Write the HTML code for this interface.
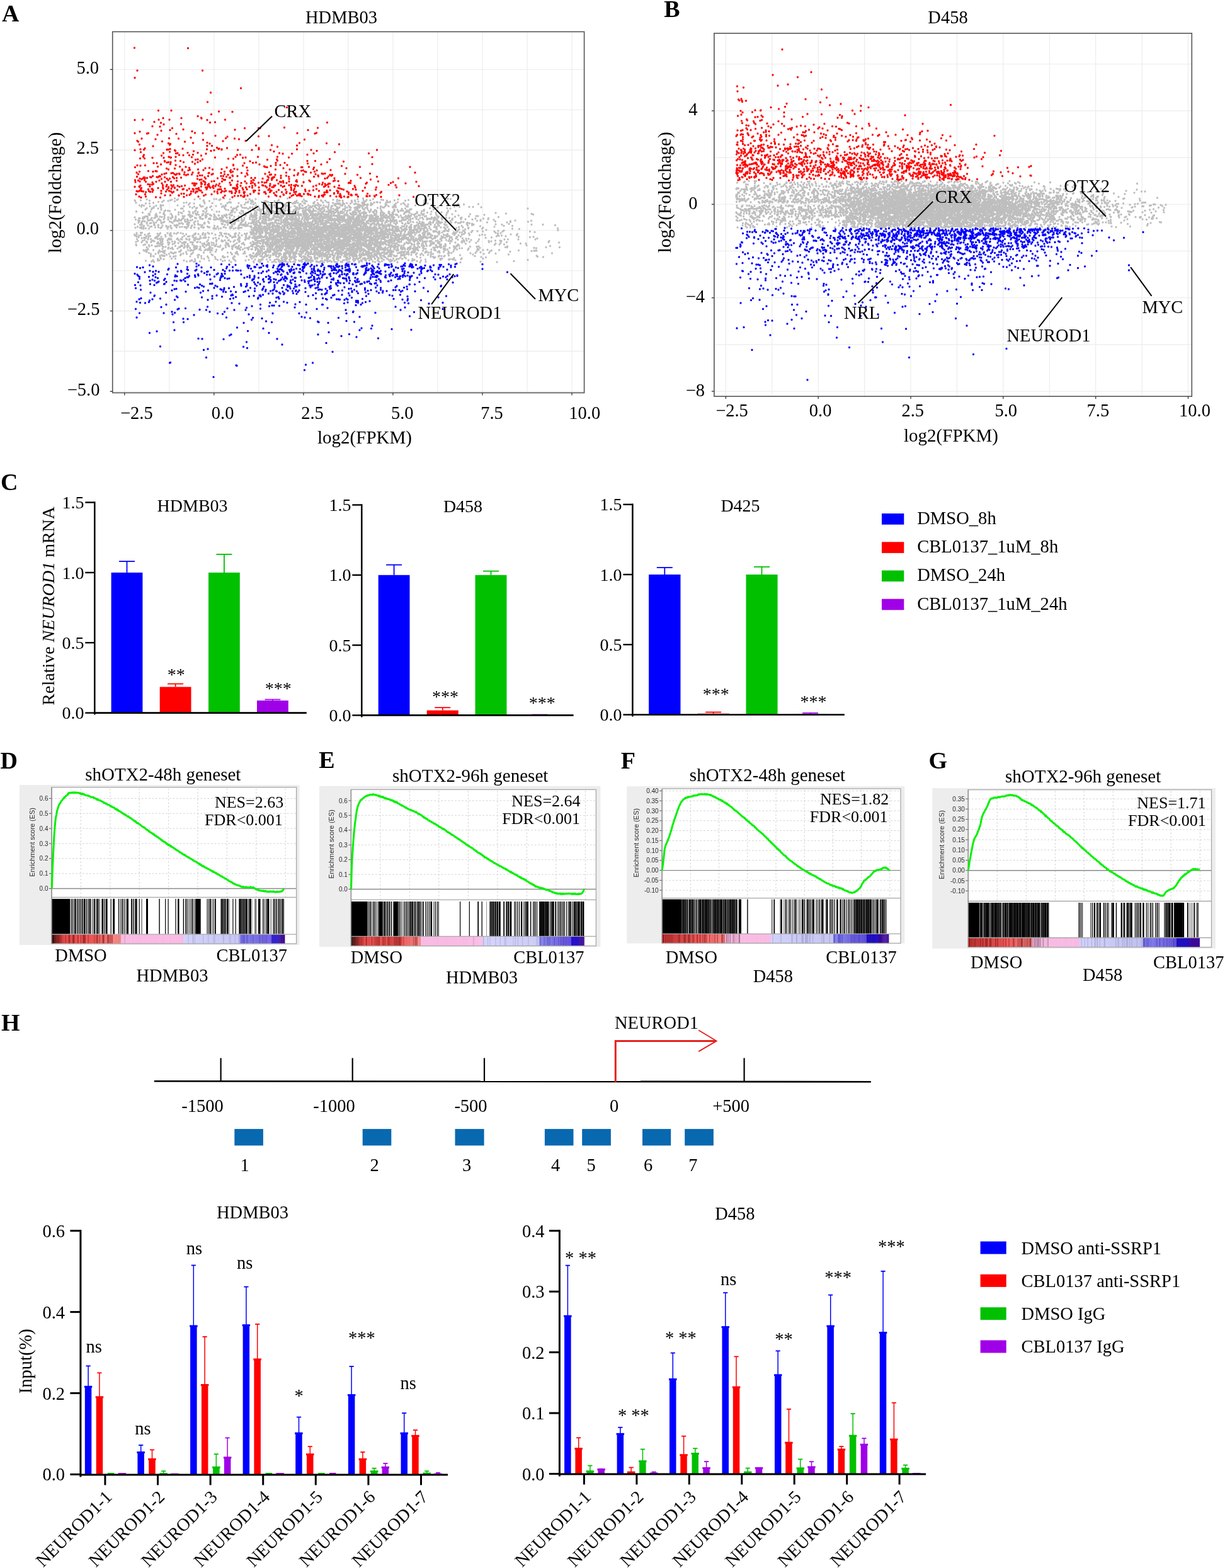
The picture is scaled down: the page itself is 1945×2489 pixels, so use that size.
<!DOCTYPE html>
<html><head><meta charset="utf-8"><title>Figure</title>
<style>
html,body{margin:0;padding:0;background:#fff;}
svg{display:block;}
</style></head>
<body>
<svg width="1945" height="2489" viewBox="0 0 1945 2489" font-family="'Liberation Serif', 'Times New Roman', serif">
<line x1="197.8" y1="50.4" x2="197.8" y2="623.5" stroke="#ebebeb" stroke-width="1.1"/>
<line x1="268.8" y1="50.4" x2="268.8" y2="623.5" stroke="#ebebeb" stroke-width="1.1"/>
<line x1="339.8" y1="50.4" x2="339.8" y2="623.5" stroke="#ebebeb" stroke-width="1.1"/>
<line x1="410.8" y1="50.4" x2="410.8" y2="623.5" stroke="#ebebeb" stroke-width="1.1"/>
<line x1="481.9" y1="50.4" x2="481.9" y2="623.5" stroke="#ebebeb" stroke-width="1.1"/>
<line x1="552.9" y1="50.4" x2="552.9" y2="623.5" stroke="#ebebeb" stroke-width="1.1"/>
<line x1="623.9" y1="50.4" x2="623.9" y2="623.5" stroke="#ebebeb" stroke-width="1.1"/>
<line x1="694.9" y1="50.4" x2="694.9" y2="623.5" stroke="#ebebeb" stroke-width="1.1"/>
<line x1="766" y1="50.4" x2="766" y2="623.5" stroke="#ebebeb" stroke-width="1.1"/>
<line x1="837" y1="50.4" x2="837" y2="623.5" stroke="#ebebeb" stroke-width="1.1"/>
<line x1="908" y1="50.4" x2="908" y2="623.5" stroke="#ebebeb" stroke-width="1.1"/>
<line x1="178.7" y1="621.3" x2="927.6" y2="621.3" stroke="#ebebeb" stroke-width="1.1"/>
<line x1="178.7" y1="557.4" x2="927.6" y2="557.4" stroke="#ebebeb" stroke-width="1.1"/>
<line x1="178.7" y1="493.6" x2="927.6" y2="493.6" stroke="#ebebeb" stroke-width="1.1"/>
<line x1="178.7" y1="429.7" x2="927.6" y2="429.7" stroke="#ebebeb" stroke-width="1.1"/>
<line x1="178.7" y1="365.8" x2="927.6" y2="365.8" stroke="#ebebeb" stroke-width="1.1"/>
<line x1="178.7" y1="301.9" x2="927.6" y2="301.9" stroke="#ebebeb" stroke-width="1.1"/>
<line x1="178.7" y1="238.1" x2="927.6" y2="238.1" stroke="#ebebeb" stroke-width="1.1"/>
<line x1="178.7" y1="174.2" x2="927.6" y2="174.2" stroke="#ebebeb" stroke-width="1.1"/>
<line x1="178.7" y1="110.3" x2="927.6" y2="110.3" stroke="#ebebeb" stroke-width="1.1"/>
<path d="M372.5 354.5h0m145 34h0m28-31.5h0m-295.5 19h0m145.5 1h0m287.5-25h0m-381 55h0m72 7h0m329-37.5h0m-152 34.5h0m-71-63.5h0m41 47h0m42-41.5h0m-114 32h0m-65-28h0m221-23.5h0m-39.5 40.5h0m-44-21h0m95 5h0m-85 9h0m235.5 30h0m-344.5-48h0m110 33.5h0m-19 13h0m-38.5-48.5h0m68-11.5h0m-108.5 44.5h0m176 5h0m30-5h0m-267.5-43h0m135.5 39.5h0m-58.5-33.5h0m-132.5-17.5h0m340.5 70.5h0m-160-39.5h0m-103 56h0m171.5-39.5h0m-145 1h0m240.5-21h0m-234.5-13h0m-172 70.5h0m165-35h0m52-8.5h0m36.5 12h0m156.5 7.5h0m-92-28h0m-103 29.5h0m-235.5-16h0m167.5-41h0m446.5 37.5h0m-342.5 19.5h0m65-35h0m-289 16.5h0m-25.5-25h0m372.5 53h0m-87.5-2h0m-81.5 19.5h0m3-75h0m-138.5-17h0m83.5 10h0m-163.5 21.5h0m381.5 13h0m-118 12.5h0m-137.5-32h0m216.5 30.5h0m-169 23h0m-127-66.5h0m253 12.5h0m113.5 11.5h0m-410-6h0m363.5 31h0m-195.5-16h0m-86.5-8.5h0m-93 42h0m219-15h0m128 17h0m-67.5-62.5h0m117 70h0m-205.5-2h0m35.5-9.5h0m-20-30.5h0m315.5 25.5h0m-63.5-65h0m-224 22.5h0m28.5 29.5h0m-37-14.5h0m127.5-3.5h0m-325.5 41h0m34-29h0m192-4.5h0m-52.5 21.5h0m191-16h0m-41-12.5h0m-57.5 24.5h0m32-13h0m9.5 32.5h0m30-52h0m80.5 34h0m-285.5-60h0m155.5 56.5h0m-162-70h0m111.5 71h0m102-26h0m53.5 19.5h0m-63.5-20h0m-335.5 30.5h0m218.5 12h0m-73-33.5h0m469.5 20.5h0m-482.5-60.5h0m47 22.5h0m38.5 11.5h0m-186 7h0m352 7.5h0m-87-32.5h0m-153 19.5h0m115 8h0m-205 17.5h0m235.5-21h0m-115 11.5h0m-170.5-8.5h0m94-45h0m176.5 60h0m22.5-0.5h0m-89.5-45.5h0m91.5-1.5h0m-83-8h0m-99.5 59h0m88-30.5h0m24.5 29h0m182.5-27h0m-313 50.5h0m-35.5-41.5h0m213-29.5h0m189.5 26.5h0m-58 23.5h0m-91.5-47.5h0m-277 10h0m314.5 26.5h0m-42.5-8h0m-178.5 2h0m117-35.5h0m-232 67h0m334-49.5h0m-29.5 40.5h0m31-70.5h0m-17 14h0m-148 8.5h0m159 46h0m-165.5-38.5h0m-56.5-22.5h0m103 35.5h0m31-18.5h0m-64.5-12h0m93.5 3.5h0m-0.5 16.5h0m-110-0.5h0m115.5 49h0m-75-27h0m109.5-32h0m-131.5-26.5h0m154.5 45h0m-115.5-26.5h0m39 31h0m34 28h0m-43.5-40h0m-80-1h0m319 34h0m-428.5-2h0m132.5-20h0m65.5 16h0m-281.5-37.5h0m150 56.5h0m209-56.5h0m-6 40.5h0m-47.5-27.5h0m106.5 51.5h0m-69-68h0m-135.5 20.5h0m100.5-2.5h0m-87 5.5h0m120 16h0m-106.5-34h0m-85.5-12.5h0m247 33h0m-74.5-15h0m17.5-11h0m-55-14h0m69 36.5h0m-100 34h0m33-41.5h0m-243.5 22.5h0m240.5-23h0m82.5-16h0m-39 37h0m34-2.5h0m-93.5-0.5h0m131.5 19.5h0m-300-24.5h0m297 29.5h0m-165-18.5h0m-153-53.5h0m223 40.5h0m-45.5 20.5h0m-7.5-70h0m135 14h0m-249-2h0m166.5 66.5h0m-57-66h0m32.5 0h0m-8 55h0m-138.5-67.5h0m142 74.5h0m117-17h0m-230 2h0m-180-22.5h0m70.5 0.5h0m208-29h0m241.5 50h0m-478.5-29.5h0m541.5 20.5h0m-283-6.5h0m-165.5 24.5h0m132-16h0m-71-42.5h0m155.5 17.5h0m-49.5 57.5h0m-76-22h0m-11.5 18h0m198.5-10h0m-44-1.5h0m-97 17.5h0m-8.5-49h0m95.5-12.5h0m152 22.5h0m-425 10h0m89-17.5h0m75.5 33h0m42-52.5h0m-216.5 19h0m-22.5 18h0m147.5-18h0m56.5 10h0m102.5-4.5h0m-39.5 14h0m-297.5 30h0m20-93h0m234 66.5h0m140.5-7.5h0m27-3h0m-193.5 13.5h0m174-18.5h0m31.5 36h0m-193-21h0m98.5 25h0m-111-31.5h0m-79-57.5h0m139 54h0m-216.5 16.5h0m241.5 20.5h0m49.5-53.5h0m59.5 34h0m-169.5-36.5h0m-144 31h0m303.5 1h0m-20-12.5h0m89.5 37h0m-188.5-73h0m23 67h0m-85.5-37h0m-68-12h0m42 15.5h0m126-12.5h0m-115-11h0m106 39h0m-53.5-10.5h0m-15-3.5h0m228.5-25.5h0m-326.5 49h0m109-35.5h0m-112 4h0m289 32h0m-177-31.5h0m-46 22h0m-62-16h0m137-47h0m-54.5 34h0m-118-28h0m-116.5 56h0m232-13h0m54-9.5h0m-17.5 32.5h0m138-31.5h0m8.5 14.5h0m21-13h0m-81 45.5h0m-98-17.5h0m13-61.5h0m-36 38h0m0.5 4h0m-222.5 9.5h0m342.5-41.5h0m-170.5 15.5h0m-187.5 25.5h0m257.5-23h0m71.5 4h0m-80.5 14h0m-21-49h0m83.5 20h0m-158-1h0m-176 39.5h0m315 2.5h0m-16.5-52h0m113.5 26h0m-146 22h0m110-25h0m-367.5 0.5h0m12 14h0m296-0.5h0m-113.5-27.5h0m-132.5 4.5h0m73 35.5h0m110 3.5h0m-11.5-29.5h0m65.5 38.5h0m117-33.5h0m-173.5 7h0m-65.5 31.5h0m125.5-51h0m-322.5 34h0m268-17.5h0m-21 0h0m22-36.5h0m-207.5 13h0m254.5 25.5h0m19.5-12.5h0m39 23h0m124-53.5h0m-239.5 58h0m85.5 7.5h0m-59.5-9.5h0m-75-50h0m227.5 50.5h0m-64.5 6.5h0m107.5-36h0m-78.5-18.5h0m55.5 44h0m-302-39.5h0m-138.5 41h0m186.5-55h0m72.5 73.5h0m78-23h0m-70 4.5h0m21 14.5h0m73.5-24.5h0m-292.5-30h0m265.5 51.5h0m-292.5 6h0m164-37h0m142-2h0m-12.5 31.5h0m-78.5-20h0m-34.5-28h0m165.5 54h0m-172.5-7.5h0m-195.5-3h0m185.5 21h0m-198.5-65h0m373.5 49.5h0m-249-79.5h0m382 85.5h0m-321.5-18.5h0m34.5-11.5h0m81 29.5h0m-80.5-64h0m22.5 54.5h0m-139.5-8.5h0m142.5 17.5h0m-240.5-43.5h0m184.5-31.5h0m238 39.5h0m-217-13h0m-3.5-7.5h0m120.5 0h0m81.5 38h0m-193 3h0m25.5-45.5h0m97 42.5h0m27.5-28h0m-57.5 46.5h0m-137.5-43h0m0.5 6h0m182-29h0m-17.5 41h0m82-18h0m-57-0.5h0m-106 4.5h0m-117.5-35h0m276.5 47.5h0m-81.5 20h0m-34.5-47.5h0m30.5 35h0m-84.5 1h0m-12.5-54h0m66.5 49h0m-25.5 37.5h0m64.5-17h0m112.5-4h0m-60-54h0m-144.5 29.5h0m-4.5 19h0m200.5-19.5h0m-194-37.5h0m122 43h0m-280 12h0m174.5-24.5h0m18.5 34.5h0m90.5-38.5h0m33.5-12.5h0m-247.5 14.5h0m151 25h0m3.5-16h0m-155.5 38h0m225.5-79h0m-91 66.5h0m189-22.5h0m-307 9.5h0m110.5 10.5h0m-59.5 22.5h0m91.5-52h0m-9.5 14h0m-26 0.5h0m-55.5 14h0m53-50.5h0m-38 31h0m173.5 27h0m-147.5-38h0m4 48.5h0m-68-26h0m-1.5 14h0m268.5-31.5h0m-247.5 15h0m178.5 8h0m-97.5-23.5h0m222-3h0m-361-2.5h0m291-15h0m-96.5 57.5h0m-62.5-41h0m41-36h0m4 47h0m-78 42.5h0m51.5-70h0m-123 34h0m-191-33.5h0m326 19.5h0m-56.5-10h0m154.5-14h0m-220 28h0m172-18.5h0m170 51.5h0m-127.5-5.5h0m66.5-20.5h0m-324-56h0m3 72h0m27-9h0m45.5-29.5h0m-120.5 27.5h0m40.5 23h0m-160.5-13.5h0m450.5-37.5h0m-210 53h0m75-43h0m-47.5-5h0m83.5 43.5h0m23.5-41h0m-128-21.5h0m43.5 37.5h0m-192.5 20h0m118-30h0m-23.5 0.5h0m31 1h0m5.5-13h0m72.5 36.5h0m-70 24h0m-2-6h0m156-64.5h0m-393.5 52.5h0m-9-21.5h0m65.5-21.5h0m354 23h0m-85 24h0m29-70.5h0m131.5 19.5h0m-287.5 39.5h0m248.5 25h0m-238.5-23h0m85.5-20h0m45.5 8.5h0m40-11h0m-169 3.5h0m72-13h0m-240-21h0m182 63.5h0m313.5 7.5h0m-102.5-31.5h0m-124.5 10h0m64-58.5h0m58.5 51h0m-194-19.5h0m297 10.5h0m-262-3h0m-101.5-24h0m124 41.5h0m17.5 28.5h0m29-53.5h0m-7-23.5h0m-299.5 31.5h0m290 12h0m121.5 8.5h0m-112-4h0m184.5-38h0m-229 23h0m92.5-9.5h0m-227-12.5h0m271.5 11.5h0m-158 8.5h0m146-11h0m-181.5 9h0m87.5 49h0m78-20.5h0m-52-41h0m-27.5 7.5h0m188 1.5h0m-415 37h0m17-42.5h0m191.5-25.5h0m179 40h0m-140.5-37h0m-109.5 13h0m-113.5-7h0m155.5 51.5h0m9.5-0.5h0m-3.5 0.5h0m41.5-52h0m-102-3.5h0m199.5 64h0m-194 9.5h0m-107-48.5h0m126.5-26.5h0m216.5 31h0m-287.5-18h0m47.5 10.5h0m231.5-0.5h0m-208 18.5h0m154.5-17h0m-357-15h0m382 31h0m-217.5-52h0m-23.5 77h0m176.5-17h0m214 7.5h0m-85-44h0m-125.5-5h0m79.5 50h0m119-21h0m-258 14.5h0m-141 20h0m239.5-10.5h0m-143-32h0m-26-6.5h0m56 37h0m-260 11h0m-20.5-64.5h0m208-7.5h0m98.5 30.5h0m47 32.5h0m123.5 14.5h0m-97.5-39h0m78 9.5h0m-139.5 8.5h0m30 3h0m-44-3.5h0m-226-28h0m-24-15.5h0m303 50.5h0m-173-78h0m184 15.5h0m-98 46.5h0m-285-24h0m312-26h0m-33 69h0m-195-15h0m137.5 6.5h0m16 11.5h0m12.5-49.5h0m104 26.5h0m-170.5-14h0m96 5.5h0m45 8h0m154-42.5h0m-344.5 34h0m-43.5 20.5h0m104 20.5h0m12-18.5h0m-25-31h0m-95-1.5h0m115.5 4.5h0m5.5 20.5h0m82-24.5h0m46.5-0.5h0m-80 47.5h0m-72-51.5h0m-74.5-3h0m113 27.5h0m-37.5-44.5h0m105 35h0m130 22h0m-62.5-47h0m-158.5-25.5h0m-162.5 79h0m39.5-43h0m201-9h0m-21.5 7.5h0m91-11h0m-250.5-18h0m123.5 39.5h0m128-12.5h0m-33.5 8h0m-14 38.5h0m139.5 1.5h0m-307.5-50h0m64 8.5h0m117.5 10.5h0m-0.5 45.5h0m228.5-87.5h0m-8 56.5h0m-214.5-11.5h0m52.5 33h0m-20.5-17h0m-195.5-62.5h0m167.5 39.5h0m-86 40.5h0m17.5-19.5h0m-76-16h0m-177-10h0m409.5 15h0m-53.5-15.5h0m12-17.5h0m-138.5 13.5h0m41-2.5h0m-84.5 46h0m135.5 1h0m81-75.5h0m-25 36h0m86.5 30.5h0m-244-4.5h0m131-2h0m-204.5-10.5h0m157.5-20.5h0m-177.5-9.5h0m178.5-10.5h0m0.5 28h0m-56.5 1.5h0m1 14.5h0m104 24.5h0m-65.5-54.5h0m-21 62.5h0m-138-4.5h0m98-81h0m178.5 36h0m112-7.5h0m-261-19.5h0m161.5 73h0m1.5-72h0m-216 34h0m20.5-12.5h0m125-7.5h0m-113.5 4.5h0m252 27.5h0m-233.5-8.5h0m106-5h0m-7.5-25.5h0m-151 56.5h0m214-65.5h0m-172.5 66h0m-117-38h0m-73.5-11.5h0m227.5-28.5h0m50 57.5h0m-106.5-57.5h0m179.5 39h0m-181-0.5h0m184-0.5h0m-375 19h0m189 37h0m-42-1.5h0m100.5-44h0m-28.5 9h0m13-30.5h0m145 14h0m-93-26h0m7 56h0m-60.5-30.5h0m126.5 24.5h0m-94 19.5h0m71-13.5h0m82-17.5h0m-123 24h0m-49-11h0m-54.5 13h0m224.5 0.5h0m-73.5-12.5h0m13.5-17.5h0m-180.5 40h0m71-33h0m150-6h0m-211.5 16.5h0m176.5-46h0m-86.5 56.5h0m-100.5-42h0m54 29h0m-172.5 3.5h0m256.5-40.5h0m17 41.5h0m-332.5 21.5h0m208-23.5h0m139 13h0m-177-61.5h0m107.5 20.5h0m84 46.5h0m-75-84.5h0m-172 50h0m302.5 35h0m-77.5-65.5h0m-54.5 12.5h0m-67 48.5h0m72 3h0m-54-28h0m-125.5 8h0m4-36.5h0m-94 7.5h0m136.5 47h0m31 1.5h0m116.5-25h0m-15.5-44.5h0m3 56h0m76-35.5h0m-286 29h0m153.5-25h0m-173 22.5h0m181.5-22h0m-182 32h0m-15.5-4h0m46.5-3h0m142.5-39.5h0m109.5 63h0m-144-70.5h0m136.5 39.5h0m-154.5-45h0m20 80h0m56.5-37h0m-202 3h0m195.5 15h0m37 13h0m79-89h0m-335 34.5h0m325 30h0m-72.5-26.5h0m2-15.5h0m-261-9.5h0m370 46.5h0m-198 36.5h0m80.5-57.5h0m-2 16.5h0m140 38.5h0m-123-46h0m268-9h0m-380 46h0m129.5-6h0m-24-46.5h0m-17.5-12h0m31.5 17.5h0m-21 2h0m-62 26h0m87-40h0m-239 29.5h0m194-7.5h0m-7.5-5h0m-78.5 19.5h0m110.5-31h0m28.5-22h0m-196.5 64.5h0m88.5-13.5h0m-165-52.5h0m252.5 5h0m-228.5 47.5h0m116-26.5h0m71 14.5h0m1 1h0m-248.5 16h0m446.5-36.5h0m-269.5-11h0m115.5-10.5h0m-118.5 38.5h0m114.5 3.5h0m-69-29h0m-11 68h0m46.5-28.5h0m31-4h0m3-54h0m26.5 84h0m-124-34.5h0m-119-36h0m113.5-4h0m25 2.5h0m80.5 10h0m-53.5-3h0m-32 52.5h0m-125-60h0m207.5 68.5h0m-193.5 10.5h0m172-33h0m48.5 30.5h0m-19.5-5h0m-149-18.5h0m73.5-1h0m219-16h0m-368 27h0m241-6h0m-68-12.5h0m49-9h0m-61.5-9.5h0m-120.5-17h0m168 24.5h0m-313.5-15.5h0m417.5 3.5h0m-30 19h0m-127.5-6h0m46.5 32h0m-2.5-33.5h0m237.5-15.5h0m-494 35h0m188-51.5h0m34 54h0m113.5-46h0m-20.5-17h0m-88 41.5h0m-267.5 11h0m330-17.5h0m-67.5 24.5h0m-132.5 8h0m195.5-49.5h0m-51.5 16h0m-42.5-12.5h0m-13 49.5h0m76.5-50h0m-84.5 42h0m48-68.5h0m209 66h0m-184.5 6.5h0m-70-47h0m82.5 27h0m150 4.5h0m-34-3h0m-72.5 9h0m93-17.5h0m-67 30h0m-25-4.5h0m-71 3h0m-101-47.5h0m188.5-11.5h0m-30.5 45h0m178-27h0m-268 36.5h0m181.5 11.5h0m-218-3.5h0m273-51h0m142.5 4.5h0m-570 43h0m192.5-50.5h0m401 49.5h0m-133.5-23.5h0m-168-16h0m-186 37h0m-157.5-43.5h0m218 36h0m259 28h0m-87.5-56.5h0m-114 11h0m97.5-1.5h0m67.5 17.5h0m-205 12.5h0m187 16.5h0m-197.5-29.5h0m20.5 24.5h0m-197.5-25h0m133-24h0m129-5.5h0m-288 2.5h0m286.5 12.5h0m-123 12h0m183-30.5h0m-218.5-16h0m51.5 57h0m23.5-1h0m93.5 15.5h0m72.5-20h0m-21 4h0m-4-68.5h0m-19 17h0m-39 78.5h0m-58.5-62.5h0m-60 26.5h0m227 16h0m-146.5-27h0m67.5 27h0m-260-36.5h0m178 1.5h0m-138.5 27.5h0m136.5-56h0m110 40h0m-114.5 27h0m98-41.5h0m-203-17.5h0m118.5 59.5h0m7.5-25.5h0m28.5-6h0m-88.5-18.5h0m142 65.5h0m75.5-42.5h0m-35 0.5h0m-361.5 42h0m261.5-30.5h0m-42.5-52h0m66 61h0m-220-45h0m266 60h0m-90-47.5h0m204 25h0m-460-29.5h0m256.5 24h0m19.5 14h0m108.5-48.5h0m-29.5 37h0m-180.5 18h0m48-8.5h0m125.5-7h0m-91-11.5h0m-50-1h0m240 25h0m-57-6.5h0m-152.5-12h0m56 5.5h0m152.5-43h0m-257 49h0m240.5-23h0m-17 27h0m-67.5-63.5h0m-13 62.5h0m0-41h0m-40-11.5h0m10.5 5.5h0m-121 46.5h0m115.5-5.5h0m31 23.5h0m-52-41h0m54-15.5h0m-62 17h0m105 28h0m-30-33h0m-256-10h0m273 8h0m-145.5 19h0m-137-19h0m48.5 28h0m101.5 10.5h0m59-5.5h0m-57-25.5h0m-45.5 0.5h0m176 33h0m-116.5-73h0m163 11.5h0m-206.5-17.5h0m133.5 54.5h0m-95 4h0m155-17h0m-73.5-17.5h0m10-17h0m-238.5 65h0m262-16.5h0m-116-17h0m112 19.5h0m41.5-33.5h0m-264-2.5h0m-132 51h0m361-42.5h0m139.5 29.5h0m-72.5 10.5h0m-161.5-28h0m124.5-39.5h0m-380.5 78.5h0m44-9.5h0m252.5-24.5h0m-14.5 12.5h0m94.5-35.5h0m-186 39.5h0m73.5-15.5h0m295.5 1.5h0m-344.5-6.5h0m32-34h0m56.5 78.5h0m291-0.5h0m-425 4h0m158.5-33h0m-78-12h0m-4-12h0m-47 6.5h0m65.5 5.5h0m30.5-30.5h0m-51.5 53.5h0m32.5-32h0m35.5 48.5h0m77.5-22h0m-98-1h0m-50.5-27.5h0m237 35.5h0m-312.5-20.5h0m-137.5 3.5h0m396 3.5h0m-221-32h0m-48 35.5h0m87-4h0m-13 8.5h0m3.5-1h0m156.5-73h0m-177.5 24.5h0m-77 9h0m49.5 49h0m278-26h0m-207.5-37.5h0m-20 34h0m123.5 29h0m88.5-38h0m-169-25h0m95 75.5h0m-170-50h0m28.5-19.5h0m64.5-23h0m-103.5 56.5h0m14 12.5h0m-34-22.5h0m29.5-18h0m182-22h0m-19 54h0m-252.5 29.5h0m118.5-67.5h0m108 73.5h0m55-20h0m-102-1h0m48.5 0h0m-147.5-34.5h0m167 44h0m15.5-32h0m-127-28h0m-56.5-0.5h0m-179-16.5h0m298 60h0m0.5-33h0m-339 8.5h0m308.5 7h0m169-1h0m-442 12h0m132.5-26h0m-96.5 45.5h0m213.5-48h0m-15.5-28h0m157.5 48h0m-345-19h0m123.5 2.5h0m271.5 6h0m-454-11h0m205.5 19.5h0m44 14h0m-273.5-65h0m239.5 92.5h0m92.5-68.5h0m3.5 57.5h0m-2-38.5h0m12 41.5h0m-10.5-36.5h0m-291.5 33h0m303 4h0m-20-67h0m-113 57h0m67.5 2.5h0m-59.5 8.5h0m205.5-28h0m-190.5 0h0m-46.5-23.5h0m204 42.5h0m-13 15h0m37.5-33h0m-65-27h0m-73.5 3.5h0m17 50.5h0m22-14h0m11-24.5h0m155.5 24h0m-254-48.5h0m152 28.5h0m-362.5 9.5h0m181.5-15h0m282-10.5h0m-258 36.5h0m80.5 18.5h0m152-13.5h0m-112.5-42h0m-46 19.5h0m60.5-19.5h0m184 30h0m-63.5-26.5h0m-283 29.5h0m-26.5 0.5h0m67.5-11h0m-61.5-4.5h0m204 11h0m28-8.5h0m-237-34.5h0m-81.5 49h0m160-3.5h0m105-21.5h0m27.5-42h0m-91 23.5h0m49 65h0m118-46.5h0m-26-18.5h0m-288.5-4h0m219-18h0m22 28h0m65.5 22.5h0m-171.5-15h0m-93.5 33.5h0m109.5 10.5h0m-30.5-82h0m7.5 92.5h0m123-27h0m-50.5-42h0m8.5-1.5h0m-8.5 13.5h0m-172-25.5h0m-101 49.5h0m200.5 20h0m144-78.5h0m-72.5 40.5h0m47 23.5h0m-54.5-32h0m52 43h0m243-55.5h0m-267.5 72h0m58.5-22.5h0m106.5-11h0m-156 1.5h0m26.5 30h0m-302.5-69.5h0m-52 7h0m419 25h0m-243.5-15.5h0m24 31h0m-79-50.5h0m174.5 53h0m-303.5 9h0m357.5-20.5h0m-152 1h0m132-16h0m79.5-8h0m-97-31h0m-75 88h0m55.5-32.5h0m82-14.5h0m-56-30h0m-137 7h0m-217.5 26h0m424.5 11h0m-96.5 2h0m-258 3h0m238.5-6h0m10-15.5h0m-86.5 45.5h0m196-61h0m-215.5 29h0m-45.5-4h0m70.5 8.5h0m9.5-5h0m180-7h0m-89-14.5h0m-197-10h0m123 50h0m-146 12.5h0m235-63.5h0m57.5 45h0m-303.5-29h0m187.5 6h0m-80 49.5h0m14.5-62h0m137.5 35h0m165-42h0m-304.5 33.5h0m79-9h0m-68.5 23h0m-169-8.5h0m254-14h0m-145.5-23h0m170 3h0m19.5 41h0m-201 9h0m155-41.5h0m-120-26h0m171.5 52.5h0m-142.5-1.5h0m118 0h0m-12.5-22.5h0m-20-18h0m-111 55.5h0m196.5-40h0m-148.5-30h0m123 25h0m-87.5 39.5h0m-8 19.5h0m75.5-43h0m-107.5-38.5h0m124.5 16.5h0m-93-19h0m85.5 52h0m-14.5-12h0m126 22h0m-208-36.5h0m-18 22h0m362.5 11.5h0m-313.5-6.5h0m-28-27.5h0m80-8.5h0m-134.5 2h0m275.5-33h0m-123 34.5h0m-33.5 47.5h0m-104-58h0m158 55.5h0m62.5 4.5h0m-69.5-49h0m64 36h0m-341 1.5h0m259-3h0m52-9h0m-129 2.5h0m-197-42.5h0m215.5-0.5h0m-92 42h0m-182.5-52.5h0m435 24h0m-67-12h0m-68-9h0m35.5 77h0m-25-58h0m-58 27.5h0m-143.5-34.5h0m90 38h0m65.5 11.5h0m20.5-67h0m-81.5 48h0m-87.5-21.5h0m100.5 14.5h0m-57-4h0m270.5-12.5h0m-256 51.5h0m58.5 12.5h0m42-73h0m-88.5 22h0m75.5 23h0m16 6.5h0m-257 17.5h0m426.5-29.5h0m-173.5-56h0m-135 36.5h0m378.5 6.5h0m-365.5 20.5h0m177-43.5h0m-70.5 7h0m-70 16h0m40 28h0m29.5-3h0m-32 8.5h0m-41.5-62.5h0m55 35.5h0m5.5-21h0m71 64.5h0m-151-55h0m-148.5 12h0m353-3h0m-323-26h0m253 3h0m-22.5 46h0m218-36.5h0m-333.5 27h0m236.5-19h0m-278-33h0m33.5 36.5h0m152.5 15h0m-155-54h0m136 32h0m25.5 29h0m-198-30h0m236.5 4.5h0m-109.5 15.5h0m234.5 26h0m-502.5-44.5h0m84 33.5h0m238.5 9h0m-108-31h0m47.5 22.5h0m177.5 10h0m-195.5-40.5h0m-193.5 46.5h0m111.5 3h0m143-29.5h0m67-37h0m-6.5 18.5h0m-83.5-0.5h0m-74-27.5h0m-63.5 13.5h0m57.5 39.5h0m-9.5 10h0m246-19h0m-175-18.5h0m-133 12.5h0m197.5 4.5h0m-50 9.5h0m-255.5 1h0m512.5 10h0m-62-7.5h0m-256.5-72h0m179 22h0m-118.5-10h0m61.5 37h0m-6 7h0m24.5-27h0m-84 34h0m-107-52.5h0m217 38h0m-110-19.5h0m0.5 46h0m92.5-74.5h0m-24 46h0m230-9h0m-314.5 36.5h0m69.5-2h0m-236.5-48.5h0m35 70h0m88.5-78h0m9 54h0m51.5-45.5h0m-70.5 47.5h0m258.5-18h0m-193-4h0m-13.5-24h0m178.5 49.5h0m-54.5-38.5h0m-10 7.5h0m73.5-12h0m-85 44h0m-127-24h0m261 18h0m-472.5-14h0m411-32.5h0m-164-6h0m-25 62h0m40.5-22.5h0m-21.5-2.5h0m148 24h0m-25-15h0m-22 19h0m-156.5-46.5h0m67.5 44h0m-193-78h0m280.5 41.5h0m-321.5-16h0m221 7h0m-90 30h0m234.5-50h0m42.5 33.5h0m-221 40.5h0m189.5-65.5h0m-232.5 22.5h0m167 7.5h0m-137.5-3.5h0m62-18.5h0m45.5 22.5h0m-73.5-17h0m-55 4h0m122.5 27h0m65-46h0m237-3h0m-379 2h0m-22 28.5h0m-133.5-24.5h0m113 59h0m-176-13.5h0m193.5 8.5h0m143-9h0m-227-49h0m202 56h0m-102-5h0m-24 23.5h0m81.5-22h0m-13.5-31h0m3-14.5h0m-143.5 22.5h0m176-23.5h0m127-9.5h0m-437 14h0m89.5 4.5h0m226.5 14h0m-77.5 16h0m-23-5.5h0m354-11h0m-334.5 24.5h0m216 5h0m-126.5-9h0m-298-16.5h0m194-20h0m-137.5 42h0m220 14h0m138.5-64h0m-387 4h0m-31-7.5h0m2 32h0m197.5 40h0m-43-84.5h0m327.5 15.5h0m-133 45.5h0m93.5-27.5h0m-154-20.5h0m78.5 26.5h0m-40.5-29.5h0m-122.5 18h0m105 22h0m-106 7h0m54-11.5h0m111 16.5h0m-190-37h0m-19.5 10h0m223 15h0m-125 22.5h0m-98.5-37h0m54.5 17.5h0m-12.5-21h0m207.5 36h0m-148.5-44h0m166 22h0m-166.5-58h0m184 74h0m-20.5-69.5h0m-136.5 81.5h0m67.5-30.5h0m-150.5-43h0m-96.5 0.5h0m189.5 75.5h0m-263-25.5h0m225-38.5h0m42 20.5h0m46.5-16h0m61.5 13h0m-236.5-32h0m217.5 50h0m-122.5 23.5h0m34.5-11.5h0m-44.5-18h0m123.5 24.5h0m-172.5-24.5h0m-234-2h0m398 10h0m-59.5-7.5h0m17.5 10h0m-212.5-48h0m55.5 33.5h0m129-18.5h0m38 62.5h0m-27.5-41.5h0m-18.5 14.5h0m16.5 4h0m-165.5-34.5h0m109 54.5h0m-36.5-61.5h0m119 3h0m-64-12h0m58.5 45.5h0m-8 20.5h0m91.5-49.5h0m-30 19.5h0m-355.5-31h0m285.5 32.5h0m-83.5-42h0m-141.5 14h0m172.5 33h0m116 11.5h0m-20-4.5h0m-262.5 24.5h0m76-46h0m151.5-9h0m160 1h0m-422.5 21h0m14-58.5h0m248.5 73.5h0m-23.5-11.5h0m64.5-30.5h0m-194.5 32h0m97-34h0m93.5 27.5h0m-126-9.5h0m5 11.5h0m-233.5-51.5h0m353 39.5h0m-105.5 25.5h0m-20.5-26h0m78.5-30h0m72 26.5h0m7 36h0m-168.5-7h0m76 7.5h0m-62-68.5h0m140.5 34.5h0m-19-19.5h0m-44 1h0m56 32.5h0m-98.5-40.5h0m17 35h0m-133.5-18.5h0m173-39h0m-123.5 57.5h0m81.5 9h0m-319 4h0m272.5-21.5h0m61 42h0m4-28h0m-18-10h0m-94.5 9h0m119.5 13.5h0m2-69h0m-20 44h0m-60-12h0m-84-1.5h0m135 31.5h0m-254.5 15h0m394-61.5h0m-198 6h0m-23 24.5h0m52-1h0m-161-6h0m307.5 12h0m112-16h0m-143.5-2h0m-81 21h0m157 14h0m-227-65h0m40 59h0m-100 4.5h0m88.5-44h0m186 24.5h0m-119 6.5h0m-33 34.5h0m-2.5-9h0m27-69h0m-7 48h0m-43.5-42h0m16.5 63.5h0m-181-63h0m162 27.5h0m64.5 16h0m-136.5 7.5h0m20-59h0m161.5 35.5h0m-230-11.5h0m37-13h0m198.5 56h0m-253.5-78.5h0m94.5 26.5h0m210.5 9h0m-175.5-3.5h0m123.5 36h0m-20.5-14h0m-357-26h0m189.5 36h0m241-49.5h0m-204.5 11h0m25.5-16.5h0m198.5 78.5h0m-339-92h0m391 65.5h0m-182.5 10h0m-5.5-13.5h0m-338.5-59.5h0m339 38h0m65 2h0m-131-18.5h0m-182-10.5h0m71-1.5h0m-65.5 5.5h0m182.5 27.5h0m123-5.5h0m-329 47.5h0m203.5-29h0m-1.5 18h0m-1-19.5h0m37-5.5h0m2 25h0m-105.5-7.5h0m185.5-44h0m-85 40h0m-48-10.5h0m251-43.5h0m-149 35h0m-172.5-23.5h0m331 22.5h0m-196-6h0m-68-16.5h0m-35.5 39h0m-136.5-36.5h0m139 44.5h0m16-2h0m18-30h0m323 32h0m-252-37.5h0m-126 28.5h0m63.5-41.5h0m18 66h0m-180.5-54h0m191 36h0m11 32.5h0m148-34.5h0m-169-21.5h0m72-20.5h0m-3 45h0m-158.5-26h0m126.5 15.5h0m-32.5 42h0m-99.5-36.5h0m-160-49h0m600 26.5h0m-517 20.5h0m325 16h0m-173-17h0m-163 28.5h0m410-37h0m-163.5-26.5h0m-72 54h0m135.5-44.5h0m-49 23.5h0m-83.5 18.5h0m86.5-23h0m7 12h0m-178.5-19.5h0m171.5-18.5h0m93 33h0m-102.5-34h0m38.5 19.5h0m196.5 29h0m-197.5-49h0m-98.5 4h0m25.5 28h0m62-13h0m-43 54h0m-251-18.5h0m-13.5-20h0m159-12.5h0m168.5-28h0m-188 57h0m35 7h0m155-2.5h0m-246-9.5h0m78-19.5h0m-8.5 46.5h0m-169-71.5h0m315 67h0m-124-20.5h0m27-12.5h0m-23-6.5h0m-172 44h0m332.5-49.5h0m-249.5-7.5h0m73.5-8.5h0m128 42h0m-107.5-25h0m46.5-7.5h0m-52.5-12h0m67-11.5h0m-71 6h0m42 11h0m-280.5 32h0m8 15.5h0m287-47.5h0m96.5 12h0m254.5 20h0m-260.5-9.5h0m-86-28h0m33 1h0m8 42.5h0m18.5 20h0m232 4h0m-344-27.5h0m30.5-4.5h0m99 28h0m-174.5-67.5h0m-93.5 3.5h0m326.5 47h0m-426-50h0m423 33h0m15-17.5h0m-266.5 4h0m187.5 12.5h0m-139-29h0m-6.5 6.5h0m328.5 29.5h0m-123.5-22h0m-56.5 29.5h0m-96.5-15.5h0m285.5-14.5h0m-248 0h0m227 48h0m-182.5-51h0m-308.5 44.5h0m335.5-34.5h0m17.5-13h0m22.5 59h0m-97-9.5h0m-290-62.5h0m379 24h0m-145 10h0m-76.5-31h0m5 46.5h0m-3 15.5h0m195-40h0m-311 18.5h0m369.5-12.5h0m-439.5-14h0m347-4h0m-149.5-7.5h0m89.5 19.5h0m-111.5 0.5h0m250.5-2.5h0m-260.5-11.5h0m108 38.5h0m39-32h0m-43 34h0m-77.5-3.5h0m27.5-13.5h0m234-28h0m-320-6.5h0m-132.5-2h0m431 2.5h0m-15 29.5h0m-82-0.5h0m-60-39h0m197.5 58.5h0m-214.5 12.5h0m-263-26h0m269.5 30h0m26.5-57h0m5 46.5h0m122 4.5h0m-354-46.5h0m334.5 46.5h0m-109.5-6h0m61 1h0m-92-33.5h0m-36.5 31h0m13-5h0m-20.5-9h0m56-8.5h0m39.5 10h0m78 3h0m-213 20.5h0m94.5-16.5h0m22.5-17h0m90.5 10.5h0m-39-36.5h0m-26.5 26h0m15-12.5h0m-63.5 29.5h0m109 4.5h0m13.5-64h0m-89.5 77h0m-177-72.5h0m138 63h0m-51.5-40.5h0m-28.5 54.5h0m39.5-49.5h0m161 5.5h0m-144-24.5h0m24.5 51.5h0m-14-36.5h0m-70-14h0m123.5 24h0m-43.5 24.5h0m196.5-15h0m-140.5 35h0m208-14.5h0m-122-28h0m-120.5 6.5h0m-281-29h0m191 23.5h0m-64-19.5h0m225.5 27.5h0m-203.5-28.5h0m174.5-30h0m-92.5 83.5h0m47-32h0m81 16.5h0m-136.5-27h0m-49-3.5h0m45.5 41h0m244.5-27.5h0m-165.5-2h0m-79 9h0m-60.5-20h0m-93.5-32h0m169.5 31.5h0m80 24.5h0m-43.5-14h0m109-48.5h0m220.5 68h0m-298-44.5h0m-64.5 50.5h0m135-16h0m-283 9.5h0m270-22h0m54.5 16h0m-48.5 13h0m-264-4h0m203.5 11.5h0m70.5 2.5h0m-118-12h0m136-68h0m-223 33h0m120.5 9.5h0m8 5.5h0m71-22.5h0m-112.5 42h0m-49.5-16.5h0m135.5-48.5h0m-223 35h0m124 24.5h0m29.5-28.5h0m95.5-6h0m-108 28.5h0m38.5 30.5h0m33-45h0m-1-14h0m157 2h0m-216.5 36.5h0m30 11h0m-299-25.5h0m178.5 27.5h0m22.5-13.5h0m-14.5-25h0m98-1.5h0m-103-8h0m117 44.5h0m83.5-23h0m-315.5 27h0m132.5-21.5h0m79.5-20h0m-245 19h0m118-3h0m148.5-33.5h0m-49.5-3.5h0m174.5 17h0m-126.5 0.5h0m56.5 22.5h0m-121 11.5h0m10-74.5h0m151 62.5h0m-84 11.5h0m122-34h0m-230.5 19h0m-85-47.5h0m211.5 63.5h0m-199-1.5h0m-59.5-12h0m177.5-50h0m84 19.5h0m-93.5 18.5h0m115 5h0m-87-7.5h0m-52.5 37.5h0m75-42h0m19 28h0m-149.5-28h0m146 13.5h0m-136.5-13h0m326.5 24h0m-206.5-37.5h0m-104 16h0m-155 26h0m159-28h0m37.5 22.5h0m74-20.5h0m25.5-13h0m14.5 37.5h0m-77-13h0m52.5-2.5h0m-21 0.5h0m-76-57h0m-28.5 48h0m61 42.5h0m82.5-35.5h0m-192 11.5h0m175.5-48.5h0m-315 51.5h0m173.5 17.5h0m151.5-49.5h0m47.5 35h0m-15.5-4h0m-27.5-4h0m-128 13h0m352.5-10.5h0m-248.5 3.5h0m123-10h0m22-18.5h0m-254.5-37.5h0m300.5 52h0m-421-30.5h0m240 52h0m-113-62h0m-111.5 78.5h0m206-46h0m-111.5 19h0m178.5-11.5h0m-97-42.5h0m-59.5 79.5h0m-219-81.5h0m343.5 73.5h0m-16.5-4.5h0m56-30.5h0m-127.5-11h0m188-6h0m-428.5-26h0m431.5 79h0m-79-30.5h0m-255-28.5h0m450 24.5h0m-465-35h0m265.5 39.5h0m-153.5 9.5h0m133.5-11h0m54-34h0m-265.5 6h0m106 63.5h0m191.5-40.5h0m-146-10.5h0m-112.5 14.5h0m-76.5-33.5h0m43.5 48.5h0m-20.5-36h0m130.5 28.5h0m124.5 37.5h0m-96-53.5h0m-168 10.5h0m138.5-44.5h0m38.5 13.5h0m-10.5 19.5h0m53.5-9h0m12-3h0m22 32.5h0m-62.5-44h0m-276.5 21.5h0m346.5 29.5h0m5-15.5h0m-19-17h0m-84 22h0m152-24h0m-318 48.5h0m253.5 6h0m-43.5-88h0m30.5 36.5h0m-276 42h0m434.5 13h0m-481 3.5h0m158.5-14.5h0m112-63.5h0m15.5 18h0m-127-20h0m42.5 69h0m218.5 2.5h0m-207-33h0m37.5 37.5h0m-150.5-26.5h0m184.5 6h0m38.5-8.5h0m13 26.5h0m-154.5-43.5h0m46.5 6.5h0m80.5 42h0m183.5-17.5h0m-146-46.5h0m-170-1h0m-132-25.5h0m171 80h0m59-51h0m-78 16.5h0m157.5 43h0m-163-51.5h0m-75.5 1.5h0m179 32.5h0m48.5 12h0m-172-20.5h0m46.5-24.5h0m-25.5 1.5h0m-193.5 14h0m319 10h0m-291-0.5h0m270.5-32h0m4 16h0m-26.5 30h0m-258.5-38.5h0m-6.5-8h0m261 39h0m-7-3.5h0m-281.5-3h0m-6-37.5h0m372 38.5h0m-133.5-10.5h0m114-3.5h0m-160-44.5h0m26 28h0m213.5-29h0m-240 82h0m72-28h0m26 17h0m61-27h0m-114-12h0m94.5 21.5h0m-129.5-40.5h0m139 54h0m-328-33.5h0m174.5 8h0m-124.5 18.5h0m50-37.5h0m250 17.5h0m-83 20.5h0m95.5 6.5h0m146.5-35.5h0m-335 16.5h0m183-34h0m144 14h0m-280.5 55h0m-150.5-14h0m196.5-22.5h0m22.5 20.5h0m41.5 10h0m-34-8.5h0m-78.5-63h0m-54.5 43h0m67-56h0m38 32.5h0m-95 63h0m43.5-53.5h0m193-27h0m-154.5 7h0m-127.5 63h0m195.5-27h0m-88.5 13h0m46.5-64.5h0m-35 73.5h0m-131-83.5h0m230.5 98.5h0m-50-15.5h0m263.5-32h0m-580.5-16h0m319.5 19h0m-42.5-42h0m3-6.5h0m82.5-3h0m-145 58.5h0m52-28h0m-110.5 25.5h0m157.5-41.5h0m-36 61h0m-232.5-8h0m165-5.5h0m55.5 8h0m38.5-60.5h0m-197 80h0m221-10.5h0m66 10.5h0m-148-32.5h0m-171 18.5h0m96.5-55.5h0m201.5 10h0m-68.5 31h0m-145.5-17h0m25-17.5h0m217 18h0m-55.5-32h0m5 44h0m-186.5 28.5h0m421.5-47h0m-366.5 56.5h0m34-21h0m-41.5-32h0m263 13h0m-143-29h0m-21.5 18h0m-39 55.5h0m86.5-50h0m-71 39.5h0m-2-74.5h0m-108.5-12.5h0m221 22h0m-322.5 39h0m369.5-28h0m6.5-17h0m-148.5 11h0m-120-4.5h0m23 6h0m-41.5 9h0m189-35h0m-97 83.5h0m293.5 3.5h0m-300-13h0m-4-68.5h0m100 54h0m79.5 14.5h0m-122 2h0m-160-46h0m42.5 18.5h0m172-31h0m17 43.5h0m208.5-29.5h0m-267 45h0m64.5-40h0m-36-28h0m-35 49h0m81.5-2.5h0m-191-33h0m-23 52h0m62-9h0m23.5 2.5h0m220-22h0m-84.5 45h0m-31-79.5h0m66 37h0m-171-2h0m296.5 9.5h0m-114-3h0m-252.5-13h0m68.5-25h0m-22 63h0m-43-52.5h0m274 30.5h0m-205 2h0m155-19.5h0m-97.5-35h0m-255 61h0m210 4h0m103-30h0m-138 5.5h0m-8.5 33h0m-125-3h0m180-11.5h0m186 23.5h0m-459-67.5h0m414.5 42h0m-107-12.5h0m-94 3.5h0m209 9h0m22.5 8.5h0m62-46.5h0m-237 5.5h0m-14-19.5h0m70 48h0m90-12h0m-179.5-3h0m-5.5 20h0m23-8.5h0m-251 41h0m386-8.5h0m-120.5-7h0m2.5 6.5h0m46-45.5h0m58.5 2.5h0m-37-1.5h0m-107 19h0m-13-37h0m12.5 3h0m58.5 10h0m87 26h0m-390.5-64.5h0m323 89h0m82-50.5h0m-94 54h0m-51-72.5h0m27 32.5h0m11.5 19.5h0m30.5-0.5h0m-244.5-17h0m298.5 28.5h0m-74.5-47h0m-82-13h0m222.5 31.5h0m-184-39.5h0m111.5 40.5h0m-143-17h0m74 36.5h0m-115-40.5h0m32.5 32.5h0m19-29.5h0m-77 3.5h0m204 45h0m-90.5-31.5h0m-31-4.5h0m68 25h0m-108.5-16.5h0m67.5-30.5h0m36.5-8.5h0m13 33.5h0m-53.5 24h0m92.5-43.5h0m52-29h0m83.5 56h0m-189.5 19h0m192.5-31.5h0m-34.5 1.5h0m-131.5-20h0m-181.5 36.5h0m177-61h0m-30 23.5h0m49 55h0m-128-59h0m376 33.5h0m-350.5-23.5h0m413 13h0m-436.5 5.5h0m62-7.5h0m57 21.5h0m-125 9.5h0m47.5-15h0m72 1.5h0m29-19.5h0m81.5 6.5h0m-141.5 13h0m191-28h0m-271.5 21h0m96-25.5h0m46 5h0m-275.5 3.5h0m286.5 0h0m13 56h0m-82.5-84.5h0m144-5.5h0m-104.5 31.5h0m-95.5 33h0m133-34.5h0m-89 29.5h0m46.5-56h0m226.5 56h0m-222.5 23h0m27.5-9.5h0m15-2.5h0m-195.5-43.5h0m-159 52h0m47.5-45.5h0m199 26h0m220-40.5h0m-225.5 30h0m176.5-5h0m-223.5-40.5h0m-67 29.5h0m102.5 31.5h0m137.5-8.5h0m103-33h0m-203 15.5h0m-45.5 33h0m121.5-55h0m-108 75h0m-38-43.5h0m134.5 29h0m-275.5 15h0m283-37h0m110-6.5h0m-368.5 1h0m260.5 16h0m-359 8.5h0m125-60h0m87 45h0m426-24.5h0m-601-0.5h0m225 17.5h0m-4-15h0m-91 55h0m347-64h0m-322.5 7h0m227-14h0m-132.5 6h0m49 16h0m10.5 11h0m-22.5 10.5h0m46.5-5h0m35.5-10.5h0m-260.5 17h0m-63-35h0m180 3h0m-157.5 22h0m195 4h0m153.5-29h0m-174 47.5h0m-115.5-48h0m-48-27.5h0m168 48h0m62-11.5h0m23.5 10h0m-19-22.5h0m-85 66.5h0m137-69h0m-116 50.5h0m40-7h0m-352.5-55h0m298.5-2h0m-193 14h0m103.5-11.5h0m32.5 48.5h0m80 3.5h0m-228.5 23.5h0m269-71.5h0m-91 17.5h0m-60 16.5h0m285 31.5h0m-150-3.5h0m-93-43h0m-103.5-7.5h0m149-10h0m83.5 26.5h0m-77.5 25h0m-60 14.5h0m-107-63h0m76-19.5h0m175.5-8h0m-203 71.5h0m364.5-27h0m-183 32h0m-94-28h0m-74.5 25h0m92.5 1h0m200-18h0m-347-51h0m76.5 62h0m-127.5-33h0m272 21h0m124 33.5h0m-172.5-50.5h0m-76.5-14h0m267.5 26.5h0m-183-10.5h0m177-10.5h0m-237.5 9.5h0m-88 37.5h0m-91.5 20.5h0m145-16.5h0m52.5-3h0m96.5-43.5h0m-86.5-17h0m-62 38h0m214.5-25.5h0m-122.5 45.5h0m7-27.5h0m72 41h0m-52.5-60h0m-128.5-10h0m271.5 9.5h0m-305-2.5h0m-0.5-10h0m156-12h0m-18.5 66h0m-108.5-61h0m143.5 55h0m-238 24h0m173.5-50.5h0m190.5-1.5h0m-43.5 10h0m-112 27h0m61-36h0m-44 24h0m-129.5 8h0m202.5-24.5h0m-88-2h0m-4 26.5h0m165-29h0m-175-33.5h0m-67.5 68.5h0m29-10.5h0m37.5-25.5h0m110 17.5h0m-15-47h0m-139.5 79.5h0m26-23h0m-237.5 3.5h0m279-7h0m54.5 14.5h0m-191-13h0m135.5 23h0m-168.5-46h0m239.5-13h0m-41.5 5.5h0m104-18h0m-236 1.5h0m-45 12.5h0m129.5-7h0m-250 51.5h0m331-2h0m-196-37.5h0m-44 52.5h0m17.5-11.5h0m180-28h0m-299.5-13.5h0m219.5 31.5h0m-83-24h0m189.5 28h0m-320-60.5h0m137-0.5h0m179.5 38h0m-76 23.5h0m-166-58.5h0m449 64h0m-325-15h0m14.5-49h0m93 23h0m-72.5 8.5h0m106.5 13h0m-94.5-10h0m-89 18h0m89-12.5h0m98.5-35.5h0m-175 57h0m104 6.5h0m-15.5-78h0m33 67h0m-95.5-20.5h0m-46 11.5h0m132.5-21.5h0m67-1h0m-120.5 14h0m-127.5 24.5h0m228.5 5.5h0m-85.5-28.5h0m43.5-49.5h0m-229-4h0m263.5 58.5h0m-122.5-16h0m173 28.5h0m-215-22h0m-217.5-39h0m242.5 23h0m118-24h0m-1 56h0m49.5-17.5h0m-206-5h0m119 9h0m-238.5-9.5h0m125.5 7h0m-159-3.5h0m281.5 41h0m105-18.5h0m-112.5-24h0m0.5-4h0m117.5 28h0m-196 2h0m66-5.5h0m80 21.5h0m-195.5-76.5h0m157.5-2h0m-265 47h0m169.5-44h0m-66 20.5h0m84.5 56.5h0m-76.5-58.5h0m-131 0h0m211 23.5h0m-15.5 46h0m99-25h0m-354-27h0m323.5 11h0m-285 0.5h0m244 31h0m-274.5-2h0m429.5-64.5h0m-154.5 78h0m-3-64.5h0m-208.5 10h0m301.5-23.5h0m-158.5-0.5h0m63.5 32h0m72-32h0m24.5 39.5h0m-121 36h0m-195-70.5h0m495.5 45.5h0m-343.5-45h0m-175-24.5h0m283.5 52.5h0m93.5-22.5h0m-320.5-13.5h0m-52 11.5h0m296 49.5h0m-30-44.5h0m-94 50h0m2-32.5h0m151.5-19h0m-356.5-18h0m196 43.5h0m41.5-36h0m121.5-10h0m-137 14.5h0m-180.5 34h0m306.5-15h0m-17.5 8h0m-200-8.5h0m212.5-11h0m-32-11h0m-72 31h0m59.5-21h0m-20.5 14h0m88.5 2.5h0m100 28.5h0m-236-35h0m-144.5-15.5h0m152 18h0m66.5-20h0m-102.5 6.5h0m-42.5-5.5h0m25.5 42.5h0m205.5 29.5h0m-52-33.5h0m-210-34h0m88.5 17.5h0m-10-33.5h0m-94 22.5h0m272.5-23h0m-172 51.5h0m81.5 19h0m-51.5-55.5h0m-182 50.5h0m-42 13.5h0m313-23.5h0m-20-25h0m-37.5-22h0m-105 27h0m60.5-21.5h0m49 26.5h0m-93-23h0m111.5 53.5h0m88-69.5h0m-215.5 40.5h0m274.5-29.5h0m-165.5 68h0m237-21.5h0m-25-39h0m-438-3.5h0m275 34.5h0m-131.5-16.5h0m113.5 13h0m103-1.5h0m-148-27h0m54 21h0m4.5-5.5h0m-149.5 45h0m81.5-28.5h0m-42-37h0m58.5 34h0m82.5 0.5h0m-203.5-10.5h0m140.5-2h0m-13.5 31.5h0m-34.5-44h0m143 19.5h0m-153.5-8h0m135.5-8.5h0m-307-9h0m198 2h0m-151.5 40h0m281-30.5h0m-66.5-43.5h0m-138 62.5h0m55.5 5h0m-110-30.5h0m280 7h0m5 3.5h0m0-13h0m-109.5 23.5h0m-101 14.5h0m60-9h0m58 16h0m-67-32h0m-210-15.5h0m238.5 16h0m-202 11.5h0m111.5 7.5h0m182-12h0m-67.5 1h0m59.5-33h0m-40.5-17h0m-6.5 76h0m-122.5 3h0m138-66h0m-207-2.5h0m-133 7h0m233.5 40h0m-69.5-32.5h0m172 64.5h0m-120-6.5h0m-195.5-86.5h0m342.5 88.5h0m89-31h0m-111-21h0m134 10h0m-109 37.5h0m81-15.5h0m-118-30.5h0m37.5 28h0m4-57.5h0m-249 42h0m106-48h0m85.5 52h0m-85-35.5h0m178.5 23.5h0m-361.5 31.5h0m90 12h0m95-48h0m5 14h0m151.5-7.5h0m-391 18.5h0m388.5 17h0m122-4h0m-466.5-26h0m431-17.5h0m-145 32h0m-186 15h0m246-1.5h0m-261 2.5h0m123-71.5h0m-48.5 57h0m48.5 8h0m-91.5-16h0m90-56h0m53.5 27h0m-28.5-14.5h0m16 40h0m132.5-6.5h0m-24 28.5h0m-278.5-46h0m232 42.5h0m22-8h0m59.5-22.5h0m-180.5 13.5h0m191.5 0.5h0m-145-34.5h0m-24.5 43.5h0m11-25h0m-27 47h0m78.5-19.5h0m-45-27.5h0m120.5 11h0m-138-9h0m-229-5h0m121 11h0m92-32.5h0m17 13h0m105 18h0m-72.5-7.5h0m-135.5 11.5h0m51.5 4.5h0m69.5-13h0m79 5.5h0m-29.5-45.5h0m-21 44h0m-114.5-5h0m95 38.5h0m-98.5-0.5h0m-142.5-37.5h0m298-24h0m-34.5 29h0m237 6.5h0m-206.5 22.5h0m-149-24h0m-191.5 14h0m248.5-43h0m-27 13.5h0m51 24h0m-40.5-40.5h0m-207 55h0m25-5h0m177-38.5h0m65.5 13.5h0m-132 36.5h0m1.5-11h0m21.5-11h0m155 11h0m8-23.5h0m-81.5 9h0m-232-25.5h0m412 24h0m-53-11h0m-183 21.5h0m-234-31.5h0m291 9.5h0m-109-15.5h0m76.5 15.5h0m6 21h0m-27.5-9.5h0m209-34.5h0m-184.5 40h0m-133-24.5h0m185.5-26.5h0m114.5 27h0m-220-2.5h0m87 44h0m-37.5 0.5h0m84.5-33h0m-105 2.5h0m-20 29.5h0m278 14.5h0m-101-54h0m-43.5 8.5h0m-14.5 34h0m127-49h0m-402.5 9h0m215.5 26.5h0m50.5-11h0m-178.5 5.5h0m468.5-14h0m-271.5 25.5h0m24 11.5h0m135-14.5h0m-190-26.5h0m131.5-18h0m-189.5 46h0m196.5 7.5h0m-157.5-33.5h0m80-22h0m-152 41h0m63-52.5h0m22.5 63.5h0m-11.5-61.5h0m157 22.5h0m-173.5 5h0m140-1.5h0m-294 12.5h0m73 6h0m-14.5 12h0m3-20.5h0m128 22h0m-200.5-30h0m226-17.5h0m76.5-7h0m35 9h0m-394.5-6h0m155 21h0m62.5 18h0m-269 19.5h0m334.5-53h0m-61.5 40h0m-8-17.5h0m-96.5 37.5h0m-100-52.5h0m350-15.5h0m-106 38h0m-71.5-27.5h0m175 29h0m-289.5-16h0m130 25.5h0m-183-44h0m301.5 21h0m42.5-3h0m-197-3.5h0m164.5-30h0m90 24.5h0m-274.5 8.5h0m295.5 28h0m-258.5-51.5h0m107.5 73.5h0m-49-26.5h0m-54 3.5h0m71.5-43.5h0m-331.5 12h0m304.5 2.5h0m-1 10.5h0m37 19h0m42-43h0m51.5 41.5h0m-38 21h0m33-39.5h0m-161 22h0m-136.5-30.5h0m214 4h0m-288.5 31h0m440-20h0m-198-39h0m-70.5 45h0m-189.5-8.5h0m375 16.5h0m-4-24.5h0m-245-13.5h0m220 46.5h0m-276-35.5h0m250-34.5h0m-46 27h0m29.5-8.5h0m-173.5-6h0m223.5 75h0m-2-77h0m23 51h0m-137.5-54h0m-46.5 57h0m88-19h0m42.5-2.5h0m20.5 5.5h0m-91-58h0m44 48h0m10.5 40h0m-15-40.5h0m37-9.5h0m-119 48h0m-26.5-35.5h0m19.5 22.5h0m152 19h0m127.5-15.5h0m-270-43.5h0m97 27.5h0m-20.5-17.5h0m108-6h0m-415.5 20.5h0m318.5-5h0m91 32.5h0m85-14.5h0m-233 3h0m18.5-61.5h0m114-11.5h0m62.5 49h0m-254 31h0m218 6.5h0m-290.5-17h0m-84-29h0m-23.5-30h0m53 61.5h0m25.5-61h0m101 48h0m19-50h0m282 39h0m-125-21h0m-268 3.5h0m75-9h0m155 59.5h0m-27.5-18.5h0m-42.5-8h0m-6-9.5h0m93-6h0m-74-11.5h0m65.5 39h0m-353 12.5h0m110.5-18.5h0m76-2.5h0m128.5 9.5h0m-3 13.5h0m101.5-49.5h0m10.5-2h0m-39.5-1.5h0m-144.5 5h0m-180-1.5h0m363 35.5h0m34-2h0m-440.5-26h0m-26 3h0m192.5 2h0m66.5 0.5h0m99-40.5h0m-71 33.5h0m57 35h0m52.5-16.5h0m-205 10h0m51-55h0m278 19h0m-210 22.5h0m-13 16.5h0m16-31h0m-1 9.5h0m51.5 8.5h0m60 12.5h0m-90.5 29.5h0m2-5h0m-15-18h0m-103 2h0m160 4h0m-176.5-79h0m23.5 52h0m27.5-19h0m54 36.5h0m92.5-53.5h0m-141 33h0m70-18.5h0m-46.5-9h0m3 18.5h0m227-31.5h0m-171 70h0m-322.5-23.5h0m403-15.5h0m-121 16h0m206.5-13.5h0m-356.5 41.5h0m350-23.5h0m-157-15h0m-10 22h0m-34 8.5h0m214 21h0m-106-57h0m-100.5-26h0m-43 38h0m4-33h0m26 71.5h0m-100-35.5h0m22.5 2.5h0m128.5-25h0m36 19.5h0m67-12.5h0m-263.5-35h0m59 80.5h0m-47-31.5h0m138.5-11h0m-94 30h0m6-29.5h0m-166-7.5h0m300.5 46h0m87.5-21.5h0m-304.5-25h0m133-21.5h0m88.5-11.5h0m38 18h0m-167 10h0m-185.5-11h0m307.5 42h0m-19-1h0m-89.5 32h0m285.5-58.5h0m-193.5 25.5h0m-43 31h0m5.5-13h0m-228.5-45.5h0m404 60.5h0m86.5-27h0m-399.5-49.5h0m192.5 52h0m-58-11h0m-52 22h0m55-2.5h0m-179-42h0m110.5 31h0m-5-52.5h0m99.5 17.5h0m-43-8h0m-278.5 61.5h0m207-2h0m30.5-36.5h0m-6.5-5.5h0m126.5 29.5h0m17-8.5h0m85.5 17h0m-12-11.5h0m-180.5-22.5h0m19.5-29.5h0m12 24.5h0m-26-9h0m-258 49h0m89-47h0m257-4.5h0m-16 52.5h0m-130.5-53h0m-42 9h0m117-10h0m94 16.5h0m-347.5 24.5h0m277 0h0m-129.5-13.5h0m12 13.5h0m58.5 11h0m-96.5-11h0m185 3h0m-256 6.5h0m183 9h0m48-22.5h0m57.5 9.5h0m-89.5-54h0m-158.5 55h0m239-16h0m80-22.5h0m-441-6.5h0m420 27.5h0m-121-33.5h0m-6.5 6h0m-59 32.5h0m-81.5 26.5h0m141-15.5h0m106-31.5h0m-406.5 56h0m288.5-32.5h0m22.5-7.5h0m120 36.5h0m-442.5-81.5h0m247 50.5h0m-109.5 30h0m91-8.5h0m204.5-39.5h0m-254-32h0m65 34.5h0m141.5 3.5h0m-27.5 10h0m82.5-46h0m-306.5-4h0m-63 84h0m125.5-40h0m87-15.5h0m51.5 21.5h0m-208.5-26h0m193.5 2.5h0m-123.5 44h0m293-55.5h0m-189.5 25.5h0m-147-34.5h0m237.5 31h0m-107.5 10h0m82-39.5h0m-68.5 26.5h0m121.5-30.5h0m-199.5 24h0m285-32h0m-500 64.5h0m246-18h0m-81 18h0m391 8h0m-554-37h0m215.5 55.5h0m31.5-39h0m-177-48.5h0m366 32h0m-76 28h0m-70-7.5h0m-37.5-27h0m-73-26.5h0m-13 48.5h0m86-5.5h0m58-10h0m84.5 18.5h0m-196-15h0m200.5 3h0m-75.5-29.5h0m-160 47.5h0m-148.5-47h0m-9 18.5h0m480 34h0m-286.5-7h0m-142 20h0m265.5 11h0m-112.5-26.5h0m248.5 13.5h0m-134.5-13.5h0m88.5 4h0m-92.5-4h0m25.5-33h0m-78-15h0m-10.5 11h0m106 45h0m-189.5-34h0m-116.5 41.5h0m372.5-43.5h0m-185-6h0m50 30h0m-46.5-10.5h0m101.5-21.5h0m11.5 2.5h0m-187 32.5h0m185.5 7.5h0m-135.5-30.5h0m73.5 20h0m-24 7h0m116.5-16h0m-135-16h0m125.5 53.5h0m75-19.5h0m-156.5-9h0m77.5 17h0m36.5-21h0m-220.5 9h0m72-24h0m158-7h0m-67-2h0m35 25.5h0m-84.5-13.5h0m-62.5 1h0m121.5-22.5h0m-132 48.5h0m67.5-13h0m-115 14.5h0m64.5-24.5h0m14-26h0m-148.5 15h0m-14.5 2.5h0m311 29.5h0m133.5-25h0m-381.5-5.5h0m75.5 40.5h0m87.5-45.5h0m-176.5 23h0m-92.5-32h0m368 31h0m-214-18.5h0m261 3.5h0m-189 7h0m18 5h0m-12.5-19.5h0m-9 2.5h0m-73 20h0m105.5 15.5h0m-51.5-22.5h0m130 4.5h0m-177-25h0m-36.5-7h0m219.5 26h0m-109 14.5h0m-96-58.5h0m169 71h0m-148-20h0m127.5-58h0m-19.5 37.5h0m-106 0.5h0m102 17h0m-42-33.5h0m-264 17h0m507 9h0m-314 13.5h0m40.5-39h0m163.5-17h0m-76.5 39.5h0m-164 28.5h0m149.5-28h0m-316 25h0m349.5-41.5h0m-44 31.5h0m16.5-20h0m-26.5 12.5h0m-61-21h0m85.5 5.5h0m-54.5 8h0m84 4h0m-332.5-10.5h0m187.5 56.5h0m-44.5-85.5h0m120 63h0m30-31h0m-122.5 27.5h0m272-10h0m-220 8h0m-249 27.5h0m351.5-22.5h0m-230.5-63h0m-120.5 71h0m222-29h0m55-14h0m-72.5-13.5h0m31.5 69.5h0m-92-13h0m100-21.5h0m132-19h0m-146.5 51.5h0m78.5-34h0m-115.5-18h0m-56.5-2h0m96 39h0m-208-42.5h0m254.5-10.5h0m65.5 7h0m-80.5-12h0m-64.5 51.5h0m35-52h0m151.5 8.5h0m-180.5 19.5h0m31-11h0m102.5-11.5h0m-130.5 38h0m244.5 23h0m-276-27h0m-163.5-30.5h0m252 43h0m32 2.5h0m8 17h0m-71.5-50.5h0m136.5 44.5h0m27-23.5h0m-114.5 14.5h0m103-56h0m-6 8h0m-200.5 51.5h0m-24.5-11.5h0m-10 8h0m-55-36h0m279 53.5h0m-117-24h0m-95.5-41h0m143.5 25.5h0m-75-22.5h0m-182.5 38.5h0m219.5-1.5h0m127-9h0m-44.5-27h0m208-1h0m-273.5-10h0m213 31.5h0m-239.5 23h0m31-9h0m74.5-11.5h0m-83.5 43h0m-100-21.5h0m172 3.5h0m95-32h0m-197 1h0m18 32h0m-33-53h0m110 24.5h0m-55.5 6h0m-83-22.5h0m227.5 10.5h0m-428 32h0m392.5-5h0m14.5 19.5h0m-307.5-63.5h0m-96.5 32.5h0m323.5-32h0m-18 44.5h0m-132 10h0m90.5-60.5h0m-165.5-0.5h0m159.5 72.5h0m32-70.5h0m132.5 48h0m-176-61h0m-79.5 22h0m305 35h0m-151.5-8h0m-175.5-9.5h0m-90.5 20.5h0m194-36.5h0m-46.5 28h0m42-30h0m-31 16h0m222-13h0m-55.5 17.5h0m-49 31.5h0m-239.5-33h0m280-20.5h0m-117.5 49h0m153-5h0m-363-46h0m115-27h0m-19 29h0m241.5 34.5h0m94-54.5h0m-120.5 59h0m-129-54h0m-181.5 10h0m446 30.5h0m-317.5 9.5h0m206 3h0m-103.5-15h0m-39.5-39.5h0m21.5 40.5h0m-181.5 16.5h0m48-64.5h0m282 19h0m-136 25h0m61.5-32h0m-97.5 29h0m44.5-46h0m94.5 54h0m-49.5 17.5h0m-69-8h0m18-15.5h0m280 0h0m-532.5 12.5h0m235 5.5h0m-115 15h0m-30.5-21.5h0m-63-63.5h0m315.5 60.5h0m-90.5 22.5h0m25.5-9h0m-73 3.5h0m29-18.5h0m17 20.5h0m117-55.5h0m-294 48.5h0m84-13h0m-4.5-50.5h0m101 47.5h0m3.5-36h0m57 40.5h0m228.5-22h0m-123.5-37.5h0m-237 80.5h0m55-41h0m35 45.5h0m79.5-29.5h0m-85 17.5h0m-118.5-28h0m-125.5 37h0m194 1h0m76-44.5h0m-135 9.5h0m93-30h0m-20.5 31h0m234.5 3h0m-144.5 26.5h0m176.5 6.5h0m-228-34.5h0m-7.5 37h0m240.5-63.5h0m-264.5-10h0m41 25.5h0m-288.5-29h0m163 41.5h0m46.5 18h0m-15.5-50.5h0m61 42h0m154.5-40.5h0m-229 56.5h0m-150.5-42.5h0m261-4.5h0m-57 3.5h0m-205.5 57.5h0m322-17.5h0m97.5-10.5h0m-102.5-10.5h0m20 22.5h0m-15.5-0.5h0m166 2.5h0m-374.5-0.5h0m260.5-32h0m-71 24h0m129.5 12h0m-74.5 6h0m-98-9.5h0m29.5-29h0m-123 0.5h0m30.5-5.5h0m-72.5 42.5h0m93.5-15.5h0m130.5-5.5h0m-149-33h0m177.5 42.5h0m-230.5-11.5h0m140 21h0m-124.5-1h0m121.5-9.5h0m48.5-1.5h0m43-47h0m-51.5 20h0m-207-6h0m181.5 58.5h0m-114-14.5h0m63.5-49.5h0m-132-3.5h0m114-6.5h0m60.5 31h0m-206.5-23.5h0m186.5 20.5h0m109-11h0m-125.5 3.5h0m-59-21h0m-43.5 46h0m84.5-8h0m-20 13h0m85-19h0m15.5-13.5h0m-14 11h0m20 17.5h0m11.5 4h0m-23-4.5h0m-142.5-5.5h0m99 8.5h0m-52.5-7.5h0m-176-45h0m243 18h0m-165-32.5h0m181.5 59.5h0m-42 19h0m-224.5 0.5h0m192-58.5h0m35 8.5h0m-90.5 37h0m245.5-3.5h0m20.5-20h0m-363-40h0m237 3h0m-82.5 62h0m126-43.5h0m67.5 29.5h0m-173-50h0m36.5 36.5h0m-75-7h0m84.5-1.5h0m246.5-3.5h0m-342 4.5h0m-217-36.5h0m488 66.5h0m-491.5-47.5h0m322.5 43.5h0m-31 10h0m-49-4h0m193.5-35.5h0m-321.5 28h0m73.5-28h0m185.5 36h0m-399-28h0m222-21.5h0m-37.5 0.5h0m88.5 13h0m91 29.5h0m122-2h0m-270.5 24h0m-207.5-17h0m358-21h0m79.5-1.5h0m-436-22h0m317-3h0m-5.5 4.5h0m-10.5 17h0m19.5 1.5h0m-102 15.5h0m206.5-38.5h0m-228 54h0m270.5-1.5h0m7.5-28h0m-84.5 48.5h0m-137.5-31h0m217 28h0m-275.5-12h0m89-43.5h0m3.5-2h0m-133-16.5h0m401 50h0m-375 17h0m100 12.5h0m-191-68.5h0m130 37h0m171-11.5h0m-54-46h0m-89.5 86h0m80.5-67.5h0m-151.5 19.5h0m155-30h0m91.5 34h0m-422.5-46h0m226 17.5h0m-15 22.5h0m-118.5 25h0m348-18.5h0m-101-28.5h0m-21.5 18h0m-1 14.5h0m17.5-11.5h0m-113.5 11h0m-31.5-25.5h0m-111 24.5h0m90.5-54h0m19.5 41.5h0m188.5 8h0m-143.5 3.5h0m20-16.5h0m102.5 23h0m146 5.5h0m-391 28h0m199-17h0m-47 6.5h0m-82-54.5h0m58.5 9.5h0m132 15h0m-156 40h0m87.5-20.5h0m-29-7.5h0m-268.5-12h0m399.5 3.5h0m1 7h0m-13 18.5h0m-125-27h0m-2-6.5h0m68.5 6.5h0m221-34.5h0m-269.5 8.5h0m-60.5 54.5h0m54-8h0m26.5 8h0m16-30.5h0m140.5-21.5h0m-155-19.5h0m79.5 40h0m-108.5 22.5h0m-5.5 13h0m161-27h0m-213-53.5h0m6 60h0m72.5 4.5h0m-179-34h0m53 32.5h0m117.5-10.5h0m34-15h0m206.5 53.5h0m-409-9h0m-87-61.5h0m304 18.5h0m87 49h0m-329.5-29h0m128.5-7h0m111.5-20h0m-12 20h0m85.5 29h0m-79-32h0m139.5-27h0m-247 44.5h0m134 15h0m-47-1.5h0m-55.5-11h0m94-55h0m48.5 26h0m-90 11.5h0m40-7.5h0m-87-31h0m144.5 46.5h0m-152.5 27.5h0m67-69h0m-7.5 41h0m-22.5 0h0m153-40h0m-99-13.5h0m-33.5 45.5h0m37 0.5h0m-1.5 1h0m-109.5 4h0m-5-4.5h0m85-42.5h0m-162.5 17.5h0m228.5-26h0m-16.5 32h0m-41 26h0m-88-2.5h0m291-57h0m-171 66.5h0m49-45.5h0m-56.5 55.5h0m-47-43h0m-82 26h0m-40-1h0m204.5 15h0m-65.5-3h0m-116-25.5h0m-11-36.5h0m90 29.5h0m41 36.5h0m40-37.5h0m-82.5 40.5h0m-72.5-25.5h0m127.5-10h0m-193.5 35.5h0m34-23h0m72.5-33.5h0m54.5-25.5h0m-297 8h0m142.5 51h0m196.5-52h0m-84.5 1h0m10.5 55.5h0m7-12.5h0m-100.5 25h0m317.5-15h0m-48.5-43h0m-123.5 69h0m-226.5-77h0m242 33.5h0m42.5-0.5h0m-143.5 28h0m-72-47.5h0m185.5 34h0m-28 1.5h0m-68-36h0m-31 29.5h0m227.5 11h0m-361-43.5h0m138.5 30h0m51 6h0m30 13h0m-100 2.5h0m101.5 3h0m-190-49h0m173 70.5h0m-206.5-5.5h0m166-44h0m92.5-33h0m-158 29.5h0m-22 9.5h0m329-48h0m-230 40.5h0m-211.5 19h0m210.5-14.5h0m-48.5-24.5h0m168.5 40h0m31-32.5h0m-52.5 32h0m-28.5-14h0m-29-5h0m-251 40h0m273-66h0m-74 18.5h0m-34 4h0m84 8h0m-98.5 12.5h0m354.5-37.5h0m-247 30.5h0m46-24.5h0m-242-33h0m-88.5 81h0m148.5-34h0m5-0.5h0m118 41h0m29.5-4h0m97-36.5h0m-325.5-3.5h0m184.5-21h0m45 57.5h0m-68 2h0m-189.5-56.5h0m29.5 50h0m-109-30.5h0m240-17.5h0m-62 63h0m301.5-17h0m-151-39.5h0m-217.5 52.5h0m228 2.5h0m-45-9.5h0m103.5-9.5h0m-207-6.5h0m57.5-24.5h0m41.5 2h0m6.5 31h0m-131-36.5h0m232.5 27.5h0m-221-13h0m106 37h0m29-46.5h0m-36 28.5h0m-29.5-45.5h0m110.5 3h0m-57 0h0m45 66h0m26-46h0m84 40.5h0m-163.5-1.5h0m-21.5-47h0m181 1h0m52-3h0m-84-35.5h0m-221.5 36h0m245 62h0m-108.5-58.5h0m-34.5 21h0m-148 7h0m28-15h0m236-24.5h0m-186-20.5h0m56.5 40h0m-13-32h0m-12.5 55.5h0m11.5-7h0m-45.5 20.5h0m209.5 1h0m-138.5-18.5h0m-66.5-34.5h0m-30-5.5h0m184.5 53.5h0m-5-31h0m13.5-5h0m-74.5-38h0m-76 58h0m-42.5 32.5h0m55.5-56h0m-155 13h0m123.5-13h0m23.5 8h0m-116 41h0m41.5-18h0m-36.5-1.5h0m124-16h0m195.5 4h0m35.5-0.5h0m-374.5 23h0m201.5-12h0m-323.5-13.5h0m343.5 26h0m-11.5-24.5h0m-31-6h0m-71.5 1h0m58 33.5h0m-245-28.5h0m298-8.5h0m40-16h0m-280 7h0m555.5 44h0m-466-51.5h0m262-16.5h0m88 46h0m-264.5-38h0m131 8.5h0m-92-6.5h0m-86.5 29h0m122 12.5h0m-93.5-45.5h0m-78 2h0m199.5 31.5h0m-182 2h0m272-7.5h0m-268.5-27h0m45.5 28h0m144.5 37.5h0m15-16h0m-135.5-22h0m58-6.5h0m150.5 25.5h0m-243.5-36.5h0m-8 40.5h0m-102.5-55.5h0m227-11h0m0.5 24.5h0m-206 13h0m215.5-5.5h0m-127.5 8.5h0m67.5-34h0m14 67.5h0m5.5 4h0m-8.5-16h0m-43 17h0m85.5-27h0m-150 8.5h0m217.5-7h0m-156.5-35h0m113.5 22h0m-51.5 29h0m-43.5-11.5h0m7 19h0m14-53.5h0m-30.5 61.5h0m40-20h0m-23-59.5h0m117 56h0m-184-13h0m147.5-10h0m-99.5 16.5h0m140-8h0m-11.5-22h0m-313 65.5h0m374-53.5h0m-67.5 41h0m-53.5-26.5h0m-144 8h0m206-7h0m-80 38.5h0m-110-20h0m123.5-32h0m-194 25h0m212-26.5h0m-157-31.5h0m42 39h0m-216.5 44h0m238-54.5h0m66 43.5h0m14-11.5h0m-67 17h0m-43-6.5h0m-118.5-83h0m143.5 80.5h0m126.5-22.5h0m85 8h0m-11 2.5h0m-357.5-9.5h0m52.5-2h0m108-9h0m54.5 18.5h0m-257-28h0m48.5 16.5h0m294.5 11h0m230-5h0m-349.5-51.5h0m106 81.5h0m-31-29h0m22-23.5h0m-102 3.5h0m188.5 40h0m-317.5 0h0m79.5-22.5h0m109-34.5h0m-115 11.5h0m186 23h0m-7.5 7.5h0m-13.5-3.5h0m42-2h0m-92 35h0m-142-2.5h0m54.5-34.5h0m-248.5 4h0m269-12.5h0m67-15.5h0m18.5 52.5h0m5.5-28.5h0m-135.5 26.5h0m235.5-34.5h0m-149 26.5h0m-106.5 2h0m267.5 9.5h0m-125-44h0m3 3h0m-22-2h0m-331.5-17h0m316.5 31.5h0m49.5-37h0m-17.5 61.5h0m-137.5-49.5h0m84.5 32.5h0m71 2h0m80.5 3.5h0m-230-33h0m105 10h0m-237.5-34h0m110 61.5h0m73-28h0m-248 26.5h0m240.5-35.5h0m167-23h0m-184 64.5h0m-61-66h0m-54 60.5h0m188.5-63h0m-42 36.5h0m62.5-11h0m-63 46h0m36-75.5h0m-35 47.5h0m-36.5 10.5h0m-227.5-50h0m225.5 58.5h0m136.5-14.5h0m-116 3h0m126.5 11h0m-332.5-61h0m309-7h0m44.5 72.5h0m-182.5-70.5h0m45.5 13.5h0m-38 41h0m54.5-28h0m176-32.5h0m-102 67.5h0m-230-9h0m508 12h0m-283.5-78h0m47 29.5h0m11.5 49.5h0m49-18h0m-75-22h0m-153.5 25.5h0m143-39h0m-25 30h0m-71-33.5h0m148 26h0m-413.5-5.5h0m290.5 31h0m131.5-25.5h0m-124-14.5h0m-42.5 67h0m-136-68.5h0m68-15h0m29.5 13h0m379 17.5h0m-293.5 13.5h0m-71 25h0m192-7h0m-104-13.5h0m-92 19.5h0m104.5-32.5h0m-314.5 9.5h0m278 1.5h0m1-42.5h0m-225.5 20.5h0m263-5.5h0m-319.5 61h0m175-60.5h0m170 40.5h0m-98.5-67h0m91.5 85.5h0m-52.5-19.5h0m-21-44h0m35.5 1.5h0m-303.5 56h0m-22-26h0m474.5 9.5h0m-120.5-62h0m-158 12.5h0m159 22.5h0m108.5-14.5h0m-55.5 38.5h0m-68.5 14.5h0m-32-45.5h0m26.5 26.5h0m-138.5-37h0m89.5 32.5h0m143-41.5h0m-167.5 38h0m-31.5-4h0m77-26.5h0m91 21.5h0m34.5-30h0m223 48h0m-146.5 8.5h0m-377.5-55h0m157.5 20h0m26.5 30h0m35.5 14.5h0m-215.5-19h0m126.5-10h0m3.5 6h0m65 23h0m-67-5.5h0m-17-39h0m-48.5-19h0m148.5-7h0m-102 63h0m-38.5 8h0m246.5-43.5h0m-184.5 23h0m-31.5-29.5h0m-126.5-13h0m197 44.5h0m-52-6.5h0m69.5 39.5h0m-79.5 0h0m47.5-62h0m-137 2.5h0m-80 57.5h0m395.5-6h0m-102-21h0m-90.5-33h0m-75 0.5h0m143.5 19h0m-17.5-36h0m5 24h0m206 38h0m-282-44h0m208-8h0m-184 49.5h0m250.5-41.5h0m-7-1.5h0m-249 58.5h0m24-35h0m140 11.5h0m-1.5-6.5h0m-323.5-21.5h0m186.5 44h0m-183-19.5h0m294 26h0m-182.5 0h0m20-31h0m-3-31h0m116 39.5h0m-115 6h0m35.5-6h0m143-33.5h0m-143 23h0m173-4.5h0m-0.5 17.5h0m-168.5-15h0m-72 9.5h0m259.5-38.5h0m-159 26h0m-58-32h0m-187 13h0m219 13.5h0m-250 16h0m295-3h0m-65 20h0m-32.5-53.5h0m-26.5 18h0m165-1h0m67 14.5h0m-436-50.5h0m301.5 55.5h0m-214.5-37h0m-53 32.5h0m515.5 17.5h0m-312-1.5h0m65-18.5h0m136-9h0m-106-22.5h0m-83 49h0m101 1.5h0m28-48h0m-45-3h0m-73 59h0m108-9h0m-112-28h0m-3 17h0m-26.5-27h0m295 35h0m-384.5-5h0m-81.5-25.5h0m174.5-17h0m-88.5-22.5h0m112.5 42h0m213.5 26.5h0m10-43.5h0m-271-15.5h0m25 48.5h0m33.5 2.5h0m215-21h0m-259.5 16h0m150 39h0m-39.5-60.5h0m91.5-2h0m-197.5-4h0m232.5-19h0m167 67.5h0m-361.5 12h0m201.5-13h0m-104.5-21h0m-154 2h0m70.5 1h0m-61-6.5h0m222.5-8h0m-230.5 31.5h0m214-60h0m-196.5 72.5h0m205.5-14h0m-49-38.5h0m-21.5 33.5h0m-138-26h0m133 21.5h0m-27.5-9h0m-79 6h0m313.5-26h0m-73.5-10h0m-153.5-7.5h0m106.5 36h0m-197.5 37.5h0m-61.5-10h0m61.5-1h0m67.5-15h0m125.5 21.5h0m-36-14h0m-189.5-7h0m180.5 3h0m34 2.5h0m-110.5-66h0m-24 24.5h0m-7 63.5h0m-90-65h0m23.5 32.5h0m76.5 18.5h0m2-6h0m5-3h0m-23.5-10h0m128.5 21h0m-225.5-24.5h0m5-25h0m275.5 21.5h0m-145.5 9.5h0m9 21h0m-40-7.5h0m-12.5-65.5h0m-23.5 46h0m53-14h0m93.5 1.5h0m-351 7h0m427-28h0m-280.5 19h0m99-2.5h0m106 46.5h0m-243.5-26.5h0m182 9h0m-13-43h0m-14 34h0m89.5 0.5h0m-248-5h0m54.5-44h0m241 58h0m35 4.5h0m-337-33h0m198 16.5h0m-230-50.5h0m353 19h0m9 21h0m-126 12h0m-59.5-5h0m48-38h0m-25.5 26.5h0m85.5-6h0m3.5-8h0m13.5 57h0m-11-26.5h0m-197-23h0m-6-1h0m150.5 16.5h0m-41.5-11h0m201.5 11.5h0m-449 19.5h0m206-17h0m150 25.5h0m-137-12.5h0m-124.5-25h0m87.5-9h0m255.5 17.5h0m-123.5 4.5h0m28 14h0m-182.5-13.5h0m166.5 31h0m-390-61h0m208 29h0m124-29.5h0m9.5 13.5h0m-56.5 27h0m211.5-9h0m-237-1h0m-32-2.5h0m-26-10.5h0m168 38h0m26-80.5h0m3.5 51h0m-68-37.5h0m-293.5 49h0m235.5 24.5h0m-87.5-29.5h0m46 6.5h0m-203.5 6h0m324-50h0m-132.5-8h0m95 61h0m186.5-66h0m-287 19.5h0m18.5 61h0m-10.5-64.5h0m-145.5 11.5h0m239.5 18h0m-4.5 1.5h0m13-13.5h0m178 30.5h0m-184-69h0m9 81h0m106.5 10h0m-10-52h0m-120 45.5h0m22-75.5h0m-67 68.5h0m38-47h0m-4.5 49h0m13.5-13.5h0m-92-19h0m111 24h0m-93.5-40h0m9.5 40.5h0m-1.5-61.5h0m143.5 16h0m-301.5 65.5h0m536-83.5h0m-433 28h0m145.5 38.5h0m-117-32h0m136 5h0m65.5-19.5h0m-136-2h0m10-9.5h0m267.5 62h0m-234.5-35.5h0m-63 25.5h0m-46.5-36h0m198.5 40h0m-56.5 8h0m-113-41h0m58 20h0m-136.5-27h0m217.5 20.5h0m60.5-6h0m-77.5-10h0m-5 36.5h0m-204-26h0m294.5 7.5h0m-125 10.5h0m114.5 12h0m-69-34.5h0m63.5-9h0m-40-35.5h0m-28.5 46.5h0m-39.5-1.5h0m-94.5 39h0m-10-30h0m231.5-34.5h0m-63.5-23.5h0m-167.5 41.5h0m-97.5-43h0m302 11.5h0m-414.5 5h0m321 18.5h0m25 38.5h0m-80.5-22h0m174.5-26.5h0m-113 47.5h0m262.5-15h0m-249 22.5h0m-38-7.5h0m-219 19.5h0m334-66.5h0m-289.5 43.5h0m90.5-15h0m109.5-11.5h0m10.5 23h0m111 19.5h0m20-13h0m-23.5 12.5h0m-71.5-30.5h0m-121.5 21.5h0m98-49.5h0m-181.5 35.5h0m65.5-19h0m382 35h0m-292-55h0m127.5 44h0m-278-42h0m139.5 5.5h0m-131.5-10.5h0m163 50h0m105.5-2.5h0m-182-12.5h0m-264 6h0m232.5-18h0m-146.5-17h0m184 5.5h0m104 49.5h0m159-55.5h0m-319 32.5h0m-53.5 3h0m-123 7h0m187-7.5h0m-17.5 7h0m-19.5-41.5h0m227 54h0m-197.5-42h0m-51 48.5h0m-4.5-33.5h0m185-4h0m-84.5-17.5h0m-12.5 61.5h0m90.5-32.5h0m-22-49.5h0m-47 75h0m43.5-18.5h0m-90-3h0m38-45.5h0m68.5 19.5h0m-325.5-23.5h0m250 6h0m-7.5 23.5h0m-18.5 21h0m52.5-45h0m53 10h0m16 19.5h0m11.5 33.5h0m-48-8h0m-317-38h0m205.5 35h0m125.5-40.5h0m-205.5 4.5h0m180.5 19h0m-306.5-16h0m393-5.5h0m-220-33.5h0m93.5 61.5h0m-136 3.5h0m47-53h0m99 47h0m14.5-8h0m114.5-8h0m-215 53h0m225.5-63h0m-214-4h0m52.5 39.5h0m229.5 17h0m-195-42.5h0m-80 25h0m62.5-2h0m114.5 8.5h0m23.5-3.5h0m-289 8h0m168.5-45.5h0m-40-9h0m-164 51h0m182.5 19.5h0m-44.5-59.5h0m131-14.5h0m-352.5 12h0m270-8.5h0m-32 10h0m23 21h0m3.5 9.5h0m261 10h0m-190-15h0m-85.5-10.5h0m-14.5-34.5h0m30 75h0m188-39h0m-144-4h0m166 12.5h0m-287.5-1.5h0m101 22.5h0m58-11h0m38.5-33h0m-277-7.5h0m148 67.5h0m152.5-37h0m-94.5 31.5h0m-160.5-36h0m106.5 1h0m23.5 41h0m-302.5-91h0m279.5 91.5h0m15-74.5h0m212.5 74h0m-200-59.5h0m2.5 7.5h0m-216 21h0m-48.5 24.5h0m245.5-41h0m47 32.5h0m-125.5-17h0m110-13h0m-205.5 29h0m116.5-4.5h0m75-24.5h0m-64 35h0m42-39.5h0m76.5-39.5h0m-167.5 88.5h0m150-69h0m160 66h0m-101-12h0m-138.5-12h0m74.5-26.5h0m-202-13.5h0m227.5-0.5h0m9-3h0m-161.5 66h0m54-37.5h0m63.5 9.5h0m15-22h0m-10.5 21.5h0m39.5-12h0m41.5 21h0m-122.5-26h0m-276.5-46h0m379 25h0m-262.5 28h0m176.5 14h0m53-9h0m33.5 7h0m-86-31h0m28 37.5h0m171.5-62.5h0m-128 25h0m-145.5 9h0m236.5 26h0m-121.5-6h0m-109-26.5h0m-9 11h0m52 39.5h0m19-67.5h0m108.5 36h0m-123.5 2.5h0m72.5 29h0m-108.5-59.5h0m39.5-9h0m-43 66h0m21-13h0m87.5 25.5h0m-141.5-24h0m82 17.5h0m73.5-18.5h0m-362-6.5h0m265.5-20.5h0m107 5.5h0m-38-30h0m54.5 21.5h0m-173 25.5h0m106.5 6.5h0m-88.5 9.5h0m-141-39.5h0m284.5 47h0m-146.5-53h0m127.5 33.5h0m13.5 19.5h0m13.5-41h0m-157.5 9.5h0m155.5-37.5h0m-172 35.5h0m125.5 15.5h0m-339-34h0m379.5 17h0m-311-12h0m287.5-23h0m-26.5 57h0m-261.5-20h0m248 26.5h0m36-77.5h0m36 79.5h0m155.5 0h0m-332 9.5h0m60.5-85.5h0m-17.5 21h0m84 51h0m-147-0.5h0m118-14h0m-98.5 13h0m-12-20h0m169 21.5h0m-61.5-74.5h0m70 74.5h0m-38-44h0m69 18.5h0m-121-3h0m-281.5 10.5h0m659 11.5h0m-456-27.5h0m187 39h0m-199.5-82h0m101 26.5h0m-67-7.5h0m107.5 36h0m-248.5-47h0m-9 29h0m203-19h0m124 1.5h0m-122.5 74h0m-148.5-63.5h0m463.5 45.5h0m-478.5-37.5h0m116-12.5h0m75 52h0m-89-31h0m127.5 44.5h0m-79.5-66.5h0m112.5 12.5h0m-290.5 19.5h0m302 24h0m44-7h0m-221.5-23.5h0m-6 24h0m213.5 8h0m-156-44h0m-4.5 6.5h0m52.5-19h0m-9.5 4h0m83 59h0m-49.5-37h0m11.5 28.5h0m-78.5-39.5h0m23.5 10.5h0m112.5 11.5h0m6-19.5h0m-91.5 24h0m-6-31.5h0m-83.5 24h0m53.5-12h0m-93.5-25.5h0m95-18h0m-225 54h0m154-47.5h0m9.5 14.5h0m58-6.5h0m58.5-14.5h0m-233.5 16.5h0m221-9.5h0m43.5 52.5h0m-194.5 1h0m-20.5-57h0m-45 15h0m214 15h0m-66-2.5h0m-225.5-23h0m95.5 9h0m120-1h0m-198.5 17.5h0m327 36h0m-189-8.5h0m196-36.5h0m-355 36.5h0m211.5 20.5h0m214-43h0m-286-22.5h0m-138-3.5h0m365.5 12.5h0m-17.5 15h0m-91 13.5h0m-147.5-47.5h0m86 46.5h0m46.5 13.5h0m221.5-57h0m-297.5 54h0m136.5-24h0m14-13.5h0m66 53.5h0m-76 2.5h0m-85-70h0m20 2h0m9.5 67h0m31-34.5h0m-15.5-36.5h0m-185 55h0m257.5-17.5h0m-120.5-1.5h0m73.5 13h0m-90.5 5h0m41.5-23h0m341 32h0m-612.5-20.5h0m324.5-8.5h0m-140.5-49h0m295.5-5h0m-93 20.5h0m5 33.5h0m2.5 36h0m-153.5-25h0m47.5-36.5h0m158.5 34.5h0m-168-11h0m184-24.5h0m-79 57.5h0m-100.5-5.5h0m11-63h0m-2 26.5h0m-76.5-12h0m27 20h0m23 37h0m30-67.5h0m118.5 48.5h0m-132-25h0m20.5-2.5h0m42.5 3.5h0m32.5 45.5h0m134.5-43.5h0m-156.5 47.5h0m-42-45.5h0m35 20.5h0m-215-64h0m222.5 69.5h0m-159.5-12.5h0m220 0.5h0m-4.5-1h0m-90.5 3.5h0m139-5.5h0m-413.5 15h0m30.5-19h0m207.5-5h0m-97-4.5h0m-177.5-12h0m476-1h0m-223.5-7.5h0m132 41h0m-173.5-17.5h0m101 10.5h0m-253.5 5.5h0m250 8h0m26 16h0m-26.5-35.5h0m-37.5-22h0m74.5 39h0m-156.5 2.5h0m136 11.5h0m-113 12.5h0m-158-13h0m186-30.5h0m110.5 10h0m-186.5-57h0m194.5 30h0m-123.5 21h0m39 19h0m-214.5-52h0m105 39h0m158-59.5h0m107.5 58.5h0m-225-17h0m124.5 37h0m77-53h0m-18.5 15.5h0m77.5 1.5h0m-359-45h0m217 81.5h0m-110 9h0m-187.5-15h0m250 1.5h0m197.5-12h0m-242.5 3h0m-28-25h0m366-9.5h0m-245 44h0m-164-63h0m-161.5 51.5h0m76.5 12.5h0m0.5-51.5h0m335 7h0m-76.5 3.5h0m-163 45h0m86.5-65.5h0m4.5 28h0m135 32.5h0m107-22h0m-521-12.5h0m23.5-34h0m300.5 64h0m-266-74h0m211 71.5h0m62-24.5h0m-33 12h0m-108-12h0m39 41h0m75.5-87.5h0m-130.5 6h0m285.5 52h0m-242.5-34h0m187.5 30.5h0m-210.5-23h0m99 28h0m100 6.5h0m-54 7.5h0m-183-7.5h0m62.5 11h0m41 13h0m35.5-26.5h0m209-20h0m-255 2.5h0m4 34h0m50.5-70h0m-96.5 53h0m191-16h0m-409 8.5h0m378 24h0m79.5-26h0m-203 30.5h0m128 4h0m-13-45h0m18 9.5h0m-37-12.5h0m-33.5 18.5h0m-78.5 10h0m44.5-5h0m-139.5-38h0m198 46h0m-33-12.5h0m-225-20h0m54.5 14h0m115.5-5h0m-48-11.5h0m0 27h0m180.5-59.5h0m-132.5 72.5h0m-172-9h0m381-17h0m33.5 7.5h0m-89 30h0m-116-32h0m221 23h0m-59-18h0m-108-18.5h0m15-6.5h0m8 22h0m-50.5 12.5h0m117.5-70h0m-10 59.5h0m-47-53h0m-14.5 71.5h0m-69-28h0m-38-38.5h0m259.5 65h0m-190 13.5h0m154.5-57h0m-264.5-22h0m-24 16.5h0m181 16.5h0m-22 27h0m-70.5-24.5h0m29-14.5h0m161 34h0m-115.5-22h0m-37-19h0m-80.5 64.5h0m-44 0.5h0m76-20h0m-23.5-44.5h0m117 67h0m244-37h0m-183.5-49h0m-185.5 38.5h0m6.5 17.5h0m86.5 16.5h0m86.5 19.5h0m-171.5-81h0m-8.5 77h0m61-41.5h0m86.5-23h0m-93.5 43h0m-275-18h0m340.5-26.5h0m82.5 25h0m-81-30.5h0m-316-7.5h0m192-1.5h0m76.5 82.5h0m-7.5-48.5h0m-204-26h0m139.5 40h0m38 34h0m28.5-35h0m256.5-32h0m-195.5 1h0m-54.5 46.5h0m-300-24.5h0m29 0.5h0m345-18h0m-63.5 41.5h0m31-1.5h0m-194.5 15.5h0m379.5-51h0m-230-35h0m16 41.5h0m31-5.5h0m-14.5-5.5h0m50 53h0m-180-48.5h0m-132.5-34.5h0m204 23h0m105.5 34h0m-9 16h0m-106.5-2h0m104-51.5h0m10 49h0m7.5-20h0m113-2h0m-213.5 13.5h0m77.5 17h0m88-36h0m-218 32h0m325.5-12h0m-310-41.5h0m94 12.5h0m-180 33h0m32.5 16.5h0m-88.5-59.5h0m228 55h0m-309-56.5h0m266 2h0m76 0.5h0m-141-21h0m-30.5 84.5h0m305.5-14.5h0m-301.5-7h0m119.5-0.5h0m-33.5-39.5h0m158 14.5h0m-111.5 34.5h0m-41-10h0m-71.5 22h0m184-25h0m-163 28h0m151.5-89.5h0m-40 29h0m-41.5 32h0m314.5-6.5h0m-289-25h0m-13.5 22h0m32-35h0m-170.5 24.5h0m94.5-8h0m-286.5-9.5h0m167.5 51.5h0m-123.5-1.5h0m280-7.5h0m-71.5-65h0m-58 55h0m80.5-31h0m216 60.5h0m-420.5-57.5h0m68 47h0m293.5-11h0m-218.5-12.5h0m136.5 38.5h0m-240.5-50.5h0m-62.5 37.5h0m289-12h0m38.5-61h0m-167.5 19.5h0m86.5 35.5h0m-105-26h0m219-11h0m-241.5 51h0m155-22h0m165 18h0m-275 3.5h0m159-69.5h0m-68 20.5h0m121 50h0m2 10.5h0m-121.5-54.5h0m-8 14.5h0m88.5 15.5h0m-19.5-15.5h0m-111 44h0m231-19h0m-179.5 2.5h0m-80-56.5h0m49 36h0m1.5 28h0m28-7.5h0m-45-52h0m33.5 21h0m239.5 22h0m77.5-4h0m-380.5-29.5h0m18 30h0m22-1.5h0m-49.5 12.5h0m-3.5 6h0m84-42.5h0m-19.5 21.5h0m-183-36.5h0m212.5 66.5h0m-13-25h0m197-23.5h0m-75 24h0m-75.5 10.5h0m-32.5 2h0m-171-19.5h0m204-4h0m130-42h0m41.5 35h0m-45 22.5h0m-97-42h0m-114.5 53.5h0m-60-50h0m17 17.5h0m58 22h0m-129.5-36.5h0m101.5-11h0m283 18h0m-153 5h0m-14 39.5h0m-173.5-33h0m117.5 11.5h0m-4 32h0m165.5-59h0m-116 5h0m-106.5-21h0m-15 26.5h0m-96.5-22.5h0m170.5 49h0m35.5-7.5h0m-64-29.5h0m204 9.5h0m-101 51.5h0m-60.5-20h0m-43.5-39h0m73.5 13h0m10 24h0m14.5-12h0m-123.5-4h0m27.5 2h0m-55.5-19.5h0m-51-13.5h0m77.5 49h0m-17.5-24h0m8.5-7h0m60 12.5h0m-27.5-57.5h0m100.5 53.5h0m-142 34h0m136.5 3h0m74.5-21h0m-136 2h0m94 11.5h0m-301-25h0m133.5 20.5h0m-122.5-70h0m194 33h0m-33 36.5h0m30-53h0m-80 34.5h0m-175 3h0m336.5-8h0m97.5-36h0m-275.5 31h0m170.5 21.5h0m-112.5-19h0m113.5 18h0m-42.5-32.5h0m47.5 8.5h0m213.5 15h0m-355-30.5h0m196-21.5h0m-225 34.5h0m185-25.5h0m-206 5h0m19 34.5h0m77.5-5.5h0m-74.5-42h0m189 32.5h0m-351.5-26h0m212-13.5h0m64.5 28.5h0m72 36h0m141.5-58h0m-223 34.5h0m-111-19h0m15 47h0m116-17.5h0m-153.5 22.5h0m235.5 2h0m-2-32h0m-45.5 15.5h0m157.5-2.5h0m-236-2h0m214-37h0m-297.5 1.5h0m22-24h0m84 61h0m126.5 8.5h0m-427.5-30h0m409-6h0m-153.5 60.5h0m157.5-57.5h0m-3.5 25.5h0m17.5-20.5h0m-117 3.5h0m-172.5 9h0m95.5 22.5h0m17-15h0m84-38.5h0m-89 62h0m45-36h0m-38 9.5h0m73.5 1h0m-152-18h0m87 0.5h0m161 12.5h0m-194-38h0m61 46h0m87 4.5h0m-28.5-25.5h0m-64-33h0m-202 48.5h0m334 30h0m35.5-9.5h0m-70-9h0m-9.5-18.5h0m54.5 7h0m-7-37.5h0m-133 39.5h0m-24 4h0m18.5 1.5h0m-127-33.5h0m38.5 20h0m154-39h0m16 58.5h0m-15-5.5h0m-32.5 3h0m-139.5 3h0m82.5-4h0m224 10h0m2-53h0m-252.5 20.5h0m25.5 45h0m-67.5-29.5h0m63 22h0m26-41h0m-51.5 9.5h0m214.5 0h0m-356 46.5h0m190.5-21.5h0m-199 0.5h0m175.5-32.5h0m118.5 13h0m-256.5-11.5h0m200.5 22.5h0m-2-34h0m-1 20.5h0m-18 38h0m32-55h0m-105 16h0m0 11h0m155 9.5h0m-191 9h0m210-30.5h0m40-9h0m-122.5-30h0m-86 34.5h0m49-17.5h0m21 17h0m52.5 15h0m120-19.5h0m-196.5-3.5h0m-74.5 23h0m38.5 1h0m243-4h0m-278.5 1.5h0m15.5-13.5h0m-186.5 44h0m294-57h0m-38.5 26h0m109.5-12.5h0m-62.5-2.5h0m3 3h0m9.5-36.5h0m-63.5 61h0m-49.5-50h0m-219-17h0m250.5 22h0m-258.5 0.5h0m196.5 59.5h0m56-20.5h0m42 23.5h0m-40.5-34.5h0m-57-48h0m165.5 11h0m-128.5 47.5h0m11.5 20h0m-45-55h0m-127.5-7.5h0m290.5 38h0m-88 17.5h0m27.5-70.5h0m110.5-1.5h0m6.5 12h0m-110 11h0m161.5 34h0m-171.5-18.5h0m119 38h0m-139-75.5h0m-63.5 78h0m71.5-9.5h0m-114.5-20h0m80.5 2.5h0m-51-48.5h0m72 19.5h0m-175.5 40h0m170.5-25.5h0m37.5 1h0m266.5-24.5h0m50 68.5h0m-291.5-19.5h0m-57 14h0m86-35.5h0m87-18h0m-106.5 29h0m-154.5 7.5h0m130.5 14.5h0m-30-32h0m155 22h0m-108.5 23h0m173-30h0m-464.5-20h0m301.5 29.5h0m-146.5 0h0m81.5-18h0m119.5 17.5h0m210-39.5h0m-409 2h0m207.5 16.5h0m-261-37h0m83.5 23h0m-32 44h0m331.5-57.5h0m-413 48.5h0m264-47h0m-85.5 14.5h0m57 9.5h0m-259 1.5h0m184.5 36.5h0m26 9.5h0m-78-38h0m104.5-18.5h0m-241.5 34.5h0m-3.5-39h0m245.5 50h0m-115-34h0m191-29h0m-100 52.5h0m112.5-8.5h0m-17-3h0m-55-34.5h0m191-1.5h0m-328.5-21.5h0m96 74.5h0m-162-28h0m205-8.5h0m40 24.5h0m40-18.5h0m-132 18h0m155-16h0m-197.5-2h0m-8 0h0m110-6h0m90 21.5h0m-361.5 20h0m206.5-13.5h0m-18-41h0m-247 36.5h0m95.5-63h0m267 35.5h0m83 15.5h0m-164 28h0m-100.5-2h0m326.5-52h0m-267 27h0m-118-15h0m226.5 7h0m-30-17h0m-3 3h0m-87 32.5h0m-33-20h0m-19.5 14.5h0m114-21h0m-83.5 37.5h0m120.5-15.5h0m88.5-41h0m-42 71h0m-372.5-22.5h0m301.5-19.5h0m-279.5 36.5h0m178-32h0m0-7h0m76-13.5h0m-264.5 49h0m164-35.5h0m256 19.5h0m-437-26h0m220.5 7.5h0m43-6h0m-166-16.5h0m106 8h0m97 2h0m-84 12h0m66 5.5h0m164.5 14.5h0m-364.5-40h0m231.5-8h0m-320.5 43h0m241-26h0m94.5 22h0m133 0.5h0m-206 26h0m46-22h0m-39-26h0m-154-4.5h0m-34.5-10.5h0m207 53h0m111.5-31h0m-202-10h0m147.5 22.5h0m-37-21h0m-83-35h0m91.5 23.5h0m-267.5 7.5h0m148 38.5h0m41.5-4.5h0m73.5-56.5h0m-297.5 62.5h0m8-13h0m414.5-31.5h0m-156 11.5h0m132.5 32.5h0m193.5 14.5h0m-446-2h0m76.5-41h0m306 12h0m-565-1.5h0m547.5 4h0m116.5 7.5h0m-295-6.5h0m-106.5-17h0m81.5 38h0m-327.5-45.5h0m234.5 36h0m-215-50.5h0m238 0h0m72 17h0m-330.5-20.5h0m419 52h0m-333-10.5h0m110-8.5h0m51 14.5h0m-133.5-34.5h0m238 30.5h0m-22.5 32h0m-25.5-7.5h0m-44.5-37h0m46 24h0m-62-20h0m82-10h0m93.5 7h0m-58.5 26.5h0m-120 19.5h0m172.5-53.5h0m-189.5-14.5h0m106 30h0m19.5-0.5h0m-95 7.5h0m144.5-32h0m108.5 3.5h0m-383-21h0m-91 67h0m184-18h0m-208.5-41h0m543.5 29h0m-343.5 10.5h0m-46-13.5h0m140-23h0m171 54.5h0m-68.5-68h0m1.5 47.5h0m-225.5-50.5h0m27 17h0m-122.5 9.5h0m250 22h0m-98 2.5h0m87 15h0m-307.5-32.5h0m333 2.5h0m-216 48.5h0m420.5-24.5h0m-346-45h0m67.5 3h0m104 51.5h0m-64.5-37h0m-239 11h0m365.5 0.5h0m-94.5 16.5h0m6.5 19h0m-71.5-57h0m-116.5-2h0m156.5 60.5h0m-99.5-24.5h0m162-20h0m-156.5 43h0m98.5-8.5h0m-36-36.5h0m-130 2h0m169.5-17.5h0m167 34.5h0m-447-34h0m253 11.5h0m16.5-40.5h0m67.5 77.5h0m-162-20.5h0m158 27h0m-34-46.5h0m-171.5-6h0m173-24.5h0m-86 53.5h0m-81.5-32h0m15.5 19h0m31.5-43.5h0m118.5 48.5h0m-188.5 0h0m158-23.5h0m59 27h0m-93 18h0m144-38h0m-86.5 4h0m-58.5-23h0m208 33.5h0m-198-26.5h0m-136 33h0m30.5-26h0m193-2.5h0m14.5 36h0m-146.5 30h0m-10.5-33.5h0m-54-9h0m207-19h0m159 64.5h0m-95-81h0m-192.5 19.5h0m154.5 25h0m-234.5 23.5h0m-119-18.5h0m232-24h0m-62-0.5h0m40 2h0m-207.5 51.5h0m104-31h0m105.5-8.5h0m5 5.5h0m60 11.5h0m7.5-22.5h0m-102.5-31.5h0m19.5 73.5h0m-52.5-74h0m-51 59h0m89 5.5h0m50.5 1.5h0m322-46h0m-274.5 3h0m26.5-17.5h0m6 53.5h0m67.5 7.5h0m-13-85.5h0m-264 35h0m53.5 46.5h0m-18 5h0m164.5-33h0m-96.5-41h0m185.5-4.5h0m-161.5 78.5h0m-288.5-60h0m187.5 34.5h0m53 3h0m-111-4h0m155.5 31h0m-261-15.5h0m164-9.5h0m-209-32.5h0m133 56.5h0m215-76h0m-57.5 52.5h0m197.5-30.5h0m-340 41h0m39.5 12h0m-126-75.5h0m130 23.5h0m36-10h0m42 14h0m-58.5 36h0m-32-39.5h0m75.5-5h0m-205.5 33.5h0m342-1h0m-82.5-4h0m-16.5-3.5h0m-12 23h0m24.5-37h0m293.5 25.5h0m-342.5-43.5h0m52.5 21.5h0m-112.5-44.5h0m63.5 22h0m-155.5 29h0m307.5 23h0m-71-5.5h0m29-54h0m-2.5 17h0m-216.5 40h0m176.5-25h0m-161-46.5h0m156 50.5h0m-171-9h0m22.5 22h0m-34.5 32.5h0m161-69h0m-168-1.5h0m118.5 5.5h0m18-15.5h0m295.5 39h0m-190 10h0m-61-24.5h0m44 48h0m-357-45h0m251.5 20.5h0m-26 8h0m109 7h0m-188.5-36.5h0m325-7.5h0m-233.5 37h0m178.5-18h0m-12.5 20.5h0m-123 5.5h0m-291.5-27.5h0m144.5-15h0m123.5 1.5h0m102 10.5h0m-75.5 33h0m179.5-55.5h0m-25.5 31h0m-199.5-10h0m335 12.5h0m-275.5-39h0m-219-2.5h0m-46.5-20h0m219.5 36.5h0m14 56h0m-81.5-40h0m249-23.5h0m-200-6.5h0m138 14h0m-171.5 36.5h0m71.5-51h0m-15 56.5h0m113-54h0m-118 39.5h0m-49.5-4h0m196-33.5h0m-66 49.5h0m-152-52.5h0m28 25.5h0m-98.5 26.5h0m286.5-21.5h0m-128.5-9h0m127.5-12h0m-82-13h0m66.5 72h0m-14-17h0m-84.5-0.5h0m-66 20h0m44-74.5h0m40 46.5h0m326.5-6.5h0m-400 5h0m133 13.5h0m-143.5-52.5h0m111.5 23h0m32 23.5h0m-371.5-17h0m369-14h0m58 3.5h0m23-14.5h0m-20-12h0m-161 49.5h0m-89 7h0m77-7.5h0m177-17.5h0m-81.5 21h0m-47.5-26.5h0m-298 39h0m82.5-4.5h0m229-35h0m110 33h0m-95-45h0m-70.5-26.5h0m-256.5 26h0m204 46h0m124.5-18h0m-94.5-28h0m73 52h0m-263.5-42h0m264.5-28.5h0m-22.5 32.5h0m-265 18h0m376.5 7h0m-13.5-23h0m-248-14.5h0m196 10.5h0m83.5 10.5h0m-114.5 11.5h0m70.5 12.5h0m-226-22h0m-77-14.5h0m145.5-3h0m162.5 34h0m-143-38.5h0m174.5-23.5h0m-330.5 21h0m215 0.5h0m-13 35h0m114 16h0m-48.5-42h0m23 3h0m-41.5-19.5h0m-145 34h0m193 25.5h0m-14 0h0m3.5-35.5h0m-78-28.5h0m-10.5-2.5h0m-101 43h0m220.5-4.5h0m-116 8h0m211.5-46h0m-263 77h0m65.5-59.5h0m-39 8.5h0m72.5-22h0m183.5 13.5h0m-301 51.5h0m55-69h0m-28.5 57.5h0m-124.5-17h0m-72-24h0m562 18.5h0m-353.5 16h0m108.5-26.5h0m26.5 55h0m-46.5-77h0m-111-7h0m120 8.5h0m111 16h0m-170.5-32h0m149.5 89h0m-18-9h0m-39-30h0m-25 0.5h0m143.5 8h0m-199-22.5h0m157.5 23h0m-352-65.5h0m254 55.5h0m-216.5 4h0m119 10.5h0m61 8h0m31-28.5h0m-3-20h0m-157.5 54h0m-87-9h0m64.5-12h0m161.5-58h0m-139 48h0m261.5-45.5h0m-105 31h0m-109.5-35.5h0m95 34.5h0m-248-6h0m241 28h0m-146.5 33.5h0m154 5.5h0m-103.5-31h0m82-37h0m42.5 6.5h0m-146.5 3.5h0m-141.5-20.5h0m101.5 62h0m237-17.5h0m81.5-18.5h0m-168.5 8.5h0m-219.5 25h0m225.5 0.5h0m-74-49.5h0m-62 54.5h0m181-21h0m50-5h0m-112.5-13.5h0m11 36h0m163 7.5h0m-484-31h0m418 26h0m49-29h0m-53-39.5h0m-99 55.5h0m123 22.5h0m-138-56h0m-37.5 60.5h0m38-23.5h0m-249-12.5h0m-16.5 7.5h0m271 27.5h0m19.5-10h0m-241.5-29.5h0m294.5-41.5h0m-198.5-4.5h0m29-8h0m85 69h0m88.5-21h0m-85-34h0m146.5 23h0m-67.5 8h0m-58.5 3.5h0m106.5-21h0m-168.5 40h0m66.5-25.5h0m18 33h0m-230-54.5h0m117.5 14h0m325 17.5h0m-310.5 39.5h0m208-36.5h0m-390-61h0m162.5 74.5h0m-7-26h0m-217 20.5h0m366.5 20.5h0m-148.5-29.5h0m107-27.5h0m-207.5-6.5h0m204.5 50.5h0m-21.5-73h0m-6.5 36h0m95 48h0m-130.5-60h0m105-5.5h0m32.5-13h0m-174.5 76.5h0m19.5 16h0m91.5-53.5h0m-135.5 37.5h0m-193-47h0m327.5 33h0m28 0h0m-229-38.5h0m190.5 33h0m-26.5-11.5h0m10.5-38.5h0m169.5 62h0m-422-14h0m145.5 16h0m-97-50.5h0m233.5 65h0m87-8h0m-109.5-46h0m-274-11.5h0m265-23h0m-168.5 27h0m-28.5 24.5h0m137 13h0m173-25.5h0m-59 3h0m207.5 34.5h0m-267.5-27h0m-98.5 27.5h0m63.5-8h0m-158.5 16.5h0m169.5-34h0m57 11h0m15-6h0m176 6.5h0m-254.5 0h0m-159.5-65h0m315.5 15h0m-229 63.5h0m56.5-21h0m-76-34.5h0m188-22h0m71.5 60.5h0m-224.5-18h0m114.5 10.5h0m-295-17.5h0m325.5 33h0m-178 5h0m70-13h0m70.5 1.5h0m-25.5-13.5h0m92.5 45h0m-343.5-82h0m168.5 39h0m-4.5-4.5h0m65.5 28.5h0m146-3h0m93.5-15.5h0m-2 9h0m-308.5 21.5h0m8-68.5h0m31-9.5h0m89 54h0m82-22.5h0m-104-30h0m-259.5 16.5h0m308-10.5h0m-18.5 1.5h0m-68 23.5h0m45.5 27h0m-91.5-61h0m21 71.5h0m84-27.5h0m-61 7h0m-9 5.5h0m-81-62h0m255.5 12.5h0m-123.5 42h0m116.5 3.5h0m-96-6h0m-236.5 27.5h0m-47.5-75h0m151 51.5h0m70 16.5h0m-72-37h0m66 10h0m199.5-9.5h0m-438.5 37.5h0m73-41.5h0m270.5 5h0m6.5 46.5h0m-142.5-45.5h0m-134.5 33h0m162.5-59.5h0m102.5-6.5h0m-123.5 39h0m70.5 43h0m-20-32h0m156.5 22.5h0m-107 0h0m-77-61h0m15 21h0m-119 18h0m239 29h0m-191-39h0m-62-40h0m111.5 31h0m97.5 11h0m-38-1h0m-300-42.5h0m314.5 24.5h0m48 20h0m-3-5h0m-162.5-12h0m-114 8h0m172.5 14.5h0m-56-35h0m289 53h0m-145-28h0m-109 5h0m159.5 45h0m-74.5-35h0m-279-17.5h0m161.5-21h0m15.5 16.5h0m229.5 16h0m-116-22h0m-141 41.5h0m214.5-8h0m-144.5 11h0m328-34h0m-281-39.5h0m-303 20.5h0m260.5 1.5h0m75.5 5h0m-66.5-23.5h0m63.5 79.5h0m-232-54.5h0m-97.5 40.5h0m97.5-11.5h0m225.5-27.5h0m-126.5-4.5h0m187 28h0m-10.5-34.5h0m-233 32h0m-86-4.5h0m277.5 3h0m10-1.5h0m78-29h0m-178.5 0h0m-226.5 35.5h0m345.5 1h0m-48.5 8.5h0m166-27h0m-251.5 3h0m-233-12.5h0m58.5 48.5h0m366.5-33.5h0m-176 25.5h0m-168 6h0m-57-26.5h0m306 12h0m-79-23.5h0m111.5 1h0m-41 14h0m-114.5-16.5h0m114.5 7h0m-60 10.5h0m78 21h0m-127-51.5h0m20.5 2h0m-52-9h0m-28 57h0m111 7h0m59-34.5h0m-7.5-18.5h0m-125 21h0m69-28.5h0m14.5 61h0m-72.5-45.5h0m123.5 24h0m-80 15.5h0m-134.5 1h0m233-41.5h0m-161 30.5h0m66.5-13.5h0m123.5-24h0m-227.5 34.5h0m160.5-36.5h0m11 53.5h0m-95-65h0m-93 59h0m136 13h0m-57-46h0m51-28h0m-98 24h0m102.5-12.5h0m187.5-2h0m-451.5 12h0m312.5 58h0m-43.5-10h0m135.5-43h0m-32 44.5h0m-93-62.5h0m-62.5-20h0m255.5 84h0m-79.5 0h0m31.5-51.5h0m-328.5 32.5h0m166-33h0m22 32.5h0m-53 2h0m-26.5-11h0m36.5-23.5h0m-58.5-3h0m306 24h0m-51.5-38.5h0m-111-7h0m-13.5 21h0m270 53.5h0m-290-11.5h0m77.5-13h0m-340-29.5h0m241.5-15h0m-79.5 54h0m-97.5-61h0m308.5 79h0m-43.5-42.5h0m-109 21.5h0m-111-12.5h0m244-35h0m-134 46h0m128-14h0m-56-47h0m35 42.5h0m-37 47h0m175.5-14h0m-283.5-11.5h0m207-20.5h0m-91.5-1.5h0m21-22.5h0m205 56h0m-521 6h0m189.5-31h0m136-11.5h0m22.5 17h0m-165-20.5h0m70 20h0m126-8h0m110.5-31h0m-5.5 15.5h0m-317 33.5h0m59-6h0m15-42.5h0m15.5 34h0m123 18h0m-123-32h0m-58 49.5h0m98.5-43h0m51 20.5h0m-58-24h0m135.5-47h0m84 51h0m-176.5 35.5h0m63-30.5h0m-330.5-11h0m217.5 19.5h0m-296 26h0m203.5-17.5h0m109.5-16h0m13.5 32h0m51-27.5h0m4.5-18h0m-178 34.5h0m53.5-59.5h0m97 63.5h0m-174.5 8h0m224-62.5h0m-394.5 35h0m229 15.5h0m-215.5 0h0m184.5-33.5h0m176 31h0m149-7.5h0m-279.5 9.5h0m-62 21h0m30.5-29.5h0m161 28.5h0m-209-27.5h0m180-43h0m-136.5 27.5h0m-21-28.5h0m218.5 57.5h0m-230-43.5h0m267 28.5h0m-193.5-33h0m346 46h0m-263.5-27h0m40-24h0m-94.5 21.5h0m207.5-1h0m-158 15h0m-79.5 6h0m-214.5 4h0m131 1.5h0m223.5-45.5h0m56.5 22.5h0m-443.5 26.5h0m239.5-50.5h0m10.5 15h0m-100 54.5h0m-147-90.5h0m381.5 37h0m-15 2.5h0m28.5-20.5h0m-194 31.5h0m195.5-34h0m96 26h0m-140.5 16.5h0m-135-20.5h0m8.5-9.5h0m36.5 29h0m153.5 14h0m-153.5-42h0m-21 7h0m-206 39.5h0m175-67h0m-41 46.5h0m85.5-63h0m0.5 12h0m-93 45.5h0m-97-35h0m233.5 62h0m-117.5-35h0m126.5-10h0m-27 48h0m105.5-30.5h0m-197-20.5h0m296.5-1.5h0m-112-12.5h0m-113 2.5h0m-43 44h0m-49-11.5h0m112 16h0m-123-22.5h0m62-39h0m-182 60.5h0m271-58.5h0m-19 36h0m22.5 25h0m60.5-39h0m-97 11h0m-51 9.5h0m-40 10h0m83.5 18.5h0m-24-29h0m0.5-4h0m-54 2.5h0m-27.5-45.5h0m188.5 45.5h0m142.5-7h0m-185-29.5h0m-19 12.5h0m-138.5 19h0m95 7.5h0m192.5 24h0m26-7.5h0m-414.5-55.5h0m321-8.5h0m-200.5 32.5h0m272.5 51.5h0m-268.5-24h0m168-5.5h0m115.5 3h0m-441.5-69h0m-43 34.5h0m297 2.5h0m-28.5 18h0m197-21h0m-240 28h0m-216 28h0m402.5-32.5h0m-96.5 20h0m-23.5-30.5h0m31.5 5h0m110.5 21h0m-219.5-7.5h0m-4-62.5h0m360 68h0m-277.5 7.5h0m-266.5-34.5h0m338.5-10h0m-59.5 60.5h0m-263-36.5h0m209-38h0m62-10.5h0m95.5 69.5h0m-76.5-18h0m-7 1h0m34 2h0m-94-38h0m119 6h0m-32 24h0m-250 20h0m250-28h0m74 33h0m41 0.5h0m-196-22.5h0m-137.5 37.5h0m172.5-91h0m-199.5 0h0m201 58.5h0m52-24.5h0m-46.5 40.5h0m29-36.5h0m18-11.5h0m-78.5 5h0m-69 40h0m161.5 9.5h0m-84-50h0m53.5-15.5h0m-88.5 58.5h0m178.5 1h0m-176.5-19.5h0m57.5 12.5h0m9.5-44.5h0m-28.5-2.5h0m81.5 7h0m-160.5 42h0m-155 1h0m108.5-16h0m96.5-7h0m78-21h0m-175.5 4.5h0m95.5 30h0m58.5-27h0m-130.5-7.5h0m134.5 27.5h0m2 25h0m-127-42.5h0m223-12.5h0m50 9h0m-21 44h0m-253-39.5h0m34.5 9.5h0m64 10h0m85.5-2.5h0m-372.5 4.5h0m198 11h0m119-29h0m-129 9h0m-2.5-3.5h0m423.5 28.5h0m-304.5-31.5h0m24-39h0m-246.5 70h0m132-27.5h0m-92-9.5h0m74.5 4h0m-60.5-21h0m-25 39.5h0m243.5-35.5h0m-148 5.5h0m208 27.5h0m-430.5-35.5h0m237.5-8.5h0m-6-6.5h0m31.5 48h0m49.5-30.5h0m-20.5 24.5h0m-46 22.5h0m-2-16.5h0m106.5-37h0m-114.5 6.5h0m110 31h0m-54.5-14.5h0m-82.5 19.5h0m156.5-67.5h0m-64 70h0m27-17.5h0m-246-33h0m197 38.5h0m15-30.5h0m-29 19h0m-11.5 10h0m-103-10h0m139-34.5h0m83.5 16h0m-60 9.5h0m-79.5 6h0m-43.5 4h0m63.5 37.5h0m-18.5-32h0m-46.5 27h0m76-8h0m-16 18.5h0m51-24h0m95.5-39.5h0m-146 16h0m90 39.5h0m-159-5h0m28-53h0m201.5 38.5h0m-47.5-31h0m-10.5-23h0m39 18.5h0m38 57.5h0m35.5-70.5h0m-108.5-3.5h0m101 80.5h0m-237 7h0m64.5-26h0m-95.5-8h0m-71-33.5h0m143 45.5h0m-17.5 6h0m83.5-50h0m-63 52.5h0m-90.5-11.5h0m116 23.5h0m-49-42.5h0m129.5-31h0m-26 32.5h0m141.5 40h0m15.5-38.5h0m-189.5-32h0m-94.5 52.5h0m91.5-77h0m-78.5 57h0m66.5 33h0m71-48h0m-12.5-7.5h0m-76 16.5h0m-46.5 38h0m-208.5-75h0m385 3.5h0m-13 4.5h0m-76.5 45h0m66.5-26.5h0m-195 33.5h0m144-54h0m-107 48h0m163.5 21.5h0m-129-28h0m23-22.5h0m-34 19h0m18.5 2h0m146 22h0m101.5-28.5h0m-298 4.5h0m164-4.5h0m104 6h0m-191.5-1.5h0m22 21.5h0m74-75.5h0m-56 65h0m-35-20h0m130-24.5h0m-123.5 33.5h0m70-47.5h0m68.5 26.5h0m-209.5-8.5h0m160-3h0m-208 39.5h0m114 7h0m31.5 1h0m74.5 19h0m-172.5-17h0m273-39.5h0m-144.5 30h0m87-18.5h0m-236.5-14.5h0m89 43h0m-26.5-8h0m216-15.5h0m-106 27.5h0m-209.5-31.5h0m264-8.5h0m-191.5 16h0m33 30.5h0m-228-45.5h0m238.5 21.5h0m144-5h0m-157.5 33.5h0m-252.5-45.5h0m373.5 14.5h0m-119 13.5h0m-169.5-1h0m233.5-10.5h0m-159.5-24h0m134 12h0m-53 22h0m-55.5-45h0m59.5 56h0m-41.5-11.5h0m52-22.5h0m31.5 1h0m-22 20h0m-235.5-49.5h0m253.5 50.5h0m163-26.5h0m-67 14.5h0m-137 6h0m103 14.5h0m-191.5-6.5h0m170 0h0m-167-29h0m-96.5 23.5h0m249 19.5h0m-87-46.5h0m46.5 13h0m-245.5-20h0m154.5 21.5h0m-122.5-55h0m373.5 39h0m-325.5 1.5h0m319.5 4.5h0m-375.5-24.5h0m120.5 31.5h0m156.5-15h0m-24 26h0m-276.5-60h0m191 59h0m-95.5-25h0m97 1.5h0m6.5 28.5h0m52-5h0m62.5-24h0m-337 51.5h0m313.5-73h0m117 44.5h0m-215 35h0m93.5-56h0m-60 2.5h0m-47 27.5h0m70.5-36.5h0m-239-19h0m280.5 45.5h0m-39.5-28h0m-83-14.5h0m-192 15h0m431.5-13h0m-124.5 26h0m-289.5 8h0m334-5.5h0m-255 25.5h0m156-57.5h0m-143.5 21.5h0m313.5 6.5h0m-119.5-2h0m13.5 56h0m-97.5-26.5h0m-6-19.5h0m-173.5 20h0m355-9.5h0m-271.5 22.5h0m171.5-25h0m-124.5-32h0m-93.5-5h0m-57 2h0m194 37h0m-109 11h0m269-19h0m-79-40h0m-135 62h0m-165.5-16h0m262 13.5h0m118.5-26h0m-189 32.5h0m100.5-48.5h0m-102.5 2.5h0m299.5 21h0m-297 22h0m-16 13.5h0m125.5-50.5h0m-95.5 25.5h0m185 29h0m-42.5-61h0m-24-15.5h0m138.5 61.5h0m-212.5-20h0m-232 5.5h0m197 9.5h0m-22.5-23.5h0m-30 15.5h0m78.5 0h0m-198.5-27.5h0m-74-19.5h0m308.5 22h0m-128.5-41.5h0m223.5 76.5h0m-267.5-50.5h0m-21 46.5h0m210-7.5h0m70-38h0m-9.5 16.5h0m35.5 7.5h0m-130 0h0m-68-13h0m-195-26.5h0m452.5 30.5h0m-155 27.5h0m154-32.5h0m-69.5 21h0m-64-8.5h0m34 3.5h0m-189-28h0m254.5 26h0m-28.5 16.5h0m-122 30h0m-11.5-3h0m16-47.5h0m21 28.5h0m-131.5-49h0m299 29.5h0m-230-7h0m-214 40h0m284-55h0m-154-12.5h0m495 24.5h0m-201.5-6h0m-91.5 13.5h0m-295 22h0m331-51.5h0m-215.5-7.5h0m141 62.5h0m-145.5-29h0m171.5 44h0m-3.5-51h0m-103.5 20h0m-37-37h0m192 38h0m69.5-13h0m-290.5-13.5h0m434.5 22.5h0m-305 10.5h0m-70.5 5h0m48-12h0m-218.5-8h0m225.5-25.5h0m24.5 26h0m-23 17.5h0m-268 9.5h0m333.5-3.5h0m-72.5-33h0m-108.5 3.5h0m217-29.5h0m-73 41h0m-311.5 1.5h0m259.5-45h0m96.5 12h0m-36.5-6h0m-75.5 69h0m125-33.5h0m-98.5-8.5h0m-107-5.5h0m-19.5-0.5h0m275.5 11.5h0m-215 2h0m98-32h0m-103 37.5h0m25.5-8h0m1.5 6.5h0m-234 20.5h0m-5.5-52.5h0m97.5 64h0m259-10h0m-133.5-71h0m52-4.5h0m49 87.5h0m-29.5-2h0m136-16h0m-55 6h0m46-7.5h0m-189 10.5h0m327.5-22h0m-79-18.5h0m-145.5-12h0m48.5 28.5h0m-197.5 20h0m331-38.5h0m-326.5-7.5h0m190 42.5h0m-351-42h0m341 51h0m-60-11h0m-47.5-23h0m-43 10h0m63.5-38.5h0m-56 36.5h0m23-12h0m340.5-17.5h0m-338.5 6h0m163 1h0m-139.5-15.5h0m136.5 38.5h0m-62-36.5h0m59 61.5h0m-54.5-5.5h0m-31.5 13.5h0m102.5-81h0m-89 67h0m59-39h0m-56.5-26.5h0m-60 14.5h0m-54 66.5h0m13-18h0m159 14h0m-181 2.5h0m11-65.5h0m299.5 59h0m-187-76.5h0m-97.5 77.5h0m103-27h0m-70.5 34.5h0m-206.5-36h0m369-10.5h0m-384.5 2.5h0m418 20.5h0m-204.5-21h0m36.5-8h0m-15.5 44.5h0m-7.5-30.5h0m121.5-4.5h0m-159-30h0m328.5 25.5h0m-258.5-23.5h0m83 14.5h0m-216 36.5h0m9 1.5h0m46-42h0m181.5 13h0m-151.5 18h0m118-56h0m-41 42.5h0m-156.5-18.5h0m105 14.5h0m-144 3h0m146.5 13.5h0m-114 2h0m159.5-63h0m-59 43.5h0m37 27.5h0m-39.5 6.5h0m33.5-2h0m-42-12h0m-37.5-7.5h0m252-41h0m-183.5 25.5h0m-130-48h0m78.5 97.5h0m125-33.5h0m-69-17h0m-18-17h0m25.5 22.5h0m44 35h0m179.5-30h0m-373 20.5h0m302-49h0m-183-5.5h0m43 9.5h0m-54 3.5h0m10 23h0m-19-16h0m109 30.5h0m-83-51h0m85 7.5h0m-256 44h0m-96-45h0m190 42.5h0m-3-42.5h0m8.5 24h0m59.5 23.5h0m62.5 10h0m99.5-42h0m146.5 38.5h0m-252-34.5h0m102-25.5h0m-137.5 39h0m67-13h0m63.5-4.5h0m-81 48.5h0m-81-48.5h0m125 15h0m-17.5 30.5h0m156.5-5h0m-138-63h0m-76.5 5h0m-108 51.5h0m-207.5-17h0m208 25h0m143.5-88h0m-179.5 33h0m179.5-23.5h0m-131.5 71h0m-39.5-14h0m232.5-50h0m-267.5 59.5h0m262-15h0m-85.5-1.5h0m-100.5-27.5h0m-11.5-4.5h0m107 54.5h0m-98.5-51.5h0m102 35h0m4-3.5h0m-303-16h0m198.5-16h0m140 31.5h0m-201-25.5h0m207 44.5h0m10 19.5h0m16.5-9.5h0m33-39.5h0m-172.5 4.5h0m224-1.5h0m-431.5 38h0m17.5-17.5h0m255-17.5h0m-250-29h0m231 15h0m-63 24.5h0m109 11h0m-71.5-70.5h0m-31 66h0m94.5-50h0m172.5 39.5h0m-300.5 11.5h0m-134.5-33h0m103 45h0m269-16h0m-87 16h0m-367.5-32h0m208 16h0m172.5-24h0m-207.5-6h0m124.5 36h0m-99-33h0m36.5-3h0m51 40.5h0m10-31h0m125-16h0m-125 49h0m194-21h0m-184-6h0m-15-11.5h0m-53.5-9h0m31-9.5h0m259.5-13h0m-216 14h0m-115.5 29.5h0m-38-42h0m180.5 58h0m-25.5 20h0m-11-2h0m30-31.5h0m-242.5 2.5h0m-13.5-27.5h0m157.5 31h0m0-7h0m128 31.5h0m63-18h0m-104.5-42h0m67.5 3.5h0m2.5 11.5h0m-119-8h0m48-17h0m74.5 43h0m95 13h0m-93.5-21h0m-118.5-1.5h0m-162.5 17h0m107.5-19.5h0m87-2h0m-102-23.5h0m162.5 60h0m-141-65h0m54 43h0m-10 36.5h0m285.5-67h0m-280.5 9.5h0m72 12h0m147 32h0m-125-53.5h0m-8.5 55.5h0m42 0.5h0m-132-28.5h0m-54.5-31h0m-4 27.5h0m-91.5-10h0m-31 32h0m330.5-47h0m38.5 36h0m-58-27.5h0m-190-18.5h0m-166 21.5h0m322.5 45h0m-55.5 12h0m10-13.5h0m-52 1.5h0m55.5-38h0m44-31h0m-75 38.5h0m-14.5 9.5h0m1.5-28h0m-237.5 37.5h0m217-11.5h0m5-34.5h0m-44-9h0m132 47h0m37.5 0h0m-123 4h0m98.5-23h0m-64.5-37h0m-61.5 43.5h0m-208.5 30.5h0m209.5-61h0m189.5 2h0m-25.5-3h0m73 12h0m-93.5 32h0m-48.5 19.5h0m-272-55.5h0m21.5 26.5h0m321-4.5h0m-243.5-44.5h0m-13 83.5h0m301-26h0m-177.5 14.5h0m-168.5-10h0m106-10.5h0m4.5-13h0m80.5 33.5h0m-204.5-67h0m210 52h0m-57.5-31h0m-146.5-36h0m183.5 24.5h0m41 42.5h0m-82-7h0m8-17h0m1.5-10h0m242 54h0m-71.5 2h0m-174-13.5h0m121-49h0m43 25.5h0m-63.5 9h0m8 38.5h0m-260-6.5h0m298-45.5h0m-327 36.5h0m501-48h0m-364.5 47.5h0m8-30.5h0m78.5-16.5h0m-23.5 5h0m-120.5-12h0m40.5 67h0m326.5-36.5h0m-309-15.5h0m-166.5 16h0m207.5-33.5h0m47.5-5.5h0m-209.5-8.5h0m267.5 36h0m-59-19.5h0m111.5 57.5h0m-183.5-17.5h0m-164-40h0m258 31.5h0m330.5 31.5h0m-601.5-64.5h0m328 24.5h0m-88 13.5h0m76-2h0m-101-51h0m147.5 31.5h0m-89.5 24h0m-69-4h0m3.5-10.5h0m91.5 37.5h0m-108-27.5h0m11 16.5h0m229.5-55.5h0m-263 54.5h0m141.5-20.5h0m-168.5-50h0m17 71h0m152.5-7h0m-89-13.5h0m21.5-49h0m-72 34h0m240 15.5h0m-92.5-7h0m-141-19h0m38 6h0m-30.5 13.5h0m159-24h0m-55 16h0m-85 2h0m63 42h0m71-22.5h0m-161.5-33.5h0m49-1h0m4 39.5h0m42.5-54.5h0m-264 2h0m198.5-14.5h0m-44.5 59.5h0m-40.5-53h0m89.5 47.5h0m-39.5-13.5h0m129-11.5h0m-219.5 28h0m279.5 3.5h0m19-58.5h0m64 74h0m-353-49.5h0m-50.5-24.5h0m410 12h0m-381.5 35h0m39 26h0m51-58.5h0m128 51.5h0m59.5-16h0m-309.5 15h0m178 27h0m7-23.5h0m216-11.5h0m-149.5 28h0m-42.5-76.5h0m-24.5 50h0m-6.5-57h0m-34.5 14.5h0m135.5 51h0m-174.5-21.5h0m128.5 18.5h0m69.5-12.5h0m-80-3.5h0m-19.5-9h0m53.5-1h0m-259 0h0m22.5 24h0m14 29h0m122.5-47h0m36 12.5h0m-28-25.5h0m10 38h0m100-26h0m36 35.5h0m-25-39h0m-7.5 19h0m-304-28.5h0m197 49.5h0m20.5-53h0m62 27h0m-53-11.5h0m45 7.5h0m61.5 2h0m-66.5-3h0m-104.5 1.5h0m233 0.5h0m-34-28.5h0m-121.5-0.5h0m77.5-21.5h0m-290 27.5h0m246.5 10h0m-2-8h0m145.5 57.5h0m-108-43h0m-345-16.5h0m280 4h0m191.5 34.5h0m-327-12h0m181.5 38.5h0m-85-26.5h0m16-54.5h0m177.5 18.5h0m-48 26h0m-148 24.5h0m91.5-70.5h0m-118 41h0m84.5 28.5h0m-119-46h0m189 31.5h0m-218.5-14h0m-83 6h0m-63.5-61h0m383.5 96.5h0m-50.5-29h0" stroke="#bebebe" stroke-width="3.3" stroke-linecap="round" fill="none"/>
<path d="M301 309.5h0m51-41h0m-87-10.5h0m42.5-18h0m-58.5 19h0m157.5-1h0m52 22.5h0m-181 18h0m355-15.5h0m-321.5 8.5h0m200-16h0m-210.5-9h0m-77.5-29.5h0m12.5 34.5h0m-5 37h0m319.5-41.5h0m-159.5 30.5h0m114.5-19h0m-99.5 16h0m-191-8.5h0m220.5 8.5h0m50 9h0m-115-5h0m97-20h0m-180.5-23h0m282 56.5h0m26-1h0m-23-46h0m-229.5 30.5h0m172.5 13.5h0m-88-27h0m-106.5-94h0m-4 113.5h0m-74.5-8.5h0m312 15h0m-269.5 2.5h0m377-22h0m-330.5-9h0m-15.5-4.5h0m201 17h0m-48.5 7.5h0m-234-17h0m158 8.5h0m-50-97h0m-72 47h0m116 9.5h0m220 54h0m-143-3h0m26-42h0m-100 51h0m-146.5-10.5h0m-13.5-18.5h0m1-30h0m309.5 60h0m-38.5-56h0m-138-3.5h0m-82 30.5h0m226.5 9.5h0m-115-17h0m7 7.5h0m266 13h0m-336.5-58.5h0m-107.5 75h0m407-18h0m-168 19.5h0m-195-30h0m113 27.5h0m-106-17h0m162.5 3h0m83.5 8h0m-48-0.5h0m-137-7.5h0m-111.5-67.5h0m136-39.5h0m80.5 68.5h0m2.5-9.5h0m150.5 11.5h0m-223 46h0m120-51h0m-61-39.5h0m40 89h0m-108.5-2h0m225 4.5h0m-340.5-75.5h0m133.5 14h0m34-29.5h0m111 63.5h0m-68 21h0m-105.5-65h0m-42 38h0m99 28.5h0m159-5h0m-134.5-59.5h0m-144.5 58.5h0m213.5-30.5h0m-207.5-19.5h0m-12.5 8.5h0m92 7.5h0m60.5 40h0m80 8h0m-247.5-6.5h0m50-20h0m-70.5-11.5h0m28.5 16h0m327-8h0m-177.5-4.5h0m-155.5 25h0m241 2h0m-279-55h0m-10.5 26h0m295.5 16h0m-84 5h0m17.5-12.5h0m-79.5-9h0m-137 12.5h0m55-10.5h0m216.5 1h0m-284 27h0m114.5-11.5h0m131 7h0m-226 4.5h0m62-26.5h0m118.5 6.5h0m124 29.5h0m-191-16.5h0m96-17.5h0m-53-1.5h0m57.5 32h0m-70.5-4h0m8.5-0.5h0m56.5-43h0m-153 45.5h0m367-33.5h0m-435 39.5h0m144-7.5h0m-108.5-63h0m167 58h0m-161.5-63.5h0m184 6.5h0m-219 39.5h0m17-62.5h0m-4 81h0m173-13h0m-84-14.5h0m-110.5 28.5h0m155.5-10.5h0m28-10h0m-13 18h0m52.5-12h0m24 7.5h0m10-25h0m12-6h0m-4.5 8h0m-272-82.5h0m112.5 93h0m105.5 13.5h0m-92-58.5h0m106.5 50.5h0m73-6.5h0m97.5 11h0m-361.5-98.5h0m254.5 66h0m28.5 33.5h0m-181-9h0m-74-65.5h0m337 70.5h0m-369-115h0m261.5 136.5h0m-202.5-6h0m247 3h0m-58-36.5h0m-17 35.5h0m-32.5-41h0m19 41h0m-138-33h0m211.5 25h0m-182.5-34h0m-76 44h0m58-94.5h0m-120 72.5h0m118-0.5h0m-71-97.5h0m131.5 105h0m58.5-1h0m-197.5-38.5h0m284 45.5h0m-209.5 7.5h0m-97.5-27.5h0m29-12h0m257.5 1h0m41.5 39h0m-268.5-66.5h0m23 63h0m-105 3h0m161-39.5h0m-35.5-19h0m-71.5-13.5h0m192.5 57h0m-192-43.5h0m-3 48.5h0m120 14h0m-42.5-8h0m-101-45.5h0m132.5 37h0m-138 8.5h0m189.5-5h0m-113.5-30.5h0m-67.5 2.5h0m-22 32h0m375.5-15.5h0m-253.5-51.5h0m-115.5 52h0m292.5-11h0m-142.5-32h0m68.5 44.5h0m-57 20.5h0m-98-45.5h0m115.5-61.5h0m-10.5 34.5h0m-147 48.5h0m-31-77.5h0m93 103h0m-97.5-31.5h0m205.5 9h0m-38 9h0m50.5-17.5h0m-120 17.5h0m190-18.5h0m6 30.5h0m-142-31h0m60 23h0m-0.5-10.5h0m13-0.5h0m-14.5-18h0m-104.5 14h0m31.5 26h0m-102.5-123.5h0m240.5 98h0m-225.5-50.5h0m158 42.5h0m-146-31h0m78 61.5h0m228.5-67h0m-308.5 33h0m-59-53h0m248.5 78.5h0m-199-44.5h0m-11-10.5h0m3.5-49.5h0m237.5 98.5h0m-15.5-7h0m42.5 22h0m-270.5-110h0m184 61h0m-105-34h0m-57.5 66h0m201 14h0m-9.5-13.5h0m-15.5-92h0m-79.5 65.5h0m67.5-15h0m-167.5 46.5h0m304 3.5h0m-94-13.5h0m-137.5-55h0m-40 42.5h0m15 12.5h0m217.5 9h0m-180.5-26h0m189-16h0m-117 48.5h0m-137.5-99.5h0m17.5 85.5h0m196-88h0m-101.5 102h0m-96.5-59.5h0m46 58h0m57-54.5h0m3.5-45.5h0m231 87.5h0m-404-9.5h0m343 30h0m-42.5-2h0m-114 2.5h0m-117-17.5h0m126 0.5h0m34.5-1.5h0m-213-2.5h0m325 20.5h0m-186-15h0m-95.5 3h0m201.5-5h0m-168.5-100h0m169.5 76h0m-168-31h0m-114 56.5h0m179.5 2h0m-27 1h0m-135.5-6h0m243.5-22.5h0m-145.5 17.5h0m80.5 6h0m28.5 18h0m-97.5-135h0m-104 115h0m249.5 17.5h0m-19.5-34.5h0m-154-28h0m54.5 2h0m37-14h0m-64 59.5h0m249.5 6.5h0m-175-5.5h0m-167-15.5h0m-28-90h0m163.5 33.5h0m89 88h0m-162-26h0m72 2.5h0m132.5 8.5h0m-231.5 4h0m165.5-130h0m38.5 67.5h0m-182 53.5h0m54.5 2h0m106-16h0m114.5 33.5h0m-221.5-29h0m14.5 21h0m-118.5-46.5h0m286.5 19.5h0m-209 22.5h0m27.5-28.5h0m113 25h0m-87.5-29h0m203 46h0m-89 1h0m-29.5-2.5h0m-220.5-103h0m132 51.5h0m152 50h0m-246.5-14.5h0m161 12h0m-71-32h0m136-17h0m-298 39.5h0m435 15.5h0m-297-32h0m-87.5-5.5h0m49.5-22h0m-1 39h0m-98.5-8.5h0m48.5-55h0m220.5 58h0m-7.5-65h0m-98 41.5h0m73-13h0m-104 29.5h0m-70-33.5h0m44.5-19.5h0m19.5 65h0m191 7.5h0m-267.5-123.5h0m170.5 126h0m-18-48h0m-121.5-35h0m285.5 66.5h0m-23.5 16h0m-45.5-106.5h0m17.5 93h0m-236.5-41h0m254 43.5h0m-189-18.5h0m-94.5-14h0m-6.5 10h0m68-1h0m-21 37.5h0m15-6.5h0m204.5-14.5h0m-237.5-58h0m20.5 28h0m98 8h0m175.5 14.5h0m-116 35h0m-84-3.5h0m-91 3h0m206.5-70.5h0m-130.5-19.5h0m-148.5 82.5h0m14-6.5h0m41.5-52.5h0m106.5 57.5h0m-47.5-6h0m-69-11.5h0m127.5-27.5h0m-14 34.5h0m-57-0.5h0m-10.5-16h0m10 19h0m118-50h0m-183.5 7.5h0m65 31h0m76.5 8.5h0m1.5-4h0m85.5 21.5h0m-118-46h0m-22 39h0m-57-0.5h0m26.5 2.5h0m-36.5-1h0m221-90.5h0m-205.5 91h0m201-58.5h0m-43.5 35.5h0m35.5 29h0m-31-20h0m-245 8.5h0m108.5-74.5h0m205 55.5h0m-306-5h0m10 39.5h0m141-1h0m125-42.5h0m-210-71.5h0m134.5 110.5h0m-53-29h0m18 26.5h0m50-10.5h0m-160 3h0m276.5 8h0m-176-17.5h0m-129.5 0.5h0m71.5-101.5h0m180.5 25h0m-186-27.5h0m-82.5 120.5h0m34-67.5h0m137 65h0m91-28.5h0m4 28h0m101-64h0m-142.5 24h0m-122 36h0m141.5-71h0m-201 47.5h0m27-5h0m-2.5 1h0m132.5 15h0m-64 18.5h0m-48-8h0m314.5 14h0m-362.5-60h0m133 42h0m108.5 18h0m-235.5-71.5h0m252 49h0m-2-9.5h0m-78 9.5h0m-140-76.5h0m124 70.5h0m-206.5 1.5h0m99-16h0m43 46h0m115-40.5h0m-188.5 5.5h0m287 12h0m-221.5-73h0m-146 72h0m64-11.5h0m241.5 15.5h0m-264-9h0m-31.5 0.5h0m89 15h0m96.5 7.5h0m-168.5-56.5h0m209.5 45h0m-93-76h0m-68.5 16.5h0m-16.5 70h0m128-47.5h0m-50.5 16h0m149 37.5h0m16-16.5h0m-268.5 17.5h0m309.5-3.5h0m-41.5-0.5h0m18.5 3h0m-14-7h0m-81 6h0m92.5-69.5h0m-84 63.5h0m-21.5-3.5h0m-158.5-4.5h0m201-116.5h0m-47.5 124.5h0m-170.5-40.5h0m-8.5 25h0m355.5 8h0m-369-51.5h0m253 31h0m-57.5-11.5h0m-142 29.5h0m-6.5 9.5h0m297-22h0m-135-13.5h0m88.5 10h0m-56 8.5h0m-96.5 19h0m-116.5-29.5h0m367 12h0m-306-33.5h0m145.5-11.5h0m-150 35.5h0m161.5 28.5h0m-255.5-31.5h0m215.5-36h0m-117.5 38h0m213.5 18h0m-193.5-27.5h0m292 28.5h0m-64.5 11.5h0m-314.5-27.5h0m-8.5-81h0m114.5 76h0m105.5 20.5h0m-237-77h0m298.5 71.5h0m33.5-4.5h0m-343-75.5h0m40.5 102h0m4.5-14h0m180 5h0m-161.5-37h0m210.5-22h0m-258-10h0m121 44h0m23.5 23h0m149-50h0m-290-40.5h0m131 92h0m-12.5-67h0m-44 57h0m32.5 10h0m-4-72.5h0m-51 33h0m188 45.5h0m-81.5-9.5h0m125.5-6.5h0m45.5 1h0m-339.5 5.5h0m-5.5-38h0m222.5-29.5h0m-34-2h0m-127.5 31h0m-60 42h0m321 4h0m-147-37.5h0m-104.5 25h0m40 3.5h0m-70-2h0m87.5 4h0m10 3h0m-128.5-55h0m287 47.5h0m-252.5 13.5h0m114-16h0m-115-18h0m194 28.5h0m-148-0.5h0m-32.5-23h0m267.5 32.5h0m-39.5-13.5h0m50.5 12.5h0m-200.5-24.5h0m-63-19h0m225.5 36.5h0m-248-19.5h0m249-2.5h0m-44.5-52.5h0m-69.5 54.5h0m-138-10.5h0m252 0.5h0m14.5 31h0m-95.5 0h0m-215.5-20h0m61.5-10.5h0m137 18.5h0m179.5 15h0m-321-26.5h0m-53-41.5h0m104.5 59h0m27.5-15h0m-23.5 9.5h0m45.5-57h0m-55.5-26.5h0m-29.5 65.5h0m-50 2.5h0m339.5 31.5h0m-145-1.5h0m2.5-23.5h0m-184-25h0m65.5 17.5h0m112 4.5h0m-123.5-23h0m79-56.5h0m148 103h0m-106.5-43h0m-124.5-6.5h0m84 23h0m162.5 33h0m-296-6h0m-5-8.5h0m201-40h0m-21.5 18.5h0m-60-25h0m70 3h0m-171-25h0m36.5 70h0m161.5-30h0m71-41h0m-119 76h0m9-27.5h0m112.5 33.5h0m-318.5-59.5h0m56-12h0m200 26h0m-23.5 25h0m-241-52h0m207 26.5h0m-147.5-61.5h0m64 93h0m-7.5-3h0m101.5-63h0m149.5 61h0m-216.5-9.5h0m12 17.5h0m191-22h0m-156.5 30h0m-123-120h0m231 117.5h0m-213.5-14h0m-82.5 3.5h0m100-24.5h0m13 7h0m144-11.5h0m-166.5 38.5h0m106-40h0m-90.5-32.5h0m50.5-10.5h0m-118 60.5h0m18.5-69h0m82 65h0m159.5 14h0m-230-34h0m-38 22h0m-3.5-65.5h0m239-7.5h0m-162 37.5h0m16.5 49h0m-85 1h0m118.5 3.5h0m-47.5-0.5h0m-80.5-16h0m180 23.5h0m-64-14.5h0m-29.5-108.5h0m-67 121.5h0m101-30.5h0m-134.5 20h0m88.5 18h0m1.5-22h0m-96.5-51h0m170 53.5h0m74.5 4h0m-242.5-32.5h0m241.5-51h0m-160.5 88h0m292.5 6.5h0m-149.5-32h0m-230 24.5h0m187 3.5h0m-162.5-30h0m128 7.5h0m-154-16.5h0m248.5-26h0m-11.5 32h0m-94 24.5h0m-94.5 10.5h0m-36-92.5h0m138 89h0m37-10.5h0m-180.5-8h0m160-32h0m-128 38.5h0m184 6h0m-156.5-24h0m290 27.5h0m-68-5h0m-114 15h0m92 1h0m-265.5-6.5h0m127 3h0m-81-99h0m49 96h0m33-65h0m-64.5 44.5h0m136.5 4.5h0m129.5 4h0m-308.5-97h0m166 104h0m-142.5-78h0m266.5 83.5h0m-279 0h0m262.5-75.5h0m-149.5-50h0m13 117.5h0m-97-18.5h0m-14.5 33.5h0m80.5-9.5h0m60-63.5h0m-97 5.5h0m291 70h0m-144.5-5.5h0m-146.5-49.5h0m15-67h0m46 113.5h0m181.5-13.5h0m-170.5 21.5h0m-78.5-11h0m129.5-23.5h0m-155.5 24h0m190-13h0m179.5-23.5h0m-423.5 39h0m36.5-8h0m278.5-32.5h0m-285-39h0m279.5 79.5h0m-24-28h0m-63 32.5h0m69-6h0m-34.5-1.5h0m-214-40.5h0m192.5 50.5h0m-4-27h0m-132.5 25h0m224.5-5h0m-182.5-17.5h0m-65 17.5h0m-89-38.5h0m146-30.5h0m-95.5 58.5h0m54.5-1.5h0m-16.5 15.5h0m-10-34h0m138.5 9.5h0m100 3.5h0m-258 10h0m225-16h0m25.5 21.5h0m-151-96h0m-91 37h0m143.5 42.5h0m40 24h0m41 1.5h0m-264.5-6.5h0m349-55h0m-120 36.5h0m-125.5-3h0m-41-33.5h0m0.5-41h0m-17 99h0m57.5-0.5h0m-126-82h0m134.5-1h0m-73.5 63h0m143 10.5h0m-41 13h0m-147-10h0m323 9.5h0m-317.5-10h0m158-12.5h0m-46-4h0m177.5 24h0m-192.5-31.5h0m-18 9h0m171 18h0m-238.5-23h0m6.5-92.5h0m51.5 66h0m250 46.5h0m-254-73h0m240 85h0m-126.5-22h0m-128 22.5h0m65-13h0m92-3h0m-181-47.5h0m104.5 49.5h0m-105-71h0m-54-151.5h0m85 0.5h0m-80.5 35.5h0m-4 11.5h0m107.5-11.5h0m61 28h0m-48 7h0m-5 15h0" stroke="#ff0000" stroke-width="3.3" stroke-linecap="round" fill="none"/>
<path d="M280.5 446h0m16.5-18.5h0m302.5-4h0m104 15.5h0m-309-13.5h0m173 18h0m-348-5.5h0m145 94.5h0m237-67.5h0m-291-35.5h0m287.5 2.5h0m-49.5-11h0m-50 18.5h0m25-17h0m-59 39.5h0m60.5-23.5h0m-238.5 6.5h0m208.5-18h0m-65.5 20h0m-19-6h0m-142.5-14.5h0m173 9h0m138 13.5h0m64.5-10.5h0m-42.5-5.5h0m-83 32h0m105 4.5h0m5.5-45h0m-90 4h0m-125 55h0m3.5-24h0m202.5-24h0m-295-2h0m326 5.5h0m-157.5 17h0m23.5 10.5h0m134 35.5h0m-60-71.5h0m-134 22.5h0m131.5-10.5h0m-10-20.5h0m121 19.5h0m-152.5 0.5h0m-33.5-10.5h0m-153.5-5.5h0m363.5-6.5h0m-142 10.5h0m-188-7h0m159.5 6.5h0m-83 11.5h0m1-14.5h0m-58.5-1.5h0m-91.5 47h0m211.5-46.5h0m166-5h0m-456 54.5h0m191-9h0m132.5-31h0m-173 4.5h0m101-5.5h0m141 7.5h0m-266.5 39.5h0m36.5-19h0m112.5-3.5h0m-101-40h0m43.5 10h0m10 33.5h0m-156.5-6h0m266-21.5h0m-362 69.5h0m422.5-67h0m-394.5 15.5h0m281 20h0m-71.5-32h0m255.5 3h0m-300.5 5h0m231.5-27.5h0m-403.5 107.5h0m353.5-96.5h0m-299.5 79.5h0m88.5-29.5h0m131-41.5h0m-220 65.5h0m238.5-62h0m26-16h0m-36.5 47.5h0m103.5-53h0m-54 58h0m-346-55h0m499.5 13h0m-105 8h0m24-10h0m-363 2.5h0m-16 3.5h0m222-24.5h0m-21 11h0m189-10h0m-298 9.5h0m362-4.5h0m-68.5 50.5h0m-338-37.5h0m98.5-17h0m311 28.5h0m-211.5-6h0m-243.5 5h0m97-5h0m97.5 12h0m91.5 43h0m-298-66h0m406.5 20h0m67.5-13.5h0m-362.5 19.5h0m167.5 10.5h0m-47.5-44.5h0m108 11h0m92.5-10h0m-101.5-6.5h0m-34 11h0m-261 1h0m130 1h0m-198 17h0m339 24.5h0m-197.5 17h0m204.5-65.5h0m-17 0.5h0m-21.5 5h0m-109 13.5h0m102 46h0m-33.5-55h0m-256.5-2h0m353 15.5h0m96.5-18h0m-126 36h0m35.5-5h0m-144-15.5h0m49.5 8.5h0m-71.5-31.5h0m103 0.5h0m-156.5 1.5h0m99.5 31h0m12-31.5h0m235-2h0m-208 9.5h0m-246.5 19.5h0m228 19.5h0m127-23.5h0m79.5-10.5h0m-300.5 34.5h0m184-48.5h0m-242.5 52h0m249-27.5h0m-137 16.5h0m87.5-31h0m56.5-2h0m-2-8.5h0m-116 31.5h0m-253.5 44h0m344-17.5h0m-109.5-46.5h0m192.5 48.5h0m-401-51.5h0m343.5-8h0m-161.5 40h0m35.5-18h0m-47-22h0m-191 2.5h0m428-0.5h0m-112-1.5h0m-60.5 2.5h0m8.5 16h0m156 29.5h0m-8-43h0m-195.5 58h0m-197-50.5h0m351 10h0m-15-24h0m-19.5-1h0m41.5 10h0m-81.5 5.5h0m-2 77h0m129.5-68h0m-366.5 45.5h0m267.5-68h0m39.5 95h0m52-29h0m-220.5 22h0m-208-57.5h0m376.5-21.5h0m-82 3.5h0m-139.5 34h0m155.5-45h0m-26 17.5h0m-276.5 39.5h0m340 30.5h0m-175.5 1.5h0m259.5-53.5h0m39.5-28.5h0m-173.5-10h0m-191.5 117.5h0m375.5-113h0m-136 70.5h0m82-15h0m-312.5-4.5h0m261-48h0m-141 3h0m18 57h0m-169-48h0m260-21h0m119.5 11.5h0m-387 13.5h0m53.5 11h0m207-20h0m-44.5 12h0m-108 60.5h0m101.5-50h0m-28-37h0m-178.5 69h0m191.5-69h0m111.5 17.5h0m-350.5 2h0m71.5 24.5h0m-101-40.5h0m90.5 76h0m66.5-36.5h0m-137 13.5h0m277.5-52h0m7 102.5h0m37-64h0m-202.5 31.5h0m12.5-27.5h0m112-42.5h0m84.5 52.5h0m-119.5-41h0m-92.5 62h0m124-59h0m-118 64.5h0m69.5-64h0m-155 59h0m269.5-73h0m59.5 8h0m-231 58h0m-16.5-32h0m151-10h0m58-30.5h0m-26.5 10.5h0m30 17.5h0m-295 47.5h0m8-56.5h0m76-4h0m254.5-15h0m-168 1.5h0m195.5 54.5h0m-345-29h0m106 39.5h0m222-63h0m-217.5 35h0m44-28.5h0m-84.5 12.5h0m121 15.5h0m103.5-17h0m-112-8h0m-7.5 50.5h0m57.5-57h0m142.5 1.5h0m-157.5-8.5h0m34.5 30.5h0m105-8h0m-249.5 63h0m-81.5-73.5h0m319.5 7.5h0m-242 18.5h0m140-8.5h0m-61.5 31h0m-216 17.5h0m52-78.5h0m30 35h0m10.5 17.5h0m228.5-38h0m-46.5-13.5h0m49.5 42h0m34-25.5h0m-83.5 39h0m-68-47h0m217 0.5h0m-210-8h0m-175.5 86h0m-3-43.5h0m255.5-43.5h0m174.5-1h0m-297.5 67.5h0m209-23h0m-97 12.5h0m-104.5 9.5h0m204-47h0m-359 20.5h0m148-16.5h0m-3.5-18.5h0m145.5 23.5h0m-128-24h0m-31.5 10.5h0m235.5 21.5h0m-200.5-28h0m109 15h0m-141.5 9h0m137.5-5h0m-116-12.5h0m-18 26.5h0m301.5-20h0m-263.5 19.5h0m142.5-10h0m-91-8.5h0m-283 12h0m326.5-11h0m-113.5 10.5h0m48-31.5h0m-24 34h0m-194.5-19.5h0m365 3h0m-353.5 20.5h0m449-22h0m-226-6.5h0m-254.5 38.5h0m335.5-41.5h0m26.5 37h0m-78-22.5h0m51 37.5h0m72-40.5h0m-4.5-6.5h0m-315 62.5h0m-69-11.5h0m13 40.5h0m140.5-56h0m162.5-35.5h0m28 29.5h0m106-26.5h0m-75-5h0m-256 23h0m211-27.5h0m-155 6h0m242 50h0m-157-47h0m64.5 5h0m-49-1h0m-6-17.5h0m-137 16h0m60.5 24h0m90 14.5h0m-117-31.5h0m202-19h0m34 10.5h0m-241.5-15h0m51 31.5h0m62 9h0m-74.5-22.5h0m19-13.5h0m-37 40.5h0m-42-23h0m229 0h0m-71-9.5h0m-1 18h0m-125-8.5h0m152.5 7h0m-204.5-14.5h0m327.5 2.5h0m-413-14h0m126 7h0m12.5 25.5h0m218-18.5h0m-123.5-12.5h0m152.5-1h0m-240 49.5h0m125 3.5h0m-218.5-33h0m125.5 16.5h0m-163-38h0m-70 21h0m348-13.5h0m60.5 21h0m16-26.5h0m-42 35.5h0m-49 14h0m-92-29.5h0m88.5 6h0m-114-28.5h0m225 0.5h0m-293 69h0m14-52h0m57 8h0m-131.5 39h0m11-48h0m241 31h0m-308.5-9h0m149-1h0m30.5-18.5h0m15.5-0.5h0m-101.5 21.5h0m95-17.5h0m134-5.5h0m-285.5 0h0m288-2h0m14.5-0.5h0m-276 13.5h0m310.5-13h0m-220.5 28.5h0m89.5 1h0m153.5-42.5h0m-433 55h0m257-39.5h0m8 34h0m-157.5-38.5h0m-65.5 1.5h0m188.5-17.5h0m-134 16.5h0m-23-6.5h0m224 4.5h0m77-12.5h0m-30.5 42.5h0m-142.5 15h0m190-23h0m-81.5 25.5h0m-188-18h0m-43.5 74h0m190-109.5h0m93.5 3.5h0m-97 34h0m-123.5-36h0m-41 20.5h0m-81 37.5h0m317-4h0m81-59h0m56 3.5h0m-200-5.5h0m-59-1.5h0m11.5 28.5h0m-122.5-21h0m360.5-8h0m-383 31h0m166.5 52.5h0m-138-70h0m-64 57h0m75-60.5h0m113 30.5h0m189 1.5h0m-443.5-5h0m309-23h0m144-11h0m-143 34h0m76.5-31.5h0m-160 45.5h0m154.5-15h0m-107.5-38h0m184.5 7h0m-264 48.5h0m-39-0.5h0m171.5 60h0m-81-102.5h0m-239.5 11.5h0m30.5 4.5h0m247-24h0m136.5 45h0m-281.5-29.5h0m211 9.5h0m-347-12h0m244.5-9h0m127 9.5h0m-35 13h0m-106.5-31.5h0m-4.5 13.5h0m136 26h0m-312.5-29.5h0m345 3h0m23.5 7.5h0m3.5 23h0m-305.5-11h0m48.5-21h0m108 11.5h0m206.5-14h0m-146.5 1.5h0m104.5-7.5h0m48.5 59.5h0m-42.5-60h0m-430 60.5h0m254.5-17.5h0m65-19.5h0m75-16h0m-133.5 25h0m-43.5-32.5h0m-44 17.5h0m-69-13.5h0m377.5-5h0m-50 21.5h0m-417.5 29h0m106.5-30.5h0m214.5 14.5h0m-10.5-23.5h0m-276-6h0m171.5-5h0m-157 22h0m154 15.5h0m187-14.5h0m-131.5 0.5h0m77.5-16.5h0m-62 38.5h0m49.5 13h0m-194-6.5h0m175.5 38h0m-109-79h0m-69.5 25h0m124.5-2.5h0m-179 38.5h0m151.5-45h0m134.5-15h0m-134.5 23.5h0m-153.5-17.5h0m-51.5 27h0m303-2h0m-286 8h0m42-8.5h0m346-31.5h0m6.5-9h0m24 1.5h0m-77.5-3.5h0m-109 1h0m-196.5 36.5h0m84.5-12h0m149.5-16h0m-185.5 0.5h0m306-3h0m-131 10.5h0m-170-7.5h0m145-1.5h0m-6 3h0m110.5 7.5h0m-45 82.5h0m-191.5-70h0m16-24.5h0m-47.5 12h0m-102 87.5h0m270.5-64.5h0m73-38h0m-342 18h0m286.5 5h0m135.5 10.5h0m-73-18.5h0m-14.5 28h0m-132.5-27.5h0m89.5-9h0m-91.5 37h0m-47-19h0m172.5-24.5h0m-260.5-2.5h0m236.5 59h0m-242.5-23h0m126.5-2h0m175.5-15.5h0m-86.5 14.5h0m-148-24.5h0m39 76h0m188.5-45.5h0m-164.5 78h0m110-64h0m89-51h0m-319 1.5h0m8.5 7h0m-31 3h0m316-14.5h0m-336.5 25.5h0m-39.5-24.5h0m416.5-1h0m-207 4h0m168-3.5h0m-294.5 33h0m147-21h0m-127.5 24.5h0m196.5-11.5h0m-276-1h0m381.5-11h0m-215 15h0m123.5-13h0m-268.5 36.5h0m301-25h0m-72 13h0m23-8.5h0m166 3h0m-221 48.5h0m-88.5-48h0m164-26.5h0m31-1h0m-90.5 3.5h0m109.5 16.5h0m-140.5-24h0m-182-4.5h0m271.5 1h0m-209.5 49h0m98.5-23h0m-221.5 29h0m435-51h0m-25.5 11.5h0m44 6h0m-11.5-15h0m-50.5 14h0m-219 85h0m234.5-65h0m-57 42.5h0m-31.5-74h0m56.5 10.5h0m-65.5-11h0m-51.5 16.5h0m19.5-19h0m-201.5 14h0m170-6.5h0m32.5 10h0m-33 14.5h0m87.5-18h0m-159 59h0m160.5-53.5h0m-198.5-4h0m56.5 48.5h0m220.5-50.5h0m9-21.5h0m-187.5 24.5h0m-63.5 8h0m205-18h0m-4 1.5h0m-103 15.5h0m-63.5-20.5h0m196.5 8.5h0m56.5 25h0m-49.5-8.5h0m-277.5-18.5h0m41.5 25.5h0m56.5 18h0m257.5-39h0m-396-12h0m194 83.5h0m128-51h0m-122-23h0m125-14.5h0m-398.5 28h0m220-28.5h0m-181 53.5h0m4.5-45h0m329.5 9h0m-323.5-8.5h0m215.5 5h0m76 23.5h0m-147.5 25h0m-27-34h0m-50.5 12h0m186-13.5h0m64 7.5h0m-80.5-21h0m-86 8h0m-6.5 67.5h0m182.5-49.5h0m43-29h0m-35.5-9.5h0m-232 39h0m99-44h0m-87.5 25h0m-164.5-4h0m94 21.5h0m206-12.5h0m-319.5 30.5h0m433-56h0m-96 0h0m-36.5 51.5h0m9-31h0m139.5 4h0m-233 13.5h0m-45-20h0m253-20.5h0m-137 27h0m4-17.5h0m-133-1h0m325.5 24.5h0m-202.5-10h0m57.5-14h0m72 10.5h0m-167-8.5h0m-217.5 0h0m252-11h0m-134.5 3h0m126 72.5h0m45-69h0m-96.5 21h0m-71-28h0m277 6.5h0m-365.5 85h0m248.5-53h0m28.5-30.5h0m-47.5 103h0m63-88h0m-212 14.5h0m-95.5-6.5h0m178 11h0m197.5 30h0m-194.5-62.5h0m66 0.5h0m-68.5 42.5h0m-217.5-33h0m346.5-10.5h0m-39.5 40h0m32.5 25.5h0m-134 34h0m6-31h0m-132.5-59.5h0m117.5 83.5h0m304.5-98h0m-65 72h0m-151.5-58.5h0m-58.5-8.5h0m248.5 43.5h0m-152.5-11h0m-298-15.5h0m106-26h0m300.5 3h0m-1-2h0m-239 48.5h0m-15.5-28.5h0m21 17.5h0m-65.5 2h0m203-33.5h0m-312-3.5h0m144 40.5h0m26.5 5.5h0m33.5-33.5h0m-80 33.5h0m-112.5 5h0m281.5-20.5h0m23 8.5h0m-84 35.5h0m-108 33.5h0m-68.5-102.5h0m204.5-7h0m-99 2h0m246 28h0m-168.5-21h0m103.5-2h0m-103-9h0m206.5 20.5h0m-60.5 47h0m-85-55h0m74.5-7.5h0m-12.5 10.5h0m-276.5 1h0m106-14.5h0m129.5 19.5h0m-115.5-0.5h0m20.5 11h0m65.5-28.5h0m4.5-0.5h0m99.5 4.5h0m30.5 6.5h0m-26.5-3h0m-88.5 28h0m13-14h0m-91.5-23.5h0m-82.5 0h0m224.5-0.5h0m24 36h0m-66 24.5h0m-124-15.5h0m28.5-36.5h0m75 40h0m-131.5-38h0m267.5 4.5h0m-186 17h0m-5-6h0m55-15h0m-159-9.5h0m52 1h0m220.5 53.5h0m-212.5-57h0m48 37h0m30-27.5h0m-42.5 17h0m-141.5-4.5h0m142.5 63.5h0m-3-58.5h0m150-7h0m-44.5 10.5h0m6-30.5h0m-90 47.5h0m-84.5-24h0m138.5 41.5h0m-53.5-1h0m-8.5 7h0m5-31h0m135-37.5h0m-228 11.5h0m-141 19h0m276-34h0m-37.5 55h0m-288.5 0h0m365-47.5h0m-181.5 27.5h0m30-22h0m35.5 32h0m24-30.5h0m24.5-10.5h0m-55.5 11h0m-26 15.5h0m16.5 6.5h0m-10-12h0m175.5 79h0m25-45.5h0m-409-47h0m466-6.5h0m-238.5 42h0m-37 15h0m170.5-48.5h0m19.5 36.5h0m6.5 6h0m-35.5 47h0m-96.5-98.5h0m-194.5 29h0m136.5 7.5h0m102-36.5h0m-133 1h0m108.5 59.5h0m24.5-59.5h0m-60.5 3h0m24 7h0m-126.5-13.5h0m163.5 54.5h0m-43-30h0m-142.5-10.5h0m246 5.5h0m-171.5-2h0m-7.5 9h0m85.5-17h0m-177 62h0m240-58.5h0m-55 2.5h0m-273.5 28.5h0m241.5-40.5h0m94 26.5h0m-224.5 8.5h0m-35.5-23.5h0m275 15.5h0m-175-26.5h0m84 3.5h0m75.5-5h0m-360 11.5h0m380 1h0m-306 10h0m162.5 7h0m141.5-13h0m-314.5 57h0m258-77h0m51-1h0m-363 41.5h0m232.5 20.5h0m93 11.5h0m-131.5-48h0m143-9h0m-89.5 20h0m54.5-7h0m72.5 14.5h0m-34.5-16.5h0m32.5 50.5h0m-152.5-32h0m-21-25h0m22.5-19.5h0m154.5 10.5h0m-104 6.5h0m9.5 19h0m-102 13.5h0m144-34.5h0m-61 48.5h0m-67-28.5h0m118.5 49.5h0m-53.5-57h0m-147 22.5h0m68.5-46h0m198.5 21.5h0m-353.5 2.5h0m263.5-12.5h0m-73.5-9h0m-75 48h0m181.5-18.5h0m-2.5-14.5h0m146.5 2h0m12 47h0m-160-22.5h0m-38.5 42.5h0m74-62.5h0m-103.5-16h0m6.5-5.5h0m-266 64h0m206-28h0m128.5-25h0m-149-7h0m-9 23h0m127-12.5h0m109.5-5h0m80 34h0m-209-18.5h0m23.5 4h0m7-22h0m-31.5-5h0m32.5 0h0m2.5 21h0m50.5-20.5h0m-102.5-5h0m48 4h0m-119.5 44.5h0m168-36.5h0m-9.5 29.5h0m52.5-20.5h0m-35.5-17.5h0m-262 27.5h0m-80.5-17.5h0m-5 8h0m233 21h0m-31.5-4h0m66-2.5h0m-8.5 8.5h0m-46.5-25h0m107 14.5h0m68-28h0m-38.5 48h0m34-45h0m-45.5-10.5h0m-13 37.5h0m-118.5-32.5h0m17 30.5h0m140.5-15h0m-271.5-12h0m294 6h0m-42-12h0m-148.5-0.5h0m-185 24.5h0m143 39.5h0m22.5-18h0m82-39.5h0m-39 4h0m-123 8.5h0m119 2.5h0m63-11h0m-170.5 62.5h0m206.5-22h0m-22.5-52.5h0m159-2h0m-89.5 32h0m-222.5 67h0m185-84.5h0m-23 3.5h0m4.5-3.5h0m-204 163h0m-68.5-23h0m105.5 5h0m-48.5-13h0m-4-12h0m6.5-1.5h0m62.5-1.5h0m-6-2h0m5-7.5h0m-36.5-4.5h0m173 20h0m-10-14h0m82.5-7.5h0m-34.5-2h0m-11.5-4.5h0m16.5-6.5h0m82-0.5h0m-169.5 64h0m2-8.5h0m11-3h0m-227 0h0m105.5 4h0m-120.5-30h0m193.5-3h0m318-120h0m0-7.5h0m39.5 12.5h0" stroke="#0000ff" stroke-width="3.3" stroke-linecap="round" fill="none"/>
<rect x="178.7" y="50.4" width="748.9" height="573.1" fill="none" stroke="#555555" stroke-width="1.6"/>
<line x1="197.8" y1="623.5" x2="197.8" y2="627.5" stroke="#333" stroke-width="1.3"/>
<text x="216.8" y="664.5" font-size="28.5" text-anchor="middle">−2.5</text>
<line x1="339.8" y1="623.5" x2="339.8" y2="627.5" stroke="#333" stroke-width="1.3"/>
<text x="353.6" y="664.5" font-size="28.5" text-anchor="middle">0.0</text>
<line x1="481.9" y1="623.5" x2="481.9" y2="627.5" stroke="#333" stroke-width="1.3"/>
<text x="496" y="664.5" font-size="28.5" text-anchor="middle">2.5</text>
<line x1="623.9" y1="623.5" x2="623.9" y2="627.5" stroke="#333" stroke-width="1.3"/>
<text x="638.8" y="664.5" font-size="28.5" text-anchor="middle">5.0</text>
<line x1="766" y1="623.5" x2="766" y2="627.5" stroke="#333" stroke-width="1.3"/>
<text x="781" y="664.5" font-size="28.5" text-anchor="middle">7.5</text>
<line x1="908" y1="623.5" x2="908" y2="627.5" stroke="#333" stroke-width="1.3"/>
<text x="928.2" y="664.5" font-size="28.5" text-anchor="middle">10.0</text>
<line x1="174.7" y1="110.3" x2="178.7" y2="110.3" stroke="#333" stroke-width="1.3"/>
<text x="157" y="116.6" font-size="28.5" text-anchor="end">5.0</text>
<line x1="174.7" y1="238.1" x2="178.7" y2="238.1" stroke="#333" stroke-width="1.3"/>
<text x="157" y="244.4" font-size="28.5" text-anchor="end">2.5</text>
<line x1="174.7" y1="365.8" x2="178.7" y2="365.8" stroke="#333" stroke-width="1.3"/>
<text x="157" y="372.1" font-size="28.5" text-anchor="end">0.0</text>
<line x1="174.7" y1="493.6" x2="178.7" y2="493.6" stroke="#333" stroke-width="1.3"/>
<text x="158.5" y="499.9" font-size="28.5" text-anchor="end">−2.5</text>
<line x1="174.7" y1="621.3" x2="178.7" y2="621.3" stroke="#333" stroke-width="1.3"/>
<text x="158.5" y="627.6" font-size="28.5" text-anchor="end">−5.0</text>
<text x="435.6" y="186.3" font-size="28.5">CRX</text>
<line x1="391" y1="224" x2="432" y2="184.5" stroke="#000" stroke-width="2"/>
<text x="414.5" y="339.8" font-size="28.5">NRL</text>
<line x1="364.7" y1="354.6" x2="410" y2="327.5" stroke="#000" stroke-width="2"/>
<text x="658.2" y="326.6" font-size="28.5">OTX2</text>
<line x1="685.1" y1="325.1" x2="724.1" y2="365.8" stroke="#000" stroke-width="2"/>
<text x="663.4" y="505.5" font-size="28.5">NEUROD1</text>
<line x1="685.1" y1="483" x2="720.3" y2="435.2" stroke="#000" stroke-width="2"/>
<text x="854.4" y="477.7" font-size="28.5">MYC</text>
<line x1="810.5" y1="434.3" x2="850" y2="474.7" stroke="#000" stroke-width="2"/>
<text x="542" y="36.6" font-size="28.5" text-anchor="middle">HDMB03</text>
<text x="579" y="704" font-size="29" text-anchor="middle">log2(FPKM)</text>
<text x="0" y="0" font-size="29" text-anchor="middle" transform="translate(96.5 305.8) rotate(-90)">log2(Foldchage)</text>
<text x="3" y="33.6" font-size="38" font-weight="bold">A</text>
<line x1="1152.4" y1="52.8" x2="1152.4" y2="629.2" stroke="#ebebeb" stroke-width="1.1"/>
<line x1="1225.8" y1="52.8" x2="1225.8" y2="629.2" stroke="#ebebeb" stroke-width="1.1"/>
<line x1="1299.2" y1="52.8" x2="1299.2" y2="629.2" stroke="#ebebeb" stroke-width="1.1"/>
<line x1="1372.6" y1="52.8" x2="1372.6" y2="629.2" stroke="#ebebeb" stroke-width="1.1"/>
<line x1="1446" y1="52.8" x2="1446" y2="629.2" stroke="#ebebeb" stroke-width="1.1"/>
<line x1="1519.4" y1="52.8" x2="1519.4" y2="629.2" stroke="#ebebeb" stroke-width="1.1"/>
<line x1="1592.8" y1="52.8" x2="1592.8" y2="629.2" stroke="#ebebeb" stroke-width="1.1"/>
<line x1="1666.3" y1="52.8" x2="1666.3" y2="629.2" stroke="#ebebeb" stroke-width="1.1"/>
<line x1="1739.7" y1="52.8" x2="1739.7" y2="629.2" stroke="#ebebeb" stroke-width="1.1"/>
<line x1="1813.1" y1="52.8" x2="1813.1" y2="629.2" stroke="#ebebeb" stroke-width="1.1"/>
<line x1="1886.5" y1="52.8" x2="1886.5" y2="629.2" stroke="#ebebeb" stroke-width="1.1"/>
<line x1="1133.9" y1="621.1" x2="1892.3" y2="621.1" stroke="#ebebeb" stroke-width="1.1"/>
<line x1="1133.9" y1="546.9" x2="1892.3" y2="546.9" stroke="#ebebeb" stroke-width="1.1"/>
<line x1="1133.9" y1="472.7" x2="1892.3" y2="472.7" stroke="#ebebeb" stroke-width="1.1"/>
<line x1="1133.9" y1="398.5" x2="1892.3" y2="398.5" stroke="#ebebeb" stroke-width="1.1"/>
<line x1="1133.9" y1="324.3" x2="1892.3" y2="324.3" stroke="#ebebeb" stroke-width="1.1"/>
<line x1="1133.9" y1="250.1" x2="1892.3" y2="250.1" stroke="#ebebeb" stroke-width="1.1"/>
<line x1="1133.9" y1="175.9" x2="1892.3" y2="175.9" stroke="#ebebeb" stroke-width="1.1"/>
<line x1="1133.9" y1="101.7" x2="1892.3" y2="101.7" stroke="#ebebeb" stroke-width="1.1"/>
<path d="M1542 344.5h0m-17.5-3.5h0m-191.5-23h0m-16 25h0m211.5-7h0m81-20h0m-233 6.5h0m7 31.5h0m166-65.5h0m-79 7.5h0m-17.5 5.5h0m-22 11.5h0m-176-2h0m210.5 2.5h0m-51-10h0m30 16h0m48 4.5h0m46-11.5h0m-19 45h0m40-65.5h0m-365.5 53.5h0m335-52h0m-36 53.5h0m115.5-29.5h0m69.5 5h0m-491.5-21h0m410-6.5h0m-199 36h0m122-11h0m48.5 24.5h0m38 4.5h0m73.5 1.5h0m-157-37h0m90.5 4h0m-134 39.5h0m-89-28h0m-35 9.5h0m124-20.5h0m81.5 16.5h0m-96.5-4h0m73.5-22.5h0m-207.5-5h0m398 53h0m-256.5-44.5h0m124 42h0m-41.5-47.5h0m20.5 19.5h0m-132 9h0m-129.5-32h0m152.5 19h0m-40.5 7.5h0m22.5-3.5h0m346.5-0.5h0m-376.5 0h0m158-7h0m-217 10h0m151-12.5h0m-79.5 31.5h0m-36.5-12.5h0m52 5.5h0m227 20h0m-168-18h0m-19 3h0m99-36.5h0m-103.5 3.5h0m-165.5 9h0m19.5 16.5h0m215.5 11h0m-81-52.5h0m-90 17h0m339 7h0m-314.5-6.5h0m171.5 18.5h0m-155.5 15h0m140.5-4.5h0m-72-32h0m-269.5 18.5h0m329.5-10h0m-137-3.5h0m47.5 17.5h0m89.5-8.5h0m261.5 20h0m-347-30h0m71.5-8h0m-59 24.5h0m57-23.5h0m-178 16.5h0m447.5 4h0m-457 24h0m188-21h0m-275.5 28h0m27-42h0m337.5 14.5h0m-60-8h0m-266.5-32h0m112 13.5h0m-144.5 37h0m411-20h0m-68 22h0m-33-27h0m-29.5 16.5h0m-9-24h0m-320.5-12h0m31.5 42.5h0m169 10h0m89.5-16h0m93-33.5h0m-135.5 9h0m-65.5-5h0m126.5 32.5h0m171.5 10.5h0m-219-21h0m24.5-33h0m-89 59.5h0m153-36.5h0m-217-6.5h0m187.5 1h0m-150.5 4.5h0m152 23.5h0m-55-37h0m114 25.5h0m-94-1.5h0m145.5-25h0m-181.5 14h0m-274.5 24h0m545.5-23h0m-166-5h0m24 49h0m2.5-56.5h0m-265 24h0m291 3.5h0m-341.5 25.5h0m137-9.5h0m-62.5-33h0m119.5-22.5h0m-104 36.5h0m10-28.5h0m124 53.5h0m-148.5-30.5h0m118-24.5h0m68 41.5h0m-351.5-4.5h0m438.5-3h0m-65-29.5h0m-1 44.5h0m-10.5-23h0m155.5-4h0m-363-3h0m-66.5-19.5h0m279.5 59h0m-364-54.5h0m327 16.5h0m-2-30.5h0m143 40h0m-364.5 8h0m134.5 8h0m134-19.5h0m-135 28h0m-20-45h0m-45.5 21.5h0m-168.5 19h0m292 1h0m-234 7.5h0m215-20h0m86-15.5h0m-102 16h0m60 12.5h0m181.5-4.5h0m-330-53h0m160 28.5h0m8 21h0m-51-27h0m-54 23.5h0m-72 14h0m84-10.5h0m56-21.5h0m233 19h0m-324.5 16h0m208-38.5h0m-36.5 25.5h0m-139.5-18h0m66.5-20.5h0m-298 31.5h0m545-25.5h0m-273 30h0m-126 16h0m228.5 2h0m40.5-15h0m-63.5-12h0m199 22.5h0m-350-38h0m90.5 29h0m-35.5-3.5h0m62.5 14h0m-116-50.5h0m130.5 1h0m-68.5-3.5h0m-27 35h0m101-14.5h0m-139 13h0m20.5-19.5h0m403 22h0m-383.5 2.5h0m-17 3h0m287-3h0m-39 14.5h0m-17.5-19.5h0m-360-29h0m287-14h0m-205 61h0m147-15.5h0m84-4.5h0m-50-26h0m-312.5 29.5h0m261 0h0m-148.5 2.5h0m235-33h0m-209-3.5h0m-9 24.5h0m55-3h0m63-8h0m146.5 6h0m-277.5 17.5h0m237.5-5.5h0m-148 6.5h0m347.5-16.5h0m-279-15.5h0m-138 13h0m97.5 12h0m76.5 8h0m39-21h0m-128.5 6h0m-29 25.5h0m116.5-33.5h0m-255 19h0m244-4h0m-99.5-14.5h0m95.5-18h0m-257.5 20.5h0m112.5 14h0m13 3h0m5.5-49.5h0m304 27.5h0m-109.5 7.5h0m-326.5-15h0m220.5 18h0m188.5-3h0m-104.5 12.5h0m-351.5 12h0m322-6h0m16-22h0m67.5 17.5h0m-136.5 11h0m-45.5 5.5h0m-92.5-25.5h0m142 9h0m-102.5-48.5h0m3 39h0m79.5 9h0m-222.5-41h0m208.5 41h0m-78.5-37h0m71 27h0m-98 24.5h0m190.5-4h0m55-7h0m-74-3.5h0m94.5-16.5h0m-7 8.5h0m-121 21.5h0m54.5-19.5h0m-218.5 13.5h0m153.5-15.5h0m220.5 2.5h0m-158 19h0m163.5-38h0m-305-9.5h0m-71 9h0m-93.5 14h0m-57 9h0m312-3.5h0m36.5-34.5h0m-183.5 23.5h0m332.5 1h0m-287-2h0m-16.5-3h0m155 8h0m-341-9.5h0m264 31.5h0m64.5 2h0m-35-36h0m-109 18.5h0m197 3h0m-89.5-24h0m5.5 26h0m-59 8h0m298.5 10.5h0m-495-14h0m150.5-5h0m152-29h0m-133.5 10h0m148 22.5h0m-3-43h0m-108.5 36.5h0m151-0.5h0m-61.5 2h0m-7 6.5h0m-41-17h0m7.5 16h0m157 9.5h0m-61.5-31.5h0m-202.5-4.5h0m239 33.5h0m-119-3.5h0m-42.5 0.5h0m19.5-39h0m2.5 15.5h0m-19.5 19.5h0m232.5 13h0m-143.5-13.5h0m-254 3h0m98.5-28.5h0m29 9.5h0m312.5-5h0m-250.5 10h0m22 13.5h0m177.5-6.5h0m-103.5 16.5h0m-204-40h0m8-2.5h0m112.5 20.5h0m-30.5 14.5h0m-292.5-29h0m304 39h0m188-48.5h0m-142.5 13.5h0m-198-6.5h0m205 30h0m-180.5-6h0m368-17.5h0m-239 40h0m140.5-40h0m-63 15h0m148 12.5h0m-234-47h0m-6.5 26h0m-227-23.5h0m283.5 43.5h0m-142-39.5h0m8 13.5h0m107 17h0m23.5 22.5h0m-203-63.5h0m162 49.5h0m-311.5-19h0m42 1h0m280.5-1h0m43.5 7h0m-89.5 7.5h0m64-22.5h0m79.5 14.5h0m-107 7.5h0m137.5-11h0m-157.5-5.5h0m120 3h0m-65-20h0m-5 32h0m-45-3.5h0m101.5-28h0m-56.5 10.5h0m93.5 40h0m-8.5-21.5h0m-74-19h0m-98-21.5h0m250 21.5h0m-167 9h0m-113 25.5h0m190.5-12h0m-207.5-21h0m-205.5-30.5h0m450 19h0m-239.5 12h0m41 1h0m39 13.5h0m-166 25h0m173.5-38.5h0m-38.5 31h0m-218-44.5h0m210.5 14h0m101.5 1h0m128.5-10h0m-151 45.5h0m195-30.5h0m-192.5 12h0m-70.5-7.5h0m73.5-12h0m0.5 8h0m70 1.5h0m-116 0h0m113-2h0m-203.5-7.5h0m33-13h0m42.5 18h0m-59.5-8.5h0m17 19h0m15 18h0m134.5-7h0m-95-36.5h0m-82-1h0m-109 28.5h0m335 10.5h0m-69-13.5h0m-8 4h0m-260 15.5h0m-71-23.5h0m215.5-4.5h0m-210.5 8.5h0m167-31.5h0m360.5 49.5h0m-276.5-60.5h0m100 27.5h0m86.5 23h0m-171 9h0m95 9h0m-64-23.5h0m-43.5-47.5h0m110 11h0m-203 32h0m22-38.5h0m111 58h0m-108 8h0m-67.5-55h0m170 4.5h0m40.5 29.5h0m-102-10h0m7.5 28.5h0m67.5-48h0m-104 17.5h0m15-9.5h0m-57.5 0.5h0m181.5-18h0m-77.5 41.5h0m97.5-5.5h0m-80.5 5h0m103.5-6h0m-63-11h0m-57.5 14h0m48.5-3.5h0m14.5 6h0m-171.5 16h0m104-12h0m-115-28.5h0m209 36.5h0m-72-41.5h0m111 19h0m-161-8h0m178.5 9.5h0m-369 5h0m29-25.5h0m147.5 46.5h0m-36.5-43h0m84.5 39.5h0m-67-10h0m142-17.5h0m41-1h0m-5 34.5h0m9-21h0m-259-30h0m50 6.5h0m239 39h0m23.5-16h0m83-18.5h0m-65 5.5h0m-180 20h0m-78 15h0m-195.5-9.5h0m270.5 1.5h0m-242.5-23h0m263.5 11h0m-174.5-24h0m39 34h0m25-33h0m82.5 11.5h0m-92 6.5h0m67.5 8h0m195 12h0m-191.5-29.5h0m160-19.5h0m-166.5-5h0m-84.5 39.5h0m67.5-44h0m184 56.5h0m-102-4h0m-79-44.5h0m-51 43.5h0m145.5-10.5h0m-79.5-9.5h0m143 3h0m-232.5-24h0m302.5 16.5h0m-93 7.5h0m9.5-13.5h0m-84.5 0.5h0m47 1.5h0m-160.5 5h0m109.5-6h0m27.5-14h0m-75.5 54h0m54-18.5h0m158-34h0m-200 12.5h0m-35.5-6.5h0m44 43h0m168.5-20h0m-285-44h0m115.5 8.5h0m80 22.5h0m-127.5-22.5h0m71 59.5h0m152.5-12h0m-217-28h0m43.5 21.5h0m-213.5-50.5h0m273.5 32h0m-210.5-7h0m7-24.5h0m205 6h0m-25.5 50.5h0m75.5-28.5h0m-193-11.5h0m-178.5 7h0m408-3.5h0m-12.5 13.5h0m-154 1h0m-83 11h0m166.5-41h0m-34 11h0m-8-7h0m-215-5h0m63-4.5h0m96 9.5h0m1.5 22.5h0m181.5 14.5h0m-289.5-22h0m249.5-16h0m-229 26.5h0m158 31h0m130-31.5h0m-344.5-11h0m327 15h0m-67.5 11.5h0m3-37h0m-71.5 52h0m-213.5-43h0m348 45.5h0m17.5-21h0m-329-9.5h0m190.5 7.5h0m-103.5-19h0m200 15.5h0m-191.5-3h0m56.5 29h0m108-51h0m-141 51.5h0m-153-48h0m138 50h0m18-56h0m-115.5 14h0m299 17.5h0m-164.5 10h0m-21.5 6.5h0m110.5-5h0m-110.5 12h0m88-25h0m39-9h0m-41.5 6h0m-254.5 8h0m440 9h0m13.5-17h0m-235 0h0m-11.5-15.5h0m71.5 6.5h0m-88.5-9.5h0m-24.5 13.5h0m-7.5-31.5h0m-129.5 45h0m339-19.5h0m-329-25h0m126.5 0h0m181 11.5h0m-29 21.5h0m52 24.5h0m-437-51.5h0m243 22h0m45 7.5h0m52.5-12h0m-106.5 10h0m51 13.5h0m272.5-11.5h0m-296.5 28.5h0m156.5-33h0m-103 1.5h0m205 14h0m-142.5 14h0m-261.5 2.5h0m247-52h0m-17 23h0m93.5 21.5h0m-147.5-14h0m-107-4h0m314.5 1.5h0m-306.5 23.5h0m38.5-30.5h0m1 24.5h0m35.5-12h0m1.5-14h0m6.5-1.5h0m33-10h0m110.5 21h0m48-18h0m-186 38.5h0m-29.5-45.5h0m-36 18h0m132.5-21h0m79.5 23.5h0m-127 11.5h0m100-9.5h0m-173-0.5h0m106.5-0.5h0m-229 3h0m171.5-31.5h0m-25.5 33.5h0m43-11h0m-62-1.5h0m70.5 31.5h0m-57 1h0m-48-27h0m-16.5 5h0m32-1h0m179-4.5h0m-117.5-5h0m-63.5-15h0m170-5h0m-47 56.5h0m-25-37.5h0m162 1.5h0m-147 12h0m24.5 17.5h0m-44-12h0m-172.5-4.5h0m116.5 1.5h0m148-17.5h0m66.5-3h0m-241.5 18.5h0m-40.5 17h0m126-37h0m40.5-1h0m104 26h0m-286.5-11h0m289.5 22.5h0m98-43h0m-57.5 10.5h0m-284-22.5h0m111 49.5h0m-80-42h0m116.5 17.5h0m-224-31h0m251 44h0m-198-27h0m-82-16.5h0m10.5 7.5h0m-23-3h0m144.5 31.5h0m1.5-8.5h0m182.5 6.5h0m-165 29.5h0m113-23h0m-168.5-20.5h0m27.5 2.5h0m127 4h0m-153.5-2.5h0m417.5 28.5h0m-404 2h0m170.5-10h0m183.5-18h0m-341.5 42h0m16.5-11h0m50-9h0m58-35.5h0m134.5 22.5h0m-309.5 6h0m216.5 16h0m130.5-13.5h0m-486.5-13.5h0m164.5-28h0m42.5 32h0m230.5 2h0m-392.5-38h0m168.5 49h0m100.5-6.5h0m2.5-11.5h0m-41 25h0m321-42.5h0m-403 20.5h0m-48.5-15h0m51-4h0m-170.5 8h0m41.5 47.5h0m122-34.5h0m123-7.5h0m-232 15h0m221 25.5h0m-26-47h0m-36.5-4.5h0m144 18.5h0m-102.5 17.5h0m-314 12h0m423-48.5h0m-31.5 2.5h0m-214.5 39.5h0m109-16h0m-37-15.5h0m76.5 18.5h0m270.5-21h0m-282.5 13.5h0m-300-13.5h0m150.5-8h0m357 45.5h0m-37.5-18h0m-201-32h0m273.5 9h0m-507 7.5h0m390 19.5h0m45-25h0m-87.5 15.5h0m-127 16h0m120.5-11h0m-48 3h0m-52.5-18.5h0m-13 28.5h0m197-36h0m-146.5 26.5h0m-231.5-30.5h0m276 6.5h0m-26.5 35.5h0m-145.5-32.5h0m107 28h0m-65 10.5h0m-85-32h0m-69.5-10h0m-8.5 31.5h0m-57.5-6h0m225.5 14.5h0m143.5-45.5h0m-250 19.5h0m137-13h0m-105 25h0m250.5-3h0m-180.5 9.5h0m-54.5-27h0m152 36.5h0m-2.5-27.5h0m-10.5-14h0m-343.5 0h0m241.5 40h0m-77-31h0m12.5 25h0m149-57.5h0m47 47.5h0m-145.5-4.5h0m-114.5-7h0m394-10h0m-113 5h0m93-14h0m-141.5 19.5h0m-70.5-0.5h0m46.5 19h0m219-0.5h0m-456.5 6.5h0m134.5-13.5h0m14.5 4h0m-206.5-41h0m298 22.5h0m-157-7h0m152 8h0m-308.5 11.5h0m393-33.5h0m-136.5 7h0m-64 7h0m31.5 25.5h0m-185.5-37.5h0m192.5-10h0m212 34h0m-203 11h0m280-1h0m-166.5-25.5h0m-74.5 36.5h0m-104.5 4h0m212.5-34h0m-141 25h0m-37.5-21h0m241.5 19.5h0m-40-10h0m-127 22.5h0m-98-44h0m73.5 21h0m121.5-9h0m-130-36h0m-139 13h0m95.5 15h0m-9.5-9.5h0m48.5 30h0m121.5-10h0m-124.5 14.5h0m72.5-17h0m53.5-15.5h0m-68.5 51.5h0m90.5-33.5h0m-150.5-2h0m142 10h0m-114-18h0m238-6h0m-184 16h0m-12.5 10.5h0m-134-10.5h0m168.5 6.5h0m-138-7h0m-17.5-36.5h0m58 28h0m158.5-19h0m-231 27.5h0m160 5h0m2 3h0m-118-9.5h0m254-3.5h0m55 14.5h0m-140-22.5h0m-43.5 12h0m-173 12.5h0m212.5-13h0m-271-3.5h0m-25.5-14.5h0m289 31h0m-308-47.5h0m-37.5 30h0m137 22h0m174 15h0m-91-26h0m171 7h0m-366-19h0m49-24h0m259 19h0m14.5 17.5h0m-51.5-16.5h0m67.5 33h0m38-8.5h0m-125.5-31.5h0m61.5 14h0m-36.5 8.5h0m-200.5 10h0m231.5-25h0m51.5 12h0m-219.5-39h0m153 44.5h0m-71.5 1.5h0m20.5-16.5h0m45.5 16h0m-193.5-5.5h0m374.5 22h0m-528.5-47h0m502-3.5h0m-172.5 54.5h0m-61.5-46.5h0m77 26.5h0m-40.5 22.5h0m-31-40.5h0m130.5 17h0m-357-23.5h0m28.5 10h0m120 26h0m98.5-4h0m-71-13h0m-206-24.5h0m301 41.5h0m51.5-50h0m-31-1h0m-184 12h0m218 23h0m-63-1.5h0m52-12h0m-256 21.5h0m385 6.5h0m-207.5-17h0m318.5 8.5h0m-369.5-48h0m-102.5 54.5h0m201-7h0m-328.5 14h0m319.5-1.5h0m-42-8h0m64.5-10h0m-278.5-13h0m260 7.5h0m-316.5-28h0m370.5 59h0m-159.5-14.5h0m72.5-26.5h0m91 17h0m-217-26h0m109.5 26.5h0m-75-31.5h0m156-1.5h0m138 37.5h0m-281-6h0m165-3h0m-171 0.5h0m261 13.5h0m81-5.5h0m-341-0.5h0m-58 10h0m239.5-13h0m80.5-16.5h0m183 32h0m-296.5-9.5h0m-83-43.5h0m-174 12h0m230-4h0m-23.5 30h0m89.5-7.5h0m59-12.5h0m-29 17.5h0m-62.5-28.5h0m61.5 54.5h0m13.5-26h0m-265 3h0m36-9h0m451 22.5h0m-343.5-21.5h0m-68-5h0m-23-5.5h0m-25 3h0m-3 18h0m419 0.5h0m-614.5-27h0m257 5.5h0m134.5-15h0m-375 47h0m27-39.5h0m49.5 22.5h0m30 30h0m38-42h0m108 22h0m84-30.5h0m-51 7.5h0m227.5 42h0m-167-32.5h0m-79-13h0m-101-19.5h0m284 31h0m-145.5 15.5h0m81.5 7h0m-75 2h0m291-19.5h0m-388.5-20h0m53 23h0m53.5 3h0m-88.5-16.5h0m277 37h0m-43.5-53h0m-261 17h0m290.5 14.5h0m-99.5 14.5h0m-141.5-39.5h0m27 20.5h0m71 5.5h0m-149-17.5h0m14-12.5h0m-38.5 35.5h0m45.5-10h0m215.5-18h0m-212.5 26h0m168.5 15.5h0m-185.5-25.5h0m73 11h0m19-34h0m-41.5 13.5h0m88.5 35.5h0m108-11h0m-261 11h0m4-21.5h0m89.5 4h0m18-36h0m-148 19h0m124.5 29h0m-85-2.5h0m-55-39h0m227 12.5h0m-3.5 8.5h0m-62.5 7h0m-97.5 7h0m16.5 7h0m-46.5-3.5h0m102.5-9.5h0m4 7h0m35-9.5h0m13.5-7.5h0m-59.5-11h0m381 14h0m-282.5 21.5h0m-43.5-31.5h0m-35 37.5h0m90-26.5h0m-216.5-10.5h0m381 2.5h0m-236-15h0m-139.5 42h0m327.5-42h0m-362 5.5h0m292 31.5h0m-217 2.5h0m376.5-24.5h0m-221 23.5h0m-214-20.5h0m13.5-9.5h0m39 15h0m-138-30.5h0m348.5 36.5h0m-144 6.5h0m201 1h0m-291.5-16h0m-202.5 21h0m230.5 9.5h0m158-29h0m-79.5 28h0m55.5-39.5h0m-88 21h0m184.5-19.5h0m-234.5-7.5h0m-2 0.5h0m58 34.5h0m-28.5-24.5h0m18-13.5h0m93 10h0m-77.5-2h0m62 23h0m-125-16h0m71.5-16.5h0m-192 26h0m420 26h0m-311.5-21.5h0m66-0.5h0m11-10h0m96-5h0m-78 17.5h0m38-26.5h0m-105.5 13h0m10.5 1.5h0m-0.5 24.5h0m236.5-10.5h0m-36-15h0m-367-17.5h0m56 25h0m-49-32.5h0m132 21h0m76.5-9h0m-79.5-9h0m155 1h0m-100 19.5h0m81.5 17h0m-323.5-6h0m-33 4h0m352 7h0m-68-21h0m-73.5-0.5h0m127 32.5h0m-155.5-28.5h0m-157 6.5h0m357-44h0m-233.5 2.5h0m195.5 24.5h0m47 14h0m75.5-18h0m-44 5.5h0m-69.5-10.5h0m-84.5 9.5h0m92.5 9h0m-118.5-34.5h0m5.5 28.5h0m59 28.5h0m-116.5-50h0m207 24h0m-47 6h0m-219-1h0m141 1h0m-95.5-10.5h0m88-6.5h0m16 4h0m28.5 15.5h0m146 4.5h0m-200.5 16.5h0m221.5-34h0m-86.5-5.5h0m-240 3h0m156 34.5h0m77-13.5h0m-99.5-6h0m117-11h0m-333.5 8.5h0m136-23.5h0m172.5 26.5h0m-59.5-24.5h0m-3 1h0m-46 16h0m126 30.5h0m-17.5-30.5h0m-190.5 7h0m121 6.5h0m260-16h0m-71.5 22h0m-54-8.5h0m-278.5-31h0m-77.5-6h0m241-0.5h0m182 19h0m-163.5 1h0m-311.5 20h0m217-26.5h0m-226.5-16.5h0m356 9.5h0m-121 48h0m27.5 4h0m-117-38.5h0m254.5 33h0m-141.5 3h0m45-44h0m-66.5 6h0m-168.5-2h0m124 29h0m25 14h0m92-42h0m-30.5 12.5h0m-22 17.5h0m122.5-51h0m-6 20h0m-104.5 9h0m58.5 33h0m72-36h0m-158 33h0m41-33.5h0m85-6.5h0m-214.5 28.5h0m26.5-38.5h0m33 11.5h0m-75 18h0m78-15.5h0m-220.5 11h0m266 22h0m167-28.5h0m-443-18.5h0m324.5 10.5h0m61.5 0h0m-61.5 18.5h0m-12-12.5h0m-303-22.5h0m406 42.5h0m-96.5-25.5h0m8.5 8.5h0m-55.5-21h0m212.5 15.5h0m-328.5 17.5h0m83.5-24h0m46.5-26h0m129 58h0m-193.5-45.5h0m-27.5 57h0m20-66.5h0m135.5 20h0m34.5 19h0m-114.5-16.5h0m40.5 2h0m-97 42h0m233-26h0m44-3.5h0m-159-23.5h0m14 22.5h0m-169.5 0h0m129.5-22.5h0m212 40.5h0m-529-18h0m360.5-7h0m-72-7h0m-60.5-12.5h0m-70.5 22h0m105.5 4.5h0m229 11.5h0m-224 3h0m24.5-47.5h0m101 45h0m-310.5-37.5h0m273 44h0m13.5-11h0m-183.5-16h0m-30 20.5h0m8-37.5h0m-86 37h0m152 1.5h0m73.5-33h0m-50.5 6.5h0m17.5 33.5h0m-6.5 1.5h0m132 1.5h0m92.5-29.5h0m-418-23.5h0m156.5 59.5h0m38-16h0m72-14.5h0m-75.5 26h0m165.5-46.5h0m-308.5 51h0m254.5-57.5h0m-75 8.5h0m-45 4.5h0m88.5 24h0m66-6.5h0m-64.5 17h0m98.5-12.5h0m-136.5 3h0m103.5-17h0m-134 12h0m-17.5-1h0m78-28h0m62 20h0m-177.5 33.5h0m240-46h0m-22.5 11h0m-103 34.5h0m-229.5-35h0m273 26.5h0m-140-37.5h0m140.5 49h0m-32-7.5h0m-270-35h0m101.5 9.5h0m247-15h0m-112.5 31h0m4.5 19h0m88-57h0m-232 23h0m180 4.5h0m-54-14.5h0m135 32h0m-269.5-28.5h0m217.5-6h0m-31.5 37.5h0m67-28h0m-40.5 25h0m-78-5.5h0m-67.5 11h0m-64.5-36h0m296 9h0m-267-14.5h0m177-1.5h0m-128 26.5h0m182.5 5.5h0m-155-24h0m76 4.5h0m-11.5-1.5h0m-166.5 3.5h0m198 16.5h0m-245.5-38h0m257.5-12h0m-261 54.5h0m50-31.5h0m99.5 7.5h0m174 29.5h0m-167-22.5h0m42.5-7.5h0m106-9.5h0m-180 9.5h0m111.5 1.5h0m70-3.5h0m-103-14h0m-194 10h0m248 11h0m125.5-2.5h0m-214-1.5h0m5 11h0m132.5-18.5h0m1 26h0m-197.5 11h0m170.5-33.5h0m-190 25h0m142-23.5h0m155 7.5h0m-168 9.5h0m-68.5-15.5h0m177.5 10.5h0m-8 7h0m238-6h0m-461.5 11h0m21.5-1h0m-235-27.5h0m475 10h0m-144.5-21h0m30.5 31.5h0m108.5-24.5h0m-284 21.5h0m-65.5-22h0m148.5 17.5h0m-205.5 11h0m108.5 13.5h0m26.5-21h0m-201.5 4.5h0m267.5-28.5h0m187.5 7.5h0m-52-1.5h0m-121 35h0m60 5.5h0m38.5-11h0m-286.5-27.5h0m261.5 29h0m-17-31h0m123 5h0m-73 16.5h0m3-27.5h0m-43.5 27.5h0m-134-10h0m195.5-7.5h0m-55.5 29h0m61.5-7.5h0m-143.5-21.5h0m230.5 7.5h0m-55.5-26.5h0m-56.5 35h0m-152.5-22.5h0m-40.5 34h0m166.5-28.5h0m-88 24h0m64.5 4h0m-68-6.5h0m309-3.5h0m-285 8h0m72.5-19.5h0m-147.5 14h0m127.5 12.5h0m-293-14h0m390-20.5h0m-210.5 5.5h0m-31-18h0m224.5 19.5h0m-132-22h0m97.5 20h0m-70-33.5h0m-104 53h0m-33-30h0m48.5 39.5h0m167-58h0m30.5 31.5h0m-238.5-1.5h0m-132.5-27h0m344 63h0m-159-45.5h0m44.5 33h0m82.5-58h0m-41 50.5h0m-91 11h0m-111.5 7h0m144.5-8.5h0m139.5-12.5h0m-78.5-0.5h0m89.5-18h0m0 1h0m-140.5 21h0m110 10.5h0m34.5-18.5h0m-69.5 21h0m-146 3.5h0m219.5-21h0m-62-7h0m18 2h0m-183.5-0.5h0m73.5-8h0m217 23.5h0m46-24.5h0m-130.5 40h0m-186.5-5.5h0m143-16h0m74.5-28.5h0m-49 18h0m-146-5h0m-50-12h0m192 11.5h0m-166.5 11h0m62.5-23.5h0m-231 34.5h0m200.5-34h0m416.5 42.5h0m-564.5-62h0m272.5 49.5h0m-257-34.5h0m223.5 40h0m-86.5-11.5h0m92.5-26h0m-8 19.5h0m-90.5-24h0m27 25h0m200.5-12.5h0m-308 11h0m302-14h0m-182.5 1.5h0m-166.5-19.5h0m191 32.5h0m-4.5-18h0m-244 46.5h0m116-25h0m41 10.5h0m98 13h0m-43-16h0m35-13.5h0m264.5 9h0m-188-23.5h0m-67 29h0m-132 11h0m22-47.5h0m101.5-10h0m-310 49.5h0m328-16.5h0m13-1.5h0m-66-6.5h0m-35.5 16.5h0m66.5-23.5h0m201 19h0m-143 3h0m-11-4.5h0m171.5 18h0m-518.5-28.5h0m369.5 29h0m-243-32.5h0m104 31.5h0m53 10h0m46-9h0m-268.5 0.5h0m227.5-28h0m-23 4.5h0m116.5 13h0m-2.5-31.5h0m-6.5 0.5h0m-76.5 17.5h0m40.5-5.5h0m-215 2.5h0m167 23.5h0m-99.5-16h0m126 8.5h0m-60.5-20h0m27 14h0m-58.5 1h0m74 4.5h0m-100.5-11h0m29.5 12.5h0m268.5 13h0m-256-40.5h0m-35 15h0m13-24.5h0m163.5 31h0m139.5-2.5h0m-243 10.5h0m155-38.5h0m-115.5 49.5h0m29-49h0m-149 9.5h0m75.5 6h0m62.5 30h0m-60-20h0m-11 22h0m60.5-37.5h0m-1 2.5h0m-1.5 20.5h0m-41.5 3.5h0m-79.5-11h0m224.5-13h0m-63 30.5h0m-104-16h0m-127.5-11h0m124 19.5h0m-31-19.5h0m238-2h0m-162-6.5h0m160.5-2h0m-135 0.5h0m-62 40h0m68-10h0m-185-33.5h0m165 38h0m-251-21h0m-21.5 33.5h0m148-14.5h0m-1.5-38h0m98 35h0m49.5-19.5h0m-229.5 25.5h0m355.5 8.5h0m98.5-10.5h0m-428.5 2h0m129.5-22h0m17.5-10h0m-260-23.5h0m283.5 38h0m-13.5 35h0m20-28.5h0m-18.5-26h0m47.5 25.5h0m7.5-8.5h0m67.5 0h0m-9 14h0m19-20.5h0m-198.5-6h0m-7 43h0m299-26.5h0m-239.5-22.5h0m-113 18h0m120.5 22h0m88-56h0m27.5 43.5h0m134 1.5h0m-214 2.5h0m180-12.5h0m-260-9h0m-65 35.5h0m-37.5-35h0m247.5-3h0m-75.5 31.5h0m-17-29.5h0m-29.5 14h0m151-17h0m-156.5 36.5h0m-78-32.5h0m8 27h0m107.5 11.5h0m133 7.5h0m82-26.5h0m-237.5-12.5h0m38 29.5h0m118-47h0m-132 35h0m-101-20.5h0m34.5 1h0m-163 28h0m128.5-13.5h0m369-13h0m-55 15h0m-235.5-22h0m-28 33h0m-248.5-29.5h0m35 10.5h0m120-25.5h0m-124.5 26h0m409 17h0m-289 7h0m79.5-17h0m8.5-19h0m36.5 16.5h0m11-7h0m17.5 26h0m-113.5-13h0m115.5-43.5h0m86 44.5h0m-45-10h0m85.5 11h0m-6-3.5h0m-61.5-20h0m-272 32.5h0m266-38h0m-140 33h0m175.5-31.5h0m-79 9.5h0m177-23.5h0m-458.5 27h0m9-29.5h0m296 37h0m93.5 17.5h0m-178-28h0m190.5 8.5h0m-54.5-44h0m-90 43.5h0m134-3h0m-23.5-4.5h0m-193.5 7.5h0m249.5-11.5h0m-274.5 21h0m-174.5-42.5h0m138 38.5h0m199.5-22.5h0m21.5 4h0m-146.5-13.5h0m-136 24.5h0m102.5 14.5h0m53-22h0m58-6h0m188.5 5.5h0m-251.5-29h0m65 50h0m-37-2.5h0m11-30h0m-25.5-4h0m173 53.5h0m-342.5-39h0m170.5 3.5h0m50 28.5h0m21.5-7h0m-82 14.5h0m-41.5-5h0m252-13.5h0m-142.5-27.5h0m-178-8h0m137 13.5h0m46.5 33h0m-280.5-43.5h0m168 27h0m232.5-2h0m-152 0h0m-50 0.5h0m-26.5-21h0m106.5-10.5h0m50.5 40.5h0m-43-49h0m166 50.5h0m-244-39h0m97 25.5h0m-176.5 12h0m131.5-28h0m21.5 22.5h0m-17-10h0m60.5-9.5h0m-90 38h0m90-26.5h0m-49.5-0.5h0m-96-4.5h0m-187-7h0m394 40h0m-137.5-9.5h0m18.5-24h0m-52.5-14.5h0m146.5 29h0m-179-34.5h0m111 28.5h0m154.5 7.5h0m-24-10.5h0m-153 29.5h0m-90-12.5h0m-60-56h0m120 20.5h0m67.5 45.5h0m-258-28.5h0m359.5-5h0m-89 3h0m-121 9.5h0m107-18h0m-129 4.5h0m168.5-13h0m-349 26.5h0m353.5-33.5h0m84 34h0m-115.5-31.5h0m25 36h0m-177-42h0m69.5 11.5h0m252.5 26.5h0m-219-21.5h0m-106 22h0m124.5-19.5h0m-79.5 12.5h0m-199.5-35.5h0m35.5 44h0m344.5-25h0m-108 28h0m-36-32.5h0m35 41h0m-100 6.5h0m36-22h0m-13-10h0m37.5 11.5h0m112 14.5h0m-152-30.5h0m11.5 7.5h0m-69.5 32h0m214.5-27h0m-27.5 7.5h0m27.5-23h0m-97.5 18.5h0m-19.5 21.5h0m-46-33h0m-65.5 3h0m184 4h0m116.5 6.5h0m-190-23h0m-22-13.5h0m-143.5 10h0m171.5 30.5h0m115.5-16.5h0m-17-24.5h0m-4.5 24h0m114 17h0m-175 9h0m-45 4.5h0m-89-26h0m74.5-2h0m232-4.5h0m-74.5-14h0m-131 17.5h0m55 28h0m18-19h0m105.5 0.5h0m-234-18.5h0m95 14.5h0m-171.5-12h0m345.5 14.5h0m-199 10.5h0m-61-11h0m19.5-39.5h0m129 48.5h0m112-23h0m98 17h0m-454.5-32.5h0m171 3h0m-165.5 27h0m-35.5-32.5h0m219 22h0m162.5-6.5h0m-220-1.5h0m197-8.5h0m-269 41h0m211-17.5h0m76-13.5h0m-128.5 15h0m33.5-32h0m-114.5 26.5h0m38.5 8h0m59.5 16.5h0m-26-14.5h0m-200.5-24h0m36.5-22h0m-123 39h0m115.5-26h0m205 36.5h0m-270.5-41h0m418.5 38.5h0m-168-35h0m-100.5 25.5h0m91.5 4.5h0m56-19.5h0m-296-2h0m346.5 32h0m6.5-23.5h0m53.5 27h0m-279.5-40.5h0m110 39h0m-189-40.5h0m115 45.5h0m-5-15.5h0m34.5 24.5h0m-54-42h0m-45 19.5h0m177.5-8h0m-132.5 31h0m87-29h0m27.5-1.5h0m-5.5 17.5h0m131.5-7.5h0m-229.5-19h0m83.5-20h0m-16.5 22h0m191.5-26h0m-203.5 61h0m-245-18.5h0m274 12h0m-144.5-60.5h0m-157.5 30h0m214 18h0m239.5-39h0m-256 19.5h0m61.5-14.5h0m57.5 10.5h0m193-3h0m-35.5 21.5h0m-183-20.5h0m-170.5 33.5h0m56.5-30h0m-9 18.5h0m258.5-19.5h0m-472.5 27.5h0m313 9.5h0m93-31.5h0m-117 19h0m83.5-29.5h0m-30 1.5h0m163.5 28h0m-171.5-26h0m103-11h0m-65.5 14h0m-205.5 13h0m433 10h0m-125-30.5h0m-211.5 41.5h0m69.5-4.5h0m228.5-12h0m-181.5 7.5h0m-42.5-14.5h0m-137 2.5h0m259.5-1.5h0m-185 19h0m153 9.5h0m-245-28h0m198.5 18.5h0m42-34.5h0m151 24.5h0m-114.5 8.5h0m-191.5-12.5h0m85.5-0.5h0m-152 13h0m101 0h0m-20-5h0m-29.5 18.5h0m29.5-31.5h0m-9.5 14h0m318.5-10.5h0m-377 22h0m-3-20h0m74.5 10.5h0m-4-35.5h0m-15.5 7.5h0m66.5 15.5h0m170-31.5h0m-4 50h0m-311.5-41h0m162.5 16.5h0m52.5-33.5h0m260.5 60.5h0m-481-63h0m223.5 68.5h0m-105-55.5h0m156.5 52h0m-294.5-42h0m259 20h0m-114.5-40h0m-80.5 65h0m329.5-3h0m-481-44h0m-85.5 0h0m369 50h0m-135.5-29.5h0m181-3.5h0m-154.5-2.5h0m-42.5 17h0m139-26.5h0m39.5-12.5h0m-42 51h0m-78.5-54.5h0m-120 41.5h0m-115-20h0m504.5 16h0m-148.5-12h0m-123.5 26h0m33-19h0m16-14h0m-63 16h0m113.5-35h0m-285.5 44.5h0m334.5-8.5h0m-55.5-0.5h0m-25-16.5h0m10.5 28.5h0m-59.5 1.5h0m92.5-26h0m-57 3.5h0m56.5 13.5h0m-240.5-29h0m288.5 16h0m2.5-2.5h0m-151.5-5h0m170.5-23.5h0m-275.5-7h0m109 26.5h0m226.5 18h0m-127.5 8.5h0m-82.5-39h0m-52 4.5h0m203 36h0m-212.5-17.5h0m93.5-14h0m11 20h0m-229.5-11.5h0m90.5 13.5h0m155-6h0m-147 7h0m424-19h0m-178.5 19.5h0m101-0.5h0m-383-23.5h0m179.5 19.5h0m-155.5-3.5h0m125-19h0m-36 18h0m-185.5-4h0m401.5-16h0m-200.5 39h0m-22.5-13h0m-177-27.5h0m134.5 30.5h0m1 16h0m14.5-17.5h0m110-26.5h0m-150 12h0m218.5-17h0m-91 34h0m-273.5 0.5h0m329-16h0m-86 15h0m45 10.5h0m-132-29h0m120-11.5h0m166 6.5h0m-111 25.5h0m186.5-15.5h0m-138 1.5h0m-100.5 23h0m95.5-7.5h0m2.5-48.5h0m-312 46.5h0m210.5-13h0m-7-10h0m-207.5 46.5h0m38-2.5h0m21.5-17.5h0m116.5-24.5h0m-125.5 10h0m-163.5-16.5h0m337 23h0m-10.5-29.5h0m-343 3h0m329.5 31h0m-132 1.5h0m227-24h0m-318 25.5h0m313-25h0m-127.5 37.5h0m-202.5-12h0m133.5-27h0m189 17h0m-38 0.5h0m33 19.5h0m38-30h0m-258 27.5h0m244.5-16.5h0m-15.5 21h0m-190.5-4.5h0m-191.5-9.5h0m413.5 19.5h0m-264.5-23h0m-21-2.5h0m250-11h0m-201-5.5h0m-125 1.5h0m370-16.5h0m-98.5 30h0m-48-1.5h0m-202-14h0m198 21h0m211-2.5h0m-340.5 15.5h0m-90.5-22.5h0m225 23h0m-77-31.5h0m70 18.5h0m70-20.5h0m-7 6h0m36.5 14h0m-143.5-7h0m23.5-39.5h0m138 68h0m2.5-17h0m-127.5-23h0m46.5 17.5h0m1.5-13.5h0m-139.5 18h0m18.5-10.5h0m289.5-0.5h0m-152.5 17.5h0m22.5 12.5h0m-152-3h0m59-19h0m-78-9.5h0m94-16.5h0m-271.5 4h0m427 33h0m-214.5-6h0m-7.5-10h0m-46 6.5h0m145-14.5h0m10.5-17.5h0m-49 35h0m60-12.5h0m-159.5-5h0m27-12h0m-16.5 23h0m271 6h0m-121-11h0m91.5 8.5h0m1 15h0m-177.5 2h0m-86.5-57.5h0m-86.5 36.5h0m-41.5-41.5h0m591 40h0m-224.5 13.5h0m-247.5-7.5h0m198.5-3h0m-8.5 1h0m-359 16.5h0m193-26.5h0m-52 34h0m207.5-36h0m-197.5 17.5h0m74-7.5h0m-48.5-10h0m171.5-13.5h0m-130-14.5h0m59.5 40h0m145.5 7.5h0m-206.5-2.5h0m-148-42h0m166.5 25h0m81.5-4.5h0m256 26h0m-320.5-38.5h0m109 30h0m-155 18h0m-14.5-20.5h0m209-3.5h0m-93.5-36h0m-239 58.5h0m-46.5-32.5h0m271.5-8.5h0m132 19h0m-20 26.5h0m13.5-50.5h0m-257 28h0m327.5 19h0m-122-31.5h0m-69 4.5h0m69-6h0m-146 27.5h0m27-56.5h0m325.5 33.5h0m-297-22h0m20.5 7.5h0m125.5-3.5h0m-211 33h0m-0.5-27h0m-20 26.5h0m179.5-31h0m-133 10h0m55.5 37h0m-51-48.5h0m253 11.5h0m38-6.5h0m-397.5 12h0m116 17h0m-241.5-4.5h0m152-45.5h0m-144.5 51.5h0m347.5-20.5h0m190.5-9.5h0m-57.5-12h0m2.5 36.5h0m-215.5-15.5h0m-35-21h0m-86 23.5h0m298.5-4.5h0m-47.5 19.5h0m-106.5 14h0m61-13.5h0m67.5-27h0m7 40.5h0m102-33.5h0m-160 31h0m79.5-28.5h0m-288.5 15h0m22.5-39.5h0m-29 32h0m253 11.5h0m-148-44.5h0m91.5 3.5h0m-141 23h0m65.5 16h0m-230-21h0m327.5-2.5h0m-48 1h0m-18 14h0m-15 0.5h0m115 0h0m113.5-14.5h0m-358 11.5h0m74.5 0h0m124 9.5h0m-327.5-34.5h0m468.5 19h0m-124 5.5h0m-119-14h0m9.5 5h0m8.5 13h0m20 11h0m88.5-9.5h0m-51.5-10.5h0m-250 27.5h0m153.5 7.5h0m181.5-24.5h0m116 11.5h0m-253-6h0m-87.5 9.5h0m66-54h0m-248 18.5h0m427-9.5h0m-439.5-17.5h0m51 18h0m-70.5-16h0m393 68.5h0m-298.5-65h0m311 45.5h0m53 9h0m-97.5-32.5h0m-309 34.5h0m329.5-18.5h0m-145 7.5h0m-60.5-5.5h0m163.5-2h0m-66.5-2h0m-1.5-32h0m-168-5.5h0m95 28h0m119 18h0m-26.5 8h0m185.5-4h0m-103.5 2h0m-75 16h0m90.5-14h0m92-27h0m-241 25.5h0m26.5-1.5h0m-11.5-1.5h0m204-0.5h0m-159.5-18h0m-67 16h0m-5.5-6.5h0m135.5-28h0m54.5 26h0m-276.5-36h0m-68.5 50h0m352.5 16.5h0m-28.5-31h0m19-7h0m18.5-25h0m-190 25h0m118 24h0m14.5-35.5h0m-83.5 43h0m56.5-25.5h0m-144.5-4.5h0m123 13.5h0m-330.5-9.5h0m159-38h0m161.5 55h0m105.5-51.5h0m3 19h0m-224.5 10.5h0m214.5-7.5h0m-81-20.5h0m100.5 65h0m-402.5-34h0m198.5 9.5h0m-1.5-9h0m270.5-2.5h0m-284.5 22h0m246.5-18.5h0m-459 6.5h0m-11.5-3.5h0m261 25.5h0m-254-1.5h0m399.5-5.5h0m46-31.5h0m-239 7h0m93.5 24h0m-112.5-60h0m19.5 58h0m279-8h0m-251-3.5h0m0.5 11h0m308.5 1.5h0m-249-42.5h0m-63.5 42.5h0m82.5-12.5h0m121-7h0m-289.5-25.5h0m103.5 31h0m44-4.5h0m-12-13h0m-18 38.5h0m86 0h0m-62-20.5h0m75-18h0m199 14h0m-558.5-29h0m381.5 6.5h0m-24 9.5h0m-85.5 13.5h0m40-28h0m-306.5-9.5h0m386.5 48.5h0m-217-21h0m388 34.5h0m-253-5.5h0m-70.5 7.5h0m-13-17h0m74-26.5h0m61-18h0m33.5 35h0m-88.5 9.5h0m124.5 0h0m-102 8.5h0m-9 1h0m-30 3.5h0m-244-52.5h0m-19 33.5h0m457-15h0m-104 7.5h0m-21.5-5h0m105 2h0m-238.5 34h0m405.5-53.5h0m-433 14h0m-119-14h0m339.5 12h0m3-28.5h0m-185 48h0m47.5-11.5h0m130.5 34h0m-309-20h0m-71.5-19.5h0m456.5 0h0m-254.5-10.5h0m-67 15h0m49 36.5h0m-38-43h0m307 24h0m-30-1.5h0m-440.5 21.5h0m452.5-12.5h0m-395.5-33h0m372 25h0m-93 1.5h0m-143.5 7.5h0m236-37.5h0m-75 46h0m114 1h0m-205-7h0m116.5-45h0m66.5 45h0m-19.5 4.5h0m-83.5-42.5h0m74.5 1h0m-269.5 31h0m131.5-26h0m-117 14.5h0m124.5-21h0m-146 26.5h0m211-0.5h0m-57.5-8h0m-213.5-4.5h0m259.5 5.5h0m-15.5-20h0m75.5-5h0m41 38.5h0m-227-39.5h0m66 18h0m13 15h0m-321-22.5h0m248 21.5h0m75-10.5h0m108.5 7.5h0m-45.5-3h0m109-19.5h0m-137 33h0m6-16h0m69 1h0m26.5 8h0m-101.5 17.5h0m-137.5-30.5h0m118.5 1.5h0m-269-8.5h0m237.5-30.5h0m44 36.5h0m-183 32.5h0m10-50.5h0m160.5 14.5h0m20.5 20.5h0m260.5 6.5h0m-241.5-8.5h0m27.5-21h0m142.5 15h0m-196 10.5h0m12.5-10h0m98.5-12.5h0m7.5-14.5h0m-129.5 0.5h0m-49.5 31.5h0m-233-22.5h0m438 2h0m-122.5-13h0m-19 4.5h0m-99.5 14h0m-71 10.5h0m205.5-12.5h0m-62-21h0m-97-12.5h0m-18.5 27.5h0m124.5 15.5h0m37.5-13.5h0m-319 25h0m-12-12.5h0m379 16.5h0m-234-7h0m71-2h0m21-5h0m47.5-8h0m88 1h0m-106 1h0m-175.5-34.5h0m339 38h0m-297 16.5h0m91-50.5h0m329.5 31h0m-176 21.5h0m-328-37.5h0m217 47.5h0m-44-41.5h0m-237 23.5h0m277-21h0m-52.5 36.5h0m-61.5-31.5h0m-185 8h0m534-7h0m-140.5 16.5h0m24.5-28.5h0m-111.5-9.5h0m-41.5 13.5h0m47.5-6h0m193-12h0m-71 59.5h0m52-1.5h0m-287.5-25.5h0m158.5 7h0m-56-19h0m153.5 7h0m-146.5 22h0m-123.5 6.5h0m164-49h0m-5.5 4h0m-59 46h0m212-30h0m-347-35h0m215.5 25.5h0m2.5-2.5h0m62.5 11h0m12.5 24h0m-159.5-14.5h0m-126 5.5h0m148-32.5h0m-242 19.5h0m86 7h0m218-20h0m-106 16.5h0m-87-7h0m-121.5 14.5h0m545.5-15.5h0m-397.5 13.5h0m306.5-8h0m-249-6h0m-165 15h0m-64.5 7h0m316.5 7.5h0m-198-33h0m65 21.5h0m98.5-24.5h0m61.5 31.5h0m70-32.5h0m22 30h0m-362-30.5h0m316.5-12h0m-228 58h0m-16-45.5h0m-44.5-14h0m209 5h0m87.5 41h0m-46.5-15.5h0m-92 3.5h0m-215-15.5h0m307 16h0m-17.5-22.5h0m-64 47.5h0m-273.5-12.5h0m211.5-13.5h0m12.5-5h0m-2.5-17.5h0m-1.5-16h0m171 28h0m5.5 12h0m-123.5 18h0m-0.5-8h0m-58.5-35.5h0m71.5 46h0m-113-54.5h0m368 40.5h0m-334-47h0m39.5 20h0m159.5 23.5h0m-25-11h0m-212.5-29h0m169.5 36.5h0m-111.5-6h0m-5 1.5h0m77.5 15h0m40 7h0m-265.5-0.5h0m220.5-7.5h0m128 1h0m-187.5-21.5h0m83 2h0m41.5-11h0m40 20.5h0m-110.5 18h0m262-36.5h0m-327.5 41.5h0m55.5-16h0m-58-19.5h0m85 19.5h0m59-39h0m-386.5 12.5h0m642.5 38.5h0m-233-5.5h0m-61-20.5h0m-188-12.5h0m105 24h0m-39-17.5h0m32-5.5h0m-22.5 10.5h0m-206.5-15h0m96.5 14h0m-85.5-25.5h0m273.5 12h0m-129.5 12.5h0m233.5 3h0m-7 22.5h0m-377-37.5h0m360-3.5h0m-172 8.5h0m-13-5.5h0m53 38h0m-259.5-4h0m-13.5-36.5h0m432.5 35.5h0m-216.5-15.5h0m33.5-13.5h0m-62.5 28.5h0m216-11h0m-215 23.5h0m43-10h0m63.5-25h0m-16 36h0m94-17h0m109 3h0m-168.5-2.5h0m-135.5-27.5h0m268 26.5h0m-125 0.5h0m-51.5-18h0m355.5 16h0m-334.5 11h0m-135.5-30h0m215-4.5h0m-214.5-24h0m198 33.5h0m134.5 4.5h0m-216 16h0m146 1.5h0m95.5-4.5h0m-240-42.5h0m-140 55.5h0m200.5-44h0m111-3.5h0m-18.5 32h0m-234.5-38.5h0m59-6.5h0m70 10h0m195 8h0m-295 5h0m342 21h0m-16-10.5h0m-241 5h0m74.5-19.5h0m-56.5-11h0m2 19h0m-27 17h0m46-42.5h0m-0.5 39.5h0m90 1.5h0m-78.5 1.5h0m11 14.5h0m-154.5-25.5h0m197.5 10h0m-37-6h0m-200 17h0m-3.5-63h0m105 19h0m146.5 26h0m-138.5-7.5h0m-59.5-4.5h0m258.5 7h0m-60 22h0m-348-16.5h0m375-3h0m-211.5-2.5h0m29.5-3h0m125 36h0m-170-59h0m70.5 20h0m35-8h0m216 39.5h0m-218.5-17.5h0m14-47h0m193.5 54.5h0m-131.5-0.5h0m-266.5-1h0m114.5 3.5h0m275 15.5h0m-122.5-11h0m-51 1.5h0m-174 5h0m42-24h0m148 27h0m-77.5-22.5h0m-185-14.5h0m327.5 15h0m-16-12.5h0m-37.5-6h0m225 0h0m-597.5-13h0m146.5 22.5h0m233.5 30.5h0m-38.5-36.5h0m155 19.5h0m-231 15.5h0m95-27.5h0m-137.5 5.5h0m183-23h0m-170 23.5h0m-212.5 16h0m281-42.5h0m70.5 32h0m-246.5-7.5h0m47.5 7.5h0m126.5-23h0m-15.5 6h0m102.5 5.5h0m-305 7h0m219.5 6.5h0m-66-37h0m16 9.5h0m-83.5 20h0m40.5 18.5h0m30.5 2h0m390-55.5h0m-413.5 23h0m249.5-3h0m-229.5 18h0m134.5 7h0m-32.5 7h0m-15-41h0m-326.5-6.5h0m345 16h0m12.5-29h0m-86.5 61.5h0m64.5-20.5h0m104.5 12.5h0m-140.5-29.5h0m-244.5 0h0m359.5 14.5h0m-108 14h0m48.5 10.5h0m78-5.5h0m-212-3.5h0m159-14h0m25-11h0m-89-27.5h0m85 46h0m-96.5-3.5h0m101-21.5h0m196 13.5h0m-337.5-2h0m3.5 6h0m-26.5 14h0m148.5-11h0m-42.5-38h0m-64.5 43.5h0m170-22.5h0m-113.5 27.5h0m124.5-29h0m-459 20.5h0m404.5-3h0m267 2.5h0m-444 23.5h0m133-39.5h0m33 22h0m149.5 2h0m-356.5-43.5h0m52.5 14h0m-239 27h0m167-25.5h0m184.5 36h0m-158-4.5h0m207.5-45.5h0m-102 37.5h0m35.5-16.5h0m-63.5 24.5h0m53.5-26h0m50.5 17h0m-97.5-3.5h0m76.5-22.5h0m-63 32.5h0m-30.5-25.5h0m97-15.5h0m-121 25h0m-91.5-3.5h0m138.5 0h0m-78.5-3.5h0m54.5-6h0m-61 16.5h0m152.5-32.5h0m-237 44h0m-18-30h0m269 18.5h0m-48.5-40.5h0m60 47h0m-21 0h0m1.5 0.5h0m-249-4.5h0m272-27.5h0m-34.5 14.5h0m-105.5-2.5h0m-214 10h0m590 9.5h0m-439 3h0m-181.5-3h0m210.5 5.5h0m43-32.5h0m-72-14h0m47.5 32h0m-4.5-2h0m143 9.5h0m105.5-20h0m-126-0.5h0m-43.5-8h0m-91 12.5h0m241.5 21.5h0m-118.5 16h0m110-50h0m-79 8h0m-184 36.5h0m215-3.5h0m-249-9h0m89.5-34.5h0m173 47.5h0m-124-33.5h0m49.5 9h0m-267.5-24h0m237.5 36.5h0m-136.5-5.5h0m318.5-5h0m-255-14.5h0m200 2.5h0m24 5.5h0m-50.5 20h0m4-7.5h0m-92-31.5h0m340.5 17.5h0m-332 36.5h0m4-50.5h0m-170 44h0m167.5-2.5h0m2.5-12h0m-66-44.5h0m-10.5 25h0m119 11h0m119 3.5h0m40.5-8.5h0m28.5-16h0m-314 9.5h0m60.5-3h0m30-29h0m67 11h0m132 28.5h0m-346.5-5.5h0m1.5 25.5h0m-97-4.5h0m267.5 5.5h0m7-24h0m-190.5-8h0m245 26h0m-39-12h0m-333-10h0m301.5 22h0m-171-37h0m-125 0.5h0m153-1h0m4 25.5h0m57 6.5h0m-206.5-22h0m135 40h0m149.5-46.5h0m-44-7.5h0m129 20.5h0m-147 33.5h0m31-29.5h0m-109 1h0m15.5-6h0m148-8h0m-332-2.5h0m313.5 51h0m-358-61h0m377 44.5h0m73-49.5h0m-416.5 48.5h0m317.5-0.5h0m-135-33.5h0m171.5 6h0m-43 34h0m174-17.5h0m-111 17.5h0m-97.5-10h0m-78 21h0m-50.5-44.5h0m334.5 42h0m-178.5-24.5h0m-74.5-14.5h0m-16 14h0m-109-3h0m172.5-1.5h0m182-18h0m-42 30h0m92-3h0m-296 7.5h0m-72.5-40h0m233 19h0m55.5 8h0m-233.5-4.5h0m-2-14h0m90.5-12h0m-303.5 2h0m387.5-1.5h0m-12.5 23.5h0m55 5.5h0m-48.5-23h0m-93-10.5h0m185.5-2h0m-181.5 32h0m30.5 1.5h0m167 5h0m-402-16h0m192.5-5h0m87 33.5h0m114.5-22h0m-311.5-27h0m202 39.5h0m91.5 12.5h0m-147.5-27.5h0m-243-32.5h0m180.5 55h0m70-4.5h0m-62.5-25.5h0m71 42.5h0m-132-49.5h0m190.5 51h0m-156.5-37h0m-118.5 26.5h0m153.5 8.5h0m-133.5-20.5h0m285-10h0m-387.5 13.5h0m27-23.5h0m203.5 13.5h0m76-6.5h0m-8.5-22h0m-50.5 12h0m-61-20.5h0m96 15h0m1.5 49.5h0m-93-35.5h0m10-12h0m-8.5 4.5h0m24.5-12h0m195 21h0m-96.5 2.5h0m79.5-35h0m-210 22h0m-93 4.5h0m-50 34.5h0m254-15h0m-2.5 4.5h0m23.5-10.5h0m62-1.5h0m-140 28h0m62-45.5h0m56 31h0m-134.5-7h0m-149.5-30.5h0m119.5 30.5h0m-28.5-15h0m23 14h0m-27.5-30h0m101.5 29h0m-76.5-29h0m102 21.5h0m-63 20h0m-111-5.5h0m-28.5 12h0m-111.5-20.5h0m405-32h0m-348 12h0m220.5 3.5h0m144 30.5h0m131.5-44.5h0m-374 29.5h0m145.5-26.5h0m17 53h0m-76-4.5h0m85-19h0m67.5-20.5h0m21.5 10.5h0m-449 9.5h0m293 10.5h0m48-27.5h0m81.5-8.5h0m-244.5 46.5h0m387-3.5h0m-2.5-33h0m-564-2.5h0m385.5 5h0m-123.5 8.5h0m39 21h0m262-22.5h0m-426 17h0m276-28.5h0m-331 39.5h0m100-24h0m175 13h0m-187-25.5h0m-178 19.5h0m402-11.5h0m-93.5 3.5h0m113.5 5.5h0m-126.5 20.5h0m22.5-67h0m10 58.5h0m-95.5-21h0m135.5 32.5h0m-127-16h0m-98.5-16.5h0m220-3h0m-98.5 5.5h0m123-31h0m-118.5 40h0m121.5 4.5h0m-36.5 8h0m-86.5-33h0m41.5 3.5h0m-289.5-34h0m210 67h0m216.5-14h0m-101.5-23h0m-22 14h0m100.5 4h0m-92-4.5h0m34-4h0m-126.5-4h0m12.5-0.5h0m-9 10.5h0m154.5 17.5h0m-42-19h0m-104-4.5h0m201-1h0m-185.5 18h0m23-35.5h0m245.5 28h0m-248.5-6h0m117 18.5h0m-130-26.5h0m-18 21.5h0m-185-8.5h0m197.5-0.5h0m32.5-22.5h0m-137.5 17.5h0m215-22h0m2 26h0m-96.5 2h0m46-16.5h0m-194 21h0m317.5-8h0m-189-16.5h0m-79.5 32h0m257.5-7h0m-63-31.5h0m-165 4h0m13.5 24.5h0m-199-29.5h0m377 27h0m-201.5 16h0m107.5-35h0m-4 44h0m329-69h0m-412 4h0m77.5 48h0m36.5-42h0m-135.5 26.5h0m379.5 14h0m-271.5-27h0m-19.5 38h0m22.5-3.5h0m-54.5-13.5h0m94.5-0.5h0m2.5-12.5h0m-157.5-11.5h0m287.5-8.5h0m-96 34h0m163-1.5h0m-296.5 3.5h0m26.5-40.5h0m235.5 9.5h0m-181 52h0m-77.5-38.5h0m84 25.5h0m32.5-15.5h0m187 5h0m-135.5 16h0m-212-50h0m-13 18h0m-21 19.5h0m130 17h0m34.5-34.5h0m-177.5 13.5h0m94.5-14.5h0m-175.5-1h0m305 7h0m-74-13.5h0m21 8h0m103-1h0m-177 23h0m-192-30.5h0m365.5-7.5h0m-5 35h0m-104-14h0m-60-12.5h0m-44.5 22.5h0m165.5 7.5h0m-203-43.5h0m235.5 18h0m-195.5 0.5h0m151-2.5h0m59.5 11h0m-34 4h0m101.5 3.5h0m-112-27h0m-316-13h0m164 18.5h0m1.5-8h0m64.5 28h0m-5.5 2h0m53.5 9.5h0m-179.5-37.5h0m15.5-13h0m-184 33h0m405.5 19.5h0m-284-30.5h0m192.5 7h0m80.5 26.5h0m-165.5-13.5h0m-91-33h0m114.5 39h0m205.5 15h0m-256.5-60h0m364 51h0m-272.5-10.5h0m53.5-45h0m-189.5 21.5h0m99.5 36h0m101.5-24.5h0m-59.5 15h0m-74.5-7.5h0m114.5-36.5h0m-132.5-2h0m89 64.5h0m-114-13.5h0m32.5-40h0m90.5 38.5h0m203.5-4.5h0m-238-5h0m-59.5-5h0m150.5-3h0m-34-8.5h0m49.5 10h0m-42.5 12.5h0m97.5-40h0m-84 3h0m199 27.5h0m-509.5-10.5h0m224.5-9h0m-121 17.5h0m119-12.5h0m-236 32.5h0m230.5-46.5h0m-15.5 14h0m33-7h0m122.5 6h0m29-25.5h0m-213.5 45.5h0m161 10.5h0m-91-15.5h0m63 18.5h0m-178.5-38h0m179.5 2.5h0m-9 24.5h0m-183.5-41.5h0m84-3.5h0m-163 67h0m135.5-18.5h0m58-3.5h0m87.5 5.5h0m-80-16.5h0m204-21h0m143.5 22h0m-97 7.5h0m-281.5-14.5h0m125.5 14.5h0m-106-24h0m232.5 9.5h0m-237-9.5h0m94 28.5h0m-107.5 5.5h0m47.5-44.5h0m168.5 6h0m-157.5 22.5h0m-17.5-4h0m-23.5 10.5h0m69-10.5h0m18 16.5h0m191-2.5h0m-288.5-38h0m200 4.5h0m-233.5 49.5h0m150.5-28.5h0m-92-18h0m-124.5-22h0m-109.5 31.5h0m413 27h0m-65.5-1.5h0m35-7h0m116 11.5h0m-126.5-22.5h0m-175.5-1.5h0m75.5-11h0m-76 4.5h0m417.5 23h0m-85.5-7.5h0m-220.5-7.5h0m-109 3h0m135.5-5.5h0m-82-9.5h0m285 7h0m-491 23h0m-27-35.5h0m113-8.5h0m82.5 22h0m39 26h0m145.5-12.5h0m-162.5-7.5h0m60 12.5h0m176.5-38h0m-338.5 18.5h0m-74.5 25h0m291-49h0m-151.5 61h0m119-12.5h0m-65 2.5h0m-287.5-13.5h0m214-13.5h0m27.5-8.5h0m-121 18h0m284-20h0m-21 10.5h0m-396-23h0m232 21.5h0m151 20h0m-73-8h0m66.5 14h0m-165.5-28h0m43.5-3.5h0m-58.5 18h0m-22.5-16.5h0m99.5 3.5h0m-263.5-5h0m296.5 35.5h0m-294.5-18.5h0m340 18h0m-150.5-9.5h0m96 5.5h0m84.5 1.5h0m-225-19.5h0m149.5-8.5h0m-19-28.5h0m39 60.5h0m-52.5-24h0m49-15h0m-81.5-0.5h0m161 20h0m-94.5-9.5h0m-114.5-8.5h0m119 9.5h0m277.5 17h0m-308.5-12h0m86.5 13h0m-60.5-28h0m53 1h0m-292 12h0m49.5 15h0m191-30h0m-15 14h0m-102 27.5h0m237.5-35.5h0m-235 32h0m373.5-31.5h0m-211.5-25.5h0m-94.5 27h0m29-17h0m-230 57h0m-47.5-62h0m507.5 16.5h0m-367.5-6h0m26 32h0m-8-22.5h0m-55 0.5h0m-3.5 29h0m104.5-34h0m104-5.5h0m31.5 50h0m126-29h0m-367-11.5h0m98.5-15.5h0m226.5 46h0m-169-4.5h0m14-52h0m76.5 31h0m98.5 1h0m-206.5-1h0m126.5 1h0m-125 7h0m107.5 22.5h0m-131.5-8h0m57-15h0m95 27h0m-8-35.5h0m118.5 20.5h0m-137-16h0m-141.5-18.5h0m152 3.5h0m3.5 6h0m107 19.5h0m-116-7.5h0m73-5h0m-139 1.5h0m59.5 2h0m14 30.5h0m-15.5-32h0m-78.5 1h0m27.5-0.5h0m-97.5 20h0m48.5-47.5h0m83 49.5h0m-1-29h0m-111 14.5h0m165.5 2h0m-112.5 0h0m101-2h0m-30-9h0m-147-14h0m135 9h0m-78.5-13.5h0m148 6h0m-2 21.5h0m-147 13h0m62.5-25h0m-56.5-3.5h0m-3-5h0m-54-16h0m-41-2h0m194.5 34h0m47.5 20h0m0-9h0m-135-18.5h0m69 37.5h0m-22-40h0m-104 25h0m104-21.5h0m253.5 6.5h0m-256-11h0m-18 20h0m-128.5-11.5h0m74.5 6h0m51 13.5h0m-9-11.5h0m-7 10.5h0m-1.5-48h0m45-3h0m19 36h0m-62.5-19.5h0m102 8h0m116.5 6h0m-149.5 17h0m-133-4.5h0m184 3.5h0m-360.5-6h0m172-21h0m183.5 20h0m-199 14.5h0m219-30h0m160.5-13h0m-174 28.5h0m-356-22h0m221 39.5h0m-167-19h0m120.5-15h0m0.5-6h0m-126.5 0h0m115.5 2h0m156.5 46h0m-109-33h0m221.5-7h0m-195.5 12h0m240.5-7h0m-295 1.5h0m61.5-23h0m-50.5 45.5h0m59.5-22.5h0m220 16h0m-71.5-10h0m-83.5 17h0m-3-21h0m6-33.5h0m-23 13.5h0m81 26h0m-313.5 10.5h0m150-41h0m143.5 27.5h0m60-4h0m-158.5 30.5h0m-195.5-38.5h0m113.5 18h0m-111.5-3h0m266.5 8.5h0m-10-15h0m-356.5-16h0m237.5 3.5h0m102 1.5h0m81.5 29h0m59-27.5h0m-467.5 13.5h0m470 18.5h0m-277-28.5h0m59-19.5h0m179.5 47h0m-245-20.5h0m41.5-7.5h0m-8.5-3h0m191.5 17h0m-150.5 22.5h0m-44.5-21.5h0m2.5-26h0m-221 34.5h0m596.5-41h0m-208 53h0m-133-47h0m161 22h0m-103.5-12.5h0m111-6h0m-160 20h0m-60.5-23.5h0m127.5-10h0m-265 11h0m216.5 33.5h0m-21.5-49h0m190-5h0m-295.5 17.5h0m62.5 47.5h0m75-60h0m-187.5 54.5h0m-8-11h0m219.5 17.5h0m-168.5-27.5h0m192.5-6h0m71 3h0m18.5-5.5h0m-218.5 7.5h0m-171-8.5h0m211.5-1.5h0m-99 6.5h0m39.5 15h0m129-12h0m-36.5 2.5h0m-117.5 8.5h0m82 10.5h0m-9.5-52h0m-9 8h0m226 39h0m-51.5-23h0m-177.5-11h0m-137.5-20.5h0m123.5 18.5h0m59 33.5h0m-2.5-3.5h0m-17.5-10h0m209.5 33h0m-147.5-51.5h0m-100 0h0m-3.5-19.5h0m151 34.5h0m2 17.5h0m37.5 8.5h0m12-22.5h0m-177.5 3.5h0m13.5-21.5h0m30 22h0m89 1h0m-83 10h0m-309 1.5h0m283.5-33h0m-124.5 25h0m223-30h0m-30.5 29.5h0m147.5 17.5h0m-317-57.5h0m-9.5 23.5h0m124.5 23.5h0m-25.5-44.5h0m8.5 41h0m-94 9h0m195-37h0m9 17h0m-92.5-24h0m31.5 28.5h0m125 19.5h0m-215-51.5h0m134 15.5h0m52.5 30h0m180.5-8h0m-277.5-19.5h0m43.5 22h0m-79-44.5h0m79 33h0m-217-30h0m59 27.5h0m74-5h0m-75.5 3h0m-135.5 21.5h0m-10-24.5h0m189.5-31h0m24 48h0m-268-33h0m167 46.5h0m85.5 4h0m37.5-40.5h0m127-7.5h0m-380.5 25.5h0m287 27h0m69.5-26h0m-65-13.5h0m-120.5 3h0m152.5 37h0m-111.5-38h0m176-9.5h0m-89 28.5h0m232.5 5h0m-308.5-34.5h0m355.5 24.5h0m-382-24.5h0m45.5 0h0m-115.5 26.5h0m245-26.5h0m-84.5 9.5h0m-37.5 24h0m-150.5-26h0m100-7h0m57.5 7.5h0m-100.5-5.5h0m18-22.5h0m130 29h0m-278.5 27h0m338.5-27h0m-125 25.5h0m-46-22h0m276.5 13h0m-205-42h0m166.5 15h0m18.5-21h0m-425 25h0m302 4.5h0m-165.5 11h0m137-41.5h0m-86 43h0m-83 21h0m65.5-1h0m48-21.5h0m43.5 19.5h0m72.5-11.5h0m-155.5-0.5h0m49-31h0m82 26.5h0m-73.5 15h0m-24.5-9.5h0m101.5-37.5h0m-148.5 47h0m118.5-56.5h0m-92 46.5h0m304.5 10h0m-246.5-6h0m89.5-10.5h0m-114 3h0m-60.5 9h0m-107.5-27.5h0m169.5-8h0m-3 20.5h0m-26.5 32.5h0m29-31h0m-293 11h0m413.5-1.5h0m-107-5.5h0m-86-15.5h0m88 17.5h0m-17 6.5h0m8-35.5h0m-24.5 33h0m301.5-33.5h0m-494.5 33.5h0m251.5-17h0m-57.5-17.5h0m84 21.5h0m14.5-13.5h0m-28.5 13.5h0m-205-9.5h0m325.5-4h0m-148 5.5h0m-7.5 28h0m124.5-1h0m-83-17.5h0m109.5-3.5h0m-414 7.5h0m75-22h0m251.5 30.5h0m-65-5.5h0m162.5-4h0m196-6h0m-361 9.5h0m116-29h0m-136 51.5h0m-7.5-33h0m218 17h0m-120.5-31.5h0m-311-7h0m245 44h0m-15.5-21.5h0m157 1.5h0m86-7.5h0m-112-2.5h0m86.5 35.5h0m-267 8.5h0m115.5-34.5h0m-104-9h0m-44.5 20h0m35.5-5h0m-237-15.5h0m239 3.5h0m172 1h0m23.5-18.5h0m-55 27.5h0m-137-3h0m319-28h0m-222 11h0m-68.5 17.5h0m-114.5-25h0m-77.5 5h0m265.5-11.5h0m-108.5 22h0m-150 10.5h0m-69-17h0m89 14.5h0m132-0.5h0m-23.5 6.5h0m90.5 15h0m104.5-20h0m-109 3h0m-26-12h0m42 11h0m38.5-15h0m-120 22.5h0m69.5-33h0m-105.5 41h0m4.5-49.5h0m5 57h0m146.5-12h0m-53-43h0m-38 15.5h0m-175-3h0m110 19.5h0m113.5-14.5h0m-143 28.5h0m284 5.5h0m-43.5 6.5h0m-8.5-15h0m-136.5-27h0m89.5 22h0m-66.5-10h0m-30 14h0m-49-9h0m221-5.5h0m-92.5 29h0m-61.5-21.5h0m26.5 10.5h0m23-3.5h0m-24.5 2h0m-4.5-41h0m112.5 46.5h0m-223.5-36h0m160 41h0m39-54.5h0m197.5 9.5h0m-274.5-19h0m99 29.5h0m-273 21.5h0m204.5-51h0m246.5 38h0m-415-28h0m-153.5-2h0m233 21.5h0m12 13h0m75.5-36.5h0m154.5 42.5h0m-255.5-30.5h0m-252.5 14.5h0m29-29.5h0m377 31.5h0m-82.5 1h0m-54 19h0m-195-23.5h0m292.5-20.5h0m-76.5 59h0m257.5-51.5h0m-228 51.5h0m44.5-20h0m-179-16h0m178 17.5h0m45-23.5h0m-13.5 10h0m-206.5 8.5h0m76-28.5h0m108 44.5h0m-114.5-60h0m258 40h0m-197.5-20.5h0m-64 41.5h0m124 6.5h0m-147.5-30.5h0m137.5-15h0m-12.5 49h0m-73-64.5h0m-1 50.5h0m184.5-35.5h0m7 8h0m-197.5 37.5h0m-43-52h0m131 28.5h0m-97.5-4.5h0m233.5 21h0m-293.5-8.5h0m-99-8.5h0m311.5 14.5h0m-117.5 3h0m-92-19h0m121-36h0m-26 32h0m-201.5 15h0m256-21h0m-185 9h0m66 5.5h0m11-25h0m102.5 14.5h0m-290-25.5h0m444.5 30.5h0m17.5-4h0m-190.5 10.5h0m82.5-17.5h0m-139-28.5h0m30.5 24.5h0m81.5 17h0m-40-6.5h0m-108-8.5h0m132 20h0m-41-29h0m-76.5-5h0m102 24.5h0m72 22h0m-44.5 7h0m-97.5-6.5h0m-1.5-12.5h0m73 17.5h0m126-7h0m-137-4h0m-183-11.5h0m179-43h0m152.5 31h0m-181 18h0m30.5 14h0m-64.5-36.5h0m-25.5-19h0m110-1.5h0m-23.5 23h0m-170-18h0m148.5 14.5h0m75 36h0m41.5-39h0m100.5 19.5h0m-389.5 5.5h0m148-22h0m79 28h0m-189.5 16h0m-45.5-56.5h0m174.5 16.5h0m-13 16h0m-14.5-15h0m200-20.5h0m-135 46.5h0m7-4h0m-159-39h0m-124.5 52h0m297.5-22h0m-67 19h0m132-21h0m-138 1.5h0m48.5 6.5h0m29.5-20h0m-39.5-12h0m47 23.5h0m-250 6h0m-56.5-18h0m8 20h0m38 18.5h0m169.5-12.5h0m-33-13h0m-34.5-21.5h0m152 22h0m-25 14.5h0m-102-15.5h0m169-30.5h0m-93.5 48.5h0m-24-18.5h0m148.5-2.5h0m-117.5 0.5h0m-250-31h0m166.5 45.5h0m240.5-15h0m-419.5-25h0m350.5 37.5h0m-87.5 11.5h0m52.5 5.5h0m3-35.5h0m68.5 32h0m-251.5-38h0m102 29.5h0m-46.5-36h0m32 16.5h0m132-10h0m-135 15.5h0m-174.5 17h0m274-36.5h0m-86.5 1.5h0m14.5 4.5h0m-256.5 23.5h0m157.5-23.5h0m0-16h0m136 20h0m53 27h0m-229.5-7h0m73-5.5h0m168.5-47h0m-401 31h0m1.5-22.5h0m204.5 10.5h0m141.5 21h0m-286.5 29h0m235-54.5h0m43.5 25.5h0m-50 24.5h0m234.5-5h0m-297.5-45h0m96.5 43h0m-240-2h0m295.5-26.5h0m-162.5 22.5h0m92.5-38h0m-331.5 9.5h0m325-12.5h0m31 49h0m-274.5-30.5h0m234 4h0m75 8h0m182.5-18.5h0m-224.5 38h0m118.5-23h0m-93.5 4.5h0m-296 7.5h0m418.5-4.5h0m-290.5-15h0m26.5 25.5h0m17.5-44h0m-106.5 13h0m343 1.5h0m-291 11.5h0m236-5h0m-284.5 9.5h0m166.5-8h0m11 7.5h0m23.5 24h0m-94-16h0m69.5 17h0m137.5-51.5h0m-78.5 50.5h0m-58.5-30h0m-5.5-19h0m-122.5-2.5h0m20.5 40.5h0m280-16h0m-251 20h0m-35.5-3.5h0m-122-18h0m136 8.5h0m261.5 0h0m-217 6h0m98 1.5h0m278-21h0m-376.5-6.5h0m43-2.5h0m2 37h0m-144.5-20h0m108-26.5h0m-11.5 16h0m28.5-3h0m-251.5-3h0m170 9h0m-120.5-6h0m296.5 18.5h0m-37.5-6.5h0m200.5 8.5h0m-171-34h0m-146 49.5h0m4-31h0m96.5 38h0m74-12h0m-201-13.5h0m129-34.5h0m24.5 19.5h0m16.5-14.5h0m-202 44.5h0m104 1.5h0m53-15h0m-61.5 25.5h0m113.5-51.5h0m-55-8h0m31.5 32.5h0m59 18.5h0m-334.5-56.5h0m422 43.5h0m-156.5-28h0m-107.5 36h0m99-26h0m-58.5 20h0m-98.5-1.5h0m-107.5 7.5h0m-41-19h0m160-9h0m-18.5-2.5h0m76 4.5h0m-128-1h0m154.5-0.5h0m-205.5-12.5h0m314 36h0m-89.5-9.5h0m159.5-6.5h0m-79.5 21h0m-88.5-38.5h0m17.5 12h0m241 31h0m-237-7h0m42.5-15h0m-155.5 3h0m81.5-3.5h0m-82 2h0m-19-23h0m387.5 23h0m-395-26h0m289.5 28.5h0m129.5 19h0m-227-30.5h0m-39.5 6.5h0m140 28h0m-182.5-23h0m-158 8h0m353 17h0m-94-25h0m-49 5.5h0m43.5 12h0m21-8h0m-175 14.5h0m49.5-22h0m-172 14h0m489.5-0.5h0m-110-8.5h0m-138.5 11.5h0m-37-18h0m-75-44h0m-22 62h0m-18-43.5h0m176.5 8h0m-110.5-26h0m81 13.5h0m-37 29h0m-60 1.5h0m184.5-20.5h0m5.5-17.5h0m-190 20h0m132.5 15.5h0m52-28h0m-95 47.5h0m-67.5-12.5h0m-126-11.5h0m181 24h0m121.5-25.5h0m-88 5.5h0m-56.5 12.5h0m-242-23.5h0m144.5-29.5h0m-190.5 46.5h0m295.5 11.5h0m74-31.5h0m-68 10.5h0m54.5 7h0m-164-29.5h0m226 25h0m-285.5-10.5h0m333.5-11.5h0m-3.5 8.5h0m-296.5-6h0m176.5-2h0m35.5 3.5h0m-265 24.5h0m147-6.5h0m64-11.5h0m-16.5-13.5h0m59.5-12.5h0m-186 30h0m-112.5-10.5h0m439.5-3.5h0m-409.5-11h0m78 6.5h0m142 31.5h0m53-34.5h0m-18 48h0m-191 1.5h0m25-20h0m146.5-13h0m-276 21.5h0m-20-20.5h0m95-0.5h0m192 14.5h0m-101.5 2.5h0m78 5.5h0m212.5-42h0m-199.5 39h0m105.5-0.5h0m-229.5-20h0m298-4.5h0m-30.5 15.5h0m-152.5 0.5h0m-119.5 15.5h0m240 9h0m-163.5-11h0m108-11.5h0m95.5 18.5h0m-202.5-21h0m309 12h0m-284.5 6.5h0m0-44h0m170.5 6.5h0m-246.5 5h0m116 25.5h0m-110-21.5h0m13-16h0m-133.5-2h0m140 55.5h0m-163-36h0m289 9.5h0m54 7h0m-210.5 11h0m118.5 5h0m-82.5-8h0m-7-35h0m-51.5 9h0m176-2.5h0m-60 36.5h0m-24-24h0m9-8.5h0m374 14h0m-202-39.5h0m-192 32h0m14.5 3h0m72 29h0m-22.5-33.5h0m-11.5 5h0m-139.5 0h0m186.5-3h0m-44.5-2h0m85-5h0m-280 20.5h0m58-7h0m167.5-9h0m-119.5-17h0m160.5 38h0m-353 9.5h0m96.5-36.5h0m213 33.5h0m-93-48h0m25 47.5h0m104-51h0m-50.5 33h0m66 22h0m-190.5-24.5h0m219 4.5h0m-360-15.5h0m528.5 2.5h0m-346 18.5h0m-51.5-32.5h0m-171.5-8h0m368.5 34h0m-21.5 24.5h0m-107.5-1h0m147-18.5h0m-165.5 15.5h0m-28-36.5h0m157.5-13h0m-45.5 15.5h0m-84.5-9h0m-177 25h0m18 19h0m145.5-20h0m108-19.5h0m-110.5 29h0m-205.5-35.5h0m391 33.5h0m14.5-22h0m-76.5 1.5h0m-99 16h0m-169-5h0m316.5-6h0m-126.5 5h0m35 18.5h0m69.5-3.5h0m-61-45.5h0m177.5 18h0m-130.5 34h0m-271-35h0m122.5 22.5h0m-84-27h0m56.5 5.5h0m3 24.5h0m72 2h0m92.5-16h0m-361-21h0m250.5 27h0m-29-25.5h0m165 25h0m-46.5 18h0m86-51h0m-103 23.5h0m118.5-8h0m-149 38.5h0m-40.5-10.5h0m163-31h0m-153.5-10h0m-102 10h0m87 36.5h0m156-26.5h0m-291 10h0m-57-22.5h0m54.5 16h0m28.5-36h0m183 37.5h0m-50-30h0m-155 17.5h0m141 5h0m122.5-1.5h0m103-7h0m-239.5 31h0m31.5-12h0m4 3.5h0m1.5-17.5h0m61 15.5h0m-304.5-1.5h0m327-4h0m-37.5 11.5h0m179.5-8h0m-112-12.5h0m-131.5 4h0m-8 25.5h0m48.5-19.5h0m-209.5-39.5h0m216.5 36h0m119.5 10h0m-123-13.5h0m145.5-2h0m-195 0h0m1 4.5h0m83-3.5h0m-49.5 9.5h0m131-25h0m51 17.5h0m-58 12.5h0m-33-35h0m152 36h0m-217-16h0m-33.5-14h0m-76 38h0m406.5-4h0m-153-21.5h0m-347.5 8.5h0m75.5-1.5h0m-170-2h0m361.5-18h0m-95.5-2h0m173.5 46h0m-249.5-32h0m30.5 10h0m122.5 28h0m-266-27.5h0m217.5 16.5h0m-26.5-15.5h0m246-7.5h0m-446.5-18.5h0m292.5 46.5h0m4.5-8.5h0m-62-5.5h0m45.5-6.5h0m-60.5-13.5h0m-83-11h0m66-8.5h0m-205 28h0m43.5 23h0m185.5-22.5h0m46-23.5h0m-77.5 13.5h0m213 19h0m23-1.5h0m64-33h0m68.5 42h0m-528-26h0m94.5-3h0m-94-5.5h0m229-2h0m118.5 23h0m-57-6h0m-133 7.5h0m1.5-12h0m0.5-2h0m-105 4.5h0m8 24h0m201-20h0m-250 5h0m142.5-12.5h0m53.5 40h0m-108.5-21h0m60.5-24.5h0m106.5 34.5h0m-117.5-39h0m-17.5 33h0m147.5 18h0m-266.5-17h0m221 1.5h0m111-17h0m-452.5 3h0m560.5 21.5h0m-103.5-31.5h0m-269.5 4h0m172 34.5h0m-25.5-42h0m-66.5 7.5h0m169.5 8h0m-206.5 10h0m33 10h0m166.5-50h0m-228.5 36.5h0m-32-8.5h0m180.5-19h0m-205.5 19h0m-166-22h0m526 44.5h0m-216-2h0m-29-30h0m40.5 35.5h0m115.5-13h0m120 12h0m13-2.5h0m-549.5-27.5h0m168-37h0m193 37h0m-31-14h0m25.5 8.5h0m18 14.5h0m-45-17.5h0m293.5 26.5h0m-208.5-18h0m-254.5-33.5h0m3.5 46.5h0m180.5-20.5h0m11 16h0m14 6.5h0m73-5h0m49-14h0m-289-2.5h0m221.5 7.5h0m9.5 4.5h0m-171.5-18.5h0m127.5 5h0m-286.5 16h0m86.5 0.5h0m-54 6.5h0m441.5 18h0m-346.5-23.5h0m7.5 3.5h0m-54.5-24.5h0m92.5 18.5h0m86-12h0m107-14h0m-422.5 39.5h0m507 5.5h0m-445-38h0m-57 24.5h0m132.5-16h0m152-3h0m-50 0.5h0m-52.5 11h0m-238 24.5h0m289.5-41.5h0m89.5 10.5h0m-75.5 9.5h0m-265.5-8h0m322.5-11.5h0m-31.5 16h0m-138-10.5h0m133 8h0m153.5 13h0m-167-5h0m-10.5 11h0m148 3.5h0m-112-23h0m-238-30h0m152.5 34.5h0m-56.5-20.5h0m215 20h0m-410 0h0m441.5 3h0m-155.5-47h0m160 49h0m-287.5 19.5h0m209.5-16h0m45.5-16h0m36.5-9.5h0m-176 29h0m-239.5-24h0m138.5 36h0m142.5-13h0m-252-38h0m210.5-14.5h0m83.5 55.5h0m-30-26h0m-69.5-19.5h0m156.5 44h0m-109.5-6h0m-65 7.5h0m44-29.5h0m355 41.5h0m-498.5-58.5h0m191.5 14h0m-22.5-17.5h0m98 26.5h0m-85.5 19h0m0.5-15h0m-259.5 13h0m300-13h0m-43.5-23h0m31 22h0m-171.5-14.5h0m5-11h0m-23 32.5h0m323-26.5h0m-167.5-1h0m169.5 27.5h0m-466.5-20h0m343 6.5h0m69 15h0m-257-8h0m365.5 25h0m-256-5.5h0m-188.5-40.5h0m200.5 50.5h0m-59.5-30h0m171.5-19.5h0m-179.5 50h0m-8.5-48h0m73.5 19.5h0m-255-14h0m244.5 41.5h0m127-28.5h0m198.5 9h0m-360-28.5h0m-246 0.5h0m291.5 14h0m58 27h0m21 8.5h0m174-35.5h0m-92 1.5h0m-115.5-14h0m254 3.5h0m-287 35h0m-2-47h0m-12.5-6h0m44 39h0m-13-3.5h0m103-26h0m-208 38h0m167 11h0m87.5-24h0m-426.5-1h0m132 18.5h0m134-8.5h0m-79 11.5h0m-184.5-19h0m111 10.5h0m49-12h0m-205.5-29h0m401 26.5h0m-80-5h0m-234 9.5h0m307 16h0m-86.5-23.5h0m-174 10.5h0m166 21.5h0m87-20.5h0m44.5 3h0m-223 22.5h0m11.5-45.5h0m276-2.5h0m-510 38h0m285-34h0m150-9h0m-185-20h0m-60.5 29h0m139.5-17.5h0m59-2.5h0m-55 60h0m60.5-24.5h0m-158.5 4.5h0m-105-41h0m69.5 21.5h0m165.5 27h0m-204 0h0m155-42h0m-184.5 0.5h0m211 17.5h0m-159.5 24.5h0m181.5 9.5h0m265.5-48h0m-428 18h0m-45.5-21.5h0m-79.5 24h0m239.5 6h0m104-14.5h0m-244 2h0m410.5-2h0m-200 15.5h0m-0.5 11h0m-49.5-4.5h0m32.5-13h0m37.5 1.5h0m39 11h0m-110 3.5h0m-25-8.5h0m40.5-18h0m-321 14.5h0m252.5 15.5h0m-118.5-34h0m210.5 32h0m-321.5-35h0m336.5 19.5h0m-66-12.5h0m87.5 33h0m-78-37.5h0m-34-5h0m71 18.5h0m97 14.5h0m-198-1.5h0m-140.5-7.5h0m113.5 12h0m129-28.5h0m-61 9.5h0m-125.5 11h0m-7-7h0m120.5 10h0m189.5-20.5h0m155 19.5h0m-258.5 23.5h0m-155-36.5h0m222 24.5h0m-147.5-10h0m70-9h0m-147 2.5h0m-5-15.5h0m271.5 17.5h0m-148.5-18.5h0m-4 23h0m-158.5-46h0m154.5 23.5h0m-182.5-24.5h0m83 40h0m25-14.5h0m-114 4h0m40.5 24.5h0m46-36h0m127.5 36.5h0m-317-19h0m429 4.5h0m-136.5-5h0m-240-7.5h0m114.5-8.5h0m157.5-4h0m-40 22h0m245 3.5h0m-312 11.5h0m219.5-4h0m-267.5-29.5h0m56.5 3h0m-1.5 44.5h0m20-24h0m-74.5-1.5h0m354.5-17.5h0m-317 30h0m-59 1h0m363-26h0m-208.5 14h0m10 12h0m-321-14h0m303.5-20h0m132 27.5h0m-203.5 16.5h0m-16.5-28.5h0m-35-14.5h0m229 6h0m-116.5 17.5h0m-92.5 13.5h0m-26.5-6.5h0m124-12.5h0m-72.5-30.5h0m-90.5 60.5h0m150.5-48.5h0m90.5 4.5h0m-131.5 21h0m-101-40h0m-1.5 1.5h0m-151.5 32.5h0m200-1.5h0m-13.5-13.5h0m-26 6.5h0m116.5-28.5h0m-44 53h0m-40.5-24h0m68.5-18.5h0m-25.5 42.5h0m22.5-30.5h0m-36 27h0m117-24.5h0m-156.5-4h0m137.5 19.5h0m-24.5-31h0m214.5 20.5h0m-219-16h0m50.5 15.5h0m174.5 24h0m-278.5-7h0m36-25h0m-117.5 11h0m198.5 4.5h0m-198.5-1.5h0m-43.5 7h0m89-10h0m-4.5-2.5h0m162.5-21h0m48 11h0m-223.5 10h0m325 5h0m-138 1.5h0m-67-3h0m63.5 0.5h0m-16 12h0m-119-27h0m86-4.5h0m-289-10.5h0m313.5 17.5h0m-47 31.5h0m199-10h0m-373.5-42.5h0m217.5 63h0m-119 0h0m189.5-34h0m-114-3h0m-66.5 15.5h0m-60.5-28h0m161.5 16.5h0m-56.5 28.5h0m-17.5-45.5h0m-33.5 5.5h0m-4.5 23.5h0m103.5-9h0m-59.5-14.5h0m234-20h0m-202.5 32.5h0m-53.5-12h0m20 36.5h0m-18-4h0m-5.5-13h0m95 8.5h0m41.5-3h0m-158-23h0m147-0.5h0m-136.5-17.5h0m-47 31.5h0m-144-39.5h0m187.5 34h0m162.5 21.5h0m-304-23.5h0m-54 29.5h0m241.5-6h0m-192.5 1h0m221-32h0m-128.5 5.5h0m93 15.5h0m-82 15h0m161-1h0m-48.5 8h0m-51.5-57.5h0m61.5 40h0m-267.5-22.5h0m354.5-6h0m-212 32.5h0m84.5 16.5h0m85-25h0m-265.5 6h0m175 15h0m70-34.5h0m51 29.5h0m-144-42.5h0m-13.5 7.5h0m24.5-22.5h0m-68 41.5h0m114 11.5h0m-7-30h0m190 30.5h0m-136-17.5h0m-10.5-8.5h0m-269 17.5h0m286.5-21h0m-119.5 39h0m14.5-11h0m106-37h0m-117-2h0m22 34h0m10.5 3.5h0m195 15h0m-266-65.5h0m205.5 27.5h0m252 5.5h0m-444 18h0m46.5-5h0m-231.5-45h0m257 29h0m5.5 9h0m-126 26h0m-37-46h0m132 17.5h0m-45 10h0m76-1.5h0m4-8.5h0m50 12.5h0m-98-9h0m-248-1h0m243 1h0m-131-6h0m475 0h0m-218.5 21.5h0m-155-16.5h0m15 4.5h0m71.5 6.5h0m-78 3.5h0m57-13.5h0m-38.5 0h0m118-17h0m-6.5-7.5h0m-58 47.5h0m138-23h0m-61-27.5h0m71 13h0m-185.5 30h0m-245.5-32.5h0m232 7.5h0m-147.5-7.5h0m302.5 36h0m-90-30h0m-89.5-25.5h0m166 27.5h0m-126 29h0m-16.5-14.5h0m63 4h0m180-19h0m-126 19.5h0m-232.5-2h0m120-19h0m-106.5-1h0m-104.5-2.5h0m548 14h0m-597-18h0m271-24h0m141 25.5h0m-183 24.5h0m-24 16h0m174-3.5h0m-32.5-42.5h0m-170.5 13.5h0m86 4.5h0m165.5 0h0m-69.5-17.5h0m-111 23.5h0m236-0.5h0m-139-25.5h0m-15 22.5h0m-17-5h0m-111 22.5h0m128.5-18.5h0m-296.5-20.5h0m120.5 27.5h0m129-8.5h0m-261.5 15h0m303.5-0.5h0m-10-11h0m33.5-13h0m-30 6.5h0m158.5-14h0m-221 1.5h0m298-9h0m-177.5 30.5h0m-28.5 8h0m-92.5-23h0m-10 14.5h0m-243.5-18.5h0m255.5-21h0m320.5 44.5h0m-266 15.5h0m-131-50.5h0m77.5 1h0m119 22h0m-244-22.5h0m119.5-17.5h0m-62 32.5h0m240.5 16.5h0m-183 20h0m-166-58.5h0m416.5 54h0m-280.5-28.5h0m228.5 4.5h0m-393-31h0m456 23.5h0m-143.5 19h0m29-16.5h0m-39.5 14.5h0m29.5-4h0m-99-33.5h0m41.5 41h0m93.5 7h0m-60.5-14h0m-129-18.5h0m-65.5 26h0m244-37.5h0m-116.5 10.5h0m-90 21.5h0m57.5 20.5h0m381.5-35.5h0m-186.5-17h0m202 27.5h0m-527.5-9.5h0m449.5 6h0m-238.5 30.5h0m270-44h0m-410.5-12.5h0m63 2.5h0m-44 17.5h0m424.5 19h0m-316.5-9.5h0m-316 6.5h0m348.5-25.5h0m276 5.5h0m-166.5 20.5h0m-27-7.5h0m-97-1h0m-120.5-5.5h0m47 25.5h0m-229-42.5h0m310.5 8.5h0m-241-19.5h0m34.5 16.5h0m134.5-19.5h0m-197.5 40.5h0m404.5 5.5h0m-401-18.5h0m282-22h0m130 5h0m38 15.5h0m-361-19h0m120 14.5h0m-68-11h0m110 40.5h0m-148 7.5h0m137-30.5h0m31.5-4.5h0m32.5 16h0m-133-0.5h0m325-8.5h0m-145 23h0m54-34h0m-132 15h0m-120 8h0m122-9h0m67-2.5h0m3.5-30.5h0m-213.5 20.5h0m165 31h0m-360.5-19h0m22-24.5h0m379 39.5h0m-274.5-31.5h0m75.5 20h0m164 20h0m-25.5-32h0m-226.5 0h0m-22.5-12h0m271 39.5h0m-318.5-13h0m114.5-8.5h0m7.5-4.5h0m23.5 9.5h0m-54 4h0m154.5 21.5h0m-116-46.5h0m269 33h0m-385.5-44.5h0m147 35h0m61.5-10.5h0m-226.5-12h0m335.5 10.5h0m8.5-15h0m-158.5 17.5h0m86 1h0m-119-28h0m-37.5 5h0m411.5 44h0m-167-19h0m88.5-1.5h0m-201 5h0m-39-8.5h0m75.5 10.5h0m-80.5 4h0m1 9h0m7 6.5h0m147-2.5h0m-76.5-43h0m-90.5 21.5h0m256.5-14.5h0m-185-11h0m13 54.5h0m-1.5-3.5h0m-25-12h0m-42-49h0m65.5 10h0m-199.5 35h0m222.5-6.5h0m-46-15.5h0m216.5-6.5h0m-121.5 7h0m-56.5 35h0m147.5-23.5h0m-311.5 33h0m166.5-57.5h0m182 38h0m-113-4.5h0m-143.5-0.5h0m-13-2h0m-90 11h0m159-10.5h0m-290.5-24.5h0m345.5-3h0m-53-11.5h0m94.5 19h0m5.5 10.5h0m-21 23h0m-395.5-17.5h0m187 8.5h0m445 16.5h0m-189.5-3.5h0m-162-3h0m-113-6.5h0m298.5-1h0m-396.5-31.5h0m275 28h0m2.5-30h0m-20 23.5h0m27.5-41.5h0m-24 28.5h0m10.5 16.5h0m63.5-10.5h0m-77 11.5h0m-103.5-2h0m-18.5 23.5h0m263-36.5h0m-142 22.5h0m-66.5-12.5h0m-77-11h0m55.5 8h0m15 9h0m-30.5-25.5h0m151 14h0m17.5-6h0m-111.5-12h0m232.5 16.5h0m-273 14h0m327-3.5h0m-414-18.5h0m-1 4h0m259.5 40h0m-250.5-43.5h0m187 18h0m73 15.5h0m164.5 5h0m-63-56h0m-233 24.5h0m-128.5-23.5h0m109.5-3.5h0m-245 16h0m272.5 28.5h0m98.5 14.5h0m-65.5-48h0m31 11h0m-222-13.5h0m256 33.5h0m-172.5 13.5h0m-55-32h0m232 16h0m-365-26h0m309 25.5h0m-154 16.5h0m207.5 8.5h0m-190.5-31h0m-138-8h0m131 25.5h0m103-24h0m-51.5-1h0m137.5 17h0m-295 3.5h0m-70 15h0m137-52.5h0m96.5 54h0m-37.5-36h0m184-16h0m-76.5-5h0m-36 22.5h0m-27.5-2.5h0m-75.5-7.5h0m16.5 1.5h0m47.5 26.5h0m29-18h0m-92 16.5h0m88 2.5h0m23-4h0m-80.5-10.5h0m-42-21h0m-96.5 42h0m76.5 4.5h0m-79.5-38h0m204 17.5h0m-28-22.5h0m-204-17h0m401.5 63h0m-159-10h0m214.5-23h0m-223 24.5h0m-5-54.5h0m126 19.5h0m-339 19.5h0m416-19h0m-196.5 27h0m116-33h0m-52 21.5h0m-270-30h0m409-3.5h0m-86.5 24h0m19.5 35h0m-198.5 2.5h0m-13-6h0m39.5-17h0m-57-35.5h0m96.5 22h0m-117 10h0m69.5 5h0m-251.5 14h0m547.5-14h0m-286-34h0m-50 31.5h0m220-5h0m-156-7.5h0m164.5-21.5h0m-16.5 45.5h0m-77-31.5h0m14.5 5.5h0m-84.5 20.5h0m80.5 0h0m-106.5-37.5h0m47 30.5h0m141-9.5h0m27.5-12.5h0m-104.5 25h0m-211.5-4.5h0m48-11.5h0m378.5 1h0m-178.5 13h0m-341.5 18h0m257-26h0m-73 12h0m-82 21.5h0m-84-38h0m482 23.5h0m-269.5 1h0m-12.5-39.5h0m126 42.5h0m-224.5-49h0m120 54h0m-209-63.5h0m181.5 71h0m116.5-27h0m161.5-16h0m-221.5 1.5h0m-101-24.5h0m-50.5 51.5h0m137.5 5h0m-67-45h0m108 7.5h0m-59-14h0m-55.5 31.5h0m-32.5 29h0m-170.5-23h0m333 14.5h0m-108.5-13h0m-84-16h0m142.5-8.5h0m-65.5 6h0m265 28h0m-213-1.5h0m-14.5-18.5h0m-126 19h0m124 14h0m194-42h0m-341 1.5h0m-46.5 32.5h0m300.5-34.5h0m-145.5 3h0m55.5 16.5h0m-152.5-26h0m225 11h0m-116.5-34h0m317 45h0m-459.5 5h0m90.5 11.5h0m124-1.5h0m-124-7.5h0m221-4.5h0m-181 7h0m-72 7h0m-67-48.5h0m-65.5 30.5h0m195.5-35.5h0m-58.5 10.5h0m51.5 39h0m-2-25h0m84 26h0m73-52h0m-48.5 44h0m-122 18.5h0m346.5-40.5h0m-269 13.5h0m187-5.5h0m96 18.5h0m-238 4h0m-132.5-41.5h0m273.5 20h0m-84.5 21.5h0m-129.5 2.5h0m42-10.5h0m-295 6h0m247-20h0m14-28h0m191.5 30h0m-71.5 1h0m-34.5-12.5h0m-124.5 34h0m-50.5 6h0m469-27h0m-335-16.5h0m-156-0.5h0m287 3h0m-243.5 18.5h0m1-10.5h0m-132-34h0m345.5 15h0m-153.5 36.5h0m216.5-12h0m-428.5-14.5h0m129.5-18h0m-105 49h0m220.5-39h0m28 42.5h0m62.5-29h0m-100-17h0m-75.5 23.5h0m5 0.5h0m213.5-14.5h0m97.5 31h0m-299-8.5h0m-1-20h0m117.5-21.5h0m191.5 26h0m-305 11h0m62.5-30h0m182 47.5h0m81.5-4.5h0m-310.5 14h0m-14.5-36h0m121 13h0m27.5-11.5h0m-31 19h0m-245 11.5h0m221.5-48h0m108 26.5h0m-160-2h0m-127.5-22h0m79.5 28h0m53-25h0m-155-2h0m127-15h0m12.5 44h0m40-16.5h0m9 18h0m-85-28.5h0m5.5-23h0m299 59.5h0m-301.5-37.5h0m162.5 24.5h0m-95 5h0m-37.5-16h0m-44.5 4.5h0m-50-14.5h0m-187 24h0m481.5-29.5h0m-292.5 53h0m-58.5-53.5h0m322.5 30h0m172.5 22h0m-183.5-4.5h0m-194-20.5h0m146.5 26h0m167-44.5h0m-9-2h0m-184-7.5h0m54.5 7.5h0m-60-22.5h0m-79.5 31.5h0m64.5 5.5h0m-96.5-40h0m162 52h0m1.5 10h0m-101 5.5h0m-89.5-33.5h0m-44-10h0m284.5 18h0m-198.5-29h0m24 24h0m-263 12.5h0m163-33.5h0m333 28.5h0m-191.5-16.5h0m23 19h0m-102-21.5h0m-45-22.5h0m257.5 51h0m-452-39.5h0m311 6h0m-2.5 21h0m80 17.5h0m-259.5-30h0m15 0h0m-107.5-22h0m274 7h0m-17.5 27.5h0m68.5 17.5h0m4.5-30h0m-357 43.5h0m536.5-41.5h0m-350 11.5h0m334 17h0m-327.5-56.5h0m170 12.5h0m-276 39h0m231.5 11.5h0m170-41h0m-51 20.5h0m3-24.5h0m-46.5 43h0m-235.5-30h0m-141 14.5h0m362.5 6.5h0m-153-8h0m37-5.5h0m263-23h0m-259.5 4h0m83.5 27.5h0m-122.5-0.5h0m107.5-31.5h0m-64 11.5h0m-109.5-14.5h0m-36 18.5h0m394.5 12.5h0m-131.5-35h0m-253.5 20.5h0m157.5 6h0m47 7.5h0m142.5-2.5h0m-200 5h0m41.5-3h0m2.5 18.5h0m195.5-30h0m-260 16h0m281 11h0m59-12.5h0m-183-12.5h0m-178.5 28h0m322-12.5h0m-356-12.5h0m49.5 5.5h0m113-6.5h0m-26 25.5h0m-79-21h0m-145.5-14.5h0m-121.5 16h0m417.5-20h0m122 32.5h0m-316 11.5h0m-18.5-41.5h0m-179 17.5h0m319.5 2h0m-202.5 16.5h0m78-18.5h0m114.5-6h0m-36 14.5h0m5-1h0m-57.5-25h0m-48 6.5h0m2.5-11h0m23.5 29h0m217 3.5h0m-168 5.5h0m-69.5-22.5h0m-198.5-12.5h0m388.5 35h0m-216.5-16h0m215.5 12h0m-219.5-37h0m-163 0.5h0m273.5-4h0m5.5 32.5h0m19 10h0m-240.5-51h0m116 14.5h0m-23.5 17.5h0m25 0.5h0m228.5 33h0m-257.5-11h0m127.5-40h0m15 51.5h0m50-41h0m-187 15h0m109-3.5h0m-218-24.5h0m141.5 49.5h0m154-17.5h0m-110-31.5h0m-233 22.5h0m259.5 10.5h0m145-17.5h0m-59.5 23h0m-39 7h0m-159-16.5h0m34.5-43.5h0m423 42h0m-610.5 0h0m361 2.5h0m6.5-11h0m-113 0.5h0m215-8h0m-178.5-15.5h0m140.5 32.5h0m-71.5 11h0m-235.5-27.5h0m40 11h0m13-22.5h0m67 40h0m214-21h0m-225 12h0m53.5-24.5h0m45.5 39.5h0m-171.5-14.5h0m79.5 0.5h0m66-27.5h0m29 21h0m-48-20.5h0m-70.5 8.5h0m425 25h0m-380 14.5h0m199-28h0m-231 19.5h0m228-44h0m59 25h0m-57-11.5h0m-44-26.5h0m-194.5 51.5h0m129-19h0m-126 24h0m17-24h0m59.5 3.5h0m-27.5 11.5h0m91-13h0m-343-2h0m264-18.5h0m18.5 21.5h0m-247.5 15h0m105.5-42.5h0m269.5 49.5h0m-140-31.5h0m76 16.5h0m18.5-35.5h0m-271.5 7h0m204.5 9.5h0m-238 15h0m91.5-18.5h0m45.5 15.5h0m210.5-3h0m-391.5-23.5h0m374 16.5h0m-102.5 27h0m-223-41h0m173 13h0m-141.5-16.5h0m115 30.5h0m-17-2.5h0m28.5 25h0m-108.5-42.5h0m243.5 23.5h0m-43-38.5h0m-68.5 25.5h0m79.5 12h0m-81.5 1.5h0m-15 3.5h0m-101-9.5h0m439 13.5h0m-140.5 0h0m-116-42h0m12.5 51h0m28.5-14h0m-73-14.5h0m82 4h0m-158.5 13h0m7.5 0.5h0m-1 14.5h0m26.5-45.5h0m15.5 20.5h0m-259.5-23.5h0m330.5 27h0m22-45h0m-140 65.5h0m67.5-22.5h0m69.5-1.5h0m50 2.5h0m-124-11.5h0m255 21h0m-258.5-34h0m-84.5 6.5h0m4 23h0m20-29.5h0m67.5 7h0m-60.5 13h0m101-18.5h0m-167 13.5h0m23 5.5h0m242 17.5h0m-243.5-37.5h0m215.5 12h0m-135 20.5h0m-114.5-24.5h0m-14-25h0m-128.5 1h0m346.5 10.5h0m10.5 15.5h0m-115-2h0m240.5-3.5h0m-186.5 21.5h0m-99.5 14h0m55.5-35.5h0m122.5-25.5h0m-166 56.5h0m251.5-21.5h0m32-8h0m-58.5 4h0m-19 0h0m-176 7.5h0m94 9h0m29 19h0m-376-36.5h0m413.5 12.5h0m-225 6.5h0m30-5h0m-153.5-32h0m228 57h0m-218.5-21.5h0m-11-2h0m236.5-10h0m-85 19.5h0m79.5 6h0m-89-21h0m-46-21.5h0m126 30.5h0m104.5-38.5h0m-157 20.5h0m131.5 11h0m63.5-8h0m-46.5 20h0m-347.5-26.5h0m387-13.5h0m-202 30h0m255 22h0m-125-54h0m-219 29h0m-76-19h0m102 4h0m93-6h0m29.5 36h0m181-14h0m-223.5-26.5h0m256.5 23.5h0m-295 25.5h0m191-50.5h0m-7.5 39h0m-119-41.5h0m-8.5 28.5h0m294-2.5h0m54.5 17.5h0m-339.5-11h0m122 20h0m195.5 0.5h0m-297.5-33.5h0m69-1.5h0m-185.5-1h0m159 22h0m24-32.5h0m-130 35h0m187-6.5h0m-219.5-29h0m68.5-10.5h0m141 1.5h0m-241 52h0m55-0.5h0m74.5-5h0m-22.5 4.5h0m81-7.5h0m-131.5-5.5h0m164-35h0m116.5 20h0m-220 15h0m23-33h0m-92 8h0m196 39.5h0m-11.5-17h0m-151.5-12.5h0m-145-20.5h0m161.5 8.5h0m43.5 28h0m-153-5h0m365.5-19.5h0m-262 23h0m78-8.5h0m112 19.5h0m-130.5-18h0m-18.5 17h0m-125.5-19.5h0m8-6.5h0m-94-22.5h0m221.5 24h0m-199 23.5h0m236-32.5h0m7.5 35.5h0m92-6h0m-342 1h0m237.5-35.5h0m-18.5 34.5h0m-12.5-6h0m-164.5-28h0m195.5 8.5h0m-166.5-1.5h0m274.5 24h0m-265.5 18h0m-106.5-59h0m124 26.5h0m-152.5 7.5h0m514.5-2h0m-565.5-30h0m72.5 30.5h0m317-4.5h0m-211.5 19.5h0m135-24h0m-11 1h0m56 7h0m126 17.5h0m-169.5-32h0m2.5 29h0m-216-34.5h0m334 15h0m-342.5-32h0m283.5 30h0m-63.5 1.5h0m182.5 36.5h0m-253.5-36h0m129 32.5h0m-67-29h0m13.5 28.5h0m-75.5-45.5h0m19 7h0m201 18h0m79-19.5h0m-232 14.5h0m122-17.5h0m-231 13h0m138 8.5h0m-160.5-33h0m127 53h0m-134.5-47.5h0m-133.5-6h0m161 34.5h0m108.5 6.5h0m-56 2.5h0m-13 5h0m118.5-38.5h0m303.5 35.5h0m-145-46h0m-114.5 15h0m135.5-9.5h0m-83.5 9.5h0m-206 11.5h0m287.5-2.5h0m118 23.5h0m-118-10h0m-204.5-18.5h0m65-13.5h0m-92-12h0m-138.5 8h0m154 40.5h0m6.5-3.5h0m-150-19.5h0m53 10.5h0m-154-17h0m189.5-0.5h0m-1-12.5h0m79-1.5h0m-20 60.5h0m200.5-42.5h0m-299.5-4.5h0m141 27.5h0m-98-15.5h0m-229-4h0m325 21h0m-290.5-22h0m120-6h0m227.5 15h0m-53.5-6h0m105-2h0m-153-16.5h0m-243 43h0m268-35h0m-326 47.5h0m363.5-8h0m-167-15.5h0m85.5-21h0m149.5-1h0m118.5 42h0m-242-4.5h0m-51.5-28h0m103-7h0m12.5 34h0m-173-39.5h0m362 29h0m-135-42.5h0m-173 20.5h0m196 21.5h0m-94.5-5h0m-167 14.5h0m122 10.5h0m-281.5-17h0m359.5-31.5h0m-165.5 26h0m142-26.5h0m-253.5 3.5h0m113 26.5h0m-138-31h0m322.5 24h0m-318.5 2h0m-92.5 4h0m568-21.5h0m-358 16h0m165 20h0m-272.5-35.5h0m49.5 1.5h0m-2.5-24h0m43 46h0m220 1.5h0m182.5-0.5h0m-351.5 1h0m191.5-6h0m-92.5 14.5h0m-12-37.5h0m-134 22.5h0m109.5-4h0m-118.5 8h0m108-23.5h0m40.5-20h0m76 26h0m-192 1h0m180.5-31.5h0m-152 35.5h0m23-9.5h0m63 10h0m20-31h0m-56.5-3h0m106.5 59.5h0m-163.5-9.5h0m3-5.5h0m-175-20h0m165 25h0m-53.5-34.5h0m243 29h0m-143.5-23.5h0m255 12.5h0m-298.5-22h0m33.5 36h0m-6.5 0h0m159.5 3h0m-22.5-23h0m-46.5-2h0m-46 3.5h0m66.5-11.5h0m-182.5 33.5h0m175-30.5h0m-2.5 7.5h0m249 13.5h0m-257-20.5h0m-78.5-11h0m82.5 44.5h0m-41.5-17h0m-87.5-2h0m133-2h0m8-12.5h0m22 22h0m6 6.5h0m-59-20.5h0m-149-17.5h0m299.5 32h0m-157.5-20h0m-276 31.5h0m356-29h0m-270-2.5h0m90 26h0m106-18h0m-177 16.5h0m12.5 0.5h0m50-15.5h0m126 10h0m-5.5-8.5h0m74.5 24.5h0m-181 3.5h0m113-48.5h0m-79.5 45.5h0m-210.5-4.5h0m381-28.5h0m-223 28.5h0m-134.5-29.5h0m472 6.5h0m-267-7h0m154 32.5h0m-158.5 0h0m71-28h0m-117.5 26.5h0m270.5 7.5h0m-331.5-70h0m305 54.5h0m-167-31h0m-128 28.5h0m-180.5-4.5h0m375-1.5h0m-134.5-19.5h0m164 12h0m-162-33.5h0m67 40h0m-207.5-0.5h0m278-32.5h0m61.5-2.5h0m-122.5 15.5h0m-102.5 23h0m280.5-1.5h0m-383-2.5h0m233-14h0m99 30h0m5.5-15h0m-251 0h0m110 5h0m-109.5-19.5h0m246-12h0m-76.5-3h0m265 22.5h0m-481.5 19h0m330-32h0m-438.5 23h0m316 9.5h0m-160-13h0m-124-17h0m111 17.5h0m169-22h0m-195 16h0m175.5-3.5h0m-18.5-18.5h0m-135.5-13.5h0m180.5 54h0m-165-22h0m297.5-4h0m-277.5 6.5h0m214.5-16h0m-239.5 20h0m53-23.5h0m-244 36h0m222.5-29.5h0m229.5 19.5h0m2-23h0m171 11.5h0m-269-14h0m-196.5 17.5h0m50 23h0m-139 0h0m74.5-14.5h0m265.5 15h0m-249 12h0m317-12h0m-247.5-39h0m136 40h0m-50.5-19h0m-290.5-2h0m392.5 4.5h0m-49.5-16.5h0m-157-8.5h0m-197 27.5h0m181.5-44h0m-167.5 20.5h0m282-17h0m11 54h0m24 11h0m-151-52h0m254 16h0m11 8.5h0m-140.5 5.5h0m-56-1h0m28-7h0m99 7.5h0m-84.5 8h0m-80.5-18.5h0m132.5-2h0m1-7h0m-280.5 2.5h0m197.5 38.5h0m147-27.5h0m-179-7.5h0m27 28h0m-34-13h0m56-22h0m34.5-28h0m-106.5 66.5h0m-12.5-44h0m142 37h0m-152 3.5h0m139-34h0m13-23.5h0m-51.5 31h0m227.5 11h0m-320.5-2h0m284-3.5h0m-188.5 2.5h0m-73.5 20.5h0m230-18.5h0m-198.5-16h0m-197 13.5h0m281-7.5h0m235 35h0m-336-48h0m58.5 43h0m-150-22h0m210-12.5h0m-2 10.5h0m-381.5 29.5h0m314.5-32h0m194-18.5h0m-256 10.5h0m-4.5 23h0m269.5-11h0m-127-26.5h0m-160 46.5h0m241-9h0m142.5 6h0m-209-16.5h0m-249.5-17h0m-33.5 22h0m118-7h0m169.5 17h0m-111-38.5h0m-65 29h0m100.5-25h0m32-9h0m-15.5 25.5h0m131 8h0m-111 9.5h0m41.5 5h0m-210-17h0m123.5 5h0m132.5-6h0m16.5-13.5h0m-119.5-7h0m142.5 16.5h0m-150.5 23h0m23.5-31h0m-74-28.5h0m-230 20h0m384.5 10.5h0m-208 9.5h0m213.5 21.5h0m-169.5-20h0m-11 12h0m-33.5-50.5h0m343.5 35h0m-232-2h0m16.5 10h0m131-9.5h0m-379-10.5h0m221 12h0m-19-13.5h0m-34 24.5h0m9.5-11h0m-72-12h0m143-25h0m-78 4h0m66 19h0m8.5 17.5h0m-109.5 15.5h0m-117-14h0m155-2.5h0m-60 11h0m-2.5-23h0m277.5 25.5h0m-344.5-47.5h0m114.5 27.5h0m152 16h0m-433-36.5h0m467-12.5h0m-129.5 47h0m-146-14h0m106-7.5h0m-267 13h0m323-9h0m-96.5 33h0m164.5-11.5h0m-144-51.5h0m77 63.5h0m-20-69h0m189 70h0m-288.5-40h0m98.5 29h0m-268-35.5h0m241.5 22h0m-81.5-23h0m283.5 43.5h0m-258.5-33.5h0m416-8h0m-298-15.5h0m-32 4h0m-170 22.5h0m255.5 4.5h0m-322.5 22h0m331 5h0m32.5-23h0m-48-5h0m-2 23h0m-135.5-22h0m105-4.5h0m-314.5 28.5h0m67-37h0m125.5-10h0m-22.5-5.5h0m200.5 2.5h0m31 30.5h0m-158.5-21h0m-114-0.5h0m82 27h0m46.5-3h0m61.5-5h0m-105.5-18h0m167.5 33h0m-15.5-31h0m-97.5 33h0m65.5 3.5h0m-56.5-45h0m-129.5-6.5h0m327 27h0m-97.5 6h0m-27.5 2.5h0m-151.5-3h0m-256.5-15.5h0m332 9.5h0m-4-4.5h0m-84.5-3h0m95.5 13.5h0m24 0h0m14 21h0m-45-23.5h0m18-21h0m-120.5 48h0m161.5-48h0m-177 34.5h0m258 13h0m-139.5-47.5h0m-280.5 43.5h0m226.5-9h0m127.5-15h0m-294-15.5h0m156-24h0m-5.5 16.5h0m-16.5 12.5h0m-8 4h0m157-2h0m-163.5 24h0m-41-38.5h0m70.5 11h0m-14.5 12h0m231.5 6h0m-489-24h0m662 31h0m-516.5 2h0m52.5 15.5h0m160-32.5h0m-93.5-34h0m155 42h0m-145 14h0m-12-9.5h0m140.5-16.5h0m-60.5-13h0m-245.5 37h0m232-1h0m174.5 2.5h0m-180-54.5h0m-104.5 23h0m113.5 23.5h0m107-15h0m-20-19h0m-120 41.5h0m-27-52h0m-203.5 39.5h0m138.5-2h0m258-24h0m-203-9h0m-119.5-12.5h0m102.5 48.5h0m158-6.5h0m-298 2.5h0m228-15h0m-16.5 16h0m-17 15h0m-28.5-16h0m-82.5 0.5h0m16.5 4h0m255 6.5h0m-119.5-31.5h0m52 27h0m-113.5-24h0m30.5 23.5h0m-76 18.5h0m173-40h0m-210 8h0m49 19.5h0m81-46h0m-80 1.5h0m199.5 33h0m-134.5-25.5h0m109 32.5h0m-73-29.5h0m-47 15h0m-151 12h0m421 10.5h0m9-5h0m-297-13.5h0m222-0.5h0m-267-23h0m-104 28.5h0m503-11h0m-219 23h0m-135 1.5h0m361-20.5h0m-54 4.5h0m-295 4.5h0m-27-11h0m-127 12h0m93-24h0m188.5 23.5h0m-233.5-12h0m156.5-16.5h0m-302-18h0m292 58h0m-125.5-31h0m325 25h0m-18.5-28.5h0m-470 19.5h0m221-25.5h0m-5 40h0m-258-28h0m237.5-19h0m11.5 41.5h0m-38-23h0m-35 9.5h0m-84-8h0m235.5 39.5h0m-10-60.5h0m-103 10.5h0m138.5 12h0m-257 6.5h0m385.5-17h0m-160.5 22h0m-39.5 13.5h0m151-17.5h0m-200-16h0m108-20h0m-5 58.5h0m-198-56h0m-122 43h0m377.5 9h0m-352.5-40.5h0m359.5 30h0m-148.5-31h0m36 24h0m-33-40.5h0m55 19.5h0m160 45.5h0m-11.5-24h0m-405-2.5h0m368-5.5h0m-53 8.5h0m104-5h0m-304.5 31.5h0m354-27h0m-195.5-8.5h0m162 28.5h0m-120-34h0m127 19.5h0m-198 1h0m-97-26h0m113 30h0m-249.5-25h0m243-22.5h0m-56.5 63.5h0m-32.5-39h0m-157.5 18h0m288 1h0m-97-13h0m-91-32.5h0m339 30h0m-483 14h0m196.5 10.5h0m102-18.5h0m151-7h0m-27.5 15h0m-112.5-22h0m-256-19h0m312 56.5h0m-148-26h0m47 14h0m-15-42h0m304.5 58.5h0m-233.5-10h0m44.5 12h0m-91.5-57.5h0m-12.5 22.5h0m80.5 5.5h0m33.5 10.5h0m-84-22.5h0m151 33.5h0m-15.5-23.5h0m-165.5 24.5h0m55.5-54h0m130.5 32h0m-177.5-34.5h0m63 1.5h0m12.5 14.5h0m-148-3.5h0m367 14.5h0m-65 12.5h0m-244.5-4h0m-21.5 5.5h0m111 12h0m-335.5-33h0m247.5 43.5h0m161-65h0m-73.5 20.5h0m64 13h0m-215-24.5h0m192 8h0m-36.5 7.5h0m-120 11h0m76.5 14.5h0m-99-12h0m-69-20h0m8.5-17h0m117 17h0m10.5 7.5h0m74 16.5h0m29.5-15h0m-145.5-9h0m267.5 43h0m-180.5-52.5h0m56.5 27.5h0m164-6h0m-187 4h0m-138.5 27.5h0m-179.5-62.5h0m386.5 38.5h0m-228-13h0m91.5-3.5h0m117 17.5h0m-56 13h0m91-29.5h0m-102.5 17.5h0m59.5-5.5h0m54.5 29h0m127-7.5h0m-430.5-33h0m33 4h0m111 12.5h0m45.5 21h0m147-15.5h0m-456.5 5.5h0m170-7.5h0m252-36h0m-142 31.5h0m68.5-11h0m45.5 32.5h0m-211-9.5h0m157-7.5h0m-121.5-23h0m-45.5 25h0m262-14.5h0m-202.5 1.5h0m79-1.5h0m-22 19.5h0m16 12h0m109.5-58h0m-69.5 54.5h0m-299-19.5h0m176-21.5h0m-25 37.5h0m-85-19.5h0m-67-35.5h0m179 39h0m-47 0h0m-140.5 3h0m162-40h0m68.5 13h0m157 17h0m-462 7h0m201-14h0m154 8h0m139-6.5h0m-6 28.5h0m-111.5-25h0m-186.5-22h0m241 42h0m70-20.5h0m-221 35h0m96.5-19.5h0m-0.5-28.5h0m-188.5 41.5h0m-35-7.5h0m225-18h0m-141.5 3h0m-180.5-10h0m420-16h0m-413-10h0m361.5 23.5h0m-28 28h0m-91.5-25h0m99.5 4.5h0m-213.5-3h0m328.5-0.5h0m-331.5 20h0m199.5 1h0m-132 1h0m180-6.5h0m-29 19.5h0m-183-28h0m168-6h0m-104.5 18h0m-168.5-36.5h0m166 22.5h0m-41.5-34h0m86 26h0m61 13h0m-44.5 11.5h0m-56-2h0m-216.5-48.5h0m124 34h0m157-2.5h0m-163.5-0.5h0m31-5.5h0m29-21.5h0m36.5 26.5h0m230.5 12h0m-31.5 11h0m-99.5-41h0m-334 52h0m347-17.5h0m-154-33h0m208.5 46h0m-25.5-0.5h0m-75.5-6.5h0m-184 2.5h0m3.5-32h0m-1 5h0m194.5 1h0m-159 6.5h0m0.5 18.5h0m138-27h0m-120.5-8h0m80-10h0m269.5 22h0m-153-12h0m-79.5 43h0m63-22.5h0m-34-4h0m-236.5-18h0m223.5-2h0m105.5 13h0m24 9h0m-310.5 18h0m187-23.5h0m-141 11.5h0m164-20.5h0m-108 33.5h0m56.5-24.5h0m-143.5-21h0m-51-6h0m268.5 46h0m92.5-11.5h0m-170.5 18.5h0m178.5 2.5h0m-71.5-22.5h0m-107.5-13.5h0m70 24h0m-102-0.5h0m73 7.5h0m267 1h0m-393.5-7h0m-179 11h0m236-28.5h0m223-9h0m-76.5 7h0m-190-12h0m173.5 12.5h0m-207 11h0m200 4.5h0m-29-23.5h0m-104.5 39.5h0m-14.5-43.5h0m-99.5 35.5h0m173.5-22.5h0m-30.5 21.5h0m-164 13.5h0m205-18h0m13-18.5h0m102 20.5h0m-214-7h0m-192-16.5h0m453.5 16h0m-318.5-2h0m149-4h0m-200.5 15h0m319-17h0m-15.5 5h0m197 13h0m-91.5-21h0m-264.5 2.5h0m97 12.5h0m32-18h0m74 40h0m-338.5-22.5h0m159.5-20h0m-33 20h0m-40-27h0m216 39h0m-12-8h0m-122.5 9h0m-335.5-5h0m539.5-16.5h0m-203 15.5h0m-67-32.5h0m-42 29.5h0m-30.5-11h0m64.5-2h0m-36.5 17h0m64-9.5h0m30.5-20.5h0m-32 31h0m6-14.5h0m31.5-36h0m-317.5 21.5h0m183-12.5h0m198 6.5h0m-196-3.5h0m-104.5 27.5h0m136 1h0m27 18h0m-187-26h0m239.5 27.5h0m-103.5 0h0m-185 4.5h0m-4.5-13.5h0m74.5-12.5h0m327-26.5h0m-79.5 8.5h0m13.5 36.5h0m80.5-41h0m-367 23.5h0m381 12.5h0m-397.5-35.5h0m71.5 31.5h0m211-21h0m-13.5 4h0m192.5-7.5h0m-330-22h0m276 40.5h0m-265-9.5h0m39-7h0m254 5.5h0m-201 24h0m-268-51h0m417.5 31.5h0m-114 13.5h0m-111 4h0m175-26h0m85.5 9.5h0m-222-23h0m48 24h0m57.5-30h0m-117 51.5h0m199-12.5h0m-160.5-55.5h0m-8.5 33.5h0m161.5 13.5h0m-221.5-5h0m79.5 19.5h0m1.5-28.5h0m-15.5 18h0m210-15h0m-116.5-6h0m-226.5 0h0m101-12.5h0m74 14h0m43 1h0m-124-6.5h0m216 13h0m-106.5-14.5h0m-107.5 40h0m35.5-28h0m-45-6h0m62-4h0m186 13h0m-231-16.5h0m148 48.5h0m-39.5-55h0m262 37.5h0m-173.5 1h0m-295.5-46h0m409 10.5h0m-16 17h0m-185.5-18.5h0m-197.5 30h0m273-4.5h0m-95 13.5h0m-5-4.5h0m-297 15h0m468-41h0m-104 43.5h0m-158-10.5h0m-12.5-12.5h0m-152-1h0m19.5-43h0m478 21.5h0m-316.5 12.5h0m-50.5-3.5h0m-170 37.5h0m326-21h0m-152-3.5h0m279.5-17h0m-209.5 5h0m-72.5 11.5h0m243-6.5h0m163.5 6.5h0m-363.5 5.5h0m-116.5-22h0m151.5 44h0m32-67.5h0m-85 38h0m33.5 17.5h0m198-32.5h0m192 11h0m-266-20h0m-70.5 8h0m-32.5 15h0m236.5-12.5h0m-222 10.5h0m-267 0h0m63.5-23.5h0m254.5 56h0m62-27h0m-97.5-20h0m61 13.5h0m27.5-1.5h0m-222.5-16.5h0m76 10.5h0m-1-6h0m135.5-1h0m-36 12h0m29 24h0m54.5-6.5h0m-187.5 15h0m133.5-49h0m-43 6.5h0m-67.5-12h0m199.5 30h0m-171.5-30h0m126 18h0m-227.5-4h0m131 14.5h0m-1 13h0m-241-17h0m201.5 2h0m207 24h0m-482.5-53h0m430 17h0m-208 35h0m-203.5 8h0m501-40h0m-288 6.5h0m-4.5-9h0m126 2.5h0m223-5.5h0m-301.5 10h0m158 3h0m-139 18.5h0m66-7.5h0m1.5-25h0m184.5 16h0m-538.5-37.5h0m322 10h0m57.5 50.5h0m-173.5-37h0m90.5 28.5h0m-23 2.5h0m51-47h0m-286-8.5h0m317.5 50h0m-109-0.5h0m140 15.5h0m42-45h0m-327 17h0m238.5-15h0m-11 22h0m153.5 10.5h0m-220.5-33h0m-33 22h0m135.5-44h0m-2 67h0m-70.5-44h0m-287 43.5h0m253.5-48h0m-10 48.5h0m-53.5-15h0m139.5-25.5h0m51 41h0m-207-43h0m202-17.5h0m-168.5 47h0m84.5-28h0m227 9h0m-288 22h0m6-5.5h0m354.5-12.5h0m-269.5-24.5h0m-3.5 41h0m-66.5-6h0m-16.5-6.5h0m200.5 6.5h0m-233.5-2h0m216.5 18.5h0m-174.5-51.5h0m-29-3h0m347.5 32.5h0m-396.5-28.5h0m12-0.5h0m300 15h0m-165.5 3.5h0m33 21h0m-345.5 3.5h0m476.5-1h0m-461.5 2h0m345-7h0m-268-3h0m331-29h0m-258.5 13.5h0m55-3.5h0m105 14h0m-132 25.5h0m206.5-48h0m-143 13h0m129.5 7.5h0m53.5 10.5h0m-67.5-47h0m-83.5 15h0m227 37h0m-307.5-60.5h0m278.5 32h0m-204 11.5h0m134 19h0m8.5-38h0m-197.5 19.5h0m143.5 6h0m-128.5-16.5h0m83.5 8.5h0m-122.5 16h0m-8.5-13.5h0m252 23h0m-224-31h0m139.5 14h0m-20.5-14h0m-159.5-4.5h0m-161-1h0m220.5 13h0m95.5-13h0m-25.5 38h0m124.5-26.5h0m-198 14h0m71.5-28.5h0m-109.5-16h0m76 28.5h0m-28.5-30.5h0m-81.5 18h0m233-13h0m-305.5 3.5h0m180.5 18h0m13.5-18h0m77 28.5h0m-66.5 0.5h0m-123.5-11h0m-43.5 6h0m-26.5 0.5h0m96 23.5h0m-167.5-15h0m224-24h0m-0.5-10h0m-277 44h0m419.5-25h0m-12.5 21h0m-154.5-36.5h0m-141-16h0m156 44.5h0m-85.5-17.5h0m51 40h0m136.5-22.5h0m153-11h0m-188-11.5h0m-145.5 22h0m302 15.5h0m-148.5-47.5h0m101.5 16h0m-194 8h0m157 13h0m27-18.5h0m-145 34.5h0m-33-2.5h0m138.5-6.5h0m-121.5-7h0m88-22.5h0m2.5-2h0m-188-29.5h0m167.5 15.5h0m-236 3.5h0m58 29.5h0m328-15h0m-305.5-1.5h0m144 3h0m3 18h0m-3-26h0m-230.5 39.5h0m282-27h0m124.5-8h0m77 1h0m-280 24h0m18.5-36.5h0m27 6.5h0m-38.5-1h0m-43 31h0m-0.5-22.5h0m-31.5 29h0m-91.5 1.5h0m128.5-50h0m375 32h0m-411 6h0m174-19.5h0m-186 13h0m46-14.5h0m-27.5 12.5h0m-81.5-25.5h0m222-8h0m-130.5 21.5h0m330.5-7.5h0m-532 32h0m181.5-2.5h0m13-42h0m417.5 24.5h0m-262 11h0m-167-12h0m71-4h0m246.5-9.5h0m-493.5 24.5h0m441-10.5h0m-141 22.5h0m-127.5-42.5h0m53-9.5h0m21.5 52.5h0m188.5-9.5h0m-74.5-3h0m-145-16.5h0m-34.5 12h0m57.5 14h0m-224.5-7h0m196-15h0m56.5 6h0m68.5-9.5h0m-137.5-6h0m-63.5-4.5h0m61.5 5h0m160 21h0m-193.5 0h0m144 2h0m-106.5-26h0m-102.5 20.5h0m43.5 10h0m138-20h0m-303.5-26h0m105 15h0m18.5 12h0m218.5 8h0m-99.5 27.5h0m-93.5-53.5h0m264.5 24h0m-59 33.5h0m-187.5-40h0m168 2h0m-269 16.5h0m116 7h0m217-9h0m62-6.5h0m-194-11.5h0m47.5-8h0m128 30.5h0m-299.5-12.5h0m407 10h0m-246-40.5h0m12 2h0m-144 33.5h0m22.5 3h0m124.5 22h0m68.5-32.5h0m-124-1h0m-61 28.5h0m298.5-60.5h0m-298.5 53.5h0m183.5-38h0m-114 13h0m58 10.5h0m-147.5-3.5h0m129.5-35h0m-59.5 45h0m68.5-7.5h0m-46.5 4h0m103-36.5h0m-113 40.5h0m36 13.5h0m39-30h0m-180 7h0m255 20.5h0m-257-54.5h0m92.5 62h0m-147.5-25h0m209.5-27.5h0m-86.5-2h0m-86.5-1.5h0m342 55.5h0m-78-27h0m-170.5 19h0m185.5-17h0m-87.5 19.5h0m-84.5-45.5h0m-108 20h0m129.5-1h0m24 13h0m-278.5-0.5h0m8-35.5h0m208.5 16.5h0m71.5 20.5h0m-53-20h0m151.5 27.5h0m-128.5-28h0m-125.5 31h0m298.5-1h0m-84-11h0m-57.5-18.5h0m-284.5-6.5h0m-36.5-12.5h0m123.5 0.5h0m64 46.5h0m191-45.5h0m-47 9h0m-75 24.5h0m80 13.5h0m-70-32h0m-1 14.5h0m43 5.5h0m55 17h0m-269.5-21.5h0m131.5-11h0m255.5 7h0m6 7h0m-160-8.5h0m40 20h0m-47 13.5h0m-57.5-17h0m50-32.5h0m5-13h0m37.5 31.5h0m174 21h0m-398.5-12.5h0m266.5-8.5h0m-17-14h0m-160 28h0m262.5 0h0m-265.5-10.5h0m-232.5-43.5h0m502.5 12.5h0m-173 58h0m-7.5-45.5h0m23.5 3.5h0m-193 23h0m204-46.5h0m-26.5 46h0m-56.5-6h0m-26.5-18h0m-50.5-13.5h0m-99.5 36.5h0m-93-20.5h0m125.5 0.5h0m218.5 24.5h0m-70-24h0m-20 6h0m132.5 4.5h0m-10-6.5h0m-100 12.5h0m14-18h0m270.5 19.5h0m-326.5 16.5h0m99.5-18.5h0m-6 4.5h0m85 1.5h0m-137.5-9.5h0m126 11.5h0m-46 3.5h0m-58 11h0m42-38h0m11.5 25h0m-283.5-25h0m139 11h0m129 9h0m-50.5-42.5h0m82.5 57.5h0m43.5-23h0m-28-8h0m-86-18h0m64.5 16h0m-223-34h0m154.5 26.5h0m-66.5 12.5h0m60-25.5h0m136 22.5h0m-67 11h0m-57.5 3h0m44-3.5h0m66-13h0m-86 24h0m124-11.5h0m-160.5-6h0m92.5 2h0m-104-15h0m18.5-7h0m-52 44h0m-75-19.5h0m274-11h0m-237.5 7h0m183.5 23.5h0m-76-1h0m-18-54h0m-3.5 17.5h0m-24-7h0m389 17.5h0m-641.5-8.5h0m206.5 16.5h0m77.5-11h0m248 5h0m-68.5 10h0m-108-30.5h0m-110 12.5h0m-27 6h0m-192-22.5h0m247.5 13.5h0m150-17h0m-36.5 25.5h0m-84-22.5h0m81 19h0m-249-10.5h0m396 34h0m-236.5-2.5h0m87.5-10h0m-125.5-13h0m347.5 35.5h0m-485-2.5h0m168.5-53h0m-126.5 17h0m196 28h0m35-6h0m34.5-47.5h0m-241 37h0m43-1h0m-57.5-1.5h0m-113-20h0m203.5 43h0m112.5-40h0m-339.5 23h0m371-9.5h0m-193-12h0m-22 27h0m159-23h0m-101.5 22h0m313-9h0m-393.5 15h0m171-30.5h0m-74 28h0m-254.5-8.5h0m380 21.5h0m-391.5 1.5h0m257-15.5h0m7.5 16.5h0m-99-37h0m37 22h0m97.5-39h0m40.5 25h0m-169.5 7h0m87.5 5h0m-86-38h0m152.5 19h0m91.5-7h0m-341-6.5h0m223.5 52h0m-272-27.5h0m392-1h0m-134.5-15h0m-16.5 33h0m43.5-27h0m-59-21.5h0m199.5 9.5h0m-99.5 36h0m-118.5 3.5h0m27-26.5h0m148-8.5h0m-251.5-6h0m147.5 31.5h0m-67-41.5h0m12.5 9.5h0m275 28.5h0m-268-23.5h0m-3.5 41.5h0m-176-39.5h0m330.5 16.5h0m-160.5-2.5h0m305 14h0m-275-34h0m61.5 7h0m-64-5.5h0m216.5 1.5h0m-123 14.5h0m50.5 34h0m-179.5-51h0m97.5 12h0m111.5 14h0m-159 6h0m144.5-1.5h0m-107-35.5h0m-72-1h0m167.5 44.5h0m-96.5-37h0m159.5 34.5h0m43-27h0m16.5 6h0m-137.5-9.5h0m-82.5 29h0m23.5-7.5h0m-181.5-10.5h0m-161 33.5h0m166.5-10.5h0m-172-21h0m472.5-30h0m-159.5 39.5h0m163.5 7h0m-273-37.5h0m76.5 4h0m-80 23h0m216.5-6h0m83.5-4h0m-417 14h0m190.5-46h0m21 28h0m164.5-12h0m-218 24.5h0m105.5 0h0m-248.5 13.5h0m273.5-2.5h0m-126.5 7.5h0m-36-29h0m125-20h0m-11.5 35h0m31.5-30.5h0m-121 32h0m121-20h0m-100 17.5h0m27 5h0m40.5 1h0m43-10h0m-94-36h0m44.5 65h0m-70-64h0m96 22h0m-10.5 15h0m-231-44.5h0m171.5 21h0m-184 24.5h0m315.5-37.5h0m-116 56h0m130.5-28h0m-36 6h0m-39-21h0m58.5 10h0m-157.5 9.5h0m-10.5 9.5h0m-19-2h0m161 5.5h0m-139-25.5h0m26 3.5h0m118 13h0m-72 25h0m86.5-39.5h0m-324.5 16.5h0m211 3h0m-211-41.5h0m171.5 36h0m-51.5 23h0m347.5-25.5h0m-461-14.5h0m373-1h0m-94.5 3h0m6 34h0m-175-53h0m248 50.5h0m-99.5 2.5h0m-228-44.5h0m208 33.5h0m74.5-18.5h0m-248-10h0m302 49.5h0m-152-24.5h0m119-18.5h0m-112-13.5h0m220 21.5h0m-84.5-2h0m1 10.5h0m-187.5-24.5h0m320.5 5h0m-234.5 35.5h0m-8-48h0m-78 36h0m46-13h0m-61.5 25h0m34.5-36h0m-86 40.5h0m271-42.5h0m-80.5-16h0m-127.5 37h0m-35.5-5h0m179-6h0m-42.5 29h0m-43-37h0m77 43h0m20-23h0m-246-3.5h0m-4-2.5h0m114.5 3h0m-43-0.5h0m169.5 24.5h0m-33.5-27h0m-200.5 25h0m97.5-9.5h0m181-4h0m-56.5-2h0m66-7h0m24-27h0m-245 35h0m148-7.5h0m-7.5-15h0m-25 13.5h0m-2.5 22h0m-96.5-5h0m84-49h0m2 42h0m-2.5-39h0m8 33h0m15-4h0m-20 9.5h0m64-22.5h0m-72.5-0.5h0m-163 1.5h0m-134 12.5h0m218 13h0m235.5-11h0m52-7h0m-305 18h0m-106.5 5.5h0m-92.5 1.5h0m419-39h0m-92 40h0m28.5-13.5h0m-182-10h0m286 12h0m-210.5 0.5h0m-83.5-0.5h0m38-25.5h0m67 23.5h0m-187-1h0m190.5-0.5h0m-96-10.5h0m27.5-32h0m162.5 0h0m-376 44.5h0m265.5-1h0m261-6h0m-364.5-32.5h0m87 53h0m-119-35h0m-151.5 17h0m135 0.5h0m157-15.5h0m-108-0.5h0m-29.5-26.5h0m49 57.5h0m-16-18h0m284 11h0m-253 18h0m230-42.5h0m-171 32h0m218.5-44.5h0m16 32h0m-252.5-14.5h0m-151-22h0m220-1h0m-112.5 29h0m58-37.5h0m157.5 20h0m-55 38.5h0m-7-39.5h0m-91.5 45.5h0m23.5-23.5h0m-76.5 16.5h0m123.5-22.5h0m78 17.5h0m-265.5-24h0m98 15.5h0m85-21h0m-187 13.5h0m-128-28h0m325.5 6.5h0m-9 45.5h0m196-23.5h0m-181-8.5h0m-118.5 3h0m-121.5-12h0m328.5 15h0m-194.5-11h0m93 24.5h0m-332.5 3.5h0m385-1.5h0m-104.5 9.5h0m105-16.5h0m-398.5 23.5h0m379.5-64h0m-124 26.5h0m46.5 22.5h0m-126.5 9.5h0m189-15.5h0m-184.5 6h0m116.5 8.5h0m13-7.5h0m142.5-18.5h0m26 27h0m-220.5-37.5h0m118-4.5h0m220.5 24.5h0m-197-15.5h0m-22.5 41h0m-77-56.5h0m5.5 19.5h0m-29.5-16h0m2 34h0m-63-3h0m91.5-13h0m-10 1.5h0m176.5-15h0m-301 40h0m72-14.5h0m-141.5-43.5h0m130 35h0m227-28.5h0m-75 30h0m-60 4h0m94-27h0m2 0h0m-104.5 46.5h0m-69-4.5h0m190.5-29h0m-52.5 1.5h0m-213-28h0m322.5 30.5h0m-166.5 8h0m-100.5 1h0m232 8.5h0m-23-13h0m-197 14.5h0m-5-9.5h0m72-21.5h0m132 25h0m-219.5-9.5h0m348 10.5h0m-288 18h0m97-12.5h0m-171.5-3h0m153-2h0m-151-13h0m182.5-5h0m-22.5 37h0m-96-22h0m19 23h0m83.5-11.5h0m-158-25h0m6.5 23.5h0m35.5-7.5h0m-145.5-22h0m266.5 33h0m-16-16h0m-135-12h0m70.5-3.5h0m81.5-13h0m-19 15.5h0m-231.5-12.5h0m59 14h0m9.5-7h0m206-3h0m-44.5 29h0m-36-17.5h0m-93-0.5h0m49-24h0m-92 1.5h0m284.5-9h0m-247.5 65.5h0m141.5-22.5h0m-48.5-25.5h0m-65.5 13h0m25.5 24h0m-26-34h0m239.5 5h0m-343-12h0m16 14h0m248 1h0m-200.5 8.5h0m78.5 10.5h0m-77-4.5h0m104.5-42h0m28 48.5h0m-20.5-11h0m101 25.5h0m-104.5-60h0m-328.5 3h0m215.5 45h0m-165-32.5h0m-21.5-12.5h0m77 47.5h0m146 10h0m-4-17.5h0m-198 8.5h0m205-22.5h0m30.5 21.5h0m44.5-33h0m20.5 46.5h0m-214-38.5h0m118 7.5h0m-127-15h0m100-2h0m205.5-11h0m-198.5-3h0m71 36.5h0m-118-19.5h0m265 13h0m-159 7.5h0m43 18.5h0m58-5.5h0m-42.5 7.5h0m14.5-23.5h0m-244.5-23h0m65 25.5h0m284-13.5h0m-118.5 37h0m103-15h0m-165.5-17h0m169 26.5h0m124-14h0m-291.5 14h0m133.5-10h0m10-8h0m-48-30h0m-142 45h0m88.5-27.5h0m146.5 24h0m-46-16h0m-62 28.5h0m-312-25h0m-16.5-29h0m329.5 38h0m-99.5 12.5h0m242 3.5h0m77.5-6.5h0m-284 0.5h0m-117-48.5h0m127.5 3.5h0m-55.5 23h0m-31 0h0m142 6h0m-147-7h0m23.5-3h0m-66 7h0m-84-22h0m149-9.5h0m-17.5 32h0m9-5.5h0m-122.5-34.5h0m219 39h0m3.5-16h0m-133.5-12h0m231.5 52h0m-139.5-43.5h0m-177.5 25h0m124-25.5h0m160.5-16h0m-109 41h0m-265-26.5h0m-0.5 33h0m307 0h0m-159.5 7.5h0m45.5-44h0m135.5 30h0m-121 4h0m-46-36.5h0m401.5 19.5h0m-269.5 36h0m56.5-49h0m-40.5 35h0m-139-9h0m7.5-4.5h0m-113.5 21.5h0m389-34h0m-101.5 16.5h0m175-11h0m-41-6.5h0m-188 31.5h0m-61.5-13.5h0m122.5-7.5h0m-113 0h0m-53.5 30h0m131.5-42h0m-20.5 8h0m5.5 13.5h0m-52.5-7.5h0m-122-13.5h0m285.5 20.5h0m-126.5 11.5h0m135.5-19.5h0m-112-22.5h0m76 23h0m-51.5-12h0m-188 19.5h0m48.5-15h0m133.5-11h0m-115 18h0m1-7h0m24-14h0m-4.5 3h0m112 36h0m-19-35h0m-240.5-11h0m108.5 3h0m-206.5-18.5h0m384.5 45.5h0m-299.5 0h0m247.5-10h0m85-34.5h0m-280 14.5h0m220.5 26.5h0m-158.5 16.5h0m104-15.5h0m-101-12h0m189 17h0m-185.5 10h0m55-12.5h0m-217-30h0m235-5h0m-108.5 25h0m128.5 5.5h0m47.5 4h0m240.5-25h0m-321.5 7h0m104.5-6.5h0m-171.5-3.5h0m96.5-0.5h0m-15.5 28h0m196.5 15h0m-84-27h0m-21.5 28h0m-178-7.5h0m192-20.5h0m-115 21.5h0m-16.5 8.5h0m-12.5-11.5h0m87.5-10.5h0m-70 23.5h0m-33-14.5h0m120 13h0m95-22h0m-251-19h0m157 6h0m156.5 8h0m-123.5-6h0m-196-8h0m148 22.5h0m-26.5 16.5h0m49.5-3.5h0m-46.5-33.5h0m-30.5 7h0m27 5h0m-71 2.5h0m4-1h0m-52.5 24h0m270.5-2.5h0m-210 6h0m23.5-44.5h0m-15 46.5h0m4-43.5h0m66 21.5h0m26.5-14h0m-141 12.5h0m27.5-30.5h0m168 21.5h0m-110 7h0m-129 1.5h0m328.5 22h0m-208.5-44h0m-8.5 4.5h0m44.5-15h0m-292.5 54.5h0m67-50.5h0m114 9h0m137.5 33.5h0m-64.5-1h0m23.5 5h0m176.5-19h0m14 23.5h0m-78-46h0m-47.5-11h0m-287 31.5h0m87.5-20.5h0m74 42h0m-3.5 10h0m-19-48h0m46 18.5h0m36.5 5h0m32-16h0m-91-11h0m-207 22.5h0m356.5 3h0m-10 28h0m-61.5-15h0m30.5-22.5h0m-161 16h0m236.5 11h0m-211-58h0m104.5 31.5h0m-47.5-3.5h0m-232-0.5h0m149.5 25.5h0m354.5-16.5h0m-368.5-6h0m170 32.5h0m-61-50.5h0m-93 31h0m169.5-46.5h0m-36.5 11.5h0m35 19h0m137.5 8h0m-121.5 12.5h0m19.5-26.5h0m132.5 14h0m-157-3.5h0m-81 26.5h0m31.5-17.5h0m-64.5-24h0m61.5 47h0m-107.5-37h0m-57 0.5h0m190.5 8.5h0m-185-3h0m341.5-1.5h0m-262.5 30h0m-173.5-3.5h0m196.5-43h0m89 24.5h0m-70.5-21h0m32 16.5h0m-31.5-28h0m-163 48.5h0m58-18h0m-5 6.5h0m-19 19.5h0m211.5-30.5h0m-6 27h0m-315.5-37.5h0m199 32h0m242.5 3.5h0m-180.5-20.5h0m-259 20.5h0m349-23.5h0m-224.5 9.5h0m-134 8h0m271.5-38.5h0m209.5 5h0m-527 40.5h0m185.5-20.5h0m105 9h0m78.5-32h0m-208.5-2h0m37 35h0m102-13h0m110.5-25h0m-247.5 28.5h0m118-12.5h0m10-5h0m-6.5 13.5h0m-181-38.5h0m154.5 38.5h0m15.5 17.5h0m196.5-27.5h0m-142 29.5h0m-349-17.5h0m350.5 6.5h0m-127-30h0m108 20h0m-105.5 11h0m149 15h0m-272.5-56h0m294.5 44h0m-322.5 4h0m435-28h0m-214.5 13h0m-78 0h0m178.5-6.5h0m-113-16h0m135 21h0m-0.5 31h0m-49.5-5.5h0m-46.5-19h0m-168-14.5h0m239.5 30.5h0m-160.5-16h0m50-1h0m-84.5 22.5h0m15-2h0m-44.5-38h0m233.5 28h0m-49-45.5h0m-239.5 30h0m284.5-40.5h0m-68 55h0m62.5-34h0m-76 17h0m-9 26.5h0m-160-23h0m280-19.5h0m-152.5 41.5h0m215.5-4.5h0m-407.5-20h0m482 0.5h0m-346 7h0m-68.5-24.5h0m105.5 13h0m-82 22.5h0m81.5 4.5h0m91.5-34h0m-50 18h0m-135.5-15.5h0m23.5-4.5h0m181 7.5h0m-346 19h0m329 1h0m-62.5-22.5h0m76 17h0m17.5-11.5h0m-324-18.5h0m191.5 27h0m86-20.5h0m-105 20h0m115-35h0m112.5 59.5h0m-290.5-23.5h0m93 0.5h0m-46-31.5h0m72 48h0m65-27h0m-131-9.5h0m66.5 33h0m-18.5-24.5h0m247-5h0m-358-10.5h0m199 52.5h0m-158.5-55.5h0m244 21.5h0m-174.5-34h0m-205 56h0m316.5 2.5h0m0-13h0m-50-9.5h0m-128-28h0m-172 47h0m249-30.5h0m223-9.5h0m-140 11.5h0m-275 22h0m272 15h0m-1.5-4.5h0m-46.5-17.5h0m58 1.5h0m-164-8h0m180.5 11.5h0m-190.5 8h0m137.5-3h0m48-23h0m72 6.5h0m-40 21h0m-84 13.5h0m-30-14h0m-59-16.5h0m-118.5 5h0m115.5 6.5h0m407 4h0m-588.5 11h0m255.5-38h0m5.5-8h0m191.5 38.5h0m-291-7h0m77.5-26h0m83 9.5h0m47-16h0m38-1.5h0m-94 30h0m-32-5h0m-51 23h0m140.5-55h0m-58 13.5h0m37 35h0m-9-16h0m-145 22h0m56-18.5h0m261 11.5h0m-194 5.5h0m-335-10.5h0m400.5 0.5h0m-160.5 11.5h0m-74.5-13h0m125.5-5.5h0m-103.5 16h0m55-30h0m-49.5 6.5h0m105 7.5h0m36-8.5h0m-160 24.5h0m176.5-32.5h0m-156 13.5h0m64-5h0m-15-20h0m-133 33h0m57.5-48.5h0m158 35.5h0m76-3h0m-110 0h0m-295 30h0m414-5h0m-13-35h0m-332.5-13h0m357.5 54h0m-6-57h0m-208.5 4h0m83.5 4.5h0m176 35.5h0m-22.5-22h0m-343.5 23h0m-93.5-31.5h0m156 30h0m35-12h0m-19.5-10h0m328 4.5h0m-4.5-31.5h0m-310 29.5h0m-73 19.5h0m-49-40.5h0m73 35h0m239-6h0m-216-2.5h0m301 16h0m-60.5 13h0m148.5-30.5h0m-188-15.5h0m10 30h0m95.5-17.5h0m-116-12.5h0m7 16.5h0m-57.5-4h0m60.5 28h0m-140.5-8.5h0m207-9h0m84-2h0m-224-20.5h0m24 12h0m3.5-1.5h0m-49-0.5h0m290.5 14.5h0m-256-18.5h0m155.5 37.5h0m-369.5-49.5h0m232.5 25.5h0m154 16h0m14.5-31h0m-113.5 16.5h0m-166.5-22h0m145.5 29.5h0m-77-3.5h0m215.5 0.5h0m-259.5-13.5h0m36.5 18.5h0m-3-30h0m19-7h0m98.5 30.5h0m-211 21.5h0m202-14.5h0m-77-21h0m-48 19.5h0m46.5-27.5h0m-74.5 22.5h0m109-28.5h0m-302.5-1h0m84.5 19.5h0m106.5 10h0m137.5-10.5h0m-150-0.5h0m117.5-3h0m-15.5 14.5h0m55 13.5h0m-19.5-20h0m-95 6h0m-116-6.5h0m506.5-6h0m-257.5-0.5h0m-242.5-11h0m135.5 1h0m-104 12.5h0m55.5 17.5h0m-239.5-40h0m265 22h0m-41.5 0h0m58.5-14.5h0m155-10h0m-82.5-5h0m-16.5 47h0m74-3h0m-245 3h0m156.5-2.5h0m-112.5-2.5h0m9.5 8h0m93-38.5h0m-220 3.5h0m147 33.5h0" stroke="#bebebe" stroke-width="3.3" stroke-linecap="round" fill="none"/>
<path d="M1349.5 242.5h0m-80 9.5h0m128.5 16.5h0m74 8.5h0m-163-80.5h0m-40.5 55.5h0m270.5 33.5h0m-287.5-80.5h0m246.5 74h0m-181-38h0m137.5 39.5h0m-93-36.5h0m-144.5-21h0m134.5 47h0m-137-23h0m309.5-0.5h0m-7 27h0m-251.5 8h0m85-20.5h0m127.5 2.5h0m-304 3h0m35.5-26h0m43 46h0m101.5-64h0m-154.5-18h0m96.5 52h0m-89-38h0m-35 67.5h0m465-7h0m-317-20h0m37-8.5h0m0 15.5h0m-119.5 7h0m164.5-5h0m-204.5 5.5h0m64.5-8.5h0m-62.5-68h0m24 36h0m147 20.5h0m-48.5 15.5h0m38.5-35.5h0m-124-60.5h0m18 31h0m-76.5 77h0m126.5-30.5h0m122 34.5h0m-188-26.5h0m-26-29h0m387 37h0m-171-2.5h0m-100-15h0m-111.5-2.5h0m57.5-61h0m104 72h0m-23.5 21.5h0m-56-75h0m-121.5 38h0m237 37h0m112-38.5h0m-282.5-1h0m21 22h0m145 3.5h0m-169.5-54.5h0m251 69h0m-199 4.5h0m-41-40.5h0m94.5 14h0m10.5 3h0m-172.5 14.5h0m12.5-82.5h0m72.5 67h0m246.5 6.5h0m31.5-16h0m-180-82h0m-66 97h0m174.5 17h0m-82-23h0m-31.5 9.5h0m151 6h0m-177.5 1h0m43.5-27.5h0m-47-43.5h0m-122 52h0m167 19h0m-148-29h0m82.5-32h0m-136 48h0m160.5 8h0m103 15h0m-252.5-10h0m271.5-7.5h0m-281-25h0m348 25.5h0m-316.5-34h0m99.5-21.5h0m35.5 67h0m114.5-43.5h0m36.5 12h0m-150 22h0m-0.5 1.5h0m119-39h0m-288 20h0m294 7h0m-29-8.5h0m-106.5-69h0m-3.5 61h0m-83 33.5h0m283.5 2.5h0m-199.5-7h0m-20 3.5h0m188-3.5h0m-4.5-9.5h0m-273 6h0m203 9.5h0m-88-91.5h0m-103.5 77.5h0m88-6h0m27.5-5h0m139.5-2.5h0m-166.5 22h0m47 12h0m52.5-53h0m-6.5 40.5h0m-27-17h0m176-13h0m-394 12h0m211-55h0m-211 72h0m263-7.5h0m85.5 11h0m-9.5-13h0m-149-50.5h0m-10.5 46.5h0m-10.5 15.5h0m-122-59.5h0m123 69h0m-160-55h0m171 34h0m-65.5 19.5h0m71-7.5h0m202.5-21.5h0m-220-2.5h0m187 31.5h0m-148-39.5h0m72 38h0m-68-36.5h0m210 36h0m-132.5-27h0m-19.5 12h0m-249.5 5h0m-7.5-21.5h0m243.5 4h0m-228 30h0m313 2.5h0m-151-38h0m19-76h0m33.5 82.5h0m164 23h0m13-36.5h0m-409-3.5h0m74-3h0m247 28h0m-284 8.5h0m244.5-8h0m-245.5 8h0m179.5-24h0m120-15h0m-251 18h0m233.5 30.5h0m-242.5-20.5h0m26-4h0m-84.5-31h0m222 35.5h0m-98.5 18h0m56.5-19h0m-172.5 27.5h0m315-10.5h0m5.5 6h0m-154.5-10h0m78.5 6.5h0m-172.5-0.5h0m27.5-20h0m-41 8h0m126 5.5h0m118.5-32h0m-242 3h0m23 13.5h0m-105.5 23h0m-14.5-3.5h0m86-25.5h0m-72 10h0m290-51.5h0m-223 57.5h0m-20.5-11h0m174-23h0m-124 16h0m109 14.5h0m-181.5-70h0m50-2h0m210 86.5h0m-220.5-40.5h0m-47 0h0m140 40.5h0m31.5-0.5h0m134-32h0m-315 17.5h0m293-0.5h0m-304.5-99h0m125 106h0m-5-20.5h0m135 3.5h0m-249.5 11.5h0m52-20h0m35.5 30h0m-48.5 12.5h0m8.5-35h0m227.5 22.5h0m-223-58h0m12 49.5h0m228.5-2.5h0m24 4.5h0m-8 16.5h0m9-14.5h0m-283 2.5h0m-39-49h0m45 6.5h0m79 42.5h0m178 3h0m-124.5-92h0m-144.5 59h0m263.5 27.5h0m-125-17.5h0m-23.5-49h0m67 69.5h0m39.5-37h0m-157.5 20.5h0m90.5 30.5h0m-37-33.5h0m61 16h0m-83.5-25.5h0m114.5-27.5h0m64.5 47h0m-77.5-10h0m-89.5 12.5h0m-39.5-14.5h0m37-4h0m108.5-10.5h0m-215.5 32.5h0m288 9h0m-176.5-75.5h0m-151.5 39.5h0m165 7h0m135 34.5h0m-263-43.5h0m30.5 15.5h0m56 12.5h0m102.5-52h0m108.5 56.5h0m-31.5-28.5h0m-233.5 32.5h0m97-68h0m36.5 47.5h0m-138 0.5h0m154 0.5h0m-107-74h0m-107 91.5h0m229 9h0m46.5-14.5h0m-6-3h0m-66-9.5h0m-163.5-5.5h0m-31.5 7h0m180 22.5h0m-99-46h0m115 12h0m-56 12h0m-123 23.5h0m88-22.5h0m-103.5 16h0m250.5-33h0m-256-23h0m-0.5-11h0m77 59h0m-66 2h0m212-1.5h0m-52 7h0m-8.5-5.5h0m74.5 9h0m-238.5-4h0m10-21.5h0m192.5-14.5h0m112 39.5h0m-302.5 5h0m318.5-26h0m-331-98h0m110 106.5h0m-39-12.5h0m128.5 2.5h0m1 7h0m-103 18h0m-54-22h0m263.5 22h0m27-22.5h0m-149.5 12h0m-134.5 0h0m-5.5 3.5h0m277 11h0m90.5-9h0m-323-35.5h0m26 6h0m103.5-1h0m113.5-26.5h0m-61.5 2.5h0m-179 17.5h0m35 24.5h0m47-24.5h0m-155 23.5h0m289 6h0m-243.5-19.5h0m-49-11h0m251.5 2.5h0m-234-4h0m229.5 36.5h0m83 14h0m-326-16h0m-1.5-90.5h0m54 78h0m277 9h0m-215.5 19h0m136.5-19.5h0m-135 11.5h0m130-12.5h0m24-26h0m-268-42.5h0m90.5 76h0m144.5 8.5h0m66-4h0m-170.5-43.5h0m-79.5 45h0m36-71h0m4.5 20.5h0m-3 12.5h0m151.5-16.5h0m-83 36h0m80.5-27.5h0m65.5 50.5h0m-315.5-82.5h0m375 65h0m-324.5-4h0m143-25h0m-187.5 32h0m50 3h0m50 1h0m61-12h0m116.5 19h0m-166-23h0m-2 23.5h0m62.5-46.5h0m-131 2h0m47 9h0m-43-50.5h0m272.5 61h0m-8.5 12.5h0m-34.5-25h0m-278.5-29.5h0m328.5 60h0m-312-18h0m160.5 10.5h0m24-2h0m-189.5-38.5h0m40.5 59h0m-20-51h0m-32.5-40.5h0m78.5 10h0m-74 37h0m205 6.5h0m-50.5 14.5h0m92 12.5h0m-5-4h0m-91 0.5h0m-167 3h0m286.5-60.5h0m-188.5 50.5h0m65-4h0m-1 18.5h0m128.5-79h0m14.5 34h0m-112.5 21.5h0m91 22.5h0m-251.5-53h0m38.5-21.5h0m-22.5 52.5h0m219.5-0.5h0m-111 1h0m104 21.5h0m92.5 8.5h0m-3.5-23h0m-68.5-0.5h0m-5 14.5h0m-40-42h0m-2.5 33h0m-68.5 17.5h0m85.5-1h0m-129-26h0m-23.5-3h0m81 24.5h0m-81-1h0m42.5-39h0m-100 32h0m-43.5 5.5h0m267-52.5h0m-160.5-12h0m184 71.5h0m32.5-18.5h0m-13.5-25h0m25 38.5h0m-37-21.5h0m8 10.5h0m-247.5-4.5h0m303.5 21.5h0m-65.5-31.5h0m-217 4h0m68.5 1h0m-126 4.5h0m327.5 16h0m-247.5-62h0m176.5 20.5h0m48.5 39.5h0m-294-43h0m261 29.5h0m-101 7h0m-61-31h0m84 44.5h0m107.5-10h0m141.5 7h0m-215.5-6.5h0m-155.5 6.5h0m-87-38h0m35 37.5h0m49.5-18h0m371.5 5h0m-113.5 19h0m-172.5-34h0m-176.5-66h0m99.5 76h0m63.5 14.5h0m139.5-24.5h0m-297-68h0m28 88.5h0m262 7h0m-126-36h0m119.5-18.5h0m-111.5 10h0m-156.5 17h0m121.5-43h0m75.5 55.5h0m35.5 15.5h0m-122.5-115.5h0m118 100h0m88.5 0.5h0m-39 16.5h0m-253 3h0m87.5-101h0m79 67h0m-24-48h0m-159.5 80h0m256.5-18.5h0m76.5-1h0m-329.5 10h0m41.5-86h0m240.5 84.5h0m-164-11.5h0m54.5 25.5h0m-53.5-54.5h0m49-5.5h0m131 14h0m-196.5-20h0m-123.5 20h0m335 30.5h0m-170.5-3h0m-102.5-35.5h0m-65-1h0m346.5 34.5h0m-139.5-14h0m47-9.5h0m-97.5 29h0m-131.5-25.5h0m162.5 21h0m-184.5-24.5h0m-4.5 31.5h0m30-96h0m0.5 99.5h0m70-74h0m-60.5-4.5h0m156.5 33h0m131 50.5h0m-304-27h0m267-21.5h0m-246.5 21.5h0m44.5 30h0m177-13h0m-148.5 9.5h0m214.5-112.5h0m-333.5 9.5h0m96.5 82h0m4 10.5h0m70.5-7.5h0m-81-47.5h0m-42.5 27h0m129.5 3.5h0m175.5 3h0m-29.5 22.5h0m-290-39.5h0m223.5 35.5h0m62.5 8.5h0m-322-38h0m125 30.5h0m55.5-91h0m24 102h0m210-31h0m-330.5 10h0m86-39.5h0m79 56h0m-100 1h0m-70.5-8.5h0m94.5-41h0m142 54h0m-311-65.5h0m17 5h0m205 36.5h0m-58.5-3.5h0m1 27.5h0m54-21.5h0m-100.5 5h0m30 16.5h0m-134.5-3.5h0m74 3.5h0m235.5-34h0m-287.5 31.5h0m4-59.5h0m95 48.5h0m125.5-9.5h0m-230-24h0m289.5 27.5h0m-46.5-1h0m-125.5 4h0m88.5 7h0m57.5 3.5h0m-105-9.5h0m4 10h0m-188-32h0m205 21.5h0m5-21.5h0m76.5 20.5h0m-216-25.5h0m240-2h0m58.5 14.5h0m-298 15.5h0m-32.5-15h0m18.5-12.5h0m233-15h0m-291.5 40.5h0m80-6.5h0m251 22.5h0m-255-72h0m-86 23.5h0m105.5-14.5h0m4 19h0m228 44h0m-283.5-75.5h0m-14.5-12h0m175 65h0m-72-100.5h0m119.5 119h0m-214.5-8h0m-39-70.5h0m90 43.5h0m188.5 20h0m-80-25h0m-121 1.5h0m66.5-6.5h0m-72.5 6.5h0m13.5-7.5h0m118 37h0m20-8h0m-214.5 5.5h0m30 6.5h0m318.5 7h0m-127-11.5h0m-92.5-3h0m-57.5 24h0m-9.5-5.5h0m193-14h0m-233 2.5h0m83-45h0m-23.5 4h0m46.5 36h0m129 1.5h0m-131.5-23h0m-88.5-71.5h0m274.5 108h0m-197.5-30h0m176.5-6h0m-273.5-9h0m158.5 45.5h0m134-24.5h0m-280.5-47.5h0m162 58.5h0m-130.5 3h0m-19.5-71h0m116 48.5h0m99 14.5h0m-230-23.5h0m128.5 9h0m134 28.5h0m-87.5-34h0m-111 9h0m75 28h0m114.5-13h0m-40.5 5.5h0m33.5 5h0m-168.5 2.5h0m227-28.5h0m-52 29h0m-127-25h0m-9-21h0m91 29.5h0m-165.5 12.5h0m2-71h0m4 30h0m-53 20h0m205 25h0m-235.5-118.5h0m115 76.5h0m125 27h0m-19.5-14h0m56.5 27h0m-135-12.5h0m-144.5 9h0m250-19.5h0m-99-31h0m108 51h0m77 11h0m-267.5-4.5h0m101-34.5h0m114 31.5h0m-118-2.5h0m-91.5-1h0m237.5-11.5h0m-240-25h0m-67.5 30.5h0m199.5 6h0m-203.5-6.5h0m180.5 6h0m-177 9h0m18.5-14.5h0m239.5-84h0m-260.5 64h0m62 8.5h0m112 18h0m-83.5-45h0m-67 47.5h0m200.5 5h0m-4-16h0m7 8.5h0m-167-44.5h0m194.5 22h0m-124 7h0m48-6h0m-49-48h0m-35.5 37.5h0m181 14.5h0m28-4.5h0m-297-21h0m199.5 22h0m20.5 17h0m-193-66.5h0m-18.5 68.5h0m242.5-66h0m113 31h0m-168.5 24h0m-36.5 16h0m0-21.5h0m-170.5-48h0m140 12h0m135.5 60h0m-239-24h0m308.5 23.5h0m-20 5.5h0m-199-45h0m-127.5 6h0m133.5 28.5h0m25.5-25.5h0m137.5 19h0m-156-6h0m-65-82.5h0m156.5 82.5h0m-83.5 17.5h0m124-19h0m-79-1.5h0m10-35h0m-177 23.5h0m86.5 24h0m74-35h0m23-39h0m111.5 76.5h0m-18.5-34.5h0m-289.5 41h0m275 3h0m23.5-2h0m-227.5-9h0m251 5h0m-138 5.5h0m92-40h0m-181.5 18h0m26.5 22.5h0m-118.5-93h0m316 88.5h0m-145.5-26.5h0m122 16.5h0m-256-33.5h0m242-26h0m-116 58h0m184.5 18h0m-264-16h0m-86.5 9h0m57.5-13.5h0m18.5-24h0m0 21.5h0m50 10h0m-54.5-6.5h0m262.5 8.5h0m-133.5-21.5h0m-189.5-12h0m-16.5-2h0m116.5-28h0m43 71.5h0m152.5-6.5h0m-13-14.5h0m-152 4h0m-110.5-3h0m-34.5-7.5h0m325.5 17h0m-333-45h0m276 28.5h0m-268-30h0m175 52.5h0m-33-13h0m-109.5 0.5h0m256.5-9h0m-35.5 3.5h0m27.5 4h0m-66.5-8h0m-126-22h0m19 26h0m140 27h0m-45-21h0m-178.5-79.5h0m71.5 88.5h0m73.5-78h0m-139-12.5h0m65 97.5h0m102 1.5h0m-204.5-30h0m32 21h0m45-32.5h0m-11.5 16h0m168.5-31.5h0m-103-6.5h0m24-0.5h0m153 49h0m-72-3h0m-90 6.5h0m136-30.5h0m-44.5 37.5h0m-30.5-58h0m-44.5-15h0m-112.5 10.5h0m22.5 56h0m12.5-18.5h0m227.5-25h0m-258 57.5h0m175.5-19.5h0m-126-9h0m177.5-8h0m-211 7.5h0m258.5-9h0m-300.5 10.5h0m210.5 2.5h0m-151 17h0m209.5-15h0m20 12h0m-10.5 1h0m-180 3.5h0m69.5-37h0m-126.5 18.5h0m174.5-20.5h0m-147.5 33h0m-61-17.5h0m-8.5 4h0m-28.5 2.5h0m68.5 14h0m71.5-25.5h0m-115.5 3h0m123 11h0m41.5-1.5h0m107.5-5h0m-223.5 16.5h0m172 2.5h0m-214-16h0m156-16.5h0m83-8h0m-77.5-18.5h0m-140 29.5h0m-36 25.5h0m33-72.5h0m196 65h0m-161-3.5h0m237 23.5h0m-261.5-58.5h0m201.5 34h0m77 14.5h0m-83.5 5h0m-186-31.5h0m146 28.5h0m192-5.5h0m-187-27h0m12 17h0m-134-39h0m143.5 13h0m-45.5 23h0m-124.5-12.5h0m-29 31.5h0m41-8.5h0m48 0h0m126.5-16.5h0m-224 11h0m165-33.5h0m-67 27.5h0m150 17h0m63.5-9h0m-124.5 15h0m-104 2.5h0m175-18.5h0m-192 8h0m-10.5-5.5h0m40.5-31.5h0m-80.5 22.5h0m154.5-37.5h0m-24 60h0m-166-121h0m110.5 97.5h0m82 12h0m62.5-6.5h0m64.5-8h0m-331-12h0m12 4h0m193 20.5h0m-96.5 4h0m79-18h0m127 19.5h0m-290 8h0m170-28.5h0m90.5 31.5h0m-285.5-126h0m16 41.5h0m64.5 74h0m233.5-40h0m-180.5 18.5h0m203.5 2h0m-61 1.5h0m-141-10h0m109.5 38.5h0m-178.5-12.5h0m276 4.5h0m-41.5 5h0m-252.5-25.5h0m59-11h0m229.5 7.5h0m-109 7.5h0m-74-20.5h0m-46.5-23.5h0m228 67.5h0m-266-23.5h0m-58.5-17.5h0m24.5-66.5h0m-3.5 96.5h0m158 0.5h0m122-36h0m-168.5-5.5h0m-75.5 30h0m145.5-11.5h0m-42 6h0m157 2.5h0m-274.5-24.5h0m120.5 19.5h0m143 19.5h0m-242-7.5h0m174 7.5h0m-78.5-2h0m-66 1.5h0m46.5-54.5h0m167 38.5h0m-262.5 26.5h0m206 1h0m-52.5-49h0m96 10.5h0m139 20.5h0m-186 19h0m61-25.5h0m-309.5 2.5h0m216-24h0m-212.5 7.5h0m227.5 27.5h0m15.5-26h0m-129 26.5h0m-90-12.5h0m239-39.5h0m-101.5 43.5h0m100-5.5h0m89.5 7.5h0m-137.5-8h0m-13.5-44.5h0m47 67h0m-144.5-7.5h0m13-71.5h0m-103.5 57h0m47 15.5h0m-45 5h0m132.5-8.5h0m-72 8.5h0m-32-26h0m192.5-3h0m-100 15.5h0m39.5-44.5h0m93 41h0m-150.5 7.5h0m199 11h0m-266-31.5h0m231 23.5h0m-280-67.5h0m149 73h0m130-3.5h0m43.5 3.5h0m-115-28.5h0m-24.5 28h0m145.5 1.5h0m-268.5-110h0m56.5 104h0m179-18.5h0m-135.5 20h0m-96.5-21h0m-79.5 23h0m86-19h0m140-6.5h0m90-19h0m-315 47h0m292.5-0.5h0m17-19h0m-70.5 2h0m-214.5-30h0m190.5-2.5h0m18 40h0m-175-45h0m167.5 49h0m-210.5-28.5h0m-12.5 37.5h0m208.5-15.5h0m61.5 8.5h0m-91.5-13h0m18-10h0m24.5-5.5h0m58 28.5h0m-75-45.5h0m145 18h0m-313.5-26h0m-1 36.5h0m145 12h0m-172-13.5h0m-3.5 2h0m238 10h0m42.5-10.5h0m74 3.5h0m-38.5-14.5h0m-95.5 20h0m-192.5-28h0m265.5 43.5h0m-104.5-36h0m-76.5 20.5h0m-70.5 10h0m-51-61.5h0m168-31.5h0m-55.5 65h0m49.5 24h0m126 5.5h0m-148.5-10h0m-6-22.5h0m64-70.5h0m-58 71.5h0m85.5-32h0m-102 48.5h0m104.5-2.5h0m-104.5-63.5h0m79.5 84.5h0m-53-60h0m-107.5-37h0m234.5 39.5h0m-244.5 34h0m84.5 17.5h0m38.5-61h0m6-28.5h0m107.5 50h0m-124.5 25.5h0m79.5-1h0m38.5-38h0m-230 46h0m165 14.5h0m-85-18h0m48.5-28.5h0m66.5 23.5h0m48 5.5h0m-93 12.5h0m250-6.5h0m-236-22h0m-93.5-51h0m251.5 81.5h0m-207.5-51h0m-55-12h0m211 49.5h0m-244.5-7h0m-29.5 13.5h0m125-12h0m122-4h0m35.5 16.5h0m-249.5-46h0m98.5-16.5h0m-55 51h0m-63-4.5h0m-12-83.5h0m22 33.5h0m160.5 57h0m-148-21h0m119.5 33.5h0m-160.5-10h0m303-20h0m-140 9.5h0m-74 11h0m-72-22h0m172 30h0m20.5-32h0m27 14h0m-132.5 14h0m-106.5 10h0m238 3h0m-162-63.5h0m62 36h0m174.5-9.5h0m-75.5 37h0m-224-73.5h0m206.5 69h0m-82-28h0m-99.5 15h0m-41.5-4h0m-3.5 1h0m58.5-68.5h0m68.5 72h0m-62 9h0m23.5-52h0m65-10h0m-160-8h0m72.5-43h0m-64.5 97h0m89 20h0m76.5-67h0m62 42h0m-62.5-4h0m121.5 13.5h0m41.5 14h0m-167-85h0m9 82h0m-183.5-47h0m152.5 31h0m90.5 8h0m-205-52h0m215.5 67.5h0m-109.5-11h0m25.5-0.5h0m-12-3h0m-49.5-112.5h0m-4 52.5h0m275 19.5h0m-109-15h0m-30.5 56h0m-93-103.5h0m171.5 98h0m-297-58.5h0m163 73.5h0m36.5-24h0m-177-5.5h0m44.5 12.5h0m22 2h0m-79.5 1h0m274 5.5h0m-193.5-12.5h0m-68 2h0m241.5 8h0m-81.5-20.5h0m-200 1h0m-0.5 17h0m166 5.5h0m180.5 13h0m-308.5-49.5h0m190 23h0m-155-21.5h0m-4.5 17h0m-61.5 4h0m74-22h0m27.5 0h0m-31 2h0m-66-34.5h0m99 65h0m-15.5-15h0m-80.5-23.5h0m341 54h0m-173-16.5h0m-177 0.5h0m273.5-28h0m-88 42.5h0m-32-2h0m163-3.5h0m-141-60h0m-158.5-0.5h0m50.5 5h0m70 62.5h0m153.5-28.5h0m-126.5 26.5h0m153-67.5h0m2 71h0m-29.5-17.5h0m-256.5-58h0m-4.5 4.5h0m-31.5 9h0m2.5-45h0m144.5 87h0m97.5-10h0m-36.5 8.5h0m91.5-5.5h0m-274.5 10.5h0m53.5-40h0m122 54h0m-144-10h0m98-18h0m-151.5-41.5h0m100.5 51h0m281-15h0m-154-39.5h0m-130 6.5h0m-41 54.5h0m192.5-34h0m6.5 35h0m139.5 6h0m-355-2.5h0m32-16h0m119.5-37h0m237 52.5h0m-209.5-7.5h0m32.5-23h0m-231-5h0m329 14.5h0m91 26h0m-433.5-16.5h0m38.5 9.5h0m259.5-22h0m-278 24.5h0m92-6h0m150.5 14h0m40.5-16.5h0m-99 16h0m-62-29.5h0m158.5 7.5h0m-173-0.5h0m155-0.5h0m-66.5 14.5h0m-74-21.5h0m-129.5-67h0m-8.5 55h0m293.5 30h0m-112-2.5h0m33-17.5h0m-213-23.5h0m3 18.5h0m260.5 34h0m-104-27.5h0m-28.5 6.5h0m56.5 2.5h0m-10.5-28.5h0m-25.5 32h0m-160.5-9h0m74.5 2h0m22-50h0m182.5 65h0m-134.5-22.5h0m1 15.5h0m-130.5-24h0m5.5 1.5h0m22 22h0m247.5-32.5h0m-74 44.5h0m-223-63.5h0m5 63h0m172 2h0m167.5 0.5h0m-206.5-44.5h0m-113.5 44h0m321.5-14.5h0m-82 2.5h0m-145-24h0m-46 19.5h0m54.5-50.5h0m-123 32h0m314-24.5h0m-301.5 61.5h0m181.5-13.5h0m-89-18.5h0m118.5 31.5h0m-29.5-53.5h0m78 20.5h0m-234-2h0m44-5h0m-92 1.5h0m112-10.5h0m-53-10.5h0m92.5 53.5h0m122.5 2h0m64.5 2h0m-278-11.5h0m320.5 17.5h0m-381-16h0m-0.5-1.5h0m34.5-27h0m224.5-3.5h0m-109.5-12.5h0m140 44h0m-102.5-2h0m-104 8h0m231-18h0m-255 12h0m71 9.5h0m-129.5-63.5h0m347.5 71h0m-24-20h0m-292-3.5h0m189.5-57.5h0m-3.5 63.5h0m-38 8.5h0m23.5-30.5h0m-54.5 32h0m87-21h0m108.5 21.5h0m-78.5-17.5h0m-176.5-10h0m20.5 5h0m-17.5 9h0m-35 2h0m-53 18.5h0m57-20.5h0m140.5-21.5h0m-177 3.5h0m183 0.5h0m56.5 35.5h0m-159-45.5h0m118.5 26h0m125 17.5h0m-330.5-66h0m184 48h0m14-25.5h0m-127 45h0m-51.5-58.5h0m232 22.5h0m-52.5 7h0m-119.5 25.5h0m-80.5-66h0m196 39.5h0m118 27h0m-247-42.5h0m222-11.5h0m-307 45h0m19-27.5h0m-2.5 42h0m340.5-29h0m-310.5-46h0m57.5 50.5h0m-23.5 7.5h0m76 0h0m-104 9.5h0m-29-40.5h0m82 20h0m129-27.5h0m76 31.5h0m99-45h0m-260.5 36.5h0m72 9h0m-154.5-11.5h0m167.5-24h0m-175.5 42h0m184.5 8h0m-53-52h0m-166 27h0m-14.5 7.5h0m-1.5-66h0m110 50.5h0m151 30h0m-167-41h0m85 11.5h0m280.5 20.5h0m-460-25h0m339.5 33.5h0m-54-24h0m-131.5 20.5h0m139 8.5h0m-110.5-21h0m50.5-40h0m-111.5 20h0m-124.5-76.5h0m46 75h0m282.5-11.5h0m-292.5 52h0m63.5-32.5h0m48.5-1h0m-41 42.5h0m89.5-24.5h0m-9-41h0m7.5-14.5h0m-125 50h0m33.5-31h0m183.5 53h0m-92.5-8h0m136.5 15h0m-157-60.5h0m-79 27h0m-21.5 21h0m213-57.5h0m-288 57.5h0m148.5-6.5h0m-75 15h0m-22.5-4h0m35-34.5h0m-66 2h0m1.5 10.5h0m330.5 0.5h0m-282.5-175h0m46 36h0m-61 4.5h0m39.5 3.5h0m38 19.5h0m-134-5h0m80.5-3h0m-16 2h0m-54.5 3h0m-9.5 6h0m164 20h0" stroke="#ff0000" stroke-width="3.3" stroke-linecap="round" fill="none"/>
<path d="M1503 384.5h0m-41-9h0m182 30.5h0m-61-1h0m-61-22h0m47 7h0m-220-25h0m207 0.5h0m-302 31h0m178.5-0.5h0m-100-20.5h0m89.5-2.5h0m105 36.5h0m-311.5 106.5h0m-19-129.5h0m292.5-13.5h0m41 3h0m-200 5.5h0m110.5-14h0m163.5 3.5h0m10 1.5h0m-245 26.5h0m288.5-32h0m-152 28h0m35.5 33.5h0m106-62h0m-37-0.5h0m-190.5 51.5h0m115.5 99.5h0m13.5-125h0m-79-21.5h0m42 55h0m148-53.5h0m-268 55h0m-42-41.5h0m253 5.5h0m-383 25.5h0m283.5-31h0m111.5-8h0m-91 0h0m-186.5 41.5h0m-41-4.5h0m-43 4h0m381-38h0m23 16h0m-127.5-28.5h0m135 23.5h0m-41-23.5h0m-348 9h0m179.5 65h0m100-69.5h0m-69.5 1h0m194.5-7.5h0m-50.5 25.5h0m31-13h0m-364.5 4h0m-120 7.5h0m87 80.5h0m-28.5-94h0m404.5-10h0m-239.5 5.5h0m260.5 8h0m-287 16.5h0m-143 20h0m59.5 8h0m338.5-35.5h0m-326.5 8h0m296.5 9.5h0m-362.5-33h0m386-9.5h0m93 13h0m-194 5h0m102.5 6h0m-66.5-21h0m155.5-4.5h0m-358.5 80h0m-128.5-59h0m425-9.5h0m-341-5h0m142.5 40.5h0m3-20h0m-1.5 36h0m4.5 5.5h0m114.5-60h0m59.5 11.5h0m-140.5-9h0m-79.5 32.5h0m109.5-38.5h0m43.5 15.5h0m-119-18h0m-38.5 2.5h0m222.5 38.5h0m-135.5-4h0m-73-28h0m111 4.5h0m-56-12h0m133.5 1.5h0m-149.5 130.5h0m-141.5-114.5h0m403-21.5h0m-217 22.5h0m-216 28.5h0m357.5-43h0m-26.5-6.5h0m-311.5 86.5h0m-11-53h0m317-28.5h0m-348 0.5h0m57.5-3h0m271 0h0m-174.5-2h0m37.5 7.5h0m138 7.5h0m-36-13.5h0m-65.5-0.5h0m45 52.5h0m-295.5-43.5h0m196.5 48.5h0m-5-25.5h0m-108.5-32.5h0m174.5 47h0m91-45h0m-361.5 8.5h0m52.5 36.5h0m259-2h0m-58-18.5h0m130.5 3h0m-204.5 86h0m-118-98.5h0m251.5-10h0m-292.5 20.5h0m460.5 33h0m-298-33.5h0m64.5 1h0m91-22.5h0m-78.5 11.5h0m-39.5 49h0m-92-42h0m59-14.5h0m-174 91.5h0m172.5-88.5h0m-51-2.5h0m6 37.5h0m276-27.5h0m-11.5-15.5h0m-133.5-2.5h0m76-1h0m-134.5 89h0m140.5-91h0m-123 7h0m71.5-2h0m-137 6h0m110.5 4.5h0m49 76h0m-68.5-55.5h0m-130 69.5h0m354.5-63.5h0m-463.5-22h0m218-11h0m6.5 19h0m142 22.5h0m-222 42h0m-116.5-90h0m73.5 0.5h0m215 13h0m-45.5 0h0m25 10h0m115.5-25.5h0m32.5 11.5h0m-399.5 45h0m347-43h0m-199.5 23.5h0m-0.5 9.5h0m103-26.5h0m0-15.5h0m-373.5 24.5h0m194.5-15h0m148.5-15.5h0m-338.5 45h0m321.5-23h0m48-7.5h0m-47.5 47.5h0m-89.5-6h0m-14.5-48h0m-73 30.5h0m179.5-32.5h0m-319.5 61h0m262.5-50h0m58 33.5h0m166.5-36.5h0m-151.5 32h0m58-25.5h0m33.5-13h0m-43.5 2.5h0m-96-4h0m-101 14.5h0m-42.5 38.5h0m16.5 49.5h0m-4.5-69.5h0m310.5-24h0m-134.5 25.5h0m-156.5 46.5h0m146-79h0m-115 47h0m163.5-24.5h0m17-23.5h0m-240.5 30.5h0m41-37h0m106 22h0m-177.5-3.5h0m151.5 3h0m-156.5 8h0m356.5-28h0m-113 31h0m70 25h0m-54.5-57h0m79 13.5h0m-426.5 42.5h0m118 12h0m114.5 11h0m134-45h0m40-8h0m-240-18h0m51-0.5h0m201 3.5h0m-42.5-10h0m-25-1.5h0m-11 19h0m-149.5 67h0m-34.5-32.5h0m167.5-15.5h0m-76-8.5h0m40-14h0m-58.5 12.5h0m-100-3h0m3-2.5h0m216.5-1.5h0m139.5-12.5h0m-406.5-6.5h0m181.5 26h0m-71.5 48h0m-92-62.5h0m126 13h0m-222.5-10.5h0m391-8.5h0m-18-8.5h0m-373 57.5h0m416 21h0m-34.5-58.5h0m-306.5 14.5h0m199 42h0m157.5-74.5h0m-310.5 65.5h0m0-39h0m95.5 105.5h0m12.5-9.5h0m161-86h0m-230.5-6h0m-175 40h0m202.5-54.5h0m-12 8h0m144.5-19.5h0m-77 101h0m50-105h0m92.5 18h0m-214 104h0m292-110.5h0m-489.5-14h0m276.5 18.5h0m149.5-17.5h0m-78.5 30.5h0m83.5-17h0m-109 19.5h0m-57.5-15h0m48.5-15h0m86.5-1h0m-208 0h0m-57.5 34h0m31-20.5h0m73-12h0m-236.5 50.5h0m294-44h0m342-5h0m-537 27.5h0m286-31h0m-52.5 17h0m146.5 5h0m-250.5 26h0m123.5-31.5h0m-65-11.5h0m3 25h0m-32.5-8h0m240.5-22h0m-151 1h0m-153.5 62h0m56.5-46h0m77 33.5h0m-46-42.5h0m-54.5 39.5h0m75.5 83h0m118.5-128.5h0m-343 22h0m265.5 5h0m56.5 21h0m-362 20h0m476-72h0m-116 0h0m7 29h0m41.5-0.5h0m-18.5 37.5h0m-411 44.5h0m123.5-99h0m22.5 22h0m-74.5 19h0m115.5-5h0m30-41h0m-38.5 77.5h0m202-50h0m-32 12.5h0m45.5-40.5h0m-25 35.5h0m-86.5-35.5h0m-66.5-6.5h0m-7 14h0m-53.5-13.5h0m69 24h0m-49-15h0m89.5 2.5h0m101-12h0m-165.5 36h0m-59.5-33h0m-66 39.5h0m168 5.5h0m-10-3h0m-202.5 101.5h0m348-146h0m-75 38.5h0m-119.5 40.5h0m202-63h0m-156.5 31h0m141.5 3h0m82-24.5h0m-2 33.5h0m-114.5-2.5h0m-352.5 11h0m243-52.5h0m276-6h0m-267.5 8h0m-18 30.5h0m-8-38h0m138.5 1.5h0m-295.5 13.5h0m210.5-25.5h0m225.5 4.5h0m-292 3.5h0m-147-4h0m231.5 82h0m57-81.5h0m-341.5 65h0m314-3.5h0m10.5-54.5h0m86.5 38h0m-87-33h0m-60.5-4h0m4-8.5h0m126.5 14h0m-66-11.5h0m121 12.5h0m-119-10.5h0m67.5 34h0m-270 22.5h0m225 33.5h0m115-88.5h0m-60 24h0m-248.5 16h0m-114-29h0m164.5-12.5h0m-183-4h0m93.5 85.5h0m179.5-81.5h0m-157.5 1.5h0m188.5 5h0m34.5 36h0m57.5-47.5h0m-177.5 9.5h0m156.5-7h0m102.5 61h0m-279.5-61h0m232.5 69.5h0m-177.5-43.5h0m30 9h0m-18.5-36.5h0m114.5 1.5h0m-340 115.5h0m22.5 11h0m236-62.5h0m65-69h0m-179.5 10h0m127-7.5h0m171.5 13h0m-428.5 9.5h0m401-16h0m-432-0.5h0m287.5-4.5h0m132-2.5h0m-194.5 33h0m-195.5-6.5h0m342-18.5h0m-283 22.5h0m130.5 26h0m-27.5 13.5h0m54.5-71.5h0m-5 55.5h0m91-11h0m-215.5 3.5h0m-3-35.5h0m80.5-12h0m199 1h0m-192.5 6h0m185 82.5h0m-168.5-86h0m64 46h0m-72.5-35.5h0m-242.5 81.5h0m372.5-85.5h0m-134 54.5h0m199-65h0m-328 50h0m-97-46h0m-11 65h0m200-51.5h0m-64.5-15.5h0m144.5 9.5h0m43.5-1h0m-119.5 22h0m-90-1h0m347.5-2.5h0m17.5-26h0m-399.5 54h0m247.5-53.5h0m-25 32.5h0m-14.5 27h0m-215-34.5h0m154.5-26h0m124 95h0m-151.5-55h0m230-41.5h0m-380.5 106h0m279.5-82.5h0m-75-2h0m-239-16h0m347.5 23.5h0m-66 69h0m-289.5-92.5h0m170 4h0m249.5 8.5h0m-69-7.5h0m50.5 16h0m-120.5-4.5h0m-304.5-18h0m412.5-3.5h0m54 9h0m-138.5 86h0m-88.5-78.5h0m-34.5-4h0m-197-12h0m312 1.5h0m54-2h0m-26 2.5h0m-232.5 20.5h0m-38.5 63h0m324.5-82.5h0m-3.5-5h0m0.5 6h0m-106.5 0h0m-152.5 51.5h0m56-49.5h0m-135.5 57h0m219-23h0m99.5-28.5h0m28.5 14.5h0m-207-10.5h0m-107 52.5h0m315-21h0m0 12h0m-84.5-35.5h0m157.5-15.5h0m-225.5 1h0m139.5 7.5h0m76.5-3h0m-248.5 68.5h0m290-84h0m-269.5 28.5h0m-173.5 100.5h0m401.5-108h0m-396.5 56.5h0m293-26h0m31-45.5h0m-98 58h0m123-47.5h0m12 13h0m-274 19h0m50.5-38h0m19 23.5h0m212.5-29.5h0m9 2h0m-172.5 25h0m27.5-8h0m-127-24h0m284 10.5h0m-215 25.5h0m36-8h0m-12-26.5h0m81 13.5h0m-206 35h0m79.5 2.5h0m127-22.5h0m89.5-26.5h0m-259.5-3h0m181 9h0m142 48.5h0m-229.5-43.5h0m-5 60h0m216-54h0m-105 17h0m174-34h0m-307 4.5h0m84-1.5h0m-66 34h0m-89.5 27h0m320.5-35h0m-50-19h0m-156.5 102h0m35-114h0m159.5 12h0m-247-8h0m107 30.5h0m7 2h0m145.5-32.5h0m-125.5 5.5h0m-3 53.5h0m2.5-39.5h0m90.5-15h0m-113.5 15h0m-29 47.5h0m112.5-44.5h0m5-21h0m-228-2.5h0m172.5 2.5h0m-288-5.5h0m331.5 5.5h0m-163 0.5h0m187 7.5h0m-118 0h0m-45.5 15.5h0m-133-18.5h0m-126 37.5h0m257-10h0m-257.5-24.5h0m187 17.5h0m-181.5 11.5h0m229-25h0m-25 13h0m-78-15h0m108.5 15h0m273 11.5h0m-353.5-10.5h0m-46.5-16.5h0m226-12.5h0m-153-3h0m-16 1.5h0m142.5 23.5h0m6.5 9.5h0m-220.5-13.5h0m340 16.5h0m-274 27h0m253.5 10.5h0m-171.5-26.5h0m-54.5-40.5h0m54 32h0m-1.5-12.5h0m-84-23.5h0m-19.5 24.5h0m309-25.5h0m-6 2.5h0m-89.5 3h0m136.5 1h0m-307 8.5h0m91.5-10.5h0m104.5-1.5h0m-275.5 8.5h0m-28.5 38.5h0m297-25h0m-95 23h0m-22.5 2h0m-5.5-16.5h0m-261.5 1.5h0m249.5-4h0m302.5-20.5h0m-264 40h0m118.5-52h0m-47.5 26h0m-27.5-26h0m102 46h0m-242.5-37h0m-92 34.5h0m128.5-37h0m108-5.5h0m-21.5 29.5h0m-246.5-19h0m179.5-10h0m-23.5 30.5h0m-54.5-22.5h0m302 44h0m-151-15h0m-288 12h0m175.5 5h0m29.5-43h0m-228 25.5h0m314.5-26.5h0m-164 34h0m24.5-19.5h0m-116-11h0m142-7h0m245-9h0m-356 50.5h0m173.5 34h0m-207-64.5h0m89 3h0m256 27h0m-309.5-17.5h0m186-5h0m-14-22.5h0m68.5 5h0m-339.5 13h0m244 21h0m162-34h0m-36.5-2.5h0m-11.5 6h0m-171-6.5h0m-222 110h0m169.5-76.5h0m346-32.5h0m-228.5 5h0m-105 19.5h0m266.5-5.5h0m-251.5 56.5h0m102-78h0m-65 23h0m-8.5-10h0m283 25h0m-257.5-39.5h0m-229.5 9.5h0m113.5 21.5h0m-33.5-32h0m302 34.5h0m-112-24h0m-152.5 90.5h0m-98 18h0m151.5-113.5h0m96-6.5h0m-141.5 53.5h0m198-19h0m-161.5-35h0m0 5.5h0m425 6.5h0m-168.5 9.5h0m-90.5-15.5h0m-176 43.5h0m98-32h0m-236 107.5h0m-30.5 29h0m73.5-138h0m201.5 39h0m140.5-58h0m-259 13h0m-91 62.5h0m286-62h0m116.5-11h0m-235.5 47h0m163.5-39.5h0m215.5 56.5h0m-237 10.5h0m-268-45.5h0m313-3.5h0m-96.5 24h0m93-11.5h0m-88-9h0m164-24.5h0m-449 59h0m367-60h0m-415.5 72h0m406-46.5h0m-249.5 0.5h0m216.5-22h0m-197-2.5h0m113.5-2.5h0m208 4h0m-176 5h0m74-11h0m-68 5.5h0m-48.5 1h0m-215.5 65h0m7-75h0m213 75h0m155-50.5h0m65 9h0m-167.5-12h0m-79.5-6.5h0m-94 23h0m251.5-32.5h0m-143.5 1.5h0m83.5 9h0m-93.5-3.5h0m-57.5 12.5h0m-142.5 10.5h0m163-14h0m207.5 34.5h0m-63.5-33h0m-93.5 6h0m-133 36h0m-104-17.5h0m207.5-6.5h0m-9.5-32.5h0m86.5-4h0m35-3h0m54 18.5h0m8-11h0m-121-0.5h0m-22.5 91.5h0m197.5-53h0m-172-29.5h0m-136 8.5h0m249 0h0m-27.5-8h0m94.5-11h0m-241 15h0m-23 5h0m168.5 28h0m-53.5-35.5h0m115.5-4h0m-290-7.5h0m90 21h0m165.5-15.5h0m-189 9.5h0m220.5-11.5h0m-353-7h0m133 155h0m39 0.5h0m-132-141h0m-3.5 0h0m192.5 0.5h0m-123-2.5h0m137-12h0m8-2.5h0m-285 77h0m211.5 2h0m227-76.5h0m-82.5 9h0m-107 30.5h0m121-31.5h0m-241-5h0m238.5 4h0m-64.5-8h0m116.5-1.5h0m76 4h0m-135.5 4h0m-19.5-9h0m-341.5 21.5h0m16 14h0m5-10h0m240-14.5h0m-98-8h0m303.5 4h0m-498 56h0m-7.5 50h0m286-76.5h0m-24 30h0m133-62.5h0m-116 2.5h0m13.5 14h0m-121.5-17h0m52 17h0m66 62h0m66.5-35.5h0m-5.5-34.5h0m20 3h0m54 46.5h0m-90-62h0m33.5 31.5h0m-64.5 16.5h0m-151 8h0m104.5 0h0m97-13h0m-237 26.5h0m33.5-22h0m5.5-16.5h0m209.5-0.5h0m-56-4.5h0m-80.5 27h0m94.5-45.5h0m119.5 3h0m44.5-2.5h0m-405.5 8.5h0m386-15h0m-89.5 25h0m-351.5 14.5h0m170.5-37h0m29.5 7h0m27.5 24h0m115 40.5h0m85.5-40h0m-105.5 1h0m22.5-22.5h0m59.5 14h0m-233 39.5h0m-211-30.5h0m203-30h0m128.5-6.5h0m-131.5 31.5h0m-5-12h0m102.5-18.5h0m-91 96h0m246-73h0m12 2h0m-152.5-23h0m216.5 8.5h0m-447.5 10.5h0m9-13.5h0m336 19.5h0m-179.5 14.5h0m114-41h0m13.5 4h0m-151.5 21h0m35-23h0m-142-1.5h0m168 8h0m32.5 19h0m-15.5-1.5h0m106.5-19h0m-47 40.5h0m-153.5 51.5h0m180.5-86h0m-24-10h0m-37 52.5h0m-280.5-54.5h0m245.5 8h0m-40 57.5h0m-252-47h0m190-19h0m59-1h0m233 17.5h0m-330 3h0m-124 35.5h0m245.5-58h0m-43.5 18h0m127 10.5h0m22.5 17.5h0m-59.5-42.5h0m176.5 18h0m-35.5-4.5h0m-222 10.5h0m114 12h0m34.5-32.5h0m-307.5 1h0m169 10h0m198.5-4h0m-423 66.5h0m175.5 4h0m184 3h0m-296.5 33h0m312-90.5h0m-31.5-14.5h0m-195-14.5h0m264.5 25.5h0m-427-13.5h0m414-9.5h0m-272 20h0m54.5-18h0m-28-1.5h0m33.5 5h0m154 12.5h0m-83 20.5h0m88.5-6h0m-286 101h0m250.5-59h0m-11.5-50.5h0m34.5-12h0m179.5-8h0m-81 28h0m-99.5-5h0m-102 41h0m-84.5-36.5h0m228.5 11h0m-29-14h0m-314 65h0m35-86h0m437.5 0.5h0m-267.5 2h0m-10 17h0m162 30h0m-136-25h0m80.5 39h0m-153-10.5h0m189 5h0m-89-66.5h0m127.5 58h0m30-49h0m-41-8.5h0m-110 20.5h0m-134 14h0m-89 30.5h0m178.5-61h0m43 18.5h0m-3 23.5h0m-95-37.5h0m81.5 57h0m118-19h0m-132.5 8.5h0m48.5-28.5h0m-96.5 0.5h0m-89.5 84.5h0m206-75h0m201-38h0m-177 25h0m-3 39.5h0m-96-56h0m-264.5 29h0m427.5-15h0m-92 52h0m-172.5-33h0m-135 7h0m226 37h0m5.5-85.5h0m-174 75h0m283-74.5h0m-112.5 15.5h0m-58.5-3.5h0m108-4h0m-242.5 25.5h0m-64.5-26h0m335 5.5h0m-248 127.5h0m-86-132h0m467.5 17.5h0m-225 62h0m131.5-90.5h0m51.5 21.5h0m-253 51.5h0m320-68.5h0m-78 19h0m-242.5 2.5h0m180.5-23h0m37.5 3h0m-71-2.5h0m-290.5 76h0m464-44h0m-342 19h0m-105.5-53.5h0m98.5 13.5h0m238 39h0m36-47h0m-5 29h0m-92 25h0m160.5-55h0m-315.5 9.5h0m-45 76h0m324.5-86h0m-226.5 6.5h0m29.5 45h0m-77 63.5h0m145-104.5h0m-97.5 28h0m-25-42h0m141.5 6h0m-224 25.5h0m82-28h0m299.5-3h0m-422.5 143h0m275-65h0m-260.5-76h0m314 38h0m-35-29.5h0m-169.5 3h0m61.5-10h0m51 59.5h0m-167.5-60.5h0m167.5 59h0m-299.5-8h0m172.5 83.5h0m-82-102h0m15.5 13h0m30.5-25h0m19.5-21h0m258.5 29h0m-76-28h0m70-3h0m-144.5 25.5h0m1-25.5h0m134.5 11h0m-170.5 16.5h0m15-26h0m-268.5 53h0m201.5-15.5h0m128-19.5h0m-34-20.5h0m-154 97.5h0m111.5-67h0m196 4h0m-251-27.5h0m-28 18h0m83 23.5h0m57-16h0m80.5-27h0m-308 43.5h0m53.5 1h0m-128-29h0m65.5 19h0m72.5 82h0m204-68h0m-136-36h0m227.5-10h0m-107.5 37.5h0m118.5-42.5h0m-2-2h0m-213.5 52h0m45.5-23.5h0m166-13h0m-158.5-4.5h0m-19 15h0m-221.5 69.5h0m466-60h0m-277 1.5h0m113.5-34h0m111 17h0m45 19h0m28.5-33.5h0m-196.5 36.5h0m108.5-32.5h0m84.5-5.5h0m-27.5-2.5h0m-399.5 19.5h0m-39 38h0m179.5-28h0m57.5-24h0m-166.5 25.5h0m312-32.5h0m-195 15h0m-118 49.5h0m238-36.5h0m153-28.5h0m-195 13.5h0m-37.5 6h0m127-9.5h0m-283.5 8h0m90.5-19h0m65.5 32.5h0m42.5 38h0m-88.5-53.5h0m-112-15h0m33.5 13h0m2 10h0m28 1h0m184-7.5h0m28.5-9.5h0m-94 47.5h0m180.5-53h0m-223.5-1.5h0m11.5 24.5h0m-146.5 111.5h0m215.5-128h0m-226.5 4.5h0m65 59.5h0m248.5-54.5h0m51-14h0m-67 89.5h0m-149-76h0m101 37.5h0m43-34.5h0m-20.5 6h0m14.5-1.5h0m-16-14h0m-288 22h0m82-21.5h0m186 17h0m-96-20.5h0m-242.5-4.5h0m287 0h0m-160 9.5h0m-129.5 76h0m307-72h0m-298.5 31h0m7.5-15h0m113.5-35.5h0m263 52h0m-220 1.5h0m279-42.5h0m-335 24h0m140 18h0m200-45h0m-104 0.5h0m-64 24h0m-9-23h0m-96.5 16.5h0m225.5 6h0m-422.5-25.5h0m119.5 50h0m51.5-18.5h0m32.5 28.5h0m65-52h0m-53.5 45.5h0m86-33h0m-320-1h0m499.5-25.5h0m-139 34.5h0m109.5 16.5h0m-407.5-16.5h0m236.5 9h0m-189.5-35.5h0m327-1h0m110.5 53.5h0m-320.5-23h0m98.5 2h0m59.5-32h0m-82.5-3h0m-2 23.5h0m-117-13h0m31 94.5h0m182.5-100h0m-274 30h0m-85.5 7.5h0m294-23.5h0m29.5 9.5h0m103.5 7.5h0m-80 20h0m-368 19.5h0m-8.5-39h0m444.5-38.5h0m-12-2.5h0m-70.5 28h0m81.5-6.5h0m-202.5-11h0m-44 5h0m-60.5 123.5h0m270.5-131h0m-374.5 74.5h0m251-75.5h0m251.5 16.5h0m-146.5-2h0m-134-2.5h0m20 50h0m-82.5-52h0m71.5 12.5h0m-132-2h0m186 10.5h0m77.5-30h0m-171.5 50h0m30.5-29.5h0m-9-26.5h0m313 34h0m-386.5-22h0m200.5 8h0m-30.5-14h0m-114.5 12h0m48 56h0m-23.5-38h0m213-36.5h0m-82.5 20.5h0m-156.5-1h0m123-13.5h0m-42 37.5h0m36-37.5h0m-248 38h0m-21 41h0m72-62.5h0m116 43.5h0m33.5-42.5h0m-100.5-17.5h0m-165.5 88h0m227.5-67.5h0m-165.5 26.5h0m286.5-25.5h0m-59-27h0m-74.5 6.5h0m143.5 20h0m9.5-11.5h0m-148.5-8.5h0m84 39.5h0m-26.5-40.5h0m100.5-1.5h0m-357.5 90h0m12.5-82.5h0m207 37h0m133.5-34h0m-94.5-14.5h0m-66.5 11h0m-89-0.5h0m102 63h0m-56-20.5h0m106.5 50h0m-161-103.5h0m264 4.5h0m-364.5 54h0m14-45.5h0m202-1h0m206 46h0m-370.5-54.5h0m298.5 44h0m-158 6.5h0m-38.5-54h0m111.5 10.5h0m90-9.5h0m-47 27.5h0m67.5-24.5h0m-209 5.5h0m44 94h0m119-59h0m47-45.5h0m-170.5 14.5h0m-92.5 17h0m-23.5 117h0m-86.5-109.5h0m111.5-31h0m-22.5 22.5h0m263-29.5h0m1 8.5h0m-44 41h0m-87.5-7h0m186.5-19.5h0m58-4h0m-244.5-2.5h0m190 1h0m-218 39h0m244 1.5h0m-74-30.5h0m-108.5-4.5h0m88.5-20.5h0m-372.5 2h0m372 11h0m-113 41.5h0m-274-43h0m336.5 15h0m-17 17.5h0m-40 15h0m95-29.5h0m92.5-4.5h0m-248.5-19.5h0m76.5-2.5h0m88.5 26.5h0m-382.5-28h0m193.5 8.5h0m235.5 5.5h0m-27-13h0m27.5 20.5h0m-337.5 37h0m-51-59.5h0m199.5 89h0m240.5-77.5h0m-178.5-8h0m97.5 29.5h0m-76.5-12h0m-93-7h0m195-2.5h0m-43 10.5h0m17.5 30h0m-133.5-46h0m-167.5-6h0m181.5 36.5h0m-30.5-25.5h0m187.5-1h0m1 16.5h0m-374.5-6.5h0m154.5 2h0m207-17h0m-289.5 52.5h0m185-15h0m39.5-21h0m108-19.5h0m-326.5 41h0m89-45h0m187.5 6h0m-264 6.5h0m80.5 15.5h0m-215.5 83h0m162-98.5h0m42 29.5h0m132.5-27.5h0m105.5-11h0m-208 17.5h0m250-16.5h0m-214.5 38.5h0m-277.5-41h0m244 3h0m240.5-0.5h0m-291 50h0m322-20h0m-108.5-19.5h0m-11.5-10.5h0m-44.5 7.5h0m56 31h0m-130.5-26.5h0m26 41h0m-67.5 33.5h0m107-35h0m-297.5 26h0m155-76h0m-165-1.5h0m48.5 18h0m-6.5-17.5h0m195.5 54h0m26-44h0m-79.5 71.5h0m27-11.5h0m79.5-21h0m17.5-41.5h0m50-7.5h0m-29 16h0m-151.5-8h0m10.5 17.5h0m-27 3.5h0m375-17.5h0m-225.5 68.5h0m-199 12.5h0m148.5-71.5h0m-123.5-15h0m283.5 5.5h0m-127.5 29h0m-177.5-22h0m240-21h0m114.5 11h0m-321.5-2.5h0m303-9.5h0m-73 11h0m4.5-2.5h0m-358.5-12h0m335 4.5h0m-168.5 3h0m55 11h0m-234 10.5h0m46.5 1h0m193-22.5h0m67 22.5h0m77-18h0m-233.5 29h0m-149-23.5h0m425.5-17.5h0m-82 9.5h0m-9 5h0m-110.5 24h0m-226-24h0m351.5-8.5h0m-139 20h0m113-15h0m-263 5.5h0m375 61h0m-304-36h0m321.5-40.5h0m-73 42h0m30.5-23h0m-270.5 14h0m103.5-18h0m-167.5 7.5h0m-44.5-8.5h0m203 32.5h0m-48.5-45.5h0m164.5 22h0m58.5 8.5h0m-174.5-23.5h0m60 7h0m-18.5 40.5h0m142.5-57h0m-114 62.5h0m72.5-54h0m-110 12h0m-106.5 9h0m-162.5 21h0m119-33.5h0m109.5 17.5h0m-18.5-25.5h0m-8 2h0m102 4h0m-290.5 22h0m138.5-13h0m-16-13.5h0m128.5-2h0m3.5 6h0m-149 22.5h0m-79.5-15h0m-16.5 21.5h0m205.5-22.5h0m83 20.5h0m-43.5 23h0m32 25h0m-170.5-77.5h0m146.5 18h0m-279.5 64.5h0m19-42h0m201-3h0m-33.5-49.5h0m19 42h0m2-42h0m122 44.5h0m-4.5 19.5h0m-126.5-47.5h0m116.5 3h0m-189.5-18.5h0m127.5 21h0m-222 40h0m-27.5-45.5h0m64 23.5h0m175.5 23.5h0m138.5-43h0m-129-2h0m111-5.5h0m-86-3h0m43 77h0m-43.5-73.5h0m-64-10.5h0m235 46h0m-238-17h0m85-21.5h0m49 5h0m-247.5 66h0m197-80h0m-328.5 46h0m379.5-24.5h0m-92.5-19.5h0m-48 9.5h0m217.5 30h0m-193.5 11.5h0m-68.5-45h0m279.5 21h0m-367-23.5h0m115.5 26.5h0m-32-14.5h0m96.5-2.5h0m-127 1.5h0m151-6.5h0m-4 19h0m-85 6.5h0m-1.5-31.5h0m-177 20.5h0m276.5-2.5h0m94-18h0m-107 19.5h0m4-12.5h0m-110.5 45h0m-115-45.5h0m388.5 67h0m-69-65h0m-181.5 14.5h0m-64 40h0m56-50h0m185.5 5h0m-149.5 3.5h0m-41.5-6.5h0m194 28h0m-358.5 103h0m207.5-134h0m-242 2.5h0m11 86h0m58-26.5h0m122-52.5h0m4.5-17h0m48.5 14.5h0m172.5-9.5h0m3 6.5h0m-265.5 96h0m-122.5-108.5h0m124 44.5h0m151-16.5h0m-190.5 28h0m217.5-36.5h0m-102.5 22h0m-103-28.5h0m327-7.5h0m-420-7.5h0m427.5 1h0m-215-2h0m-84.5 43.5h0m147.5-40.5h0m-126 44.5h0m219.5-52.5h0m-285 3.5h0m15 19h0m343.5-11.5h0m-251.5-2.5h0m30.5-6h0m210.5 18h0m-94.5-2h0m-251 11h0m159.5-7.5h0m12.5 19h0m-85.5 14.5h0m83-18.5h0m107.5-17h0m-214.5-20.5h0m199.5 3h0m-313 29.5h0m257.5-26h0m-112 2h0m-3 22h0m196.5-1h0m-102.5-24h0m31 4h0m-344.5 12.5h0m233-2.5h0m-166-15.5h0m37 6.5h0m117.5 43.5h0m-35.5-38h0m-178 12h0m334.5 15.5h0m116-26.5h0m-125-10.5h0m116 21.5h0m-93.5-18.5h0m-262 54h0m3-33h0m245.5-19.5h0m-41.5 0h0m60.5 42h0m-341.5-36h0m231.5-11h0m178-4h0m-405 6.5h0m175.5 42.5h0m242-51.5h0m-461.5 95h0m73.5-87h0m108 3h0m-18 23.5h0m-67-33h0m66.5 7.5h0m15 64h0m-8-60.5h0m175 45.5h0m109-48h0m-99 2h0m-182.5-9.5h0m126.5 71.5h0m32.5-57.5h0m102 12.5h0m-22-21.5h0m-393.5 56h0m159.5 59h0m263.5-87.5h0m-190 10h0m-164-39h0m285 34h0m-50.5-29h0m-23.5 63h0m46.5-58.5h0m-106 50.5h0m-180.5-40.5h0m285.5-17h0m-326 3h0m73.5 31.5h0m379-32.5h0m-159 0.5h0m217.5 4h0m-197.5 9h0m-30-24h0m148 47.5h0m-244.5 89h0m31-102h0m-169.5-16h0m34-6.5h0m299-7.5h0m1 33h0m-167.5 0h0m80.5-31.5h0m48.5 3h0m-320-8h0m224 6.5h0m-210.5 40h0m290.5 2.5h0m200-39h0m-199.5 43.5h0m-175-38.5h0m-69.5-2.5h0m186-13h0m-64.5 11.5h0m19.5 92h0m-23.5-49h0m34-42.5h0m91.5 36h0m-273 110.5h0m379.5-157.5h0m-239.5 16.5h0m21.5 50h0m-16.5 39h0m109.5-92h0m-231.5 57.5h0m240-63h0m50 79h0m-138.5-87h0m120.5 6.5h0m33 21h0m-43.5-21.5h0m-239-7.5h0m67.5 22.5h0m103 3.5h0m127 7h0m-222 81h0m162.5-112.5h0m-51 12.5h0m-164 143h0m123-121.5h0m59.5-25h0m29.5-5h0m-238.5 31h0m160.5-5.5h0m12.5 89h0m124-116h0m67.5 47.5h0m-159-44h0m117.5-6.5h0m-398 22h0m334.5 1h0m52.5 18h0m50-40h0m-295 65h0m147-64h0m105.5 43h0m-202.5-32.5h0m287.5-5.5h0m-68.5 14h0m-204-10.5h0m178.5 31.5h0m-88 66h0m-115.5-90h0m161 15h0m-110.5 58h0m57 51h0m-5.5-141h0m75.5 13h0m3 20h0m82-20.5h0m-47 50h0m-310.5 40h0m56.5-101.5h0m248.5 2h0m-182.5 118.5h0m168-112.5h0m-179.5-5.5h0m-45.5 43.5h0m70-7.5h0m83-30h0m-318.5 137h0m356-139.5h0m14 37h0m39-39.5h0m-165 22h0m17.5-11h0m-132.5 3h0m107.5-7.5h0m-40.5 1h0m-95 83h0m23-91.5h0m51.5 48.5h0m190-39.5h0m-36.5-9.5h0m11.5 33h0m-10.5-26h0m12.5-10h0m-121 54h0m9-35.5h0m-137 80h0m125-78h0m193-11.5h0m-6.5-6h0m22.5-2h0m-83.5 17h0m-241-4.5h0m274 11h0m42 25.5h0m-445-4h0m130 3.5h0m27.5 10h0m-134-46.5h0m96 15.5h0m375-27h0m-223.5 45h0m-243.5-45.5h0m-46 28h0m566-27h0m-113 18h0m-128.5 6h0m-162.5-20.5h0m202 48h0m-114-37h0m-29.5 91h0m166.5-68h0m-296.5 66.5h0m160.5-105.5h0m182 9h0m-70.5-1h0m145.5-5.5h0m-138 7.5h0m-19 4.5h0m-29-4h0m100 6.5h0m-195 51.5h0m-88.5-71h0m235.5 9h0m-40.5 1.5h0m-199 19.5h0m-85.5 116h0m9.5-134h0m297 10.5h0m-52.5-15h0m105.5 7.5h0m-381.5-1h0m327 3h0m-10-12h0m-217.5 75.5h0m214-61h0m-135.5-12h0m164 42h0m-324.5-43h0m280 33.5h0m-70.5-29h0m193.5 2h0m-115.5 24h0m-179-22h0m306 3h0m-89-6.5h0m-285 63h0m336-66.5h0m-318 2.5h0m119-5.5h0m227 1.5h0m-158-2h0m117 0.5h0m-7.5 4h0m171.5-5.5h0m-224.5 29.5h0m48.5-11.5h0m-26 7.5h0m86.5-19.5h0m-335.5 44h0m227.5-34h0m123-13h0m-176-6.5h0m135.5 96.5h0m-101-72h0m19 95h0m-178-106h0m-109.5-6h0m425-4h0m-272 88.5h0m3.5-89.5h0m-4 6h0m33.5 41h0m99.5-38h0m-176.5 27h0m269-23.5h0m-38.5-11h0m-22.5-4h0m-373.5 29h0m377-10.5h0m53-3h0m-32.5 12.5h0m90-5h0m-89.5 16.5h0m-261.5-4.5h0m74-7.5h0m226.5-16.5h0m-221-5.5h0m159.5 72h0m11.5-39.5h0m-32-30.5h0m-46.5 2h0m182.5 12.5h0m50.5 17h0m-260.5-33h0m73.5 16.5h0m-77 30h0m93-4h0m-51.5-31.5h0m201-16.5h0m-228.5 3.5h0m-17.5-0.5h0m-254 42.5h0m231.5-39.5h0m202 6h0m-286.5 9h0m149-18.5h0m10 60.5h0m-15-15.5h0m11.5-40.5h0m100-2h0m-90 2.5h0m-328.5 0h0m196 3h0m30 1h0m171.5 4.5h0m-251.5 1.5h0m-85 1.5h0m41.5 221h0m-88-47.5h0m154.5-4h0m53-8.5h0m42 24.5h0m102-5h0m52.5-9h0m-428-32.5h0m53 11h0m105.5 4h0m464-115h0" stroke="#0000ff" stroke-width="3.3" stroke-linecap="round" fill="none"/>
<rect x="1133.9" y="52.8" width="758.4" height="576.4" fill="none" stroke="#555555" stroke-width="1.6"/>
<line x1="1152.4" y1="629.2" x2="1152.4" y2="633.2" stroke="#333" stroke-width="1.3"/>
<text x="1162" y="660.5" font-size="28.5" text-anchor="middle">−2.5</text>
<line x1="1299.2" y1="629.2" x2="1299.2" y2="633.2" stroke="#333" stroke-width="1.3"/>
<text x="1302.6" y="660.5" font-size="28.5" text-anchor="middle">0.0</text>
<line x1="1446" y1="629.2" x2="1446" y2="633.2" stroke="#333" stroke-width="1.3"/>
<text x="1449.3" y="660.5" font-size="28.5" text-anchor="middle">2.5</text>
<line x1="1592.8" y1="629.2" x2="1592.8" y2="633.2" stroke="#333" stroke-width="1.3"/>
<text x="1597.2" y="660.5" font-size="28.5" text-anchor="middle">5.0</text>
<line x1="1739.7" y1="629.2" x2="1739.7" y2="633.2" stroke="#333" stroke-width="1.3"/>
<text x="1743.4" y="660.5" font-size="28.5" text-anchor="middle">7.5</text>
<line x1="1886.5" y1="629.2" x2="1886.5" y2="633.2" stroke="#333" stroke-width="1.3"/>
<text x="1897" y="660.5" font-size="28.5" text-anchor="middle">10.0</text>
<line x1="1129.9" y1="175.9" x2="1133.9" y2="175.9" stroke="#333" stroke-width="1.3"/>
<text x="1107.5" y="183.3" font-size="28.5" text-anchor="end">4</text>
<line x1="1129.9" y1="324.3" x2="1133.9" y2="324.3" stroke="#333" stroke-width="1.3"/>
<text x="1107.5" y="331.7" font-size="28.5" text-anchor="end">0</text>
<line x1="1129.9" y1="472.7" x2="1133.9" y2="472.7" stroke="#333" stroke-width="1.3"/>
<text x="1119" y="480.1" font-size="28.5" text-anchor="end">−4</text>
<line x1="1129.9" y1="621.1" x2="1133.9" y2="621.1" stroke="#333" stroke-width="1.3"/>
<text x="1119" y="628.5" font-size="28.5" text-anchor="end">−8</text>
<text x="1484.8" y="322" font-size="28.5">CRX</text>
<line x1="1441.3" y1="359.9" x2="1481.3" y2="319.9" stroke="#000" stroke-width="2"/>
<text x="1340.1" y="505.6" font-size="28.5">NRL</text>
<line x1="1362.5" y1="481" x2="1402.8" y2="441" stroke="#000" stroke-width="2"/>
<text x="1689.3" y="304.5" font-size="28.5">OTX2</text>
<line x1="1718.3" y1="304.5" x2="1756" y2="343.7" stroke="#000" stroke-width="2"/>
<text x="1598.5" y="542.4" font-size="28.5">NEUROD1</text>
<line x1="1649.5" y1="519.2" x2="1686.4" y2="472" stroke="#000" stroke-width="2"/>
<text x="1813.4" y="496.6" font-size="28.5">MYC</text>
<line x1="1795.1" y1="424.1" x2="1828.5" y2="469.9" stroke="#000" stroke-width="2"/>
<text x="1505" y="37.1" font-size="28.5" text-anchor="middle">D458</text>
<text x="1510" y="700.6" font-size="29" text-anchor="middle">log2(FPKM)</text>
<text x="0" y="0" font-size="29" text-anchor="middle" transform="translate(1065 305.3) rotate(-90)">log2(Foldchage)</text>
<text x="1054.3" y="26.7" font-size="38" font-weight="bold">B</text>
<text x="1" y="777.5" font-size="38" font-weight="bold">C</text>
<line x1="201.5" y1="891.1" x2="201.5" y2="908.9" stroke="#0000ff" stroke-width="1.8"/>
<line x1="189" y1="891.1" x2="214" y2="891.1" stroke="#0000ff" stroke-width="1.8"/>
<rect x="176.6" y="908.9" width="49.8" height="222.7" fill="#0000ff"/>
<line x1="278.6" y1="1085.5" x2="278.6" y2="1090.4" stroke="#ff0000" stroke-width="1.8"/>
<line x1="266.1" y1="1085.5" x2="291.1" y2="1085.5" stroke="#ff0000" stroke-width="1.8"/>
<rect x="253.7" y="1090.4" width="49.8" height="41.2" fill="#ff0000"/>
<line x1="355.9" y1="879.9" x2="355.9" y2="908.9" stroke="#00c000" stroke-width="1.8"/>
<line x1="343.4" y1="879.9" x2="368.4" y2="879.9" stroke="#00c000" stroke-width="1.8"/>
<rect x="331" y="908.9" width="49.8" height="222.7" fill="#00c000"/>
<line x1="432.9" y1="1110.4" x2="432.9" y2="1112" stroke="#a000e8" stroke-width="1.8"/>
<line x1="420.4" y1="1110.4" x2="445.4" y2="1110.4" stroke="#a000e8" stroke-width="1.8"/>
<rect x="408" y="1112" width="49.8" height="19.6" fill="#a000e8"/>
<line x1="150.3" y1="796.3" x2="150.3" y2="1134.6" stroke="#000" stroke-width="2.5"/>
<line x1="148.8" y1="1131.6" x2="486.8" y2="1131.6" stroke="#000" stroke-width="2.7"/>
<line x1="135.3" y1="1131.6" x2="150.3" y2="1131.6" stroke="#000" stroke-width="2.4"/>
<text x="133.5" y="1141.2" font-size="28" text-anchor="end">0.0</text>
<line x1="135.3" y1="1020.2" x2="150.3" y2="1020.2" stroke="#000" stroke-width="2.4"/>
<text x="133.5" y="1029.8" font-size="28" text-anchor="end">0.5</text>
<line x1="135.3" y1="908.9" x2="150.3" y2="908.9" stroke="#000" stroke-width="2.4"/>
<text x="133.5" y="918.5" font-size="28" text-anchor="end">1.0</text>
<line x1="135.3" y1="797.5" x2="150.3" y2="797.5" stroke="#000" stroke-width="2.4"/>
<text x="133.5" y="807.1" font-size="28" text-anchor="end">1.5</text>
<text x="305.6" y="811.8" font-size="28" text-anchor="middle">HDMB03</text>
<text x="279.7" y="1080" font-size="28" text-anchor="middle">**</text>
<text x="441.7" y="1102" font-size="28" text-anchor="middle">***</text>
<line x1="625.6" y1="896.6" x2="625.6" y2="912.8" stroke="#0000ff" stroke-width="1.8"/>
<line x1="613.1" y1="896.6" x2="638.1" y2="896.6" stroke="#0000ff" stroke-width="1.8"/>
<rect x="600.7" y="912.8" width="49.8" height="222.6" fill="#0000ff"/>
<line x1="702.8" y1="1123.2" x2="702.8" y2="1127.6" stroke="#ff0000" stroke-width="1.8"/>
<line x1="690.2" y1="1123.2" x2="715.2" y2="1123.2" stroke="#ff0000" stroke-width="1.8"/>
<rect x="677.7" y="1127.6" width="50.1" height="7.8" fill="#ff0000"/>
<line x1="779.5" y1="906.6" x2="779.5" y2="912.8" stroke="#00c000" stroke-width="1.8"/>
<line x1="767" y1="906.6" x2="792" y2="906.6" stroke="#00c000" stroke-width="1.8"/>
<rect x="754.5" y="912.8" width="50" height="222.6" fill="#00c000"/>
<line x1="856.7" y1="1134.5" x2="856.7" y2="1134.7" stroke="#a000e8" stroke-width="1.8"/>
<line x1="844.2" y1="1134.5" x2="869.2" y2="1134.5" stroke="#a000e8" stroke-width="1.8"/>
<rect x="833" y="1134.7" width="47.4" height="0.7" fill="#a000e8"/>
<line x1="574.3" y1="800.3" x2="574.3" y2="1138.4" stroke="#000" stroke-width="2.5"/>
<line x1="572.8" y1="1135.4" x2="910.6" y2="1135.4" stroke="#000" stroke-width="2.7"/>
<line x1="559.3" y1="1135.4" x2="574.3" y2="1135.4" stroke="#000" stroke-width="2.4"/>
<text x="557.5" y="1145" font-size="28" text-anchor="end">0.0</text>
<line x1="559.3" y1="1024.1" x2="574.3" y2="1024.1" stroke="#000" stroke-width="2.4"/>
<text x="557.5" y="1033.7" font-size="28" text-anchor="end">0.5</text>
<line x1="559.3" y1="912.8" x2="574.3" y2="912.8" stroke="#000" stroke-width="2.4"/>
<text x="557.5" y="922.4" font-size="28" text-anchor="end">1.0</text>
<line x1="559.3" y1="801.5" x2="574.3" y2="801.5" stroke="#000" stroke-width="2.4"/>
<text x="557.5" y="811.1" font-size="28" text-anchor="end">1.5</text>
<text x="735" y="813.2" font-size="28" text-anchor="middle">D458</text>
<text x="707" y="1115.2" font-size="28" text-anchor="middle">***</text>
<text x="860.8" y="1124.7" font-size="28" text-anchor="middle">***</text>
<line x1="1055.3" y1="900.9" x2="1055.3" y2="912" stroke="#0000ff" stroke-width="1.8"/>
<line x1="1042.8" y1="900.9" x2="1067.8" y2="900.9" stroke="#0000ff" stroke-width="1.8"/>
<rect x="1030.1" y="912" width="50.4" height="222.5" fill="#0000ff"/>
<line x1="1132.7" y1="1130.5" x2="1132.7" y2="1132.7" stroke="#ff0000" stroke-width="1.8"/>
<line x1="1120.2" y1="1130.5" x2="1145.2" y2="1130.5" stroke="#ff0000" stroke-width="1.8"/>
<rect x="1107.5" y="1132.7" width="50.3" height="1.8" fill="#ff0000"/>
<line x1="1209.5" y1="899.8" x2="1209.5" y2="912" stroke="#00c000" stroke-width="1.8"/>
<line x1="1197" y1="899.8" x2="1222" y2="899.8" stroke="#00c000" stroke-width="1.8"/>
<rect x="1184.5" y="912" width="50.1" height="222.5" fill="#00c000"/>
<line x1="1286.6" y1="1131.8" x2="1286.6" y2="1133.6" stroke="#a000e8" stroke-width="1.8"/>
<line x1="1274.1" y1="1131.8" x2="1299.1" y2="1131.8" stroke="#a000e8" stroke-width="1.8"/>
<rect x="1261.2" y="1133.6" width="50.7" height="0.9" fill="#a000e8"/>
<line x1="1004.4" y1="799.5" x2="1004.4" y2="1137.5" stroke="#000" stroke-width="2.5"/>
<line x1="1002.9" y1="1134.5" x2="1340.9" y2="1134.5" stroke="#000" stroke-width="2.7"/>
<line x1="989.4" y1="1134.5" x2="1004.4" y2="1134.5" stroke="#000" stroke-width="2.4"/>
<text x="987.5" y="1144.1" font-size="28" text-anchor="end">0.0</text>
<line x1="989.4" y1="1023.2" x2="1004.4" y2="1023.2" stroke="#000" stroke-width="2.4"/>
<text x="987.5" y="1032.8" font-size="28" text-anchor="end">0.5</text>
<line x1="989.4" y1="912" x2="1004.4" y2="912" stroke="#000" stroke-width="2.4"/>
<text x="987.5" y="921.6" font-size="28" text-anchor="end">1.0</text>
<line x1="989.4" y1="800.8" x2="1004.4" y2="800.8" stroke="#000" stroke-width="2.4"/>
<text x="987.5" y="810.4" font-size="28" text-anchor="end">1.5</text>
<text x="1175.5" y="811.8" font-size="28" text-anchor="middle">D425</text>
<text x="1136.8" y="1110.8" font-size="28" text-anchor="middle">***</text>
<text x="1291.4" y="1122.9" font-size="28" text-anchor="middle">***</text>
<text font-size="28" text-anchor="middle" transform="translate(86 961.8) rotate(-90)">Relative <tspan font-style="italic">NEUROD1</tspan> mRNA</text>
<rect x="1400" y="815.1" width="35.3" height="17.6" fill="#0000ff"/>
<text x="1456.2" y="832" font-size="28.6">DMSO_8h</text>
<rect x="1400" y="860.3" width="35.3" height="17.6" fill="#ff0000"/>
<text x="1456.2" y="877.2" font-size="28.6">CBL0137_1uM_8h</text>
<rect x="1400" y="905.5" width="35.3" height="17.6" fill="#00c000"/>
<text x="1456.2" y="922.4" font-size="28.6">DMSO_24h</text>
<rect x="1400" y="950.7" width="35.3" height="17.6" fill="#a000e8"/>
<text x="1456.2" y="967.6" font-size="28.6">CBL0137_1uM_24h</text>
<rect x="31" y="1246" width="444.5" height="254" fill="#ededed"/>
<rect x="82" y="1249.7" width="388.6" height="248.3" fill="#fff"/>
<line x1="128.4" y1="1251.7" x2="128.4" y2="1424.4" stroke="#cfcfcf" stroke-width="1" stroke-dasharray="2.5 3"/>
<line x1="174.8" y1="1251.7" x2="174.8" y2="1424.4" stroke="#cfcfcf" stroke-width="1" stroke-dasharray="2.5 3"/>
<line x1="221.2" y1="1251.7" x2="221.2" y2="1424.4" stroke="#cfcfcf" stroke-width="1" stroke-dasharray="2.5 3"/>
<line x1="267.6" y1="1251.7" x2="267.6" y2="1424.4" stroke="#cfcfcf" stroke-width="1" stroke-dasharray="2.5 3"/>
<line x1="314" y1="1251.7" x2="314" y2="1424.4" stroke="#cfcfcf" stroke-width="1" stroke-dasharray="2.5 3"/>
<line x1="360.4" y1="1251.7" x2="360.4" y2="1424.4" stroke="#cfcfcf" stroke-width="1" stroke-dasharray="2.5 3"/>
<line x1="406.8" y1="1251.7" x2="406.8" y2="1424.4" stroke="#cfcfcf" stroke-width="1" stroke-dasharray="2.5 3"/>
<line x1="453.2" y1="1251.7" x2="453.2" y2="1424.4" stroke="#cfcfcf" stroke-width="1" stroke-dasharray="2.5 3"/>
<line x1="82" y1="1410.5" x2="470.6" y2="1410.5" stroke="#cfcfcf" stroke-width="1" stroke-dasharray="2.5 3"/>
<line x1="78" y1="1410.5" x2="82" y2="1410.5" stroke="#555" stroke-width="1"/>
<text x="76.5" y="1414.1" font-size="10" text-anchor="end" font-family="'Liberation Sans', Arial, sans-serif" fill="#2a2a2a">0.0</text>
<line x1="82" y1="1386.7" x2="470.6" y2="1386.7" stroke="#cfcfcf" stroke-width="1" stroke-dasharray="2.5 3"/>
<line x1="78" y1="1386.7" x2="82" y2="1386.7" stroke="#555" stroke-width="1"/>
<text x="76.5" y="1390.2" font-size="10" text-anchor="end" font-family="'Liberation Sans', Arial, sans-serif" fill="#2a2a2a">0.1</text>
<line x1="82" y1="1362.8" x2="470.6" y2="1362.8" stroke="#cfcfcf" stroke-width="1" stroke-dasharray="2.5 3"/>
<line x1="78" y1="1362.8" x2="82" y2="1362.8" stroke="#555" stroke-width="1"/>
<text x="76.5" y="1366.4" font-size="10" text-anchor="end" font-family="'Liberation Sans', Arial, sans-serif" fill="#2a2a2a">0.2</text>
<line x1="82" y1="1339" x2="470.6" y2="1339" stroke="#cfcfcf" stroke-width="1" stroke-dasharray="2.5 3"/>
<line x1="78" y1="1339" x2="82" y2="1339" stroke="#555" stroke-width="1"/>
<text x="76.5" y="1342.5" font-size="10" text-anchor="end" font-family="'Liberation Sans', Arial, sans-serif" fill="#2a2a2a">0.3</text>
<line x1="82" y1="1315.1" x2="470.6" y2="1315.1" stroke="#cfcfcf" stroke-width="1" stroke-dasharray="2.5 3"/>
<line x1="78" y1="1315.1" x2="82" y2="1315.1" stroke="#555" stroke-width="1"/>
<text x="76.5" y="1318.7" font-size="10" text-anchor="end" font-family="'Liberation Sans', Arial, sans-serif" fill="#2a2a2a">0.4</text>
<line x1="82" y1="1291.2" x2="470.6" y2="1291.2" stroke="#cfcfcf" stroke-width="1" stroke-dasharray="2.5 3"/>
<line x1="78" y1="1291.2" x2="82" y2="1291.2" stroke="#555" stroke-width="1"/>
<text x="76.5" y="1294.8" font-size="10" text-anchor="end" font-family="'Liberation Sans', Arial, sans-serif" fill="#2a2a2a">0.5</text>
<line x1="82" y1="1267.4" x2="470.6" y2="1267.4" stroke="#cfcfcf" stroke-width="1" stroke-dasharray="2.5 3"/>
<line x1="78" y1="1267.4" x2="82" y2="1267.4" stroke="#555" stroke-width="1"/>
<text x="76.5" y="1271" font-size="10" text-anchor="end" font-family="'Liberation Sans', Arial, sans-serif" fill="#2a2a2a">0.6</text>
<line x1="82" y1="1410.5" x2="470.6" y2="1410.5" stroke="#8a8a8a" stroke-width="1.4"/>
<rect x="82" y="1426.8" width="29.4" height="56" fill="#000"/>
<rect x="310" y="1426.8" width="8.7" height="56" fill="#000"/>
<rect x="410" y="1426.8" width="3.5" height="56" fill="#000"/>
<path d="M112.8 1426.8h1.2V1482.8h-1.2zM114.9 1426.8h1.2V1482.8h-1.2zM117.4 1426.8h1.2V1482.8h-1.2zM119 1426.8h1.8V1482.8h-1.8zM122 1426.8h1V1482.8h-1zM123.7 1426.8h1.2V1482.8h-1.2zM125.9 1426.8h1.2V1482.8h-1.2zM127.8 1426.8h1V1482.8h-1zM129.8 1426.8h1.8V1482.8h-1.8zM132.7 1426.8h3V1482.8h-3zM136.9 1426.8h1.4V1482.8h-1.4zM139.7 1426.8h1.2V1482.8h-1.2zM141.7 1426.8h2.4V1482.8h-2.4zM148.7 1426.8h1V1482.8h-1zM150 1426.8h1.4V1482.8h-1.4zM153 1426.8h1.2V1482.8h-1.2zM154.5 1426.8h1.4V1482.8h-1.4zM161.9 1426.8h2.1V1482.8h-2.1zM165 1426.8h1.2V1482.8h-1.2zM167.6 1426.8h3V1482.8h-3zM175.6 1426.8h1.2V1482.8h-1.2zM179.1 1426.8h3V1482.8h-3zM187.8 1426.8h1.2V1482.8h-1.2zM190.5 1426.8h1V1482.8h-1zM192.9 1426.8h1V1482.8h-1zM194.5 1426.8h1.2V1482.8h-1.2zM197 1426.8h1V1482.8h-1zM201 1426.8h3V1482.8h-3zM208.1 1426.8h1.8V1482.8h-1.8zM211 1426.8h1.4V1482.8h-1.4zM213.9 1426.8h1V1482.8h-1zM215.3 1426.8h2.4V1482.8h-2.4zM220.6 1426.8h1.2V1482.8h-1.2zM232 1426.8h3V1482.8h-3zM252.4 1426.8h1.4V1482.8h-1.4zM262.1 1426.8h1.2V1482.8h-1.2zM266.5 1426.8h1.2V1482.8h-1.2zM278.4 1426.8h1.2V1482.8h-1.2zM282.1 1426.8h2.4V1482.8h-2.4zM290.7 1426.8h1.4V1482.8h-1.4zM294.2 1426.8h1.4V1482.8h-1.4zM296.6 1426.8h1.2V1482.8h-1.2zM299.5 1426.8h1V1482.8h-1zM304.5 1426.8h1.8V1482.8h-1.8zM307.7 1426.8h1V1482.8h-1zM329.7 1426.8h1.2V1482.8h-1.2zM332.1 1426.8h1V1482.8h-1zM333.6 1426.8h1.8V1482.8h-1.8zM337.5 1426.8h1V1482.8h-1zM341.1 1426.8h1.8V1482.8h-1.8zM350.5 1426.8h1.8V1482.8h-1.8zM352.6 1426.8h1V1482.8h-1zM353.8 1426.8h1.4V1482.8h-1.4zM355.9 1426.8h1.2V1482.8h-1.2zM357.3 1426.8h1.4V1482.8h-1.4zM359.8 1426.8h3V1482.8h-3zM363.9 1426.8h0.5V1482.8h-0.5zM369.3 1426.8h1.2V1482.8h-1.2zM373.5 1426.8h1.2V1482.8h-1.2zM379.3 1426.8h1.4V1482.8h-1.4zM380.8 1426.8h1.2V1482.8h-1.2zM382.3 1426.8h1.8V1482.8h-1.8zM384.7 1426.8h1.4V1482.8h-1.4zM386.3 1426.8h1.2V1482.8h-1.2zM387.9 1426.8h1V1482.8h-1zM389.3 1426.8h1V1482.8h-1zM390.5 1426.8h2.4V1482.8h-2.4zM395.2 1426.8h1V1482.8h-1zM396.5 1426.8h2.4V1482.8h-2.4zM399.9 1426.8h0.4V1482.8h-0.4zM406.2 1426.8h0.8V1482.8h-0.8zM417.1 1426.8h1.4V1482.8h-1.4zM422.8 1426.8h1.2V1482.8h-1.2zM424.4 1426.8h3V1482.8h-3zM434.5 1426.8h1.8V1482.8h-1.8zM437.6 1426.8h1.8V1482.8h-1.8zM442.1 1426.8h1.2V1482.8h-1.2zM444 1426.8h1V1482.8h-1zM447.2 1426.8h1.8V1482.8h-1.8zM449.6 1426.8h1.4V1482.8h-1.4z" fill="#000"/>
<path d="M145.5 1426.8h1.2V1482.8h-1.2zM147.4 1426.8h1V1482.8h-1zM156.2 1426.8h2.4V1482.8h-2.4zM160.6 1426.8h1V1482.8h-1zM199 1426.8h1.2V1482.8h-1.2zM224.4 1426.8h1.4V1482.8h-1.4zM301.8 1426.8h1.8V1482.8h-1.8zM327.7 1426.8h1V1482.8h-1zM339.3 1426.8h1V1482.8h-1zM393.9 1426.8h1V1482.8h-1zM404.1 1426.8h1.4V1482.8h-1.4zM419.7 1426.8h1.8V1482.8h-1.8zM429.6 1426.8h1.4V1482.8h-1.4zM433 1426.8h1V1482.8h-1zM440.5 1426.8h1.4V1482.8h-1.4zM445.3 1426.8h1.2V1482.8h-1.2z" fill="#6a6a6a"/>
<rect x="82" y="1483.3" width="1.4" height="14.7" fill="#1b0000"/>
<rect x="83" y="1483.3" width="1.4" height="14.7" fill="#2c0505"/>
<rect x="84" y="1483.3" width="1.4" height="14.7" fill="#3c0a0a"/>
<rect x="85" y="1483.3" width="1.4" height="14.7" fill="#4f1010"/>
<rect x="86" y="1483.3" width="1.4" height="14.7" fill="#621818"/>
<rect x="87" y="1483.3" width="1.4" height="14.7" fill="#6c1c1c"/>
<rect x="88" y="1483.3" width="1.4" height="14.7" fill="#701e1e"/>
<rect x="89" y="1483.3" width="1.4" height="14.7" fill="#7b2121"/>
<rect x="90" y="1483.3" width="1.4" height="14.7" fill="#8e2727"/>
<rect x="91" y="1483.3" width="1.4" height="14.7" fill="#7e2323"/>
<rect x="92" y="1483.3" width="1.4" height="14.7" fill="#832525"/>
<rect x="93" y="1483.3" width="1.4" height="14.7" fill="#992c2c"/>
<rect x="94" y="1483.3" width="1.4" height="14.7" fill="#992c2c"/>
<rect x="95" y="1483.3" width="1.4" height="14.7" fill="#a93131"/>
<rect x="96" y="1483.3" width="1.4" height="14.7" fill="#a33030"/>
<rect x="97" y="1483.3" width="1.4" height="14.7" fill="#b93737"/>
<rect x="98" y="1483.3" width="1.4" height="14.7" fill="#cb3d3d"/>
<rect x="99" y="1483.3" width="1.4" height="14.7" fill="#d23f3f"/>
<rect x="100" y="1483.3" width="1.4" height="14.7" fill="#d54444"/>
<rect x="101" y="1483.3" width="1.4" height="14.7" fill="#dd4747"/>
<rect x="102" y="1483.3" width="1.4" height="14.7" fill="#ea4b4b"/>
<rect x="103" y="1483.3" width="1.4" height="14.7" fill="#f34f4f"/>
<rect x="104" y="1483.3" width="1.4" height="14.7" fill="#d84646"/>
<rect x="105" y="1483.3" width="1.4" height="14.7" fill="#d94747"/>
<rect x="106" y="1483.3" width="1.4" height="14.7" fill="#ed4d4d"/>
<rect x="107" y="1483.3" width="1.4" height="14.7" fill="#df4949"/>
<rect x="108" y="1483.3" width="1.4" height="14.7" fill="#d84747"/>
<rect x="109" y="1483.3" width="1.4" height="14.7" fill="#ee4e4e"/>
<rect x="110" y="1483.3" width="1.4" height="14.7" fill="#d24545"/>
<rect x="111" y="1483.3" width="1.4" height="14.7" fill="#dd4949"/>
<rect x="112" y="1483.3" width="1.4" height="14.7" fill="#ee4f4f"/>
<rect x="113" y="1483.3" width="1.4" height="14.7" fill="#de4a4a"/>
<rect x="114" y="1483.3" width="1.4" height="14.7" fill="#ec4f4f"/>
<rect x="115" y="1483.3" width="1.4" height="14.7" fill="#d84848"/>
<rect x="116" y="1483.3" width="1.4" height="14.7" fill="#ed4f4f"/>
<rect x="117" y="1483.3" width="1.4" height="14.7" fill="#ea4e4e"/>
<rect x="118" y="1483.3" width="1.4" height="14.7" fill="#f75353"/>
<rect x="119" y="1483.3" width="1.4" height="14.7" fill="#e44d4d"/>
<rect x="120" y="1483.3" width="1.4" height="14.7" fill="#e34c4c"/>
<rect x="121" y="1483.3" width="1.4" height="14.7" fill="#e64e4e"/>
<rect x="122" y="1483.3" width="1.4" height="14.7" fill="#f25252"/>
<rect x="123" y="1483.3" width="1.4" height="14.7" fill="#e04c4c"/>
<rect x="124" y="1483.3" width="1.4" height="14.7" fill="#e64e4e"/>
<rect x="125" y="1483.3" width="1.4" height="14.7" fill="#fd5656"/>
<rect x="126" y="1483.3" width="1.4" height="14.7" fill="#f15252"/>
<rect x="127" y="1483.3" width="1.4" height="14.7" fill="#f05252"/>
<rect x="128" y="1483.3" width="1.4" height="14.7" fill="#e44e4e"/>
<rect x="129" y="1483.3" width="1.4" height="14.7" fill="#f35353"/>
<rect x="130" y="1483.3" width="1.4" height="14.7" fill="#de4c4c"/>
<rect x="131" y="1483.3" width="1.4" height="14.7" fill="#da4b4b"/>
<rect x="132" y="1483.3" width="1.4" height="14.7" fill="#e14e4e"/>
<rect x="133" y="1483.3" width="1.4" height="14.7" fill="#fa5757"/>
<rect x="134" y="1483.3" width="1.4" height="14.7" fill="#ed5252"/>
<rect x="135" y="1483.3" width="1.4" height="14.7" fill="#e24f4f"/>
<rect x="136" y="1483.3" width="1.4" height="14.7" fill="#e85151"/>
<rect x="137" y="1483.3" width="1.4" height="14.7" fill="#f15454"/>
<rect x="138" y="1483.3" width="1.4" height="14.7" fill="#f95757"/>
<rect x="139" y="1483.3" width="1.4" height="14.7" fill="#db4d4d"/>
<rect x="140" y="1483.3" width="1.4" height="14.7" fill="#fb5858"/>
<rect x="141" y="1483.3" width="1.4" height="14.7" fill="#f75757"/>
<rect x="142" y="1483.3" width="1.4" height="14.7" fill="#e65151"/>
<rect x="143" y="1483.3" width="1.4" height="14.7" fill="#ea5353"/>
<rect x="144" y="1483.3" width="1.4" height="14.7" fill="#f45656"/>
<rect x="145" y="1483.3" width="1.4" height="14.7" fill="#ec5454"/>
<rect x="146" y="1483.3" width="1.4" height="14.7" fill="#f05656"/>
<rect x="147" y="1483.3" width="1.4" height="14.7" fill="#e45151"/>
<rect x="148" y="1483.3" width="1.4" height="14.7" fill="#dc4f4f"/>
<rect x="149" y="1483.3" width="1.4" height="14.7" fill="#ff5f5f"/>
<rect x="150" y="1483.3" width="1.4" height="14.7" fill="#f25b5b"/>
<rect x="151" y="1483.3" width="1.4" height="14.7" fill="#f25c5c"/>
<rect x="152" y="1483.3" width="1.4" height="14.7" fill="#f55e5e"/>
<rect x="153" y="1483.3" width="1.4" height="14.7" fill="#fe6363"/>
<rect x="154" y="1483.3" width="1.4" height="14.7" fill="#fa6363"/>
<rect x="155" y="1483.3" width="1.4" height="14.7" fill="#e55b5b"/>
<rect x="156" y="1483.3" width="1.4" height="14.7" fill="#ef6161"/>
<rect x="157" y="1483.3" width="1.4" height="14.7" fill="#f16363"/>
<rect x="158" y="1483.3" width="1.4" height="14.7" fill="#f86767"/>
<rect x="159" y="1483.3" width="1.4" height="14.7" fill="#ea6262"/>
<rect x="160" y="1483.3" width="1.4" height="14.7" fill="#f46767"/>
<rect x="161" y="1483.3" width="1.4" height="14.7" fill="#f26868"/>
<rect x="162" y="1483.3" width="1.4" height="14.7" fill="#ff6f6f"/>
<rect x="163" y="1483.3" width="1.4" height="14.7" fill="#d45d5d"/>
<rect x="164" y="1483.3" width="1.4" height="14.7" fill="#f16b6b"/>
<rect x="165" y="1483.3" width="1.4" height="14.7" fill="#f46d6d"/>
<rect x="166" y="1483.3" width="1.4" height="14.7" fill="#f77070"/>
<rect x="167" y="1483.3" width="1.4" height="14.7" fill="#f06e6e"/>
<rect x="168" y="1483.3" width="1.4" height="14.7" fill="#e76b6b"/>
<rect x="169" y="1483.3" width="1.4" height="14.7" fill="#f77474"/>
<rect x="170" y="1483.3" width="1.4" height="14.7" fill="#f47373"/>
<rect x="171" y="1483.3" width="1.4" height="14.7" fill="#e76e6e"/>
<rect x="172" y="1483.3" width="1.4" height="14.7" fill="#e16d6d"/>
<rect x="173" y="1483.3" width="1.4" height="14.7" fill="#f67878"/>
<rect x="174" y="1483.3" width="1.4" height="14.7" fill="#e77171"/>
<rect x="175" y="1483.3" width="1.4" height="14.7" fill="#f77b7b"/>
<rect x="176" y="1483.3" width="1.4" height="14.7" fill="#ff8181"/>
<rect x="177" y="1483.3" width="1.4" height="14.7" fill="#f27b7b"/>
<rect x="178" y="1483.3" width="1.4" height="14.7" fill="#f27c7c"/>
<rect x="179" y="1483.3" width="1.4" height="14.7" fill="#f17d7d"/>
<rect x="180" y="1483.3" width="1.4" height="14.7" fill="#ff8585"/>
<rect x="181" y="1483.3" width="1.4" height="14.7" fill="#ff8686"/>
<rect x="182" y="1483.3" width="1.4" height="14.7" fill="#f18080"/>
<rect x="183" y="1483.3" width="1.4" height="14.7" fill="#f88585"/>
<rect x="184" y="1483.3" width="1.4" height="14.7" fill="#f08282"/>
<rect x="185" y="1483.3" width="1.4" height="14.7" fill="#eb8080"/>
<rect x="186" y="1483.3" width="1.4" height="14.7" fill="#f88989"/>
<rect x="187" y="1483.3" width="1.4" height="14.7" fill="#ef8585"/>
<rect x="188" y="1483.3" width="1.4" height="14.7" fill="#e78181"/>
<rect x="189" y="1483.3" width="1.4" height="14.7" fill="#e07f7f"/>
<rect x="190" y="1483.3" width="1.4" height="14.7" fill="#fb8f8f"/>
<rect x="191" y="1483.3" width="1.4" height="14.7" fill="#e68484"/>
<rect x="192" y="1483.3" width="1.4" height="14.7" fill="#f8bae3"/>
<rect x="193" y="1483.3" width="1.4" height="14.7" fill="#f9bbe4"/>
<rect x="194" y="1483.3" width="1.4" height="14.7" fill="#fabce5"/>
<rect x="195" y="1483.3" width="1.4" height="14.7" fill="#f7bae2"/>
<rect x="196" y="1483.3" width="1.4" height="14.7" fill="#fabbe5"/>
<rect x="197" y="1483.3" width="1.4" height="14.7" fill="#f9bbe4"/>
<rect x="198" y="1483.3" width="1.4" height="14.7" fill="#f8bae3"/>
<rect x="199" y="1483.3" width="1.4" height="14.7" fill="#f8bae3"/>
<rect x="200" y="1483.3" width="1.4" height="14.7" fill="#f9bbe4"/>
<rect x="201" y="1483.3" width="1.4" height="14.7" fill="#fbbce6"/>
<rect x="202" y="1483.3" width="1.4" height="14.7" fill="#f9bbe4"/>
<rect x="203" y="1483.3" width="1.4" height="14.7" fill="#fabce5"/>
<rect x="204" y="1483.3" width="1.4" height="14.7" fill="#fabce5"/>
<rect x="205" y="1483.3" width="1.4" height="14.7" fill="#f7bae3"/>
<rect x="206" y="1483.3" width="1.4" height="14.7" fill="#f9bbe4"/>
<rect x="207" y="1483.3" width="1.4" height="14.7" fill="#fabce5"/>
<rect x="208" y="1483.3" width="1.4" height="14.7" fill="#f9bbe4"/>
<rect x="209" y="1483.3" width="1.4" height="14.7" fill="#fabce5"/>
<rect x="210" y="1483.3" width="1.4" height="14.7" fill="#f8bae3"/>
<rect x="211" y="1483.3" width="1.4" height="14.7" fill="#f8bae3"/>
<rect x="212" y="1483.3" width="1.4" height="14.7" fill="#f9bbe4"/>
<rect x="213" y="1483.3" width="1.4" height="14.7" fill="#fabbe5"/>
<rect x="214" y="1483.3" width="1.4" height="14.7" fill="#f9bbe4"/>
<rect x="215" y="1483.3" width="1.4" height="14.7" fill="#fabce5"/>
<rect x="216" y="1483.3" width="1.4" height="14.7" fill="#f7bae3"/>
<rect x="217" y="1483.3" width="1.4" height="14.7" fill="#f8bbe3"/>
<rect x="218" y="1483.3" width="1.4" height="14.7" fill="#fabce5"/>
<rect x="219" y="1483.3" width="1.4" height="14.7" fill="#f7b9e2"/>
<rect x="220" y="1483.3" width="1.4" height="14.7" fill="#f9bbe4"/>
<rect x="221" y="1483.3" width="1.4" height="14.7" fill="#f8bae3"/>
<rect x="222" y="1483.3" width="1.4" height="14.7" fill="#f8bae3"/>
<rect x="223" y="1483.3" width="1.4" height="14.7" fill="#f9bbe4"/>
<rect x="224" y="1483.3" width="1.4" height="14.7" fill="#f8bae3"/>
<rect x="225" y="1483.3" width="1.4" height="14.7" fill="#fabce5"/>
<rect x="226" y="1483.3" width="1.4" height="14.7" fill="#fabbe5"/>
<rect x="227" y="1483.3" width="1.4" height="14.7" fill="#fabce5"/>
<rect x="228" y="1483.3" width="1.4" height="14.7" fill="#f9bbe4"/>
<rect x="229" y="1483.3" width="1.4" height="14.7" fill="#f8bae3"/>
<rect x="230" y="1483.3" width="1.4" height="14.7" fill="#fabbe5"/>
<rect x="231" y="1483.3" width="1.4" height="14.7" fill="#f8bae3"/>
<rect x="232" y="1483.3" width="1.4" height="14.7" fill="#f8bae3"/>
<rect x="233" y="1483.3" width="1.4" height="14.7" fill="#fbbde6"/>
<rect x="234" y="1483.3" width="1.4" height="14.7" fill="#fabce5"/>
<rect x="235" y="1483.3" width="1.4" height="14.7" fill="#f9bbe4"/>
<rect x="236" y="1483.3" width="1.4" height="14.7" fill="#fabce5"/>
<rect x="237" y="1483.3" width="1.4" height="14.7" fill="#f9bbe4"/>
<rect x="238" y="1483.3" width="1.4" height="14.7" fill="#fabbe5"/>
<rect x="239" y="1483.3" width="1.4" height="14.7" fill="#f8bae3"/>
<rect x="240" y="1483.3" width="1.4" height="14.7" fill="#f9bbe4"/>
<rect x="241" y="1483.3" width="1.4" height="14.7" fill="#f9bbe4"/>
<rect x="242" y="1483.3" width="1.4" height="14.7" fill="#fabce5"/>
<rect x="243" y="1483.3" width="1.4" height="14.7" fill="#f8bae3"/>
<rect x="244" y="1483.3" width="1.4" height="14.7" fill="#fabce5"/>
<rect x="245" y="1483.3" width="1.4" height="14.7" fill="#f9bbe4"/>
<rect x="246" y="1483.3" width="1.4" height="14.7" fill="#f7bae2"/>
<rect x="247" y="1483.3" width="1.4" height="14.7" fill="#f7bae2"/>
<rect x="248" y="1483.3" width="1.4" height="14.7" fill="#f8bae3"/>
<rect x="249" y="1483.3" width="1.4" height="14.7" fill="#fabce5"/>
<rect x="250" y="1483.3" width="1.4" height="14.7" fill="#f9bbe4"/>
<rect x="251" y="1483.3" width="1.4" height="14.7" fill="#fbbce6"/>
<rect x="252" y="1483.3" width="1.4" height="14.7" fill="#f9bbe4"/>
<rect x="253" y="1483.3" width="1.4" height="14.7" fill="#fabce5"/>
<rect x="254" y="1483.3" width="1.4" height="14.7" fill="#f9bbe4"/>
<rect x="255" y="1483.3" width="1.4" height="14.7" fill="#f8bae3"/>
<rect x="256" y="1483.3" width="1.4" height="14.7" fill="#fabce5"/>
<rect x="257" y="1483.3" width="1.4" height="14.7" fill="#f8bae3"/>
<rect x="258" y="1483.3" width="1.4" height="14.7" fill="#f8bae3"/>
<rect x="259" y="1483.3" width="1.4" height="14.7" fill="#f8bae3"/>
<rect x="260" y="1483.3" width="1.4" height="14.7" fill="#f9bbe4"/>
<rect x="261" y="1483.3" width="1.4" height="14.7" fill="#f9bbe4"/>
<rect x="262" y="1483.3" width="1.4" height="14.7" fill="#fabce5"/>
<rect x="263" y="1483.3" width="1.4" height="14.7" fill="#fabbe5"/>
<rect x="264" y="1483.3" width="1.4" height="14.7" fill="#fbbde6"/>
<rect x="265" y="1483.3" width="1.4" height="14.7" fill="#f7bae2"/>
<rect x="266" y="1483.3" width="1.4" height="14.7" fill="#f9bbe4"/>
<rect x="267" y="1483.3" width="1.4" height="14.7" fill="#fcbde6"/>
<rect x="268" y="1483.3" width="1.4" height="14.7" fill="#f9bbe4"/>
<rect x="269" y="1483.3" width="1.4" height="14.7" fill="#f8bae3"/>
<rect x="270" y="1483.3" width="1.4" height="14.7" fill="#f8bae3"/>
<rect x="271" y="1483.3" width="1.4" height="14.7" fill="#f8bae3"/>
<rect x="272" y="1483.3" width="1.4" height="14.7" fill="#f9bbe4"/>
<rect x="273" y="1483.3" width="1.4" height="14.7" fill="#fbbce6"/>
<rect x="274" y="1483.3" width="1.4" height="14.7" fill="#f8bae3"/>
<rect x="275" y="1483.3" width="1.4" height="14.7" fill="#f8bae3"/>
<rect x="276" y="1483.3" width="1.4" height="14.7" fill="#fabce5"/>
<rect x="277" y="1483.3" width="1.4" height="14.7" fill="#f9bbe4"/>
<rect x="278" y="1483.3" width="1.4" height="14.7" fill="#f9bbe4"/>
<rect x="279" y="1483.3" width="1.4" height="14.7" fill="#f9bbe4"/>
<rect x="280" y="1483.3" width="1.4" height="14.7" fill="#fabce5"/>
<rect x="281" y="1483.3" width="1.4" height="14.7" fill="#f8bae3"/>
<rect x="282" y="1483.3" width="1.4" height="14.7" fill="#fabce5"/>
<rect x="283" y="1483.3" width="1.4" height="14.7" fill="#f9bbe4"/>
<rect x="284" y="1483.3" width="1.4" height="14.7" fill="#f9bbe4"/>
<rect x="285" y="1483.3" width="1.4" height="14.7" fill="#f8bbe4"/>
<rect x="286" y="1483.3" width="1.4" height="14.7" fill="#fabce5"/>
<rect x="287" y="1483.3" width="1.4" height="14.7" fill="#f9bbe4"/>
<rect x="288" y="1483.3" width="1.4" height="14.7" fill="#f9bbe4"/>
<rect x="289" y="1483.3" width="1.4" height="14.7" fill="#f9bbe4"/>
<rect x="290" y="1483.3" width="1.4" height="14.7" fill="#f8bae3"/>
<rect x="291" y="1483.3" width="1.4" height="14.7" fill="#d3d3fb"/>
<rect x="292" y="1483.3" width="1.4" height="14.7" fill="#d3d3fb"/>
<rect x="293" y="1483.3" width="1.4" height="14.7" fill="#d3d3fb"/>
<rect x="294" y="1483.3" width="1.4" height="14.7" fill="#d2d2fa"/>
<rect x="295" y="1483.3" width="1.4" height="14.7" fill="#d2d2fa"/>
<rect x="296" y="1483.3" width="1.4" height="14.7" fill="#d0d0f8"/>
<rect x="297" y="1483.3" width="1.4" height="14.7" fill="#d1d1f9"/>
<rect x="298" y="1483.3" width="1.4" height="14.7" fill="#d1d1f9"/>
<rect x="299" y="1483.3" width="1.4" height="14.7" fill="#d1d1fa"/>
<rect x="300" y="1483.3" width="1.4" height="14.7" fill="#d2d2fa"/>
<rect x="301" y="1483.3" width="1.4" height="14.7" fill="#d1d1f9"/>
<rect x="302" y="1483.3" width="1.4" height="14.7" fill="#d0d0f9"/>
<rect x="302.9" y="1483.3" width="1.4" height="14.7" fill="#d2d2fb"/>
<rect x="303.9" y="1483.3" width="1.4" height="14.7" fill="#d0d0f9"/>
<rect x="304.9" y="1483.3" width="1.4" height="14.7" fill="#d0d0f9"/>
<rect x="305.9" y="1483.3" width="1.4" height="14.7" fill="#cfcff7"/>
<rect x="306.9" y="1483.3" width="1.4" height="14.7" fill="#cfcff8"/>
<rect x="307.9" y="1483.3" width="1.4" height="14.7" fill="#d0d0f9"/>
<rect x="308.9" y="1483.3" width="1.4" height="14.7" fill="#d0d0f9"/>
<rect x="309.9" y="1483.3" width="1.4" height="14.7" fill="#cecef7"/>
<rect x="310.9" y="1483.3" width="1.4" height="14.7" fill="#d0d0f9"/>
<rect x="311.9" y="1483.3" width="1.4" height="14.7" fill="#d0d0f9"/>
<rect x="312.9" y="1483.3" width="1.4" height="14.7" fill="#cfcff9"/>
<rect x="313.9" y="1483.3" width="1.4" height="14.7" fill="#cfcff9"/>
<rect x="314.9" y="1483.3" width="1.4" height="14.7" fill="#d0d0fa"/>
<rect x="315.9" y="1483.3" width="1.4" height="14.7" fill="#cfcff8"/>
<rect x="316.9" y="1483.3" width="1.4" height="14.7" fill="#cecef7"/>
<rect x="317.9" y="1483.3" width="1.4" height="14.7" fill="#cfcff8"/>
<rect x="318.9" y="1483.3" width="1.4" height="14.7" fill="#cecef8"/>
<rect x="319.9" y="1483.3" width="1.4" height="14.7" fill="#cfcff9"/>
<rect x="320.9" y="1483.3" width="1.4" height="14.7" fill="#cfcff9"/>
<rect x="321.9" y="1483.3" width="1.4" height="14.7" fill="#cfcffa"/>
<rect x="322.9" y="1483.3" width="1.4" height="14.7" fill="#cfcff9"/>
<rect x="323.9" y="1483.3" width="1.4" height="14.7" fill="#cfcffa"/>
<rect x="324.8" y="1483.3" width="1.4" height="14.7" fill="#cecef9"/>
<rect x="325.8" y="1483.3" width="1.4" height="14.7" fill="#cfcff9"/>
<rect x="326.8" y="1483.3" width="1.4" height="14.7" fill="#cecef9"/>
<rect x="327.8" y="1483.3" width="1.4" height="14.7" fill="#cecef9"/>
<rect x="328.8" y="1483.3" width="1.4" height="14.7" fill="#cdcdf8"/>
<rect x="329.8" y="1483.3" width="1.4" height="14.7" fill="#cecef8"/>
<rect x="330.8" y="1483.3" width="1.4" height="14.7" fill="#cdcdf8"/>
<rect x="331.8" y="1483.3" width="1.4" height="14.7" fill="#cdcdf8"/>
<rect x="332.8" y="1483.3" width="1.4" height="14.7" fill="#cdcdf8"/>
<rect x="333.8" y="1483.3" width="1.4" height="14.7" fill="#cecef9"/>
<rect x="334.8" y="1483.3" width="1.4" height="14.7" fill="#cdcdf8"/>
<rect x="335.8" y="1483.3" width="1.4" height="14.7" fill="#cdcdf9"/>
<rect x="336.8" y="1483.3" width="1.4" height="14.7" fill="#ccccf7"/>
<rect x="337.8" y="1483.3" width="1.4" height="14.7" fill="#ccccf8"/>
<rect x="338.8" y="1483.3" width="1.4" height="14.7" fill="#cecef9"/>
<rect x="339.8" y="1483.3" width="1.4" height="14.7" fill="#cdcdf8"/>
<rect x="340.8" y="1483.3" width="1.4" height="14.7" fill="#cbcbf6"/>
<rect x="341.8" y="1483.3" width="1.4" height="14.7" fill="#ccccf8"/>
<rect x="342.8" y="1483.3" width="1.4" height="14.7" fill="#ccccf7"/>
<rect x="343.8" y="1483.3" width="1.4" height="14.7" fill="#cbcbf6"/>
<rect x="344.8" y="1483.3" width="1.4" height="14.7" fill="#cbcbf6"/>
<rect x="345.8" y="1483.3" width="1.4" height="14.7" fill="#cbcbf7"/>
<rect x="346.8" y="1483.3" width="1.4" height="14.7" fill="#cbcbf6"/>
<rect x="347.7" y="1483.3" width="1.4" height="14.7" fill="#ccccf8"/>
<rect x="348.7" y="1483.3" width="1.4" height="14.7" fill="#ccccf8"/>
<rect x="349.7" y="1483.3" width="1.4" height="14.7" fill="#ccccf8"/>
<rect x="350.7" y="1483.3" width="1.4" height="14.7" fill="#ccccf8"/>
<rect x="351.7" y="1483.3" width="1.4" height="14.7" fill="#c9c9f5"/>
<rect x="352.7" y="1483.3" width="1.4" height="14.7" fill="#cbcbf7"/>
<rect x="353.7" y="1483.3" width="1.4" height="14.7" fill="#cbcbf8"/>
<rect x="354.7" y="1483.3" width="1.4" height="14.7" fill="#cacaf6"/>
<rect x="355.7" y="1483.3" width="1.4" height="14.7" fill="#cacaf6"/>
<rect x="356.7" y="1483.3" width="1.4" height="14.7" fill="#cacaf6"/>
<rect x="357.7" y="1483.3" width="1.4" height="14.7" fill="#cbcbf7"/>
<rect x="358.7" y="1483.3" width="1.4" height="14.7" fill="#cacaf7"/>
<rect x="359.7" y="1483.3" width="1.4" height="14.7" fill="#cbcbf8"/>
<rect x="360.7" y="1483.3" width="1.4" height="14.7" fill="#cacaf7"/>
<rect x="361.7" y="1483.3" width="1.4" height="14.7" fill="#cacaf7"/>
<rect x="362.7" y="1483.3" width="1.4" height="14.7" fill="#cacaf7"/>
<rect x="363.7" y="1483.3" width="1.4" height="14.7" fill="#c9c9f6"/>
<rect x="364.7" y="1483.3" width="1.4" height="14.7" fill="#cacaf7"/>
<rect x="365.7" y="1483.3" width="1.4" height="14.7" fill="#cacaf7"/>
<rect x="366.7" y="1483.3" width="1.4" height="14.7" fill="#cacaf7"/>
<rect x="367.7" y="1483.3" width="1.4" height="14.7" fill="#c9c9f6"/>
<rect x="368.7" y="1483.3" width="1.4" height="14.7" fill="#c8c8f5"/>
<rect x="369.6" y="1483.3" width="1.4" height="14.7" fill="#cacaf7"/>
<rect x="370.6" y="1483.3" width="1.4" height="14.7" fill="#c9c9f7"/>
<rect x="371.6" y="1483.3" width="1.4" height="14.7" fill="#c9c9f7"/>
<rect x="372.6" y="1483.3" width="1.4" height="14.7" fill="#c8c8f5"/>
<rect x="373.6" y="1483.3" width="1.4" height="14.7" fill="#c9c9f7"/>
<rect x="374.6" y="1483.3" width="1.4" height="14.7" fill="#c9c9f7"/>
<rect x="375.6" y="1483.3" width="1.4" height="14.7" fill="#c8c8f6"/>
<rect x="376.6" y="1483.3" width="1.4" height="14.7" fill="#c9c9f7"/>
<rect x="377.6" y="1483.3" width="1.4" height="14.7" fill="#c8c8f5"/>
<rect x="378.6" y="1483.3" width="1.4" height="14.7" fill="#c8c8f6"/>
<rect x="379.6" y="1483.3" width="1.4" height="14.7" fill="#c6c6f4"/>
<rect x="380.6" y="1483.3" width="1.4" height="14.7" fill="#7b7be5"/>
<rect x="381.6" y="1483.3" width="1.4" height="14.7" fill="#8989ff"/>
<rect x="382.6" y="1483.3" width="1.4" height="14.7" fill="#7f7eef"/>
<rect x="383.6" y="1483.3" width="1.4" height="14.7" fill="#8483fa"/>
<rect x="384.6" y="1483.3" width="1.4" height="14.7" fill="#7d7cee"/>
<rect x="385.6" y="1483.3" width="1.4" height="14.7" fill="#7b79ea"/>
<rect x="386.6" y="1483.3" width="1.4" height="14.7" fill="#7b78ea"/>
<rect x="387.5" y="1483.3" width="1.4" height="14.7" fill="#7774e3"/>
<rect x="388.5" y="1483.3" width="1.4" height="14.7" fill="#7c79ef"/>
<rect x="389.5" y="1483.3" width="1.4" height="14.7" fill="#7471df"/>
<rect x="390.5" y="1483.3" width="1.4" height="14.7" fill="#7874e7"/>
<rect x="391.5" y="1483.3" width="1.4" height="14.7" fill="#8883ff"/>
<rect x="392.5" y="1483.3" width="1.4" height="14.7" fill="#7974ec"/>
<rect x="393.5" y="1483.3" width="1.4" height="14.7" fill="#746ee2"/>
<rect x="394.5" y="1483.3" width="1.4" height="14.7" fill="#7b75f1"/>
<rect x="395.5" y="1483.3" width="1.4" height="14.7" fill="#7771eb"/>
<rect x="396.5" y="1483.3" width="1.4" height="14.7" fill="#736de3"/>
<rect x="397.5" y="1483.3" width="1.4" height="14.7" fill="#6e68da"/>
<rect x="398.5" y="1483.3" width="1.4" height="14.7" fill="#736ce4"/>
<rect x="399.5" y="1483.3" width="1.4" height="14.7" fill="#7169e1"/>
<rect x="400.4" y="1483.3" width="1.4" height="14.7" fill="#736be6"/>
<rect x="401.4" y="1483.3" width="1.4" height="14.7" fill="#746ce9"/>
<rect x="402.4" y="1483.3" width="1.4" height="14.7" fill="#736ae8"/>
<rect x="403.4" y="1483.3" width="1.4" height="14.7" fill="#6c64db"/>
<rect x="404.4" y="1483.3" width="1.4" height="14.7" fill="#736aea"/>
<rect x="405.4" y="1483.3" width="1.4" height="14.7" fill="#7268e9"/>
<rect x="406.4" y="1483.3" width="1.4" height="14.7" fill="#685fd5"/>
<rect x="407.4" y="1483.3" width="1.4" height="14.7" fill="#7166e8"/>
<rect x="408.4" y="1483.3" width="1.4" height="14.7" fill="#6e63e3"/>
<rect x="409.4" y="1483.3" width="1.4" height="14.7" fill="#7064e8"/>
<rect x="410.4" y="1483.3" width="1.4" height="14.7" fill="#685dd8"/>
<rect x="411.4" y="1483.3" width="1.4" height="14.7" fill="#6c5fe0"/>
<rect x="412.3" y="1483.3" width="1.4" height="14.7" fill="#6c5fe1"/>
<rect x="413.3" y="1483.3" width="1.4" height="14.7" fill="#665ad6"/>
<rect x="414.3" y="1483.3" width="1.4" height="14.7" fill="#6e60e8"/>
<rect x="415.3" y="1483.3" width="1.4" height="14.7" fill="#6a5ce0"/>
<rect x="416.3" y="1483.3" width="1.4" height="14.7" fill="#6d5ee6"/>
<rect x="417.3" y="1483.3" width="1.4" height="14.7" fill="#6657d8"/>
<rect x="418.3" y="1483.3" width="1.4" height="14.7" fill="#6355d4"/>
<rect x="419.3" y="1483.3" width="1.4" height="14.7" fill="#6455d6"/>
<rect x="420.3" y="1483.3" width="1.4" height="14.7" fill="#5f50cc"/>
<rect x="421.3" y="1483.3" width="1.4" height="14.7" fill="#6555da"/>
<rect x="422.3" y="1483.3" width="1.4" height="14.7" fill="#6a59e6"/>
<rect x="423.3" y="1483.3" width="1.4" height="14.7" fill="#6e5cf0"/>
<rect x="424.3" y="1483.3" width="1.4" height="14.7" fill="#6c5aed"/>
<rect x="425.2" y="1483.3" width="1.4" height="14.7" fill="#6d5aef"/>
<rect x="426.2" y="1483.3" width="1.4" height="14.7" fill="#6c59ee"/>
<rect x="427.2" y="1483.3" width="1.4" height="14.7" fill="#705bf7"/>
<rect x="428.2" y="1483.3" width="1.4" height="14.7" fill="#6653e3"/>
<rect x="429.2" y="1483.3" width="1.4" height="14.7" fill="#6955ea"/>
<rect x="430.2" y="1483.3" width="1.4" height="14.7" fill="#6753e7"/>
<rect x="431.2" y="1483.3" width="1.4" height="14.7" fill="#200eb1"/>
<rect x="432.2" y="1483.3" width="1.4" height="14.7" fill="#2410ca"/>
<rect x="433.2" y="1483.3" width="1.4" height="14.7" fill="#2410c9"/>
<rect x="434.2" y="1483.3" width="1.4" height="14.7" fill="#2510cc"/>
<rect x="435.2" y="1483.3" width="1.4" height="14.7" fill="#2310c4"/>
<rect x="436.2" y="1483.3" width="1.4" height="14.7" fill="#2310c2"/>
<rect x="437.2" y="1483.3" width="1.4" height="14.7" fill="#2310c4"/>
<rect x="438.2" y="1483.3" width="1.4" height="14.7" fill="#2511cf"/>
<rect x="439.2" y="1483.3" width="1.4" height="14.7" fill="#2510cd"/>
<rect x="440.2" y="1483.3" width="1.4" height="14.7" fill="#2711d6"/>
<rect x="441.2" y="1483.3" width="1.4" height="14.7" fill="#220fbd"/>
<rect x="442.2" y="1483.3" width="1.4" height="14.7" fill="#2611d3"/>
<rect x="443.2" y="1483.3" width="1.4" height="14.7" fill="#4109a6"/>
<rect x="444.2" y="1483.3" width="1.4" height="14.7" fill="#3a0892"/>
<rect x="445.2" y="1483.3" width="1.4" height="14.7" fill="#3c0899"/>
<rect x="446.1" y="1483.3" width="1.4" height="14.7" fill="#38078d"/>
<rect x="447.1" y="1483.3" width="1.4" height="14.7" fill="#340785"/>
<rect x="448.1" y="1483.3" width="1.4" height="14.7" fill="#38088f"/>
<rect x="449.1" y="1483.3" width="1.4" height="14.7" fill="#3c0898"/>
<rect x="450" y="1483.3" width="1.4" height="14.7" fill="#3d089a"/>
<rect x="451" y="1483.3" width="1.4" height="14.7" fill="#3b0895"/>
<rect x="116.2" y="1483.3" width="1.2" height="14.7" fill="#902020" opacity="0.6"/>
<rect x="152.7" y="1483.3" width="1.2" height="14.7" fill="#902020" opacity="0.6"/>
<rect x="175.9" y="1483.3" width="1.2" height="14.7" fill="#902020" opacity="0.6"/>
<rect x="164" y="1483.3" width="1.2" height="14.7" fill="#902020" opacity="0.6"/>
<rect x="149.8" y="1483.3" width="1.2" height="14.7" fill="#902020" opacity="0.6"/>
<rect x="91.7" y="1483.3" width="1.2" height="14.7" fill="#902020" opacity="0.6"/>
<rect x="123.2" y="1483.3" width="1.2" height="14.7" fill="#902020" opacity="0.6"/>
<rect x="131.5" y="1483.3" width="1.2" height="14.7" fill="#902020" opacity="0.6"/>
<rect x="157.8" y="1483.3" width="1.2" height="14.7" fill="#902020" opacity="0.6"/>
<rect x="172.1" y="1483.3" width="1.2" height="14.7" fill="#902020" opacity="0.6"/>
<rect x="133.9" y="1483.3" width="1.2" height="14.7" fill="#902020" opacity="0.6"/>
<rect x="170.9" y="1483.3" width="1.2" height="14.7" fill="#902020" opacity="0.6"/>
<rect x="132.4" y="1483.3" width="1.2" height="14.7" fill="#902020" opacity="0.6"/>
<rect x="109.2" y="1483.3" width="1.2" height="14.7" fill="#902020" opacity="0.6"/>
<rect x="92.9" y="1483.3" width="1.2" height="14.7" fill="#902020" opacity="0.6"/>
<rect x="114.8" y="1483.3" width="1.2" height="14.7" fill="#902020" opacity="0.6"/>
<rect x="132.7" y="1483.3" width="1.2" height="14.7" fill="#902020" opacity="0.6"/>
<rect x="163.5" y="1483.3" width="1.2" height="14.7" fill="#902020" opacity="0.6"/>
<rect x="177.8" y="1483.3" width="1.2" height="14.7" fill="#902020" opacity="0.6"/>
<rect x="127.8" y="1483.3" width="1.2" height="14.7" fill="#902020" opacity="0.6"/>
<rect x="116" y="1483.3" width="1.2" height="14.7" fill="#902020" opacity="0.6"/>
<rect x="139.7" y="1483.3" width="1.2" height="14.7" fill="#902020" opacity="0.6"/>
<rect x="123.2" y="1483.3" width="1.2" height="14.7" fill="#902020" opacity="0.6"/>
<rect x="108.9" y="1483.3" width="1.2" height="14.7" fill="#902020" opacity="0.6"/>
<rect x="164.4" y="1483.3" width="1.2" height="14.7" fill="#902020" opacity="0.6"/>
<rect x="110.2" y="1483.3" width="1.2" height="14.7" fill="#902020" opacity="0.6"/>
<rect x="162.1" y="1483.3" width="1.2" height="14.7" fill="#902020" opacity="0.6"/>
<rect x="153.6" y="1483.3" width="1.2" height="14.7" fill="#902020" opacity="0.6"/>
<rect x="116.9" y="1483.3" width="1.2" height="14.7" fill="#902020" opacity="0.6"/>
<rect x="170.2" y="1483.3" width="1.2" height="14.7" fill="#902020" opacity="0.6"/>
<rect x="117.1" y="1483.3" width="1.2" height="14.7" fill="#902020" opacity="0.6"/>
<rect x="174.1" y="1483.3" width="1.2" height="14.7" fill="#902020" opacity="0.6"/>
<rect x="154.4" y="1483.3" width="1.2" height="14.7" fill="#902020" opacity="0.6"/>
<rect x="92.3" y="1483.3" width="1.2" height="14.7" fill="#902020" opacity="0.6"/>
<rect x="132.7" y="1483.3" width="1.2" height="14.7" fill="#902020" opacity="0.6"/>
<rect x="103.3" y="1483.3" width="1.2" height="14.7" fill="#902020" opacity="0.6"/>
<rect x="134.8" y="1483.3" width="1.2" height="14.7" fill="#902020" opacity="0.6"/>
<rect x="197.5" y="1483.3" width="1.2" height="14.7" fill="#c090b0" opacity="0.6"/>
<rect x="298.5" y="1483.3" width="1.2" height="14.7" fill="#a8a8d8" opacity="0.6"/>
<rect x="338.7" y="1483.3" width="1.2" height="14.7" fill="#a8a8d8" opacity="0.6"/>
<rect x="354.4" y="1483.3" width="1.2" height="14.7" fill="#a8a8d8" opacity="0.6"/>
<rect x="305.8" y="1483.3" width="1.2" height="14.7" fill="#a8a8d8" opacity="0.6"/>
<rect x="340.3" y="1483.3" width="1.2" height="14.7" fill="#a8a8d8" opacity="0.6"/>
<rect x="354.3" y="1483.3" width="1.2" height="14.7" fill="#a8a8d8" opacity="0.6"/>
<rect x="365.6" y="1483.3" width="1.2" height="14.7" fill="#a8a8d8" opacity="0.6"/>
<rect x="330.1" y="1483.3" width="1.2" height="14.7" fill="#a8a8d8" opacity="0.6"/>
<rect x="379.2" y="1483.3" width="1.2" height="14.7" fill="#a8a8d8" opacity="0.6"/>
<rect x="378.2" y="1483.3" width="1.2" height="14.7" fill="#a8a8d8" opacity="0.6"/>
<rect x="363.8" y="1483.3" width="1.2" height="14.7" fill="#a8a8d8" opacity="0.6"/>
<rect x="322" y="1483.3" width="1.2" height="14.7" fill="#a8a8d8" opacity="0.6"/>
<rect x="306.1" y="1483.3" width="1.2" height="14.7" fill="#a8a8d8" opacity="0.6"/>
<rect x="308.8" y="1483.3" width="1.2" height="14.7" fill="#a8a8d8" opacity="0.6"/>
<rect x="372.6" y="1483.3" width="1.2" height="14.7" fill="#a8a8d8" opacity="0.6"/>
<rect x="382.7" y="1483.3" width="1.2" height="14.7" fill="#5040c0" opacity="0.6"/>
<rect x="401.4" y="1483.3" width="1.2" height="14.7" fill="#5040c0" opacity="0.6"/>
<rect x="422.7" y="1483.3" width="1.2" height="14.7" fill="#5040c0" opacity="0.6"/>
<rect x="391" y="1483.3" width="1.2" height="14.7" fill="#5040c0" opacity="0.6"/>
<rect x="386.4" y="1483.3" width="1.2" height="14.7" fill="#5040c0" opacity="0.6"/>
<rect x="392.5" y="1483.3" width="1.2" height="14.7" fill="#5040c0" opacity="0.6"/>
<rect x="416.1" y="1483.3" width="1.2" height="14.7" fill="#5040c0" opacity="0.6"/>
<rect x="411.9" y="1483.3" width="1.2" height="14.7" fill="#5040c0" opacity="0.6"/>
<rect x="384.6" y="1483.3" width="1.2" height="14.7" fill="#5040c0" opacity="0.6"/>
<rect x="387.7" y="1483.3" width="1.2" height="14.7" fill="#5040c0" opacity="0.6"/>
<line x1="82" y1="1424.4" x2="470.6" y2="1424.4" stroke="#a8a8a8" stroke-width="1.3"/>
<line x1="82" y1="1483.1" x2="470.6" y2="1483.1" stroke="#a8a8a8" stroke-width="1.3"/>
<rect x="82" y="1249.7" width="388.6" height="248.3" fill="none" stroke="#a8a8a8" stroke-width="1.3"/>
<line x1="82" y1="1249.7" x2="82" y2="1498" stroke="#8a8a8a" stroke-width="1.3"/>
<path d="M82.3 1410.1 83 1388.2 83.7 1372.1 84.4 1357.8 85.1 1343.8 85.8 1328.8 86.5 1318.6 87.2 1310.6 87.9 1303.7 88.6 1297.5 89.3 1294.7 90 1290.8 90.7 1286.8 91.4 1284.6 92.1 1282.1 92.8 1279.9 93.5 1278 94.2 1277 94.9 1275.6 95.6 1274.9 96.3 1273.5 97 1272.1 97.7 1271.2 98.4 1270.5 99.1 1270 99.8 1268.3 100.5 1268 101.2 1267.6 101.9 1265.8 102.6 1266.1 103.3 1264.7 104 1264.2 104.7 1263.4 105.4 1263 106.1 1262.4 106.8 1261.7 107.5 1261.8 108.2 1259.2 108.9 1259.4 109.6 1258.6 110.3 1258.7 111 1258.3 111.7 1258.4 112.4 1258.4 113.1 1258.2 113.8 1258.7 114.5 1257.8 115.2 1258.2 115.9 1258.3 116.6 1258.8 117.3 1257.8 118 1257.8 118.7 1258.5 119.4 1258.3 120.1 1257.8 120.8 1258.7 121.5 1258.4 122.2 1258.2 122.9 1258.3 123.6 1258.5 124.3 1258.5 125 1258.9 125.7 1259.1 126.4 1258.8 127.1 1258.8 127.8 1260.2 128.5 1259.6 129.2 1260.7 129.9 1260.3 130.6 1259.5 131.3 1260.8 132 1260.6 132.7 1260.3 133.4 1261.3 134.1 1261.1 134.8 1261.7 135.5 1262.4 136.2 1262.5 136.9 1262.4 137.6 1262.6 138.3 1262.9 139 1262.8 139.7 1262.9 140.4 1263.3 141.1 1263.8 141.8 1263.7 142.5 1264.1 143.2 1264.5 143.9 1264.4 144.6 1265.3 145.3 1265.6 146 1265.5 146.7 1265.4 147.4 1265.3 148.1 1265.3 148.8 1266.9 149.5 1266.8 150.2 1266.8 150.9 1266.8 151.6 1267.5 152.3 1268.2 153 1268.3 153.7 1268.1 154.4 1269.8 155.1 1269.2 155.8 1268.9 156.5 1269.8 157.2 1270.1 157.9 1270.6 158.6 1270.8 159.3 1270.5 160 1271.5 160.7 1271.4 161.4 1272.1 162.1 1272.3 162.8 1272.9 163.5 1273.1 164.2 1273.3 164.9 1274.7 165.6 1274 166.3 1274.4 167 1275 167.7 1275.4 168.4 1276 169.1 1275.5 169.8 1276.2 170.5 1277.2 171.2 1277.2 171.9 1277.6 172.6 1277.4 173.3 1277.8 174 1278.4 174.7 1279.1 175.4 1279.7 176.1 1280.1 176.8 1279.5 177.5 1280.5 178.2 1281 178.9 1281.2 179.6 1281.6 180.3 1281.7 181 1282.4 181.7 1282.1 182.4 1283.8 183.1 1283.8 183.8 1284.6 184.5 1284.2 185.2 1284.3 185.9 1286 186.6 1285 187.3 1285.7 188 1286.9 188.7 1287.5 189.4 1287.2 190.1 1287.8 190.8 1288.2 191.5 1288.9 192.2 1288.8 192.9 1289.8 193.6 1290.3 194.3 1290.4 195 1290.9 195.7 1292.1 196.4 1291.8 197.1 1292 197.8 1293 198.5 1293.5 199.2 1293.2 199.9 1293.6 200.6 1294.9 201.3 1295.2 202 1295.7 202.7 1296.3 203.4 1295.7 204.1 1296 204.8 1297.4 205.5 1297.8 206.2 1298 206.9 1298.7 207.6 1298.6 208.3 1299 209 1299.8 209.7 1300.4 210.4 1301 211.1 1301.2 211.8 1301.9 212.5 1302.6 213.2 1302.9 213.9 1303 214.6 1304.3 215.3 1303.7 216 1304.7 216.7 1305.8 217.4 1306.5 218.1 1306.7 218.8 1306.5 219.5 1306.5 220.2 1307.5 220.9 1308.1 221.6 1308.7 222.3 1308.8 223 1309.5 223.7 1310.2 224.4 1310.7 225.1 1311.6 225.8 1311.9 226.5 1312.4 227.2 1312.5 227.9 1313.2 228.6 1313 229.3 1314 230 1314.1 230.7 1315.2 231.4 1315.8 232.1 1316.2 232.8 1317.2 233.5 1316.9 234.2 1317.6 234.9 1317.9 235.6 1318.5 236.3 1319.6 237 1319.1 237.7 1320.7 238.4 1321.1 239.1 1321.3 239.8 1321.4 240.5 1322.1 241.2 1322.4 241.9 1323.6 242.6 1323.2 243.3 1323.7 244 1324.6 244.7 1324.2 245.4 1326.1 246.1 1325.9 246.8 1326.8 247.5 1327.1 248.2 1326.9 248.9 1328 249.6 1328.7 250.3 1328.6 251 1329.1 251.7 1329.6 252.4 1330.7 253.1 1330.5 253.8 1331.1 254.5 1331.9 255.2 1332.5 255.9 1332.7 256.6 1334 257.3 1334.5 258 1333.9 258.7 1335.5 259.4 1335.5 260.1 1336.1 260.8 1336.6 261.5 1336.3 262.2 1336.8 262.9 1337.9 263.6 1337.9 264.3 1339.6 265 1339 265.7 1339.9 266.4 1339.7 267.1 1341.3 267.8 1341.7 268.5 1340.9 269.2 1342.1 269.9 1342.4 270.6 1343.4 271.3 1342.5 272 1343.7 272.7 1344.6 273.4 1344.6 274.1 1344.9 274.8 1345.1 275.5 1346.2 276.2 1346.4 276.9 1346.5 277.6 1347.5 278.3 1347.6 279 1348.4 279.7 1349 280.4 1349.6 281.1 1349.8 281.8 1349.8 282.5 1350.5 283.2 1350.9 283.9 1351.8 284.6 1351.7 285.3 1352.9 286 1352.8 286.7 1353.5 287.4 1353.6 288.1 1354.6 288.8 1354.4 289.5 1355.6 290.2 1355.6 290.9 1356.2 291.6 1356.6 292.3 1356.5 293 1357.7 293.7 1357.1 294.4 1358.1 295.1 1358.8 295.8 1359.3 296.5 1359.2 297.2 1359.7 297.9 1360.2 298.6 1360.3 299.3 1361 300 1361.2 300.7 1362.2 301.4 1362.3 302.1 1362.6 302.8 1363 303.5 1363.7 304.2 1363.8 304.9 1364.1 305.6 1364.6 306.3 1365.5 307 1365.2 307.7 1366.3 308.4 1366.9 309.1 1366.9 309.8 1367.4 310.5 1367.4 311.2 1368 311.9 1368.5 312.6 1369.3 313.3 1369.4 314 1369.6 314.7 1370.2 315.4 1370.4 316.1 1371.8 316.8 1371.4 317.5 1372.6 318.2 1371.9 318.9 1372.5 319.6 1373.8 320.3 1373.6 321 1374.8 321.7 1374.8 322.4 1375.4 323.1 1374.7 323.8 1375.7 324.5 1376 325.2 1377 325.9 1376.7 326.6 1377.3 327.3 1377.4 328 1377.5 328.7 1378.6 329.4 1378.7 330.1 1379.3 330.8 1379.2 331.5 1379.9 332.2 1380 332.9 1380.5 333.6 1381.2 334.3 1381.3 335 1382.1 335.7 1381.8 336.4 1382.5 337.1 1383.5 337.8 1383.1 338.5 1383.1 339.2 1384.6 339.9 1384.5 340.6 1384.5 341.3 1384.9 342 1385.9 342.7 1385.6 343.4 1385.8 344.1 1387 344.8 1387.3 345.5 1387.8 346.2 1387.7 346.9 1388.5 347.6 1388.4 348.3 1389 349 1389.5 349.7 1389.9 350.4 1390.6 351.1 1390.9 351.8 1390.7 352.5 1391.2 353.2 1392.1 353.9 1392.7 354.6 1392.8 355.3 1392.9 356 1393.6 356.7 1394.3 357.4 1394.8 358.1 1394.6 358.8 1394.9 359.5 1395.7 360.2 1395.9 360.9 1396.5 361.6 1396.6 362.3 1397.5 363 1398 363.7 1398.7 364.4 1399.1 365.1 1399.1 365.8 1399.2 366.5 1400.2 367.2 1400.1 367.9 1400.2 368.6 1401 369.3 1401 370 1402.5 370.7 1402.6 371.4 1403.1 372.1 1402.8 372.8 1403.2 373.5 1403.7 374.2 1403.8 374.9 1404.3 375.6 1404.7 376.3 1404.6 377 1405.1 377.7 1405.8 378.4 1405.7 379.1 1405.3 379.8 1405.9 380.5 1406.2 381.2 1406.5 381.9 1407 382.6 1406.9 383.3 1408 384 1407.6 384.7 1408 385.4 1407.7 386.1 1407.4 386.8 1408.4 387.5 1408.5 388.2 1408.6 388.9 1408.3 389.6 1408.4 390.3 1408.1 391 1407.8 391.7 1408.4 392.4 1408.6 393.1 1408.6 393.8 1408.7 394.5 1408.8 395.2 1408.7 395.9 1408.7 396.6 1408.6 397.3 1408.3 398 1407.8 398.7 1408.6 399.4 1409 400.1 1408.7 400.8 1409.3 401.5 1409 402.2 1408.3 402.9 1409.7 403.6 1409.4 404.3 1410 405 1410.3 405.7 1410.9 406.4 1411.8 407.1 1412 407.8 1411.5 408.5 1412.3 409.2 1412.2 409.9 1413 410.6 1413.3 411.3 1412.8 412 1413.5 412.7 1413.7 413.4 1413.8 414.1 1414.1 414.8 1413.8 415.5 1414.1 416.2 1414.2 416.9 1414.3 417.6 1414.4 418.3 1413.8 419 1414.6 419.7 1415.1 420.4 1414.4 421.1 1414.8 421.8 1414 422.5 1415.2 423.2 1415.1 423.9 1415.5 424.6 1415.7 425.3 1415 426 1415.1 426.7 1415.5 427.4 1415.2 428.1 1415.7 428.8 1414.9 429.5 1415.4 430.2 1415.2 430.9 1415 431.6 1415.7 432.3 1415.3 433 1415.5 433.7 1415.5 434.4 1414.7 435.1 1415.9 435.8 1415.8 436.5 1415.8 437.2 1415.6 437.9 1416.2 438.6 1415.8 439.3 1415.3 440 1415.8 440.7 1416 441.4 1415.5 442.1 1415.5 442.8 1415.6 443.5 1415.7 444.2 1415.5 444.9 1415.1 445.6 1415.4 446.3 1415 447 1414.8 447.7 1415 448.4 1413.9 449.1 1413 449.8 1412.7 450.5 1411.2 451.2 1411" fill="none" stroke="#00f000" stroke-width="3" stroke-linejoin="round"/>
<text x="0" y="0" font-size="10.9" text-anchor="middle" font-family="'Liberation Sans', Arial, sans-serif" fill="#2a2a2a" transform="translate(55.4 1336.9) rotate(-90)">Enrichment score (ES)</text>
<text x="258.8" y="1238.6" font-size="29" text-anchor="middle">shOTX2-48h geneset</text>
<text x="450.2" y="1282.2" font-size="26" text-anchor="end">NES=2.63</text>
<text x="448.8" y="1310.3" font-size="26" text-anchor="end">FDR&lt;0.001</text>
<text x="87.3" y="1526.2" font-size="28.5">DMSO</text>
<text x="456" y="1526.2" font-size="28.5" text-anchor="end">CBL0137</text>
<text x="273.5" y="1557.9" font-size="28.5" text-anchor="middle">HDMB03</text>
<text x="0.5" y="1220" font-size="38" font-weight="bold">D</text>
<rect x="507" y="1247.7" width="446.4" height="255.3" fill="#ededed"/>
<rect x="557.4" y="1253.4" width="389" height="248.1" fill="#fff"/>
<line x1="603.9" y1="1255.4" x2="603.9" y2="1428.4" stroke="#cfcfcf" stroke-width="1" stroke-dasharray="2.5 3"/>
<line x1="650.4" y1="1255.4" x2="650.4" y2="1428.4" stroke="#cfcfcf" stroke-width="1" stroke-dasharray="2.5 3"/>
<line x1="696.9" y1="1255.4" x2="696.9" y2="1428.4" stroke="#cfcfcf" stroke-width="1" stroke-dasharray="2.5 3"/>
<line x1="743.4" y1="1255.4" x2="743.4" y2="1428.4" stroke="#cfcfcf" stroke-width="1" stroke-dasharray="2.5 3"/>
<line x1="789.9" y1="1255.4" x2="789.9" y2="1428.4" stroke="#cfcfcf" stroke-width="1" stroke-dasharray="2.5 3"/>
<line x1="836.4" y1="1255.4" x2="836.4" y2="1428.4" stroke="#cfcfcf" stroke-width="1" stroke-dasharray="2.5 3"/>
<line x1="882.9" y1="1255.4" x2="882.9" y2="1428.4" stroke="#cfcfcf" stroke-width="1" stroke-dasharray="2.5 3"/>
<line x1="929.4" y1="1255.4" x2="929.4" y2="1428.4" stroke="#cfcfcf" stroke-width="1" stroke-dasharray="2.5 3"/>
<line x1="557.4" y1="1411.5" x2="946.4" y2="1411.5" stroke="#cfcfcf" stroke-width="1" stroke-dasharray="2.5 3"/>
<line x1="553.4" y1="1411.5" x2="557.4" y2="1411.5" stroke="#555" stroke-width="1"/>
<text x="551.9" y="1415.1" font-size="10" text-anchor="end" font-family="'Liberation Sans', Arial, sans-serif" fill="#2a2a2a">0.0</text>
<line x1="557.4" y1="1388.1" x2="946.4" y2="1388.1" stroke="#cfcfcf" stroke-width="1" stroke-dasharray="2.5 3"/>
<line x1="553.4" y1="1388.1" x2="557.4" y2="1388.1" stroke="#555" stroke-width="1"/>
<text x="551.9" y="1391.7" font-size="10" text-anchor="end" font-family="'Liberation Sans', Arial, sans-serif" fill="#2a2a2a">0.1</text>
<line x1="557.4" y1="1364.6" x2="946.4" y2="1364.6" stroke="#cfcfcf" stroke-width="1" stroke-dasharray="2.5 3"/>
<line x1="553.4" y1="1364.6" x2="557.4" y2="1364.6" stroke="#555" stroke-width="1"/>
<text x="551.9" y="1368.2" font-size="10" text-anchor="end" font-family="'Liberation Sans', Arial, sans-serif" fill="#2a2a2a">0.2</text>
<line x1="557.4" y1="1341.2" x2="946.4" y2="1341.2" stroke="#cfcfcf" stroke-width="1" stroke-dasharray="2.5 3"/>
<line x1="553.4" y1="1341.2" x2="557.4" y2="1341.2" stroke="#555" stroke-width="1"/>
<text x="551.9" y="1344.8" font-size="10" text-anchor="end" font-family="'Liberation Sans', Arial, sans-serif" fill="#2a2a2a">0.3</text>
<line x1="557.4" y1="1317.8" x2="946.4" y2="1317.8" stroke="#cfcfcf" stroke-width="1" stroke-dasharray="2.5 3"/>
<line x1="553.4" y1="1317.8" x2="557.4" y2="1317.8" stroke="#555" stroke-width="1"/>
<text x="551.9" y="1321.4" font-size="10" text-anchor="end" font-family="'Liberation Sans', Arial, sans-serif" fill="#2a2a2a">0.4</text>
<line x1="557.4" y1="1294.3" x2="946.4" y2="1294.3" stroke="#cfcfcf" stroke-width="1" stroke-dasharray="2.5 3"/>
<line x1="553.4" y1="1294.3" x2="557.4" y2="1294.3" stroke="#555" stroke-width="1"/>
<text x="551.9" y="1297.9" font-size="10" text-anchor="end" font-family="'Liberation Sans', Arial, sans-serif" fill="#2a2a2a">0.5</text>
<line x1="557.4" y1="1270.9" x2="946.4" y2="1270.9" stroke="#cfcfcf" stroke-width="1" stroke-dasharray="2.5 3"/>
<line x1="553.4" y1="1270.9" x2="557.4" y2="1270.9" stroke="#555" stroke-width="1"/>
<text x="551.9" y="1274.5" font-size="10" text-anchor="end" font-family="'Liberation Sans', Arial, sans-serif" fill="#2a2a2a">0.6</text>
<line x1="557.4" y1="1411.5" x2="946.4" y2="1411.5" stroke="#8a8a8a" stroke-width="1.4"/>
<rect x="557.4" y="1431" width="25.6" height="55" fill="#000"/>
<rect x="602" y="1431" width="5" height="55" fill="#000"/>
<rect x="624.4" y="1431" width="7.8" height="55" fill="#000"/>
<rect x="730" y="1431" width="1.2" height="55" fill="#000"/>
<rect x="744.7" y="1431" width="1.2" height="55" fill="#000"/>
<path d="M583.5 1431h1.2V1486h-1.2zM585.7 1431h1.2V1486h-1.2zM587.8 1431h1.8V1486h-1.8zM591.6 1431h1.2V1486h-1.2zM593.6 1431h1.2V1486h-1.2zM595.6 1431h1V1486h-1zM600.3 1431h1.4V1486h-1.4zM607.4 1431h1.4V1486h-1.4zM609.6 1431h2.4V1486h-2.4zM612.8 1431h1V1486h-1zM614.6 1431h1.4V1486h-1.4zM618 1431h1V1486h-1zM620.9 1431h1.4V1486h-1.4zM632.8 1431h1.4V1486h-1.4zM635 1431h1V1486h-1zM640.7 1431h1V1486h-1zM642.5 1431h1V1486h-1zM644.6 1431h1.4V1486h-1.4zM646.9 1431h1.1V1486h-1.1zM649 1431h1.4V1486h-1.4zM651 1431h1.8V1486h-1.8zM653.3 1431h1.2V1486h-1.2zM654.7 1431h1.8V1486h-1.8zM657.7 1431h1.4V1486h-1.4zM659.4 1431h1V1486h-1zM662.5 1431h1.8V1486h-1.8zM664.7 1431h1.3V1486h-1.3zM666.5 1431h1.2V1486h-1.2zM668.4 1431h1V1486h-1zM670.9 1431h1.8V1486h-1.8zM675.6 1431h1.4V1486h-1.4zM678.7 1431h1.3V1486h-1.3zM681.5 1431h1.2V1486h-1.2zM683.7 1431h2.4V1486h-2.4zM688.6 1431h1V1486h-1zM691.1 1431h1.2V1486h-1.2zM694 1431h1.2V1486h-1.2zM696.2 1431h0.8V1486h-0.8zM758.3 1431h1.8V1486h-1.8zM772.6 1431h0.4V1486h-0.4zM777.4 1431h1.2V1486h-1.2zM778.7 1431h1V1486h-1zM780 1431h1.4V1486h-1.4zM781.9 1431h2.4V1486h-2.4zM784.9 1431h1.2V1486h-1.2zM786.4 1431h1.8V1486h-1.8zM788.8 1431h2.4V1486h-2.4zM792 1431h1V1486h-1zM793.1 1431h1.2V1486h-1.2zM794.5 1431h0.5V1486h-0.5zM799.3 1431h1.8V1486h-1.8zM803.3 1431h1.8V1486h-1.8zM805.8 1431h2.4V1486h-2.4zM809.3 1431h3V1486h-3zM816.4 1431h1.2V1486h-1.2zM818.4 1431h1V1486h-1zM820.9 1431h1.2V1486h-1.2zM823.8 1431h1.2V1486h-1.2zM826.9 1431h2.4V1486h-2.4zM831.4 1431h1V1486h-1zM833.5 1431h1V1486h-1zM834.9 1431h1.2V1486h-1.2zM836.5 1431h2.4V1486h-2.4zM841.9 1431h1.4V1486h-1.4zM847 1431h1.2V1486h-1.2zM849.1 1431h1.4V1486h-1.4zM851.9 1431h1.2V1486h-1.2zM856.1 1431h1.4V1486h-1.4zM857.6 1431h1.4V1486h-1.4zM859.1 1431h2.4V1486h-2.4zM861.6 1431h2.4V1486h-2.4zM864.3 1431h1.8V1486h-1.8zM866.3 1431h1.8V1486h-1.8zM868.2 1431h2.4V1486h-2.4zM870.7 1431h1V1486h-1zM873.1 1431h1.2V1486h-1.2zM875 1431h1.4V1486h-1.4zM876.7 1431h3V1486h-3zM881.3 1431h1.8V1486h-1.8zM886.9 1431h1.4V1486h-1.4zM889.5 1431h1.8V1486h-1.8zM892.5 1431h1.2V1486h-1.2zM894.7 1431h1.8V1486h-1.8zM902.4 1431h1.4V1486h-1.4zM904.3 1431h2.4V1486h-2.4zM908.1 1431h1V1486h-1zM910.3 1431h1.4V1486h-1.4zM912 1431h1V1486h-1zM913.1 1431h1.2V1486h-1.2zM914.7 1431h1.4V1486h-1.4zM916.7 1431h2.4V1486h-2.4zM919.3 1431h1.8V1486h-1.8zM921.9 1431h2.4V1486h-2.4zM924.8 1431h2.6V1486h-2.6z" fill="#000"/>
<path d="M597.7 1431h1.4V1486h-1.4zM616.4 1431h1.4V1486h-1.4zM619.3 1431h1V1486h-1zM637.1 1431h1.8V1486h-1.8zM660.6 1431h1.2V1486h-1.2zM764 1431h2.4V1486h-2.4zM845.5 1431h1V1486h-1zM884.5 1431h1.8V1486h-1.8zM898.4 1431h2.4V1486h-2.4z" fill="#6a6a6a"/>
<rect x="557.4" y="1486.7" width="1.3" height="14.8" fill="#190000"/>
<rect x="558.3" y="1486.7" width="1.3" height="14.8" fill="#270404"/>
<rect x="559.2" y="1486.7" width="1.3" height="14.8" fill="#340808"/>
<rect x="560.2" y="1486.7" width="1.3" height="14.8" fill="#420c0c"/>
<rect x="561.1" y="1486.7" width="1.3" height="14.8" fill="#4e1010"/>
<rect x="562" y="1486.7" width="1.4" height="14.8" fill="#671a1a"/>
<rect x="563" y="1486.7" width="1.4" height="14.8" fill="#611919"/>
<rect x="564" y="1486.7" width="1.4" height="14.8" fill="#771f1f"/>
<rect x="565" y="1486.7" width="1.4" height="14.8" fill="#792121"/>
<rect x="566" y="1486.7" width="1.4" height="14.8" fill="#882626"/>
<rect x="567" y="1486.7" width="1.4" height="14.8" fill="#882626"/>
<rect x="568" y="1486.7" width="1.4" height="14.8" fill="#8d2828"/>
<rect x="569" y="1486.7" width="1.4" height="14.8" fill="#9e2d2d"/>
<rect x="570" y="1486.7" width="1.4" height="14.8" fill="#b53535"/>
<rect x="571" y="1486.7" width="1.4" height="14.8" fill="#a43030"/>
<rect x="572" y="1486.7" width="1.4" height="14.8" fill="#bd3838"/>
<rect x="573" y="1486.7" width="1.4" height="14.8" fill="#cc3d3d"/>
<rect x="574" y="1486.7" width="1.4" height="14.8" fill="#cd3d3d"/>
<rect x="575" y="1486.7" width="1.4" height="14.8" fill="#df4848"/>
<rect x="576" y="1486.7" width="1.4" height="14.8" fill="#f54f4f"/>
<rect x="577" y="1486.7" width="1.4" height="14.8" fill="#e14949"/>
<rect x="578" y="1486.7" width="1.4" height="14.8" fill="#e94b4b"/>
<rect x="579" y="1486.7" width="1.4" height="14.8" fill="#e44a4a"/>
<rect x="580" y="1486.7" width="1.4" height="14.8" fill="#e74b4b"/>
<rect x="581" y="1486.7" width="1.4" height="14.8" fill="#dd4848"/>
<rect x="582" y="1486.7" width="1.4" height="14.8" fill="#da4747"/>
<rect x="583" y="1486.7" width="1.4" height="14.8" fill="#ef4e4e"/>
<rect x="584" y="1486.7" width="1.4" height="14.8" fill="#e34a4a"/>
<rect x="585" y="1486.7" width="1.4" height="14.8" fill="#e94c4c"/>
<rect x="586" y="1486.7" width="1.4" height="14.8" fill="#d74747"/>
<rect x="587" y="1486.7" width="1.4" height="14.8" fill="#ed4e4e"/>
<rect x="588" y="1486.7" width="1.4" height="14.8" fill="#f14f4f"/>
<rect x="589" y="1486.7" width="1.4" height="14.8" fill="#e64c4c"/>
<rect x="590" y="1486.7" width="1.4" height="14.8" fill="#d44646"/>
<rect x="591" y="1486.7" width="1.4" height="14.8" fill="#ec4e4e"/>
<rect x="592" y="1486.7" width="1.4" height="14.8" fill="#d44646"/>
<rect x="593" y="1486.7" width="1.4" height="14.8" fill="#eb4e4e"/>
<rect x="594" y="1486.7" width="1.4" height="14.8" fill="#ee4f4f"/>
<rect x="595" y="1486.7" width="1.4" height="14.8" fill="#d84848"/>
<rect x="596" y="1486.7" width="1.4" height="14.8" fill="#de4a4a"/>
<rect x="597" y="1486.7" width="1.4" height="14.8" fill="#d74848"/>
<rect x="598" y="1486.7" width="1.4" height="14.8" fill="#dd4a4a"/>
<rect x="599" y="1486.7" width="1.4" height="14.8" fill="#d74848"/>
<rect x="600" y="1486.7" width="1.4" height="14.8" fill="#d54848"/>
<rect x="601" y="1486.7" width="1.4" height="14.8" fill="#d44848"/>
<rect x="602" y="1486.7" width="1.4" height="14.8" fill="#ee5050"/>
<rect x="603" y="1486.7" width="1.4" height="14.8" fill="#e94f4f"/>
<rect x="604" y="1486.7" width="1.4" height="14.8" fill="#f35252"/>
<rect x="605" y="1486.7" width="1.4" height="14.8" fill="#e44d4d"/>
<rect x="606" y="1486.7" width="1.4" height="14.8" fill="#f65454"/>
<rect x="607" y="1486.7" width="1.4" height="14.8" fill="#db4a4a"/>
<rect x="608" y="1486.7" width="1.4" height="14.8" fill="#e74f4f"/>
<rect x="609" y="1486.7" width="1.4" height="14.8" fill="#e54e4e"/>
<rect x="610" y="1486.7" width="1.4" height="14.8" fill="#dc4b4b"/>
<rect x="611" y="1486.7" width="1.4" height="14.8" fill="#df4d4d"/>
<rect x="612" y="1486.7" width="1.4" height="14.8" fill="#db4b4b"/>
<rect x="613" y="1486.7" width="1.4" height="14.8" fill="#e95050"/>
<rect x="614" y="1486.7" width="1.4" height="14.8" fill="#e14e4e"/>
<rect x="615" y="1486.7" width="1.4" height="14.8" fill="#ee5252"/>
<rect x="616" y="1486.7" width="1.4" height="14.8" fill="#ed5252"/>
<rect x="617" y="1486.7" width="1.4" height="14.8" fill="#e85050"/>
<rect x="618" y="1486.7" width="1.4" height="14.8" fill="#e34f4f"/>
<rect x="619" y="1486.7" width="1.4" height="14.8" fill="#e75050"/>
<rect x="620" y="1486.7" width="1.4" height="14.8" fill="#f35555"/>
<rect x="621" y="1486.7" width="1.4" height="14.8" fill="#ed5353"/>
<rect x="622" y="1486.7" width="1.4" height="14.8" fill="#e75151"/>
<rect x="623" y="1486.7" width="1.4" height="14.8" fill="#e95151"/>
<rect x="624" y="1486.7" width="1.4" height="14.8" fill="#ff5959"/>
<rect x="625" y="1486.7" width="1.4" height="14.8" fill="#e85151"/>
<rect x="626" y="1486.7" width="1.4" height="14.8" fill="#ea5252"/>
<rect x="627" y="1486.7" width="1.4" height="14.8" fill="#f45656"/>
<rect x="628" y="1486.7" width="1.4" height="14.8" fill="#e85252"/>
<rect x="629" y="1486.7" width="1.4" height="14.8" fill="#de4e4e"/>
<rect x="630" y="1486.7" width="1.4" height="14.8" fill="#e55151"/>
<rect x="631" y="1486.7" width="1.4" height="14.8" fill="#ea5353"/>
<rect x="632" y="1486.7" width="1.4" height="14.8" fill="#ed5454"/>
<rect x="633" y="1486.7" width="1.4" height="14.8" fill="#ec5454"/>
<rect x="634" y="1486.7" width="1.4" height="14.8" fill="#e45151"/>
<rect x="635" y="1486.7" width="1.4" height="14.8" fill="#f05555"/>
<rect x="636" y="1486.7" width="1.4" height="14.8" fill="#f65858"/>
<rect x="637" y="1486.7" width="1.4" height="14.8" fill="#e25151"/>
<rect x="638" y="1486.7" width="1.4" height="14.8" fill="#ff5e5e"/>
<rect x="639" y="1486.7" width="1.4" height="14.8" fill="#e45252"/>
<rect x="640" y="1486.7" width="1.4" height="14.8" fill="#ff6767"/>
<rect x="641" y="1486.7" width="1.4" height="14.8" fill="#ff6868"/>
<rect x="642" y="1486.7" width="1.4" height="14.8" fill="#fd6969"/>
<rect x="643" y="1486.7" width="1.4" height="14.8" fill="#fb6969"/>
<rect x="644" y="1486.7" width="1.4" height="14.8" fill="#e46161"/>
<rect x="645" y="1486.7" width="1.4" height="14.8" fill="#e96565"/>
<rect x="646" y="1486.7" width="1.4" height="14.8" fill="#f76c6c"/>
<rect x="647" y="1486.7" width="1.4" height="14.8" fill="#e66767"/>
<rect x="648" y="1486.7" width="1.4" height="14.8" fill="#f87070"/>
<rect x="649" y="1486.7" width="1.4" height="14.8" fill="#e56969"/>
<rect x="650" y="1486.7" width="1.4" height="14.8" fill="#e36969"/>
<rect x="651" y="1486.7" width="1.4" height="14.8" fill="#f17272"/>
<rect x="652" y="1486.7" width="1.4" height="14.8" fill="#eb7070"/>
<rect x="653" y="1486.7" width="1.4" height="14.8" fill="#f47676"/>
<rect x="654" y="1486.7" width="1.4" height="14.8" fill="#ea7373"/>
<rect x="655" y="1486.7" width="1.4" height="14.8" fill="#df6f6f"/>
<rect x="656" y="1486.7" width="1.4" height="14.8" fill="#f57b7b"/>
<rect x="657" y="1486.7" width="1.4" height="14.8" fill="#e37474"/>
<rect x="658" y="1486.7" width="1.4" height="14.8" fill="#ec7a7a"/>
<rect x="659" y="1486.7" width="1.4" height="14.8" fill="#fd8484"/>
<rect x="660" y="1486.7" width="1.4" height="14.8" fill="#ff8888"/>
<rect x="661" y="1486.7" width="1.4" height="14.8" fill="#ea7e7e"/>
<rect x="662" y="1486.7" width="1.4" height="14.8" fill="#ed8080"/>
<rect x="663" y="1486.7" width="1.4" height="14.8" fill="#f08484"/>
<rect x="664" y="1486.7" width="1.4" height="14.8" fill="#fa8b8b"/>
<rect x="665" y="1486.7" width="1.4" height="14.8" fill="#ff8f8f"/>
<rect x="666" y="1486.7" width="1.4" height="14.8" fill="#ed8787"/>
<rect x="667" y="1486.7" width="1.4" height="14.8" fill="#ea8787"/>
<rect x="668" y="1486.7" width="1.4" height="14.8" fill="#f8bae3"/>
<rect x="669" y="1486.7" width="1.4" height="14.8" fill="#f9bbe4"/>
<rect x="670" y="1486.7" width="1.4" height="14.8" fill="#fabce5"/>
<rect x="671" y="1486.7" width="1.4" height="14.8" fill="#f7bae2"/>
<rect x="672" y="1486.7" width="1.4" height="14.8" fill="#f8bae3"/>
<rect x="673" y="1486.7" width="1.4" height="14.8" fill="#f7b9e2"/>
<rect x="674" y="1486.7" width="1.4" height="14.8" fill="#f9bbe4"/>
<rect x="675" y="1486.7" width="1.4" height="14.8" fill="#fabce5"/>
<rect x="676" y="1486.7" width="1.4" height="14.8" fill="#f9bbe4"/>
<rect x="676.9" y="1486.7" width="1.4" height="14.8" fill="#f8bae3"/>
<rect x="677.9" y="1486.7" width="1.4" height="14.8" fill="#f9bbe4"/>
<rect x="678.9" y="1486.7" width="1.4" height="14.8" fill="#f9bbe4"/>
<rect x="679.9" y="1486.7" width="1.4" height="14.8" fill="#fabbe5"/>
<rect x="680.9" y="1486.7" width="1.4" height="14.8" fill="#f9bbe4"/>
<rect x="681.9" y="1486.7" width="1.4" height="14.8" fill="#f8bae3"/>
<rect x="682.9" y="1486.7" width="1.4" height="14.8" fill="#f9bbe4"/>
<rect x="683.9" y="1486.7" width="1.4" height="14.8" fill="#fabce5"/>
<rect x="684.9" y="1486.7" width="1.4" height="14.8" fill="#f8bae3"/>
<rect x="685.9" y="1486.7" width="1.4" height="14.8" fill="#f9bbe4"/>
<rect x="686.9" y="1486.7" width="1.4" height="14.8" fill="#f9bbe4"/>
<rect x="687.9" y="1486.7" width="1.4" height="14.8" fill="#f9bbe4"/>
<rect x="688.9" y="1486.7" width="1.4" height="14.8" fill="#f6b9e2"/>
<rect x="689.9" y="1486.7" width="1.4" height="14.8" fill="#fabce5"/>
<rect x="690.9" y="1486.7" width="1.4" height="14.8" fill="#f8bae3"/>
<rect x="691.9" y="1486.7" width="1.4" height="14.8" fill="#f9bbe4"/>
<rect x="692.8" y="1486.7" width="1.4" height="14.8" fill="#f7b9e2"/>
<rect x="693.8" y="1486.7" width="1.4" height="14.8" fill="#f8bae3"/>
<rect x="694.8" y="1486.7" width="1.4" height="14.8" fill="#f7bae2"/>
<rect x="695.8" y="1486.7" width="1.4" height="14.8" fill="#f9bbe4"/>
<rect x="696.8" y="1486.7" width="1.4" height="14.8" fill="#fabbe4"/>
<rect x="697.8" y="1486.7" width="1.4" height="14.8" fill="#f9bbe4"/>
<rect x="698.8" y="1486.7" width="1.4" height="14.8" fill="#f9bbe4"/>
<rect x="699.8" y="1486.7" width="1.4" height="14.8" fill="#f9bbe4"/>
<rect x="700.8" y="1486.7" width="1.4" height="14.8" fill="#fabce5"/>
<rect x="701.8" y="1486.7" width="1.4" height="14.8" fill="#f9bbe4"/>
<rect x="702.8" y="1486.7" width="1.4" height="14.8" fill="#fabbe4"/>
<rect x="703.8" y="1486.7" width="1.4" height="14.8" fill="#f8bae3"/>
<rect x="704.8" y="1486.7" width="1.4" height="14.8" fill="#fabbe4"/>
<rect x="705.8" y="1486.7" width="1.4" height="14.8" fill="#f8bae3"/>
<rect x="706.8" y="1486.7" width="1.4" height="14.8" fill="#f9bbe4"/>
<rect x="707.8" y="1486.7" width="1.4" height="14.8" fill="#f7b9e2"/>
<rect x="708.8" y="1486.7" width="1.4" height="14.8" fill="#f8bbe4"/>
<rect x="709.7" y="1486.7" width="1.4" height="14.8" fill="#fabbe5"/>
<rect x="710.7" y="1486.7" width="1.4" height="14.8" fill="#f9bbe4"/>
<rect x="711.7" y="1486.7" width="1.4" height="14.8" fill="#f8bae3"/>
<rect x="712.7" y="1486.7" width="1.4" height="14.8" fill="#fabce5"/>
<rect x="713.7" y="1486.7" width="1.4" height="14.8" fill="#f8bae3"/>
<rect x="714.7" y="1486.7" width="1.4" height="14.8" fill="#f9bbe4"/>
<rect x="715.7" y="1486.7" width="1.4" height="14.8" fill="#f9bbe4"/>
<rect x="716.7" y="1486.7" width="1.4" height="14.8" fill="#f9bbe4"/>
<rect x="717.7" y="1486.7" width="1.4" height="14.8" fill="#fabce5"/>
<rect x="718.7" y="1486.7" width="1.4" height="14.8" fill="#f8bae3"/>
<rect x="719.7" y="1486.7" width="1.4" height="14.8" fill="#fabce5"/>
<rect x="720.7" y="1486.7" width="1.4" height="14.8" fill="#fabce5"/>
<rect x="721.7" y="1486.7" width="1.4" height="14.8" fill="#f9bbe4"/>
<rect x="722.7" y="1486.7" width="1.4" height="14.8" fill="#f9bbe4"/>
<rect x="723.7" y="1486.7" width="1.4" height="14.8" fill="#f8bae3"/>
<rect x="724.7" y="1486.7" width="1.4" height="14.8" fill="#f8bae3"/>
<rect x="725.6" y="1486.7" width="1.4" height="14.8" fill="#fabbe4"/>
<rect x="726.6" y="1486.7" width="1.4" height="14.8" fill="#f9bbe4"/>
<rect x="727.6" y="1486.7" width="1.4" height="14.8" fill="#fabce5"/>
<rect x="728.6" y="1486.7" width="1.4" height="14.8" fill="#f9bbe4"/>
<rect x="729.6" y="1486.7" width="1.4" height="14.8" fill="#fabbe5"/>
<rect x="730.6" y="1486.7" width="1.4" height="14.8" fill="#f8bae3"/>
<rect x="731.6" y="1486.7" width="1.4" height="14.8" fill="#fabce5"/>
<rect x="732.6" y="1486.7" width="1.4" height="14.8" fill="#fabce5"/>
<rect x="733.6" y="1486.7" width="1.4" height="14.8" fill="#fabce5"/>
<rect x="734.6" y="1486.7" width="1.4" height="14.8" fill="#f8bae3"/>
<rect x="735.6" y="1486.7" width="1.4" height="14.8" fill="#f8bae3"/>
<rect x="736.6" y="1486.7" width="1.4" height="14.8" fill="#f9bbe4"/>
<rect x="737.6" y="1486.7" width="1.4" height="14.8" fill="#f9bbe4"/>
<rect x="738.6" y="1486.7" width="1.4" height="14.8" fill="#fabce5"/>
<rect x="739.6" y="1486.7" width="1.4" height="14.8" fill="#fabce5"/>
<rect x="740.6" y="1486.7" width="1.4" height="14.8" fill="#f9bbe4"/>
<rect x="741.6" y="1486.7" width="1.4" height="14.8" fill="#f6b9e2"/>
<rect x="742.5" y="1486.7" width="1.4" height="14.8" fill="#fbbde6"/>
<rect x="743.5" y="1486.7" width="1.4" height="14.8" fill="#fbbce5"/>
<rect x="744.5" y="1486.7" width="1.4" height="14.8" fill="#fabbe5"/>
<rect x="745.5" y="1486.7" width="1.4" height="14.8" fill="#fabce5"/>
<rect x="746.5" y="1486.7" width="1.4" height="14.8" fill="#f9bbe4"/>
<rect x="747.5" y="1486.7" width="1.4" height="14.8" fill="#f9bbe4"/>
<rect x="748.5" y="1486.7" width="1.4" height="14.8" fill="#f9bbe4"/>
<rect x="749.5" y="1486.7" width="1.4" height="14.8" fill="#f8bbe4"/>
<rect x="750.5" y="1486.7" width="1.4" height="14.8" fill="#fbbce6"/>
<rect x="751.5" y="1486.7" width="1.4" height="14.8" fill="#f8bae3"/>
<rect x="752.5" y="1486.7" width="1.4" height="14.8" fill="#f9bbe4"/>
<rect x="753.5" y="1486.7" width="1.4" height="14.8" fill="#f7bae2"/>
<rect x="754.5" y="1486.7" width="1.4" height="14.8" fill="#fabbe5"/>
<rect x="755.5" y="1486.7" width="1.4" height="14.8" fill="#fabbe4"/>
<rect x="756.5" y="1486.7" width="1.4" height="14.8" fill="#f8bae3"/>
<rect x="757.5" y="1486.7" width="1.4" height="14.8" fill="#fbbce6"/>
<rect x="758.4" y="1486.7" width="1.4" height="14.8" fill="#f9bbe4"/>
<rect x="759.4" y="1486.7" width="1.4" height="14.8" fill="#fbbce5"/>
<rect x="760.4" y="1486.7" width="1.4" height="14.8" fill="#fabce5"/>
<rect x="761.4" y="1486.7" width="1.4" height="14.8" fill="#f8bae3"/>
<rect x="762.4" y="1486.7" width="1.4" height="14.8" fill="#f8bae3"/>
<rect x="763.4" y="1486.7" width="1.4" height="14.8" fill="#fabce5"/>
<rect x="764.4" y="1486.7" width="1.4" height="14.8" fill="#f7bae2"/>
<rect x="765.4" y="1486.7" width="1.4" height="14.8" fill="#fbbde6"/>
<rect x="766.4" y="1486.7" width="1.4" height="14.8" fill="#d3d3fb"/>
<rect x="767.4" y="1486.7" width="1.4" height="14.8" fill="#d2d2fa"/>
<rect x="768.4" y="1486.7" width="1.4" height="14.8" fill="#d1d1fa"/>
<rect x="769.4" y="1486.7" width="1.4" height="14.8" fill="#d3d3fb"/>
<rect x="770.4" y="1486.7" width="1.4" height="14.8" fill="#d0d0f8"/>
<rect x="771.4" y="1486.7" width="1.4" height="14.8" fill="#d2d2fb"/>
<rect x="772.4" y="1486.7" width="1.4" height="14.8" fill="#d0d0f8"/>
<rect x="773.4" y="1486.7" width="1.4" height="14.8" fill="#d2d2fa"/>
<rect x="774.4" y="1486.7" width="1.4" height="14.8" fill="#d2d2fa"/>
<rect x="775.4" y="1486.7" width="1.4" height="14.8" fill="#d1d1f9"/>
<rect x="776.4" y="1486.7" width="1.4" height="14.8" fill="#d0d0f9"/>
<rect x="777.4" y="1486.7" width="1.4" height="14.8" fill="#d0d0f9"/>
<rect x="778.4" y="1486.7" width="1.4" height="14.8" fill="#d1d1fa"/>
<rect x="779.4" y="1486.7" width="1.4" height="14.8" fill="#d1d1fa"/>
<rect x="780.4" y="1486.7" width="1.4" height="14.8" fill="#d0d0f9"/>
<rect x="781.4" y="1486.7" width="1.4" height="14.8" fill="#d0d0fa"/>
<rect x="782.4" y="1486.7" width="1.4" height="14.8" fill="#d0d0fa"/>
<rect x="783.4" y="1486.7" width="1.4" height="14.8" fill="#d1d1fb"/>
<rect x="784.4" y="1486.7" width="1.4" height="14.8" fill="#cfcff8"/>
<rect x="785.4" y="1486.7" width="1.4" height="14.8" fill="#d0d0f9"/>
<rect x="786.4" y="1486.7" width="1.4" height="14.8" fill="#cecef8"/>
<rect x="787.4" y="1486.7" width="1.4" height="14.8" fill="#d0d0fa"/>
<rect x="788.4" y="1486.7" width="1.4" height="14.8" fill="#cecef8"/>
<rect x="789.4" y="1486.7" width="1.4" height="14.8" fill="#cfcff9"/>
<rect x="790.4" y="1486.7" width="1.4" height="14.8" fill="#d0d0f9"/>
<rect x="791.4" y="1486.7" width="1.4" height="14.8" fill="#cfcff9"/>
<rect x="792.4" y="1486.7" width="1.4" height="14.8" fill="#cecef8"/>
<rect x="793.4" y="1486.7" width="1.4" height="14.8" fill="#cecef8"/>
<rect x="794.4" y="1486.7" width="1.4" height="14.8" fill="#d0d0fa"/>
<rect x="795.4" y="1486.7" width="1.4" height="14.8" fill="#cfcffa"/>
<rect x="796.4" y="1486.7" width="1.4" height="14.8" fill="#cecef8"/>
<rect x="797.4" y="1486.7" width="1.4" height="14.8" fill="#d0d0fb"/>
<rect x="798.4" y="1486.7" width="1.4" height="14.8" fill="#cecef8"/>
<rect x="799.4" y="1486.7" width="1.4" height="14.8" fill="#cecef8"/>
<rect x="800.4" y="1486.7" width="1.4" height="14.8" fill="#cfcff9"/>
<rect x="801.4" y="1486.7" width="1.4" height="14.8" fill="#cecef9"/>
<rect x="802.4" y="1486.7" width="1.4" height="14.8" fill="#cecef9"/>
<rect x="803.4" y="1486.7" width="1.4" height="14.8" fill="#cdcdf7"/>
<rect x="804.4" y="1486.7" width="1.4" height="14.8" fill="#cecef9"/>
<rect x="805.4" y="1486.7" width="1.4" height="14.8" fill="#cdcdf7"/>
<rect x="806.4" y="1486.7" width="1.4" height="14.8" fill="#cdcdf7"/>
<rect x="807.4" y="1486.7" width="1.4" height="14.8" fill="#ccccf7"/>
<rect x="808.4" y="1486.7" width="1.4" height="14.8" fill="#cdcdf7"/>
<rect x="809.4" y="1486.7" width="1.4" height="14.8" fill="#cdcdf8"/>
<rect x="810.4" y="1486.7" width="1.4" height="14.8" fill="#cdcdf8"/>
<rect x="811.3" y="1486.7" width="1.4" height="14.8" fill="#cdcdf7"/>
<rect x="812.3" y="1486.7" width="1.4" height="14.8" fill="#cdcdf9"/>
<rect x="813.3" y="1486.7" width="1.4" height="14.8" fill="#cdcdf8"/>
<rect x="814.3" y="1486.7" width="1.4" height="14.8" fill="#cdcdf8"/>
<rect x="815.3" y="1486.7" width="1.4" height="14.8" fill="#ccccf8"/>
<rect x="816.3" y="1486.7" width="1.4" height="14.8" fill="#cacaf5"/>
<rect x="817.3" y="1486.7" width="1.4" height="14.8" fill="#cdcdf8"/>
<rect x="818.3" y="1486.7" width="1.4" height="14.8" fill="#cbcbf7"/>
<rect x="819.3" y="1486.7" width="1.4" height="14.8" fill="#ccccf7"/>
<rect x="820.3" y="1486.7" width="1.4" height="14.8" fill="#ccccf8"/>
<rect x="821.3" y="1486.7" width="1.4" height="14.8" fill="#ccccf8"/>
<rect x="822.3" y="1486.7" width="1.4" height="14.8" fill="#cbcbf7"/>
<rect x="823.3" y="1486.7" width="1.4" height="14.8" fill="#ccccf8"/>
<rect x="824.3" y="1486.7" width="1.4" height="14.8" fill="#cbcbf7"/>
<rect x="825.3" y="1486.7" width="1.4" height="14.8" fill="#cacaf6"/>
<rect x="826.3" y="1486.7" width="1.4" height="14.8" fill="#cbcbf7"/>
<rect x="827.3" y="1486.7" width="1.4" height="14.8" fill="#cacaf6"/>
<rect x="828.3" y="1486.7" width="1.4" height="14.8" fill="#cacaf5"/>
<rect x="829.3" y="1486.7" width="1.4" height="14.8" fill="#cbcbf7"/>
<rect x="830.3" y="1486.7" width="1.4" height="14.8" fill="#cbcbf8"/>
<rect x="831.3" y="1486.7" width="1.4" height="14.8" fill="#cbcbf7"/>
<rect x="832.3" y="1486.7" width="1.4" height="14.8" fill="#cacaf6"/>
<rect x="833.3" y="1486.7" width="1.4" height="14.8" fill="#cacaf6"/>
<rect x="834.3" y="1486.7" width="1.4" height="14.8" fill="#cbcbf7"/>
<rect x="835.3" y="1486.7" width="1.4" height="14.8" fill="#c9c9f5"/>
<rect x="836.3" y="1486.7" width="1.4" height="14.8" fill="#c9c9f6"/>
<rect x="837.3" y="1486.7" width="1.4" height="14.8" fill="#cacaf6"/>
<rect x="838.3" y="1486.7" width="1.4" height="14.8" fill="#c9c9f5"/>
<rect x="839.3" y="1486.7" width="1.4" height="14.8" fill="#c9c9f6"/>
<rect x="840.3" y="1486.7" width="1.4" height="14.8" fill="#c8c8f5"/>
<rect x="841.3" y="1486.7" width="1.4" height="14.8" fill="#c9c9f6"/>
<rect x="842.3" y="1486.7" width="1.4" height="14.8" fill="#cacaf7"/>
<rect x="843.3" y="1486.7" width="1.4" height="14.8" fill="#ccccfa"/>
<rect x="844.3" y="1486.7" width="1.4" height="14.8" fill="#c9c9f6"/>
<rect x="845.3" y="1486.7" width="1.4" height="14.8" fill="#cacaf7"/>
<rect x="846.3" y="1486.7" width="1.4" height="14.8" fill="#c8c8f5"/>
<rect x="847.3" y="1486.7" width="1.4" height="14.8" fill="#c9c9f6"/>
<rect x="848.3" y="1486.7" width="1.4" height="14.8" fill="#c9c9f6"/>
<rect x="849.3" y="1486.7" width="1.4" height="14.8" fill="#c8c8f6"/>
<rect x="850.3" y="1486.7" width="1.4" height="14.8" fill="#c9c9f7"/>
<rect x="851.3" y="1486.7" width="1.4" height="14.8" fill="#c9c9f7"/>
<rect x="852.3" y="1486.7" width="1.4" height="14.8" fill="#c8c8f6"/>
<rect x="853.3" y="1486.7" width="1.4" height="14.8" fill="#c7c7f5"/>
<rect x="854.3" y="1486.7" width="1.4" height="14.8" fill="#c8c8f6"/>
<rect x="855.3" y="1486.7" width="1.4" height="14.8" fill="#c8c8f6"/>
<rect x="856.3" y="1486.7" width="1.4" height="14.8" fill="#7878e1"/>
<rect x="857.3" y="1486.7" width="1.4" height="14.8" fill="#7c7be8"/>
<rect x="858.3" y="1486.7" width="1.4" height="14.8" fill="#7b7ae7"/>
<rect x="859.3" y="1486.7" width="1.4" height="14.8" fill="#7c7aea"/>
<rect x="860.3" y="1486.7" width="1.4" height="14.8" fill="#7877e4"/>
<rect x="861.3" y="1486.7" width="1.4" height="14.8" fill="#7d7aed"/>
<rect x="862.3" y="1486.7" width="1.4" height="14.8" fill="#817ff7"/>
<rect x="863.3" y="1486.7" width="1.4" height="14.8" fill="#7572e0"/>
<rect x="864.3" y="1486.7" width="1.4" height="14.8" fill="#7c79ef"/>
<rect x="865.2" y="1486.7" width="1.4" height="14.8" fill="#7370de"/>
<rect x="866.2" y="1486.7" width="1.4" height="14.8" fill="#7773e6"/>
<rect x="867.2" y="1486.7" width="1.4" height="14.8" fill="#6c68d2"/>
<rect x="868.2" y="1486.7" width="1.4" height="14.8" fill="#7772e7"/>
<rect x="869.2" y="1486.7" width="1.4" height="14.8" fill="#6e69d7"/>
<rect x="870.2" y="1486.7" width="1.4" height="14.8" fill="#6c67d4"/>
<rect x="871.2" y="1486.7" width="1.4" height="14.8" fill="#736ee3"/>
<rect x="872.2" y="1486.7" width="1.4" height="14.8" fill="#7e77f9"/>
<rect x="873.2" y="1486.7" width="1.4" height="14.8" fill="#7069dd"/>
<rect x="874.2" y="1486.7" width="1.4" height="14.8" fill="#6e67da"/>
<rect x="875.2" y="1486.7" width="1.4" height="14.8" fill="#756eea"/>
<rect x="876.2" y="1486.7" width="1.4" height="14.8" fill="#766deb"/>
<rect x="877.2" y="1486.7" width="1.4" height="14.8" fill="#6860d0"/>
<rect x="878.2" y="1486.7" width="1.4" height="14.8" fill="#786ef1"/>
<rect x="879.2" y="1486.7" width="1.4" height="14.8" fill="#6c63da"/>
<rect x="880.2" y="1486.7" width="1.4" height="14.8" fill="#655dce"/>
<rect x="881.2" y="1486.7" width="1.4" height="14.8" fill="#7066e3"/>
<rect x="882.1" y="1486.7" width="1.4" height="14.8" fill="#7167e8"/>
<rect x="883.1" y="1486.7" width="1.4" height="14.8" fill="#6d62df"/>
<rect x="884.1" y="1486.7" width="1.4" height="14.8" fill="#6e63e3"/>
<rect x="885.1" y="1486.7" width="1.4" height="14.8" fill="#776af5"/>
<rect x="886.1" y="1486.7" width="1.4" height="14.8" fill="#6b5fdd"/>
<rect x="887.1" y="1486.7" width="1.4" height="14.8" fill="#6e62e5"/>
<rect x="888.1" y="1486.7" width="1.4" height="14.8" fill="#7163eb"/>
<rect x="889.1" y="1486.7" width="1.4" height="14.8" fill="#6a5ddd"/>
<rect x="890.1" y="1486.7" width="1.4" height="14.8" fill="#685bdb"/>
<rect x="891.1" y="1486.7" width="1.4" height="14.8" fill="#685adb"/>
<rect x="892.1" y="1486.7" width="1.4" height="14.8" fill="#685adc"/>
<rect x="893.1" y="1486.7" width="1.4" height="14.8" fill="#6658da"/>
<rect x="894.1" y="1486.7" width="1.4" height="14.8" fill="#695ae1"/>
<rect x="895.1" y="1486.7" width="1.4" height="14.8" fill="#6253d1"/>
<rect x="896.1" y="1486.7" width="1.4" height="14.8" fill="#6e5dec"/>
<rect x="897.1" y="1486.7" width="1.4" height="14.8" fill="#6b5ae8"/>
<rect x="898.1" y="1486.7" width="1.4" height="14.8" fill="#6253d6"/>
<rect x="899" y="1486.7" width="1.4" height="14.8" fill="#6756e1"/>
<rect x="900" y="1486.7" width="1.4" height="14.8" fill="#6554dd"/>
<rect x="901" y="1486.7" width="1.4" height="14.8" fill="#6a57e8"/>
<rect x="902" y="1486.7" width="1.4" height="14.8" fill="#6553df"/>
<rect x="903" y="1486.7" width="1.4" height="14.8" fill="#6451dd"/>
<rect x="904" y="1486.7" width="1.4" height="14.8" fill="#6955ea"/>
<rect x="905" y="1486.7" width="1.4" height="14.8" fill="#614ed9"/>
<rect x="906" y="1486.7" width="1.4" height="14.8" fill="#6350df"/>
<rect x="907" y="1486.7" width="1.4" height="14.8" fill="#2611d3"/>
<rect x="908" y="1486.7" width="1.4" height="14.8" fill="#220fbc"/>
<rect x="908.9" y="1486.7" width="1.4" height="14.8" fill="#230fc2"/>
<rect x="909.9" y="1486.7" width="1.4" height="14.8" fill="#2310c5"/>
<rect x="910.8" y="1486.7" width="1.4" height="14.8" fill="#2812de"/>
<rect x="911.8" y="1486.7" width="1.4" height="14.8" fill="#2511ce"/>
<rect x="912.8" y="1486.7" width="1.4" height="14.8" fill="#2611d4"/>
<rect x="913.7" y="1486.7" width="1.4" height="14.8" fill="#2410c9"/>
<rect x="914.7" y="1486.7" width="1.4" height="14.8" fill="#2310c3"/>
<rect x="915.7" y="1486.7" width="1.4" height="14.8" fill="#2511cf"/>
<rect x="916.6" y="1486.7" width="1.4" height="14.8" fill="#2611d2"/>
<rect x="917.6" y="1486.7" width="1.4" height="14.8" fill="#2310c4"/>
<rect x="918.5" y="1486.7" width="1.4" height="14.8" fill="#2510cc"/>
<rect x="919.5" y="1486.7" width="1.4" height="14.8" fill="#3f08a1"/>
<rect x="920.5" y="1486.7" width="1.4" height="14.8" fill="#3d089a"/>
<rect x="921.5" y="1486.7" width="1.4" height="14.8" fill="#3b0897"/>
<rect x="922.5" y="1486.7" width="1.4" height="14.8" fill="#37078d"/>
<rect x="923.5" y="1486.7" width="1.4" height="14.8" fill="#3e089c"/>
<rect x="924.4" y="1486.7" width="1.4" height="14.8" fill="#3d089b"/>
<rect x="925.4" y="1486.7" width="1.4" height="14.8" fill="#3b0895"/>
<rect x="926.4" y="1486.7" width="1.4" height="14.8" fill="#3b0897"/>
<rect x="621.7" y="1486.7" width="1.2" height="14.8" fill="#902020" opacity="0.6"/>
<rect x="631.6" y="1486.7" width="1.2" height="14.8" fill="#902020" opacity="0.6"/>
<rect x="615.2" y="1486.7" width="1.2" height="14.8" fill="#902020" opacity="0.6"/>
<rect x="568" y="1486.7" width="1.2" height="14.8" fill="#902020" opacity="0.6"/>
<rect x="636.5" y="1486.7" width="1.2" height="14.8" fill="#902020" opacity="0.6"/>
<rect x="629.3" y="1486.7" width="1.2" height="14.8" fill="#902020" opacity="0.6"/>
<rect x="634.1" y="1486.7" width="1.2" height="14.8" fill="#902020" opacity="0.6"/>
<rect x="661.6" y="1486.7" width="1.2" height="14.8" fill="#902020" opacity="0.6"/>
<rect x="628.3" y="1486.7" width="1.2" height="14.8" fill="#902020" opacity="0.6"/>
<rect x="597.2" y="1486.7" width="1.2" height="14.8" fill="#902020" opacity="0.6"/>
<rect x="634.8" y="1486.7" width="1.2" height="14.8" fill="#902020" opacity="0.6"/>
<rect x="633" y="1486.7" width="1.2" height="14.8" fill="#902020" opacity="0.6"/>
<rect x="634.8" y="1486.7" width="1.2" height="14.8" fill="#902020" opacity="0.6"/>
<rect x="575.9" y="1486.7" width="1.2" height="14.8" fill="#902020" opacity="0.6"/>
<rect x="659.3" y="1486.7" width="1.2" height="14.8" fill="#902020" opacity="0.6"/>
<rect x="659.7" y="1486.7" width="1.2" height="14.8" fill="#902020" opacity="0.6"/>
<rect x="599.3" y="1486.7" width="1.2" height="14.8" fill="#902020" opacity="0.6"/>
<rect x="616.5" y="1486.7" width="1.2" height="14.8" fill="#902020" opacity="0.6"/>
<rect x="617" y="1486.7" width="1.2" height="14.8" fill="#902020" opacity="0.6"/>
<rect x="581.2" y="1486.7" width="1.2" height="14.8" fill="#902020" opacity="0.6"/>
<rect x="624.6" y="1486.7" width="1.2" height="14.8" fill="#902020" opacity="0.6"/>
<rect x="601.5" y="1486.7" width="1.2" height="14.8" fill="#902020" opacity="0.6"/>
<rect x="631" y="1486.7" width="1.2" height="14.8" fill="#902020" opacity="0.6"/>
<rect x="628.3" y="1486.7" width="1.2" height="14.8" fill="#902020" opacity="0.6"/>
<rect x="610.8" y="1486.7" width="1.2" height="14.8" fill="#902020" opacity="0.6"/>
<rect x="580.9" y="1486.7" width="1.2" height="14.8" fill="#902020" opacity="0.6"/>
<rect x="573.7" y="1486.7" width="1.2" height="14.8" fill="#902020" opacity="0.6"/>
<rect x="626.6" y="1486.7" width="1.2" height="14.8" fill="#902020" opacity="0.6"/>
<rect x="608.3" y="1486.7" width="1.2" height="14.8" fill="#902020" opacity="0.6"/>
<rect x="625.2" y="1486.7" width="1.2" height="14.8" fill="#902020" opacity="0.6"/>
<rect x="619.1" y="1486.7" width="1.2" height="14.8" fill="#902020" opacity="0.6"/>
<rect x="594.6" y="1486.7" width="1.2" height="14.8" fill="#902020" opacity="0.6"/>
<rect x="656.4" y="1486.7" width="1.2" height="14.8" fill="#902020" opacity="0.6"/>
<rect x="607.1" y="1486.7" width="1.2" height="14.8" fill="#902020" opacity="0.6"/>
<rect x="601.8" y="1486.7" width="1.2" height="14.8" fill="#902020" opacity="0.6"/>
<rect x="589.7" y="1486.7" width="1.2" height="14.8" fill="#902020" opacity="0.6"/>
<rect x="640.6" y="1486.7" width="1.2" height="14.8" fill="#902020" opacity="0.6"/>
<rect x="751.2" y="1486.7" width="1.2" height="14.8" fill="#c090b0" opacity="0.6"/>
<rect x="853.2" y="1486.7" width="1.2" height="14.8" fill="#a8a8d8" opacity="0.6"/>
<rect x="814.4" y="1486.7" width="1.2" height="14.8" fill="#a8a8d8" opacity="0.6"/>
<rect x="777.3" y="1486.7" width="1.2" height="14.8" fill="#a8a8d8" opacity="0.6"/>
<rect x="767.1" y="1486.7" width="1.2" height="14.8" fill="#a8a8d8" opacity="0.6"/>
<rect x="851.3" y="1486.7" width="1.2" height="14.8" fill="#a8a8d8" opacity="0.6"/>
<rect x="802.6" y="1486.7" width="1.2" height="14.8" fill="#a8a8d8" opacity="0.6"/>
<rect x="766.9" y="1486.7" width="1.2" height="14.8" fill="#a8a8d8" opacity="0.6"/>
<rect x="793.7" y="1486.7" width="1.2" height="14.8" fill="#a8a8d8" opacity="0.6"/>
<rect x="821.8" y="1486.7" width="1.2" height="14.8" fill="#a8a8d8" opacity="0.6"/>
<rect x="773.9" y="1486.7" width="1.2" height="14.8" fill="#a8a8d8" opacity="0.6"/>
<rect x="829.1" y="1486.7" width="1.2" height="14.8" fill="#a8a8d8" opacity="0.6"/>
<rect x="800.9" y="1486.7" width="1.2" height="14.8" fill="#a8a8d8" opacity="0.6"/>
<rect x="838.2" y="1486.7" width="1.2" height="14.8" fill="#a8a8d8" opacity="0.6"/>
<rect x="817.7" y="1486.7" width="1.2" height="14.8" fill="#a8a8d8" opacity="0.6"/>
<rect x="786.3" y="1486.7" width="1.2" height="14.8" fill="#a8a8d8" opacity="0.6"/>
<rect x="857.5" y="1486.7" width="1.2" height="14.8" fill="#5040c0" opacity="0.6"/>
<rect x="893.5" y="1486.7" width="1.2" height="14.8" fill="#5040c0" opacity="0.6"/>
<rect x="869.1" y="1486.7" width="1.2" height="14.8" fill="#5040c0" opacity="0.6"/>
<rect x="895.1" y="1486.7" width="1.2" height="14.8" fill="#5040c0" opacity="0.6"/>
<rect x="897.6" y="1486.7" width="1.2" height="14.8" fill="#5040c0" opacity="0.6"/>
<rect x="863.3" y="1486.7" width="1.2" height="14.8" fill="#5040c0" opacity="0.6"/>
<rect x="890" y="1486.7" width="1.2" height="14.8" fill="#5040c0" opacity="0.6"/>
<rect x="872" y="1486.7" width="1.2" height="14.8" fill="#5040c0" opacity="0.6"/>
<rect x="886.4" y="1486.7" width="1.2" height="14.8" fill="#5040c0" opacity="0.6"/>
<rect x="879.5" y="1486.7" width="1.2" height="14.8" fill="#5040c0" opacity="0.6"/>
<line x1="557.4" y1="1428.4" x2="946.4" y2="1428.4" stroke="#a8a8a8" stroke-width="1.3"/>
<line x1="557.4" y1="1486.3" x2="946.4" y2="1486.3" stroke="#a8a8a8" stroke-width="1.3"/>
<rect x="557.4" y="1253.4" width="389" height="248.1" fill="none" stroke="#a8a8a8" stroke-width="1.3"/>
<line x1="557.4" y1="1253.4" x2="557.4" y2="1501.5" stroke="#8a8a8a" stroke-width="1.3"/>
<path d="M557.6 1411.2 558.3 1380.6 559 1364.9 559.7 1354.5 560.4 1343.1 561.1 1333.9 561.8 1325.6 562.5 1317.6 563.2 1311 563.9 1304.9 564.6 1300.4 565.3 1294.9 566 1289.5 566.7 1285.8 567.4 1282.9 568.1 1279.5 568.8 1278.7 569.5 1276.1 570.2 1275 570.9 1273.2 571.6 1272.3 572.3 1271 573 1269.8 573.7 1269.5 574.4 1269.1 575.1 1268.1 575.8 1268.1 576.5 1266.9 577.2 1266.5 577.9 1266.2 578.6 1265.6 579.3 1264.7 580 1264.6 580.7 1263.8 581.4 1264 582.1 1263.3 582.8 1262.9 583.5 1263.2 584.2 1262.4 584.9 1262.7 585.6 1262 586.3 1262.3 587 1261.9 587.7 1261.2 588.4 1261.2 589.1 1261.6 589.8 1261.3 590.5 1261.6 591.2 1261.9 591.9 1261.1 592.6 1260.5 593.3 1261.2 594 1261.6 594.7 1261.5 595.4 1261.7 596.1 1261.9 596.8 1261.7 597.5 1262.3 598.2 1262.3 598.9 1262.7 599.6 1262.8 600.3 1263.2 601 1262.9 601.7 1263.8 602.4 1264.5 603.1 1263.4 603.8 1263.9 604.5 1264.9 605.2 1264.5 605.9 1265 606.6 1265.3 607.3 1265.6 608 1264.7 608.7 1265.6 609.4 1266.3 610.1 1267.2 610.8 1267.1 611.5 1267.4 612.2 1266.5 612.9 1267.3 613.6 1267.5 614.3 1268.4 615 1268.1 615.7 1268.3 616.4 1268.5 617.1 1268.8 617.8 1268.4 618.5 1269.2 619.2 1269.2 619.9 1269.8 620.6 1270.4 621.3 1270.1 622 1270 622.7 1271 623.4 1270.6 624.1 1270.7 624.8 1272.2 625.5 1272.7 626.2 1271.9 626.9 1272.6 627.6 1273.8 628.3 1272.8 629 1273.3 629.7 1274.1 630.4 1273.3 631.1 1274.3 631.8 1275.4 632.5 1275.6 633.2 1275.6 633.9 1276 634.6 1276.7 635.3 1277 636 1277.6 636.7 1278.2 637.4 1277.9 638.1 1279 638.8 1279 639.5 1279 640.2 1279.7 640.9 1279.7 641.6 1280.5 642.3 1280.9 643 1281.2 643.7 1282.1 644.4 1281.6 645.1 1282.6 645.8 1282.6 646.5 1283.2 647.2 1283.7 647.9 1284.3 648.6 1284.2 649.3 1284.8 650 1285.1 650.7 1285.5 651.4 1285.6 652.1 1285.3 652.8 1286.5 653.5 1286.4 654.2 1286.9 654.9 1286.7 655.6 1287 656.3 1287.5 657 1287.6 657.7 1288.1 658.4 1288.6 659.1 1288.9 659.8 1289.4 660.5 1288.8 661.2 1289.3 661.9 1290 662.6 1290.7 663.3 1291.2 664 1291.4 664.7 1292.4 665.4 1291.7 666.1 1292.8 666.8 1292.9 667.5 1293 668.2 1293.8 668.9 1294.2 669.6 1294.2 670.3 1295.2 671 1295.9 671.7 1296.2 672.4 1297.4 673.1 1296.9 673.8 1298.2 674.5 1298.3 675.2 1298.2 675.9 1299 676.6 1299.6 677.3 1300.2 678 1299.9 678.7 1300.9 679.4 1301.4 680.1 1302.2 680.8 1302.2 681.5 1302.3 682.2 1303.2 682.9 1303.9 683.6 1303.8 684.3 1303.9 685 1304.8 685.7 1305.1 686.4 1305.7 687.1 1305.6 687.8 1306.2 688.5 1307.3 689.2 1307.3 689.9 1307.1 690.6 1308 691.3 1307.7 692 1308.6 692.7 1309 693.4 1309.5 694.1 1310.3 694.8 1310.2 695.5 1310.3 696.2 1311.6 696.9 1312.8 697.6 1312.3 698.3 1312.9 699 1313.3 699.7 1313.1 700.4 1314.1 701.1 1314.4 701.8 1314.7 702.5 1315.6 703.2 1315.7 703.9 1315.5 704.6 1316.6 705.3 1316.1 706 1317.2 706.7 1317.6 707.4 1318.1 708.1 1318.2 708.8 1319.5 709.5 1320.1 710.2 1320.4 710.9 1320.8 711.6 1321.7 712.3 1321 713 1322.2 713.7 1321.9 714.4 1322.7 715.1 1323.2 715.8 1324 716.5 1324 717.2 1325.2 717.9 1325 718.6 1325.6 719.3 1325.9 720 1326.2 720.7 1326.8 721.4 1327.2 722.1 1328.1 722.8 1328.5 723.5 1328.5 724.2 1329.4 724.9 1329.6 725.6 1330.1 726.3 1331 727 1331.1 727.7 1332 728.4 1331.8 729.1 1332.3 729.8 1333.2 730.5 1333.3 731.2 1334.2 731.9 1334.1 732.6 1335 733.3 1335.3 734 1335.6 734.7 1336.6 735.4 1337 736.1 1337 736.8 1337.5 737.5 1338.7 738.2 1338.6 738.9 1339 739.6 1339.9 740.3 1340.9 741 1340.6 741.7 1341.4 742.4 1342.1 743.1 1341.8 743.8 1343 744.5 1343.1 745.2 1343.4 745.9 1344.1 746.6 1344.6 747.3 1345 748 1345.1 748.7 1345.7 749.4 1345.9 750.1 1346.6 750.8 1347 751.5 1347.6 752.2 1348.5 752.9 1348.7 753.6 1349.2 754.3 1349.7 755 1349.9 755.7 1351.1 756.4 1350.8 757.1 1352.2 757.8 1352.3 758.5 1353.1 759.2 1353.7 759.9 1353.8 760.6 1353.7 761.3 1354.3 762 1355.1 762.7 1355.6 763.4 1355.3 764.1 1356.6 764.8 1356.4 765.5 1357.4 766.2 1357.5 766.9 1358.6 767.6 1358.4 768.3 1359.9 769 1359.8 769.7 1361.4 770.4 1360.8 771.1 1361.2 771.8 1361.4 772.5 1361.4 773.2 1362.5 773.9 1363.1 774.6 1363.7 775.3 1363.4 776 1364.8 776.7 1364.8 777.4 1365.3 778.1 1365.8 778.8 1365.9 779.5 1366.7 780.2 1366.4 780.9 1367.1 781.6 1367.9 782.3 1368.2 783 1368.5 783.7 1369.1 784.4 1369.9 785.1 1369.7 785.8 1370.1 786.5 1370.8 787.2 1371.2 787.9 1371.2 788.6 1371.7 789.3 1372.4 790 1372.3 790.7 1373.4 791.4 1373.1 792.1 1373.6 792.8 1374.5 793.5 1375 794.2 1375.1 794.9 1374.9 795.6 1375.4 796.3 1375.7 797 1376.5 797.7 1377.1 798.4 1377 799.1 1377.9 799.8 1378.2 800.5 1378.4 801.2 1378.7 801.9 1378.4 802.6 1379.4 803.3 1380.2 804 1380 804.7 1380.1 805.4 1381.4 806.1 1381.3 806.8 1381.9 807.5 1381.9 808.2 1382.8 808.9 1383.3 809.6 1383.9 810.3 1383.7 811 1384.9 811.7 1383.9 812.4 1385.2 813.1 1385.5 813.8 1385.4 814.5 1386.5 815.2 1386.2 815.9 1387.1 816.6 1387.5 817.3 1388 818 1388.4 818.7 1387.8 819.4 1388.5 820.1 1389.3 820.8 1389 821.5 1390.4 822.2 1390.6 822.9 1391.2 823.6 1391.3 824.3 1392.2 825 1391.7 825.7 1392.7 826.4 1393.2 827.1 1392.7 827.8 1394.2 828.5 1394.2 829.2 1394.2 829.9 1394.5 830.6 1395.3 831.3 1395.7 832 1395 832.7 1396.4 833.4 1396.5 834.1 1396.9 834.8 1396.6 835.5 1398 836.2 1398.6 836.9 1398.9 837.6 1399.3 838.3 1399.3 839 1400.2 839.7 1400.2 840.4 1401 841.1 1401.5 841.8 1401.8 842.5 1402.7 843.2 1402.3 843.9 1402.4 844.6 1403.8 845.3 1403.6 846 1403.8 846.7 1404.8 847.4 1405.3 848.1 1404.9 848.8 1405.7 849.5 1406.5 850.2 1407.3 850.9 1406.7 851.6 1407.7 852.3 1407.7 853 1407.6 853.7 1407.4 854.4 1408.2 855.1 1408.5 855.8 1409 856.5 1408.8 857.2 1409.3 857.9 1409.9 858.6 1410.2 859.3 1409.2 860 1409.4 860.7 1410 861.4 1410.5 862.1 1411.2 862.8 1410 863.5 1410.6 864.2 1411.3 864.9 1411.2 865.6 1411.8 866.3 1411.9 867 1412.7 867.7 1412.1 868.4 1412.3 869.1 1412.8 869.8 1412.8 870.5 1413.3 871.2 1413.2 871.9 1414.1 872.6 1414.2 873.3 1414.3 874 1414.5 874.7 1414.4 875.4 1415.2 876.1 1415.4 876.8 1415.4 877.5 1416.2 878.2 1416.2 878.9 1417 879.6 1417 880.3 1416.7 881 1417.2 881.7 1418 882.4 1417.7 883.1 1417.9 883.8 1418.5 884.5 1417.7 885.2 1417.9 885.9 1418.6 886.6 1418.5 887.3 1419 888 1418.2 888.7 1418.2 889.4 1418 890.1 1418.8 890.8 1419.6 891.5 1418.9 892.2 1419.3 892.9 1418.5 893.6 1418.3 894.3 1419.3 895 1418.7 895.7 1418.7 896.4 1418.9 897.1 1418.9 897.8 1418.6 898.5 1418.8 899.2 1418.5 899.9 1418.2 900.6 1418.8 901.3 1418.4 902 1418.8 902.7 1418.1 903.4 1418.3 904.1 1418.2 904.8 1418.9 905.5 1418.8 906.2 1418.4 906.9 1418.7 907.6 1418.8 908.3 1419.5 909 1418.7 909.7 1418.5 910.4 1419.2 911.1 1418.3 911.8 1419.2 912.5 1419.1 913.2 1418.4 913.9 1418.8 914.6 1419.6 915.3 1419.6 916 1419.6 916.7 1418.9 917.4 1419.2 918.1 1418.8 918.8 1419.5 919.5 1418.6 920.2 1419 920.9 1419.1 921.6 1419.1 922.3 1418.6 923 1418.6 923.7 1418.3 924.4 1417.4 925.1 1416.4 925.8 1415.3 926.5 1414.4 927.2 1412 927.9 1412.2" fill="none" stroke="#00f000" stroke-width="3" stroke-linejoin="round"/>
<text x="0" y="0" font-size="10.9" text-anchor="middle" font-family="'Liberation Sans', Arial, sans-serif" fill="#2a2a2a" transform="translate(530.3 1340) rotate(-90)">Enrichment score (ES)</text>
<text x="746.7" y="1240.6" font-size="29" text-anchor="middle">shOTX2-96h geneset</text>
<text x="921.6" y="1280.1" font-size="26" text-anchor="end">NES=2.64</text>
<text x="921" y="1308.2" font-size="26" text-anchor="end">FDR&lt;0.001</text>
<text x="556.7" y="1529.4" font-size="28.5">DMSO</text>
<text x="927.6" y="1529.4" font-size="28.5" text-anchor="end">CBL0137</text>
<text x="764.9" y="1561.4" font-size="28.5" text-anchor="middle">HDMB03</text>
<text x="506.3" y="1219.3" font-size="38" font-weight="bold">E</text>
<rect x="995.3" y="1248.2" width="441.1" height="249.3" fill="#ededed"/>
<rect x="1051.2" y="1252" width="378.8" height="245.3" fill="#fff"/>
<line x1="1096.4" y1="1254" x2="1096.4" y2="1425.6" stroke="#cfcfcf" stroke-width="1" stroke-dasharray="2.5 3"/>
<line x1="1141.6" y1="1254" x2="1141.6" y2="1425.6" stroke="#cfcfcf" stroke-width="1" stroke-dasharray="2.5 3"/>
<line x1="1186.8" y1="1254" x2="1186.8" y2="1425.6" stroke="#cfcfcf" stroke-width="1" stroke-dasharray="2.5 3"/>
<line x1="1232" y1="1254" x2="1232" y2="1425.6" stroke="#cfcfcf" stroke-width="1" stroke-dasharray="2.5 3"/>
<line x1="1277.2" y1="1254" x2="1277.2" y2="1425.6" stroke="#cfcfcf" stroke-width="1" stroke-dasharray="2.5 3"/>
<line x1="1322.4" y1="1254" x2="1322.4" y2="1425.6" stroke="#cfcfcf" stroke-width="1" stroke-dasharray="2.5 3"/>
<line x1="1367.6" y1="1254" x2="1367.6" y2="1425.6" stroke="#cfcfcf" stroke-width="1" stroke-dasharray="2.5 3"/>
<line x1="1412.8" y1="1254" x2="1412.8" y2="1425.6" stroke="#cfcfcf" stroke-width="1" stroke-dasharray="2.5 3"/>
<line x1="1051.2" y1="1255.4" x2="1430" y2="1255.4" stroke="#cfcfcf" stroke-width="1" stroke-dasharray="2.5 3"/>
<line x1="1047.2" y1="1255.4" x2="1051.2" y2="1255.4" stroke="#555" stroke-width="1"/>
<text x="1045.7" y="1259" font-size="10" text-anchor="end" font-family="'Liberation Sans', Arial, sans-serif" fill="#2a2a2a">0.40</text>
<line x1="1051.2" y1="1271.2" x2="1430" y2="1271.2" stroke="#cfcfcf" stroke-width="1" stroke-dasharray="2.5 3"/>
<line x1="1047.2" y1="1271.2" x2="1051.2" y2="1271.2" stroke="#555" stroke-width="1"/>
<text x="1045.7" y="1274.8" font-size="10" text-anchor="end" font-family="'Liberation Sans', Arial, sans-serif" fill="#2a2a2a">0.35</text>
<line x1="1051.2" y1="1287" x2="1430" y2="1287" stroke="#cfcfcf" stroke-width="1" stroke-dasharray="2.5 3"/>
<line x1="1047.2" y1="1287" x2="1051.2" y2="1287" stroke="#555" stroke-width="1"/>
<text x="1045.7" y="1290.6" font-size="10" text-anchor="end" font-family="'Liberation Sans', Arial, sans-serif" fill="#2a2a2a">0.30</text>
<line x1="1051.2" y1="1302.8" x2="1430" y2="1302.8" stroke="#cfcfcf" stroke-width="1" stroke-dasharray="2.5 3"/>
<line x1="1047.2" y1="1302.8" x2="1051.2" y2="1302.8" stroke="#555" stroke-width="1"/>
<text x="1045.7" y="1306.3" font-size="10" text-anchor="end" font-family="'Liberation Sans', Arial, sans-serif" fill="#2a2a2a">0.25</text>
<line x1="1051.2" y1="1318.5" x2="1430" y2="1318.5" stroke="#cfcfcf" stroke-width="1" stroke-dasharray="2.5 3"/>
<line x1="1047.2" y1="1318.5" x2="1051.2" y2="1318.5" stroke="#555" stroke-width="1"/>
<text x="1045.7" y="1322.1" font-size="10" text-anchor="end" font-family="'Liberation Sans', Arial, sans-serif" fill="#2a2a2a">0.20</text>
<line x1="1051.2" y1="1334.3" x2="1430" y2="1334.3" stroke="#cfcfcf" stroke-width="1" stroke-dasharray="2.5 3"/>
<line x1="1047.2" y1="1334.3" x2="1051.2" y2="1334.3" stroke="#555" stroke-width="1"/>
<text x="1045.7" y="1337.9" font-size="10" text-anchor="end" font-family="'Liberation Sans', Arial, sans-serif" fill="#2a2a2a">0.15</text>
<line x1="1051.2" y1="1350.1" x2="1430" y2="1350.1" stroke="#cfcfcf" stroke-width="1" stroke-dasharray="2.5 3"/>
<line x1="1047.2" y1="1350.1" x2="1051.2" y2="1350.1" stroke="#555" stroke-width="1"/>
<text x="1045.7" y="1353.7" font-size="10" text-anchor="end" font-family="'Liberation Sans', Arial, sans-serif" fill="#2a2a2a">0.10</text>
<line x1="1051.2" y1="1365.8" x2="1430" y2="1365.8" stroke="#cfcfcf" stroke-width="1" stroke-dasharray="2.5 3"/>
<line x1="1047.2" y1="1365.8" x2="1051.2" y2="1365.8" stroke="#555" stroke-width="1"/>
<text x="1045.7" y="1369.4" font-size="10" text-anchor="end" font-family="'Liberation Sans', Arial, sans-serif" fill="#2a2a2a">0.05</text>
<line x1="1051.2" y1="1381.6" x2="1430" y2="1381.6" stroke="#cfcfcf" stroke-width="1" stroke-dasharray="2.5 3"/>
<line x1="1047.2" y1="1381.6" x2="1051.2" y2="1381.6" stroke="#555" stroke-width="1"/>
<text x="1045.7" y="1385.2" font-size="10" text-anchor="end" font-family="'Liberation Sans', Arial, sans-serif" fill="#2a2a2a">0.00</text>
<line x1="1051.2" y1="1397.4" x2="1430" y2="1397.4" stroke="#cfcfcf" stroke-width="1" stroke-dasharray="2.5 3"/>
<line x1="1047.2" y1="1397.4" x2="1051.2" y2="1397.4" stroke="#555" stroke-width="1"/>
<text x="1045.7" y="1401" font-size="10" text-anchor="end" font-family="'Liberation Sans', Arial, sans-serif" fill="#2a2a2a">-0.05</text>
<line x1="1051.2" y1="1413.1" x2="1430" y2="1413.1" stroke="#cfcfcf" stroke-width="1" stroke-dasharray="2.5 3"/>
<line x1="1047.2" y1="1413.1" x2="1051.2" y2="1413.1" stroke="#555" stroke-width="1"/>
<text x="1045.7" y="1416.7" font-size="10" text-anchor="end" font-family="'Liberation Sans', Arial, sans-serif" fill="#2a2a2a">-0.10</text>
<line x1="1051.2" y1="1381.6" x2="1430" y2="1381.6" stroke="#8a8a8a" stroke-width="1.4"/>
<rect x="1051.2" y="1427.5" width="30.8" height="54.6" fill="#000"/>
<rect x="1172.8" y="1427.5" width="4.2" height="54.6" fill="#000"/>
<rect x="1186.2" y="1427.5" width="1.4" height="54.6" fill="#000"/>
<path d="M1082.3 1427.5h1.2V1482.1h-1.2zM1083.7 1427.5h1.8V1482.1h-1.8zM1085.7 1427.5h1.8V1482.1h-1.8zM1087.8 1427.5h1.2V1482.1h-1.2zM1089.3 1427.5h1.4V1482.1h-1.4zM1091 1427.5h1V1482.1h-1zM1093.5 1427.5h1.2V1482.1h-1.2zM1094.8 1427.5h1.2V1482.1h-1.2zM1096.2 1427.5h1V1482.1h-1zM1097.4 1427.5h1.4V1482.1h-1.4zM1099 1427.5h1.8V1482.1h-1.8zM1101.3 1427.5h1.4V1482.1h-1.4zM1104.8 1427.5h1.2V1482.1h-1.2zM1108.5 1427.5h1.2V1482.1h-1.2zM1109.8 1427.5h1V1482.1h-1zM1111 1427.5h2.4V1482.1h-2.4zM1113.8 1427.5h1V1482.1h-1zM1115 1427.5h1.8V1482.1h-1.8zM1117 1427.5h1.4V1482.1h-1.4zM1118.7 1427.5h1.2V1482.1h-1.2zM1120 1427.5h1.2V1482.1h-1.2zM1121.3 1427.5h2.4V1482.1h-2.4zM1123.9 1427.5h1V1482.1h-1zM1125.1 1427.5h1V1482.1h-1zM1126.3 1427.5h1.4V1482.1h-1.4zM1128.1 1427.5h1.4V1482.1h-1.4zM1131.3 1427.5h1.2V1482.1h-1.2zM1132.7 1427.5h1.2V1482.1h-1.2zM1134.1 1427.5h1.8V1482.1h-1.8zM1136 1427.5h1.2V1482.1h-1.2zM1137.5 1427.5h2.4V1482.1h-2.4zM1140.2 1427.5h2.4V1482.1h-2.4zM1143 1427.5h1.2V1482.1h-1.2zM1144.3 1427.5h3V1482.1h-3zM1147.9 1427.5h1.4V1482.1h-1.4zM1149.6 1427.5h1.2V1482.1h-1.2zM1151.1 1427.5h2.4V1482.1h-2.4zM1154.1 1427.5h1.2V1482.1h-1.2zM1155.6 1427.5h1.2V1482.1h-1.2zM1157.2 1427.5h1.2V1482.1h-1.2zM1158.6 1427.5h1.8V1482.1h-1.8zM1160.5 1427.5h1.2V1482.1h-1.2zM1161.9 1427.5h1V1482.1h-1zM1163.1 1427.5h2.4V1482.1h-2.4zM1165.8 1427.5h1.2V1482.1h-1.2zM1167.3 1427.5h1.4V1482.1h-1.4zM1169 1427.5h1.7V1482.1h-1.7zM1225.3 1427.5h1V1482.1h-1zM1228.4 1427.5h1.8V1482.1h-1.8zM1238.6 1427.5h1V1482.1h-1zM1240 1427.5h1.8V1482.1h-1.8zM1247 1427.5h1.8V1482.1h-1.8zM1252.8 1427.5h1V1482.1h-1zM1254.3 1427.5h1.2V1482.1h-1.2zM1261 1427.5h1.2V1482.1h-1.2zM1262.8 1427.5h1.8V1482.1h-1.8zM1272.8 1427.5h3V1482.1h-3zM1276.8 1427.5h1.4V1482.1h-1.4zM1281.4 1427.5h2.4V1482.1h-2.4zM1284.7 1427.5h1V1482.1h-1zM1286.2 1427.5h1V1482.1h-1zM1288.4 1427.5h1V1482.1h-1zM1290 1427.5h3V1482.1h-3zM1295.5 1427.5h1.2V1482.1h-1.2zM1298.2 1427.5h1V1482.1h-1zM1300.6 1427.5h1.4V1482.1h-1.4zM1303.5 1427.5h1.2V1482.1h-1.2zM1305.1 1427.5h2.4V1482.1h-2.4zM1312 1427.5h2.4V1482.1h-2.4zM1317.1 1427.5h1.2V1482.1h-1.2zM1319 1427.5h1.2V1482.1h-1.2zM1321.2 1427.5h1.4V1482.1h-1.4zM1328.2 1427.5h2.4V1482.1h-2.4zM1333.4 1427.5h1V1482.1h-1zM1334.6 1427.5h1.4V1482.1h-1.4zM1337.7 1427.5h1.4V1482.1h-1.4zM1340.3 1427.5h1.8V1482.1h-1.8zM1343.9 1427.5h1.2V1482.1h-1.2zM1346.8 1427.5h1.2V1482.1h-1.2zM1348.5 1427.5h1V1482.1h-1zM1350.9 1427.5h1.2V1482.1h-1.2zM1353.5 1427.5h1V1482.1h-1zM1355.5 1427.5h1V1482.1h-1zM1356.7 1427.5h1.8V1482.1h-1.8zM1358.9 1427.5h1V1482.1h-1zM1360 1427.5h1.2V1482.1h-1.2zM1361.3 1427.5h1V1482.1h-1zM1362.4 1427.5h1.2V1482.1h-1.2zM1363.8 1427.5h1.2V1482.1h-1.2zM1365.2 1427.5h1.4V1482.1h-1.4zM1366.8 1427.5h1.2V1482.1h-1.2zM1368.1 1427.5h1.2V1482.1h-1.2zM1369.6 1427.5h1.2V1482.1h-1.2zM1371 1427.5h1.2V1482.1h-1.2zM1372.5 1427.5h1.8V1482.1h-1.8zM1374.8 1427.5h2.4V1482.1h-2.4zM1377.4 1427.5h1.8V1482.1h-1.8zM1379.3 1427.5h1.4V1482.1h-1.4zM1381 1427.5h1V1482.1h-1zM1382 1427.5h1.2V1482.1h-1.2zM1383.4 1427.5h0.9V1482.1h-0.9zM1385.2 1427.5h1V1482.1h-1zM1387.1 1427.5h1.4V1482.1h-1.4zM1390 1427.5h1.2V1482.1h-1.2zM1391.8 1427.5h3V1482.1h-3zM1396.8 1427.5h1.8V1482.1h-1.8zM1399.3 1427.5h1.2V1482.1h-1.2zM1400.8 1427.5h1.2V1482.1h-1.2zM1402.2 1427.5h1V1482.1h-1zM1403.6 1427.5h1.4V1482.1h-1.4zM1405.9 1427.5h1.4V1482.1h-1.4z" fill="#000"/>
<path d="M1092.3 1427.5h1V1482.1h-1zM1103.1 1427.5h1.4V1482.1h-1.4zM1106.2 1427.5h1V1482.1h-1zM1107.3 1427.5h1V1482.1h-1zM1129.8 1427.5h1.2V1482.1h-1.2zM1244.3 1427.5h1.4V1482.1h-1.4zM1250.4 1427.5h1.4V1482.1h-1.4zM1257 1427.5h1.2V1482.1h-1.2zM1258.8 1427.5h1.2V1482.1h-1.2zM1266.6 1427.5h1.2V1482.1h-1.2zM1269.1 1427.5h1.8V1482.1h-1.8zM1280.1 1427.5h1V1482.1h-1zM1310.4 1427.5h1.2V1482.1h-1.2zM1323.8 1427.5h2.4V1482.1h-2.4z" fill="#6a6a6a"/>
<rect x="1051.2" y="1482.6" width="1.3" height="14.7" fill="#a70000"/>
<rect x="1052.1" y="1482.6" width="1.3" height="14.7" fill="#980000"/>
<rect x="1053.1" y="1482.6" width="1.3" height="14.7" fill="#a50000"/>
<rect x="1054" y="1482.6" width="1.4" height="14.7" fill="#c33131"/>
<rect x="1055" y="1482.6" width="1.4" height="14.7" fill="#c03131"/>
<rect x="1056" y="1482.6" width="1.4" height="14.7" fill="#c33232"/>
<rect x="1057" y="1482.6" width="1.4" height="14.7" fill="#c23232"/>
<rect x="1058" y="1482.6" width="1.4" height="14.7" fill="#b42f2f"/>
<rect x="1059" y="1482.6" width="1.4" height="14.7" fill="#d13737"/>
<rect x="1060" y="1482.6" width="1.4" height="14.7" fill="#b83131"/>
<rect x="1061" y="1482.6" width="1.4" height="14.7" fill="#bb3232"/>
<rect x="1062" y="1482.6" width="1.4" height="14.7" fill="#d03939"/>
<rect x="1063" y="1482.6" width="1.4" height="14.7" fill="#b73232"/>
<rect x="1064" y="1482.6" width="1.4" height="14.7" fill="#c33636"/>
<rect x="1065" y="1482.6" width="1.4" height="14.7" fill="#c33636"/>
<rect x="1066" y="1482.6" width="1.4" height="14.7" fill="#c23737"/>
<rect x="1067" y="1482.6" width="1.4" height="14.7" fill="#c63838"/>
<rect x="1068" y="1482.6" width="1.4" height="14.7" fill="#cb3a3a"/>
<rect x="1069" y="1482.6" width="1.4" height="14.7" fill="#c73a3a"/>
<rect x="1070" y="1482.6" width="1.4" height="14.7" fill="#c13838"/>
<rect x="1071" y="1482.6" width="1.4" height="14.7" fill="#d63f3f"/>
<rect x="1072" y="1482.6" width="1.4" height="14.7" fill="#c83c3c"/>
<rect x="1073" y="1482.6" width="1.4" height="14.7" fill="#d13f3f"/>
<rect x="1074" y="1482.6" width="1.4" height="14.7" fill="#c83c3c"/>
<rect x="1075" y="1482.6" width="1.4" height="14.7" fill="#d64141"/>
<rect x="1076" y="1482.6" width="1.4" height="14.7" fill="#d64242"/>
<rect x="1077" y="1482.6" width="1.4" height="14.7" fill="#d54242"/>
<rect x="1078" y="1482.6" width="1.4" height="14.7" fill="#ca3f3f"/>
<rect x="1079" y="1482.6" width="1.4" height="14.7" fill="#d94444"/>
<rect x="1080" y="1482.6" width="1.4" height="14.7" fill="#d24242"/>
<rect x="1081" y="1482.6" width="1.4" height="14.7" fill="#d74545"/>
<rect x="1082" y="1482.6" width="1.4" height="14.7" fill="#d84545"/>
<rect x="1083" y="1482.6" width="1.4" height="14.7" fill="#d94646"/>
<rect x="1084" y="1482.6" width="1.4" height="14.7" fill="#d44545"/>
<rect x="1085" y="1482.6" width="1.4" height="14.7" fill="#c94242"/>
<rect x="1086" y="1482.6" width="1.4" height="14.7" fill="#df4a4a"/>
<rect x="1087" y="1482.6" width="1.4" height="14.7" fill="#e24b4b"/>
<rect x="1088" y="1482.6" width="1.4" height="14.7" fill="#c74343"/>
<rect x="1089" y="1482.6" width="1.4" height="14.7" fill="#d84949"/>
<rect x="1090" y="1482.6" width="1.4" height="14.7" fill="#db4a4a"/>
<rect x="1091" y="1482.6" width="1.4" height="14.7" fill="#d34848"/>
<rect x="1092" y="1482.6" width="1.4" height="14.7" fill="#e34e4e"/>
<rect x="1093" y="1482.6" width="1.4" height="14.7" fill="#d74a4a"/>
<rect x="1094" y="1482.6" width="1.4" height="14.7" fill="#d24949"/>
<rect x="1095" y="1482.6" width="1.4" height="14.7" fill="#da4c4c"/>
<rect x="1096" y="1482.6" width="1.4" height="14.7" fill="#d74b4b"/>
<rect x="1097" y="1482.6" width="1.4" height="14.7" fill="#e04f4f"/>
<rect x="1098" y="1482.6" width="1.4" height="14.7" fill="#e75252"/>
<rect x="1099" y="1482.6" width="1.4" height="14.7" fill="#e15050"/>
<rect x="1100" y="1482.6" width="1.4" height="14.7" fill="#d14646"/>
<rect x="1101" y="1482.6" width="1.4" height="14.7" fill="#fe5656"/>
<rect x="1102" y="1482.6" width="1.4" height="14.7" fill="#ec5050"/>
<rect x="1103" y="1482.6" width="1.4" height="14.7" fill="#ee5252"/>
<rect x="1104" y="1482.6" width="1.4" height="14.7" fill="#f55656"/>
<rect x="1105" y="1482.6" width="1.4" height="14.7" fill="#e45151"/>
<rect x="1106" y="1482.6" width="1.4" height="14.7" fill="#ff5c5c"/>
<rect x="1107" y="1482.6" width="1.4" height="14.7" fill="#e15151"/>
<rect x="1108" y="1482.6" width="1.4" height="14.7" fill="#ee5757"/>
<rect x="1109" y="1482.6" width="1.4" height="14.7" fill="#f75b5b"/>
<rect x="1110" y="1482.6" width="1.4" height="14.7" fill="#f15a5a"/>
<rect x="1111" y="1482.6" width="1.4" height="14.7" fill="#ed5959"/>
<rect x="1112" y="1482.6" width="1.4" height="14.7" fill="#f75e5e"/>
<rect x="1113" y="1482.6" width="1.4" height="14.7" fill="#f96060"/>
<rect x="1114" y="1482.6" width="1.4" height="14.7" fill="#ff6464"/>
<rect x="1115" y="1482.6" width="1.4" height="14.7" fill="#f25f5f"/>
<rect x="1116" y="1482.6" width="1.4" height="14.7" fill="#e05959"/>
<rect x="1117" y="1482.6" width="1.4" height="14.7" fill="#f06161"/>
<rect x="1118" y="1482.6" width="1.4" height="14.7" fill="#f46363"/>
<rect x="1119" y="1482.6" width="1.4" height="14.7" fill="#e55e5e"/>
<rect x="1120" y="1482.6" width="1.4" height="14.7" fill="#f76666"/>
<rect x="1121" y="1482.6" width="1.4" height="14.7" fill="#fc6969"/>
<rect x="1122" y="1482.6" width="1.4" height="14.7" fill="#ee6464"/>
<rect x="1123" y="1482.6" width="1.4" height="14.7" fill="#fd6c6c"/>
<rect x="1124" y="1482.6" width="1.4" height="14.7" fill="#ff7070"/>
<rect x="1125" y="1482.6" width="1.4" height="14.7" fill="#fc6d6d"/>
<rect x="1126" y="1482.6" width="1.4" height="14.7" fill="#e56464"/>
<rect x="1127" y="1482.6" width="1.4" height="14.7" fill="#fc6f6f"/>
<rect x="1128" y="1482.6" width="1.4" height="14.7" fill="#f16b6b"/>
<rect x="1129" y="1482.6" width="1.4" height="14.7" fill="#f36d6d"/>
<rect x="1130" y="1482.6" width="1.4" height="14.7" fill="#e66868"/>
<rect x="1131" y="1482.6" width="1.4" height="14.7" fill="#e56969"/>
<rect x="1132" y="1482.6" width="1.4" height="14.7" fill="#e86b6b"/>
<rect x="1133" y="1482.6" width="1.4" height="14.7" fill="#ef6f6f"/>
<rect x="1134" y="1482.6" width="1.4" height="14.7" fill="#f27171"/>
<rect x="1135" y="1482.6" width="1.4" height="14.7" fill="#f77575"/>
<rect x="1136" y="1482.6" width="1.4" height="14.7" fill="#e96f6f"/>
<rect x="1137" y="1482.6" width="1.4" height="14.7" fill="#fe7a7a"/>
<rect x="1138" y="1482.6" width="1.4" height="14.7" fill="#e16d6d"/>
<rect x="1139" y="1482.6" width="1.4" height="14.7" fill="#f57878"/>
<rect x="1140" y="1482.6" width="1.4" height="14.7" fill="#f17777"/>
<rect x="1141" y="1482.6" width="1.4" height="14.7" fill="#ef7777"/>
<rect x="1142" y="1482.6" width="1.4" height="14.7" fill="#f57b7b"/>
<rect x="1143" y="1482.6" width="1.4" height="14.7" fill="#ff8181"/>
<rect x="1144" y="1482.6" width="1.4" height="14.7" fill="#ee7979"/>
<rect x="1145" y="1482.6" width="1.4" height="14.7" fill="#ef7b7b"/>
<rect x="1146" y="1482.6" width="1.4" height="14.7" fill="#e87878"/>
<rect x="1147" y="1482.6" width="1.4" height="14.7" fill="#fd8484"/>
<rect x="1148" y="1482.6" width="1.4" height="14.7" fill="#f78282"/>
<rect x="1149" y="1482.6" width="1.4" height="14.7" fill="#f78383"/>
<rect x="1150" y="1482.6" width="1.4" height="14.7" fill="#ee7f7f"/>
<rect x="1151" y="1482.6" width="1.4" height="14.7" fill="#fab5e0"/>
<rect x="1152" y="1482.6" width="1.4" height="14.7" fill="#e8a8d0"/>
<rect x="1153" y="1482.6" width="1.4" height="14.7" fill="#e1a3c9"/>
<rect x="1154" y="1482.6" width="1.4" height="14.7" fill="#d097bb"/>
<rect x="1155" y="1482.6" width="1.4" height="14.7" fill="#efaed7"/>
<rect x="1156" y="1482.6" width="1.4" height="14.7" fill="#ebabd3"/>
<rect x="1157" y="1482.6" width="1.4" height="14.7" fill="#ebabd3"/>
<rect x="1158" y="1482.6" width="1.4" height="14.7" fill="#e8a8d0"/>
<rect x="1159" y="1482.6" width="1.4" height="14.7" fill="#edacd5"/>
<rect x="1160" y="1482.6" width="1.4" height="14.7" fill="#e6a8cf"/>
<rect x="1161" y="1482.6" width="1.4" height="14.7" fill="#fcb8e2"/>
<rect x="1162" y="1482.6" width="1.4" height="14.7" fill="#f0afd8"/>
<rect x="1163" y="1482.6" width="1.4" height="14.7" fill="#d89ec2"/>
<rect x="1164" y="1482.6" width="1.4" height="14.7" fill="#efaed7"/>
<rect x="1165" y="1482.6" width="1.4" height="14.7" fill="#eeadd5"/>
<rect x="1166" y="1482.6" width="1.4" height="14.7" fill="#d59bbf"/>
<rect x="1167" y="1482.6" width="1.4" height="14.7" fill="#edadd5"/>
<rect x="1168" y="1482.6" width="1.4" height="14.7" fill="#e4a7cd"/>
<rect x="1169" y="1482.6" width="1.4" height="14.7" fill="#edadd5"/>
<rect x="1170" y="1482.6" width="1.4" height="14.7" fill="#ecadd5"/>
<rect x="1171" y="1482.6" width="1.4" height="14.7" fill="#f0b0d8"/>
<rect x="1172" y="1482.6" width="1.4" height="14.7" fill="#f6b4de"/>
<rect x="1173" y="1482.6" width="1.4" height="14.7" fill="#e6a9cf"/>
<rect x="1174" y="1482.6" width="1.4" height="14.7" fill="#dca1c6"/>
<rect x="1175" y="1482.6" width="1.4" height="14.7" fill="#f6b9e2"/>
<rect x="1176" y="1482.6" width="1.4" height="14.7" fill="#fabce5"/>
<rect x="1177" y="1482.6" width="1.4" height="14.7" fill="#fabbe4"/>
<rect x="1178" y="1482.6" width="1.4" height="14.7" fill="#fabce5"/>
<rect x="1179" y="1482.6" width="1.4" height="14.7" fill="#f9bbe4"/>
<rect x="1180" y="1482.6" width="1.4" height="14.7" fill="#f9bbe4"/>
<rect x="1181" y="1482.6" width="1.4" height="14.7" fill="#f9bbe4"/>
<rect x="1182" y="1482.6" width="1.4" height="14.7" fill="#fabce5"/>
<rect x="1183" y="1482.6" width="1.4" height="14.7" fill="#fbbde6"/>
<rect x="1184" y="1482.6" width="1.4" height="14.7" fill="#f9bbe4"/>
<rect x="1185" y="1482.6" width="1.4" height="14.7" fill="#f9bbe4"/>
<rect x="1186" y="1482.6" width="1.4" height="14.7" fill="#f8bbe3"/>
<rect x="1187" y="1482.6" width="1.4" height="14.7" fill="#f7bae2"/>
<rect x="1188" y="1482.6" width="1.4" height="14.7" fill="#fbbce5"/>
<rect x="1189" y="1482.6" width="1.4" height="14.7" fill="#f9bbe4"/>
<rect x="1190" y="1482.6" width="1.4" height="14.7" fill="#fbbce6"/>
<rect x="1191" y="1482.6" width="1.4" height="14.7" fill="#fabce5"/>
<rect x="1192" y="1482.6" width="1.4" height="14.7" fill="#fabce5"/>
<rect x="1193" y="1482.6" width="1.4" height="14.7" fill="#fabbe5"/>
<rect x="1194" y="1482.6" width="1.4" height="14.7" fill="#f9bbe4"/>
<rect x="1195" y="1482.6" width="1.4" height="14.7" fill="#f9bbe4"/>
<rect x="1196" y="1482.6" width="1.4" height="14.7" fill="#f9bbe4"/>
<rect x="1197" y="1482.6" width="1.4" height="14.7" fill="#f9bbe4"/>
<rect x="1198" y="1482.6" width="1.4" height="14.7" fill="#f9bbe4"/>
<rect x="1199" y="1482.6" width="1.4" height="14.7" fill="#f9bbe4"/>
<rect x="1200" y="1482.6" width="1.4" height="14.7" fill="#fabce5"/>
<rect x="1201" y="1482.6" width="1.4" height="14.7" fill="#f7bae2"/>
<rect x="1202" y="1482.6" width="1.4" height="14.7" fill="#f9bbe4"/>
<rect x="1203" y="1482.6" width="1.4" height="14.7" fill="#f8bae3"/>
<rect x="1204" y="1482.6" width="1.4" height="14.7" fill="#f9bbe4"/>
<rect x="1205" y="1482.6" width="1.4" height="14.7" fill="#fabbe5"/>
<rect x="1206" y="1482.6" width="1.4" height="14.7" fill="#fabce5"/>
<rect x="1207" y="1482.6" width="1.4" height="14.7" fill="#f7bae3"/>
<rect x="1208" y="1482.6" width="1.4" height="14.7" fill="#fabce5"/>
<rect x="1209" y="1482.6" width="1.4" height="14.7" fill="#f9bbe4"/>
<rect x="1210" y="1482.6" width="1.4" height="14.7" fill="#f9bbe4"/>
<rect x="1211" y="1482.6" width="1.4" height="14.7" fill="#f8bbe3"/>
<rect x="1212" y="1482.6" width="1.4" height="14.7" fill="#fabce5"/>
<rect x="1213" y="1482.6" width="1.4" height="14.7" fill="#f8bbe4"/>
<rect x="1214" y="1482.6" width="1.4" height="14.7" fill="#f9bbe4"/>
<rect x="1215" y="1482.6" width="1.4" height="14.7" fill="#f7b9e2"/>
<rect x="1216" y="1482.6" width="1.4" height="14.7" fill="#f8bbe3"/>
<rect x="1217" y="1482.6" width="1.4" height="14.7" fill="#f9bbe4"/>
<rect x="1218" y="1482.6" width="1.4" height="14.7" fill="#fabce5"/>
<rect x="1219" y="1482.6" width="1.4" height="14.7" fill="#f9bbe4"/>
<rect x="1220" y="1482.6" width="1.4" height="14.7" fill="#f9bbe4"/>
<rect x="1221" y="1482.6" width="1.4" height="14.7" fill="#f8bae3"/>
<rect x="1222" y="1482.6" width="1.4" height="14.7" fill="#fabce5"/>
<rect x="1223" y="1482.6" width="1.4" height="14.7" fill="#fbbde6"/>
<rect x="1224" y="1482.6" width="1.4" height="14.7" fill="#d3d3fb"/>
<rect x="1225" y="1482.6" width="1.4" height="14.7" fill="#d1d1f9"/>
<rect x="1226" y="1482.6" width="1.4" height="14.7" fill="#d1d1f9"/>
<rect x="1227" y="1482.6" width="1.4" height="14.7" fill="#d2d2fa"/>
<rect x="1228" y="1482.6" width="1.4" height="14.7" fill="#d1d1fa"/>
<rect x="1229" y="1482.6" width="1.4" height="14.7" fill="#d2d2fa"/>
<rect x="1230" y="1482.6" width="1.4" height="14.7" fill="#d0d0f9"/>
<rect x="1230.9" y="1482.6" width="1.4" height="14.7" fill="#d1d1f9"/>
<rect x="1231.9" y="1482.6" width="1.4" height="14.7" fill="#d0d0f8"/>
<rect x="1232.9" y="1482.6" width="1.4" height="14.7" fill="#d1d1f9"/>
<rect x="1233.9" y="1482.6" width="1.4" height="14.7" fill="#d1d1fa"/>
<rect x="1234.9" y="1482.6" width="1.4" height="14.7" fill="#cfcff8"/>
<rect x="1235.9" y="1482.6" width="1.4" height="14.7" fill="#cecef7"/>
<rect x="1236.9" y="1482.6" width="1.4" height="14.7" fill="#d0d0f9"/>
<rect x="1237.9" y="1482.6" width="1.4" height="14.7" fill="#cfcff8"/>
<rect x="1238.9" y="1482.6" width="1.4" height="14.7" fill="#d0d0f9"/>
<rect x="1239.9" y="1482.6" width="1.4" height="14.7" fill="#d0d0f9"/>
<rect x="1240.9" y="1482.6" width="1.4" height="14.7" fill="#cecef8"/>
<rect x="1241.9" y="1482.6" width="1.4" height="14.7" fill="#d0d0f9"/>
<rect x="1242.8" y="1482.6" width="1.4" height="14.7" fill="#d0d0f9"/>
<rect x="1243.8" y="1482.6" width="1.4" height="14.7" fill="#cecef8"/>
<rect x="1244.8" y="1482.6" width="1.4" height="14.7" fill="#cdcdf7"/>
<rect x="1245.8" y="1482.6" width="1.4" height="14.7" fill="#cecef8"/>
<rect x="1246.8" y="1482.6" width="1.4" height="14.7" fill="#cecef7"/>
<rect x="1247.8" y="1482.6" width="1.4" height="14.7" fill="#cecef8"/>
<rect x="1248.8" y="1482.6" width="1.4" height="14.7" fill="#cecef8"/>
<rect x="1249.8" y="1482.6" width="1.4" height="14.7" fill="#cecef8"/>
<rect x="1250.8" y="1482.6" width="1.4" height="14.7" fill="#cdcdf7"/>
<rect x="1251.8" y="1482.6" width="1.4" height="14.7" fill="#cdcdf7"/>
<rect x="1252.8" y="1482.6" width="1.4" height="14.7" fill="#ccccf6"/>
<rect x="1253.8" y="1482.6" width="1.4" height="14.7" fill="#cbcbf6"/>
<rect x="1254.8" y="1482.6" width="1.4" height="14.7" fill="#cecef8"/>
<rect x="1255.7" y="1482.6" width="1.4" height="14.7" fill="#ccccf7"/>
<rect x="1256.7" y="1482.6" width="1.4" height="14.7" fill="#cbcbf5"/>
<rect x="1257.7" y="1482.6" width="1.4" height="14.7" fill="#cbcbf6"/>
<rect x="1258.7" y="1482.6" width="1.4" height="14.7" fill="#ccccf7"/>
<rect x="1259.7" y="1482.6" width="1.4" height="14.7" fill="#cbcbf6"/>
<rect x="1260.7" y="1482.6" width="1.4" height="14.7" fill="#ccccf7"/>
<rect x="1261.7" y="1482.6" width="1.4" height="14.7" fill="#cbcbf6"/>
<rect x="1262.7" y="1482.6" width="1.4" height="14.7" fill="#ccccf7"/>
<rect x="1263.7" y="1482.6" width="1.4" height="14.7" fill="#cbcbf6"/>
<rect x="1264.7" y="1482.6" width="1.4" height="14.7" fill="#ccccf7"/>
<rect x="1265.7" y="1482.6" width="1.4" height="14.7" fill="#cacaf5"/>
<rect x="1266.7" y="1482.6" width="1.4" height="14.7" fill="#cbcbf7"/>
<rect x="1267.6" y="1482.6" width="1.4" height="14.7" fill="#cacaf6"/>
<rect x="1268.6" y="1482.6" width="1.4" height="14.7" fill="#cacaf5"/>
<rect x="1269.6" y="1482.6" width="1.4" height="14.7" fill="#cacaf6"/>
<rect x="1270.6" y="1482.6" width="1.4" height="14.7" fill="#c8c8f4"/>
<rect x="1271.6" y="1482.6" width="1.4" height="14.7" fill="#cacaf6"/>
<rect x="1272.6" y="1482.6" width="1.4" height="14.7" fill="#c8c8f4"/>
<rect x="1273.6" y="1482.6" width="1.4" height="14.7" fill="#c9c9f5"/>
<rect x="1274.6" y="1482.6" width="1.4" height="14.7" fill="#c9c9f5"/>
<rect x="1275.6" y="1482.6" width="1.4" height="14.7" fill="#c9c9f6"/>
<rect x="1276.6" y="1482.6" width="1.4" height="14.7" fill="#c9c9f5"/>
<rect x="1277.6" y="1482.6" width="1.4" height="14.7" fill="#c9c9f6"/>
<rect x="1278.6" y="1482.6" width="1.4" height="14.7" fill="#c9c9f6"/>
<rect x="1279.6" y="1482.6" width="1.4" height="14.7" fill="#c7c7f3"/>
<rect x="1280.5" y="1482.6" width="1.4" height="14.7" fill="#c7c7f4"/>
<rect x="1281.5" y="1482.6" width="1.4" height="14.7" fill="#c7c7f3"/>
<rect x="1282.5" y="1482.6" width="1.4" height="14.7" fill="#c8c8f5"/>
<rect x="1283.5" y="1482.6" width="1.4" height="14.7" fill="#c6c6f3"/>
<rect x="1284.5" y="1482.6" width="1.4" height="14.7" fill="#c6c6f2"/>
<rect x="1285.5" y="1482.6" width="1.4" height="14.7" fill="#c5c5f2"/>
<rect x="1286.5" y="1482.6" width="1.4" height="14.7" fill="#c7c7f4"/>
<rect x="1287.5" y="1482.6" width="1.4" height="14.7" fill="#c6c6f3"/>
<rect x="1288.5" y="1482.6" width="1.4" height="14.7" fill="#c7c7f4"/>
<rect x="1289.5" y="1482.6" width="1.4" height="14.7" fill="#c6c6f3"/>
<rect x="1290.5" y="1482.6" width="1.4" height="14.7" fill="#c5c5f3"/>
<rect x="1291.5" y="1482.6" width="1.4" height="14.7" fill="#c6c6f4"/>
<rect x="1292.4" y="1482.6" width="1.4" height="14.7" fill="#c5c5f3"/>
<rect x="1293.4" y="1482.6" width="1.4" height="14.7" fill="#c5c5f2"/>
<rect x="1294.4" y="1482.6" width="1.4" height="14.7" fill="#c6c6f4"/>
<rect x="1295.4" y="1482.6" width="1.4" height="14.7" fill="#c4c4f2"/>
<rect x="1296.4" y="1482.6" width="1.4" height="14.7" fill="#c5c5f3"/>
<rect x="1297.4" y="1482.6" width="1.4" height="14.7" fill="#c5c5f3"/>
<rect x="1298.4" y="1482.6" width="1.4" height="14.7" fill="#c5c5f3"/>
<rect x="1299.4" y="1482.6" width="1.4" height="14.7" fill="#c4c4f3"/>
<rect x="1300.4" y="1482.6" width="1.4" height="14.7" fill="#c4c4f2"/>
<rect x="1301.4" y="1482.6" width="1.4" height="14.7" fill="#c5c5f4"/>
<rect x="1302.4" y="1482.6" width="1.4" height="14.7" fill="#c3c3f1"/>
<rect x="1303.4" y="1482.6" width="1.4" height="14.7" fill="#c3c3f2"/>
<rect x="1304.4" y="1482.6" width="1.4" height="14.7" fill="#c3c3f2"/>
<rect x="1305.3" y="1482.6" width="1.4" height="14.7" fill="#c3c3f2"/>
<rect x="1306.3" y="1482.6" width="1.4" height="14.7" fill="#c3c3f2"/>
<rect x="1307.3" y="1482.6" width="1.4" height="14.7" fill="#c3c3f2"/>
<rect x="1308.3" y="1482.6" width="1.4" height="14.7" fill="#c3c3f2"/>
<rect x="1309.3" y="1482.6" width="1.4" height="14.7" fill="#c3c3f1"/>
<rect x="1310.3" y="1482.6" width="1.4" height="14.7" fill="#c2c2f1"/>
<rect x="1311.3" y="1482.6" width="1.4" height="14.7" fill="#c1c1f0"/>
<rect x="1312.3" y="1482.6" width="1.4" height="14.7" fill="#c2c2f2"/>
<rect x="1313.3" y="1482.6" width="1.4" height="14.7" fill="#c2c2f1"/>
<rect x="1314.3" y="1482.6" width="1.4" height="14.7" fill="#c2c2f1"/>
<rect x="1315.3" y="1482.6" width="1.4" height="14.7" fill="#c1c1f0"/>
<rect x="1316.3" y="1482.6" width="1.4" height="14.7" fill="#c0c0ef"/>
<rect x="1317.2" y="1482.6" width="1.4" height="14.7" fill="#c3c3f3"/>
<rect x="1318.2" y="1482.6" width="1.4" height="14.7" fill="#c1c1f1"/>
<rect x="1319.2" y="1482.6" width="1.4" height="14.7" fill="#c1c1f1"/>
<rect x="1320.2" y="1482.6" width="1.4" height="14.7" fill="#bfbfee"/>
<rect x="1321.2" y="1482.6" width="1.4" height="14.7" fill="#c1c1f1"/>
<rect x="1322.2" y="1482.6" width="1.4" height="14.7" fill="#c0c0ef"/>
<rect x="1323.2" y="1482.6" width="1.4" height="14.7" fill="#7777e6"/>
<rect x="1324.2" y="1482.6" width="1.4" height="14.7" fill="#7373df"/>
<rect x="1325.2" y="1482.6" width="1.4" height="14.7" fill="#7b7aee"/>
<rect x="1326.2" y="1482.6" width="1.4" height="14.7" fill="#7372e0"/>
<rect x="1327.2" y="1482.6" width="1.4" height="14.7" fill="#7d7cf4"/>
<rect x="1328.2" y="1482.6" width="1.4" height="14.7" fill="#7a78ee"/>
<rect x="1329.2" y="1482.6" width="1.4" height="14.7" fill="#7b79f2"/>
<rect x="1330.2" y="1482.6" width="1.4" height="14.7" fill="#6b69d2"/>
<rect x="1331.2" y="1482.6" width="1.4" height="14.7" fill="#7875ec"/>
<rect x="1332.1" y="1482.6" width="1.4" height="14.7" fill="#6f6cdb"/>
<rect x="1333.1" y="1482.6" width="1.4" height="14.7" fill="#6764cc"/>
<rect x="1334.1" y="1482.6" width="1.4" height="14.7" fill="#7773ec"/>
<rect x="1335.1" y="1482.6" width="1.4" height="14.7" fill="#7571e9"/>
<rect x="1336.1" y="1482.6" width="1.4" height="14.7" fill="#716de3"/>
<rect x="1337.1" y="1482.6" width="1.4" height="14.7" fill="#716de2"/>
<rect x="1338.1" y="1482.6" width="1.4" height="14.7" fill="#6c68da"/>
<rect x="1339.1" y="1482.6" width="1.4" height="14.7" fill="#7570eb"/>
<rect x="1340.1" y="1482.6" width="1.4" height="14.7" fill="#746feb"/>
<rect x="1341.1" y="1482.6" width="1.4" height="14.7" fill="#726de8"/>
<rect x="1342.1" y="1482.6" width="1.4" height="14.7" fill="#706ae3"/>
<rect x="1343.1" y="1482.6" width="1.4" height="14.7" fill="#6e68e1"/>
<rect x="1344.1" y="1482.6" width="1.4" height="14.7" fill="#746ded"/>
<rect x="1345.1" y="1482.6" width="1.4" height="14.7" fill="#6862d5"/>
<rect x="1346.1" y="1482.6" width="1.4" height="14.7" fill="#6a63db"/>
<rect x="1347.1" y="1482.6" width="1.4" height="14.7" fill="#6a63dc"/>
<rect x="1348.1" y="1482.6" width="1.4" height="14.7" fill="#6d65e0"/>
<rect x="1349.1" y="1482.6" width="1.4" height="14.7" fill="#6d65e1"/>
<rect x="1350" y="1482.6" width="1.4" height="14.7" fill="#635bce"/>
<rect x="1351" y="1482.6" width="1.4" height="14.7" fill="#6c63e1"/>
<rect x="1352" y="1482.6" width="1.4" height="14.7" fill="#6a61dd"/>
<rect x="1353" y="1482.6" width="1.4" height="14.7" fill="#685fd9"/>
<rect x="1354" y="1482.6" width="1.4" height="14.7" fill="#6960de"/>
<rect x="1355" y="1482.6" width="1.4" height="14.7" fill="#695fdd"/>
<rect x="1356" y="1482.6" width="1.4" height="14.7" fill="#655bd5"/>
<rect x="1357" y="1482.6" width="1.4" height="14.7" fill="#6258d1"/>
<rect x="1358" y="1482.6" width="1.4" height="14.7" fill="#6f64ed"/>
<rect x="1359" y="1482.6" width="1.4" height="14.7" fill="#6c60e7"/>
<rect x="1360" y="1482.6" width="1.4" height="14.7" fill="#6c60e8"/>
<rect x="1361" y="1482.6" width="1.4" height="14.7" fill="#5f55cd"/>
<rect x="1362" y="1482.6" width="1.4" height="14.7" fill="#6a5ee5"/>
<rect x="1363" y="1482.6" width="1.4" height="14.7" fill="#6256d3"/>
<rect x="1364" y="1482.6" width="1.4" height="14.7" fill="#675ae0"/>
<rect x="1365" y="1482.6" width="1.4" height="14.7" fill="#6759df"/>
<rect x="1366" y="1482.6" width="1.4" height="14.7" fill="#6658de"/>
<rect x="1367" y="1482.6" width="1.4" height="14.7" fill="#6759e1"/>
<rect x="1367.9" y="1482.6" width="1.4" height="14.7" fill="#6557de"/>
<rect x="1368.9" y="1482.6" width="1.4" height="14.7" fill="#5c4fcb"/>
<rect x="1369.9" y="1482.6" width="1.4" height="14.7" fill="#6556df"/>
<rect x="1370.9" y="1482.6" width="1.4" height="14.7" fill="#6455df"/>
<rect x="1371.9" y="1482.6" width="1.4" height="14.7" fill="#6051d6"/>
<rect x="1372.9" y="1482.6" width="1.4" height="14.7" fill="#5d4ed0"/>
<rect x="1373.9" y="1482.6" width="1.4" height="14.7" fill="#6151d9"/>
<rect x="1374.9" y="1482.6" width="1.4" height="14.7" fill="#5b4ccc"/>
<rect x="1375.9" y="1482.6" width="1.4" height="14.7" fill="#2010c0"/>
<rect x="1376.9" y="1482.6" width="1.4" height="14.7" fill="#2110c4"/>
<rect x="1377.9" y="1482.6" width="1.4" height="14.7" fill="#2110c6"/>
<rect x="1378.9" y="1482.6" width="1.4" height="14.7" fill="#2211ca"/>
<rect x="1379.9" y="1482.6" width="1.4" height="14.7" fill="#1f10bd"/>
<rect x="1380.9" y="1482.6" width="1.4" height="14.7" fill="#2110c5"/>
<rect x="1381.9" y="1482.6" width="1.4" height="14.7" fill="#1f0fba"/>
<rect x="1382.9" y="1482.6" width="1.4" height="14.7" fill="#2211cd"/>
<rect x="1383.9" y="1482.6" width="1.4" height="14.7" fill="#2110c5"/>
<rect x="1384.9" y="1482.6" width="1.4" height="14.7" fill="#1f0fb8"/>
<rect x="1385.9" y="1482.6" width="1.4" height="14.7" fill="#1f0fb7"/>
<rect x="1386.9" y="1482.6" width="1.4" height="14.7" fill="#1e0fb5"/>
<rect x="1387.9" y="1482.6" width="1.4" height="14.7" fill="#1f10bb"/>
<rect x="1388.9" y="1482.6" width="1.4" height="14.7" fill="#2010c3"/>
<rect x="1389.9" y="1482.6" width="1.4" height="14.7" fill="#2010c1"/>
<rect x="1390.9" y="1482.6" width="1.4" height="14.7" fill="#2110c5"/>
<rect x="1391.9" y="1482.6" width="1.4" height="14.7" fill="#2211cb"/>
<rect x="1392.9" y="1482.6" width="1.4" height="14.7" fill="#2311d0"/>
<rect x="1393.9" y="1482.6" width="1.4" height="14.7" fill="#2110c4"/>
<rect x="1394.9" y="1482.6" width="1.3" height="14.7" fill="#3e089d"/>
<rect x="1395.8" y="1482.6" width="1.3" height="14.7" fill="#390890"/>
<rect x="1396.8" y="1482.6" width="1.3" height="14.7" fill="#350787"/>
<rect x="1397.7" y="1482.6" width="1.3" height="14.7" fill="#3d089b"/>
<rect x="1398.7" y="1482.6" width="1.3" height="14.7" fill="#390891"/>
<rect x="1399.6" y="1482.6" width="1.3" height="14.7" fill="#3b0895"/>
<rect x="1400.6" y="1482.6" width="1.3" height="14.7" fill="#3d089b"/>
<rect x="1401.5" y="1482.6" width="1.3" height="14.7" fill="#3f089e"/>
<rect x="1402.5" y="1482.6" width="1.3" height="14.7" fill="#38078d"/>
<rect x="1403.4" y="1482.6" width="1.3" height="14.7" fill="#4109a3"/>
<rect x="1404.4" y="1482.6" width="1.3" height="14.7" fill="#3c0898"/>
<rect x="1405.3" y="1482.6" width="1.3" height="14.7" fill="#3b0895"/>
<rect x="1406.3" y="1482.6" width="1.3" height="14.7" fill="#3f089f"/>
<rect x="1407.2" y="1482.6" width="1.3" height="14.7" fill="#3f089e"/>
<rect x="1408.2" y="1482.6" width="1.3" height="14.7" fill="#3c0898"/>
<rect x="1409.1" y="1482.6" width="1.3" height="14.7" fill="#3d089b"/>
<rect x="1410.1" y="1482.6" width="1.3" height="14.7" fill="#3a0892"/>
<rect x="1114.6" y="1482.6" width="1.2" height="14.7" fill="#902020" opacity="0.6"/>
<rect x="1138.6" y="1482.6" width="1.2" height="14.7" fill="#902020" opacity="0.6"/>
<rect x="1148.9" y="1482.6" width="1.2" height="14.7" fill="#902020" opacity="0.6"/>
<rect x="1119.2" y="1482.6" width="1.2" height="14.7" fill="#902020" opacity="0.6"/>
<rect x="1077.9" y="1482.6" width="1.2" height="14.7" fill="#902020" opacity="0.6"/>
<rect x="1087" y="1482.6" width="1.2" height="14.7" fill="#902020" opacity="0.6"/>
<rect x="1134.4" y="1482.6" width="1.2" height="14.7" fill="#902020" opacity="0.6"/>
<rect x="1059.9" y="1482.6" width="1.2" height="14.7" fill="#902020" opacity="0.6"/>
<rect x="1085.6" y="1482.6" width="1.2" height="14.7" fill="#902020" opacity="0.6"/>
<rect x="1092.5" y="1482.6" width="1.2" height="14.7" fill="#902020" opacity="0.6"/>
<rect x="1078.6" y="1482.6" width="1.2" height="14.7" fill="#902020" opacity="0.6"/>
<rect x="1086.8" y="1482.6" width="1.2" height="14.7" fill="#902020" opacity="0.6"/>
<rect x="1110.4" y="1482.6" width="1.2" height="14.7" fill="#902020" opacity="0.6"/>
<rect x="1062.9" y="1482.6" width="1.2" height="14.7" fill="#902020" opacity="0.6"/>
<rect x="1126" y="1482.6" width="1.2" height="14.7" fill="#902020" opacity="0.6"/>
<rect x="1066.3" y="1482.6" width="1.2" height="14.7" fill="#902020" opacity="0.6"/>
<rect x="1121.3" y="1482.6" width="1.2" height="14.7" fill="#902020" opacity="0.6"/>
<rect x="1106.1" y="1482.6" width="1.2" height="14.7" fill="#902020" opacity="0.6"/>
<rect x="1118.7" y="1482.6" width="1.2" height="14.7" fill="#902020" opacity="0.6"/>
<rect x="1093.4" y="1482.6" width="1.2" height="14.7" fill="#902020" opacity="0.6"/>
<rect x="1107" y="1482.6" width="1.2" height="14.7" fill="#902020" opacity="0.6"/>
<rect x="1087.1" y="1482.6" width="1.2" height="14.7" fill="#902020" opacity="0.6"/>
<rect x="1146.5" y="1482.6" width="1.2" height="14.7" fill="#902020" opacity="0.6"/>
<rect x="1111.5" y="1482.6" width="1.2" height="14.7" fill="#902020" opacity="0.6"/>
<rect x="1099.2" y="1482.6" width="1.2" height="14.7" fill="#902020" opacity="0.6"/>
<rect x="1094.4" y="1482.6" width="1.2" height="14.7" fill="#902020" opacity="0.6"/>
<rect x="1101.1" y="1482.6" width="1.2" height="14.7" fill="#902020" opacity="0.6"/>
<rect x="1076.2" y="1482.6" width="1.2" height="14.7" fill="#902020" opacity="0.6"/>
<rect x="1056.3" y="1482.6" width="1.2" height="14.7" fill="#902020" opacity="0.6"/>
<rect x="1092.8" y="1482.6" width="1.2" height="14.7" fill="#902020" opacity="0.6"/>
<rect x="1145.6" y="1482.6" width="1.2" height="14.7" fill="#902020" opacity="0.6"/>
<rect x="1145.9" y="1482.6" width="1.2" height="14.7" fill="#902020" opacity="0.6"/>
<rect x="1117.2" y="1482.6" width="1.2" height="14.7" fill="#902020" opacity="0.6"/>
<rect x="1152.7" y="1482.6" width="1.2" height="14.7" fill="#806070" opacity="0.6"/>
<rect x="1158.7" y="1482.6" width="1.2" height="14.7" fill="#806070" opacity="0.6"/>
<rect x="1173.8" y="1482.6" width="1.2" height="14.7" fill="#806070" opacity="0.6"/>
<rect x="1164.1" y="1482.6" width="1.2" height="14.7" fill="#806070" opacity="0.6"/>
<rect x="1172.8" y="1482.6" width="1.2" height="14.7" fill="#806070" opacity="0.6"/>
<rect x="1155.5" y="1482.6" width="1.2" height="14.7" fill="#806070" opacity="0.6"/>
<rect x="1304.3" y="1482.6" width="1.2" height="14.7" fill="#a0a0d0" opacity="0.6"/>
<rect x="1285.3" y="1482.6" width="1.2" height="14.7" fill="#a0a0d0" opacity="0.6"/>
<rect x="1278.7" y="1482.6" width="1.2" height="14.7" fill="#a0a0d0" opacity="0.6"/>
<rect x="1272.3" y="1482.6" width="1.2" height="14.7" fill="#a0a0d0" opacity="0.6"/>
<rect x="1316.8" y="1482.6" width="1.2" height="14.7" fill="#a0a0d0" opacity="0.6"/>
<rect x="1278.5" y="1482.6" width="1.2" height="14.7" fill="#a0a0d0" opacity="0.6"/>
<rect x="1282" y="1482.6" width="1.2" height="14.7" fill="#a0a0d0" opacity="0.6"/>
<rect x="1274.8" y="1482.6" width="1.2" height="14.7" fill="#a0a0d0" opacity="0.6"/>
<rect x="1279.1" y="1482.6" width="1.2" height="14.7" fill="#a0a0d0" opacity="0.6"/>
<rect x="1257.3" y="1482.6" width="1.2" height="14.7" fill="#a0a0d0" opacity="0.6"/>
<rect x="1264.1" y="1482.6" width="1.2" height="14.7" fill="#a0a0d0" opacity="0.6"/>
<rect x="1279.7" y="1482.6" width="1.2" height="14.7" fill="#a0a0d0" opacity="0.6"/>
<rect x="1307.1" y="1482.6" width="1.2" height="14.7" fill="#a0a0d0" opacity="0.6"/>
<rect x="1281.2" y="1482.6" width="1.2" height="14.7" fill="#a0a0d0" opacity="0.6"/>
<rect x="1239.5" y="1482.6" width="1.2" height="14.7" fill="#a0a0d0" opacity="0.6"/>
<rect x="1290" y="1482.6" width="1.2" height="14.7" fill="#a0a0d0" opacity="0.6"/>
<rect x="1307.6" y="1482.6" width="1.2" height="14.7" fill="#a0a0d0" opacity="0.6"/>
<rect x="1285.2" y="1482.6" width="1.2" height="14.7" fill="#a0a0d0" opacity="0.6"/>
<rect x="1264.6" y="1482.6" width="1.2" height="14.7" fill="#a0a0d0" opacity="0.6"/>
<rect x="1226.6" y="1482.6" width="1.2" height="14.7" fill="#a0a0d0" opacity="0.6"/>
<rect x="1274.1" y="1482.6" width="1.2" height="14.7" fill="#a0a0d0" opacity="0.6"/>
<rect x="1256.5" y="1482.6" width="1.2" height="14.7" fill="#a0a0d0" opacity="0.6"/>
<rect x="1273.4" y="1482.6" width="1.2" height="14.7" fill="#a0a0d0" opacity="0.6"/>
<rect x="1330.8" y="1482.6" width="1.2" height="14.7" fill="#5040c0" opacity="0.6"/>
<rect x="1362.8" y="1482.6" width="1.2" height="14.7" fill="#5040c0" opacity="0.6"/>
<rect x="1358.5" y="1482.6" width="1.2" height="14.7" fill="#5040c0" opacity="0.6"/>
<rect x="1336.6" y="1482.6" width="1.2" height="14.7" fill="#5040c0" opacity="0.6"/>
<rect x="1324.2" y="1482.6" width="1.2" height="14.7" fill="#5040c0" opacity="0.6"/>
<rect x="1331.9" y="1482.6" width="1.2" height="14.7" fill="#5040c0" opacity="0.6"/>
<rect x="1355.2" y="1482.6" width="1.2" height="14.7" fill="#5040c0" opacity="0.6"/>
<rect x="1364.2" y="1482.6" width="1.2" height="14.7" fill="#5040c0" opacity="0.6"/>
<rect x="1323.7" y="1482.6" width="1.2" height="14.7" fill="#5040c0" opacity="0.6"/>
<rect x="1334" y="1482.6" width="1.2" height="14.7" fill="#5040c0" opacity="0.6"/>
<rect x="1351.6" y="1482.6" width="1.2" height="14.7" fill="#5040c0" opacity="0.6"/>
<line x1="1051.2" y1="1425.6" x2="1430" y2="1425.6" stroke="#a8a8a8" stroke-width="1.3"/>
<line x1="1051.2" y1="1482.4" x2="1430" y2="1482.4" stroke="#a8a8a8" stroke-width="1.3"/>
<rect x="1051.2" y="1252" width="378.8" height="245.3" fill="none" stroke="#a8a8a8" stroke-width="1.3"/>
<line x1="1051.2" y1="1252" x2="1051.2" y2="1497.3" stroke="#8a8a8a" stroke-width="1.3"/>
<path d="M1051.2 1381.6 1051.9 1377.3 1052.6 1371.7 1053.3 1366.7 1054 1359.6 1054.7 1352.2 1055.4 1346.8 1056.1 1344.9 1056.8 1342 1057.5 1340.4 1058.2 1338.9 1058.9 1337.3 1059.6 1335.8 1060.3 1334.2 1061 1331.7 1061.7 1330.5 1062.4 1328.7 1063.1 1326.5 1063.8 1323.9 1064.5 1321.9 1065.2 1319.8 1065.9 1317.7 1066.6 1314.9 1067.3 1312.5 1068 1309.4 1068.7 1307.7 1069.4 1305.4 1070.1 1303.6 1070.8 1300.5 1071.5 1299.6 1072.2 1296.6 1072.9 1295.4 1073.6 1292.9 1074.3 1290.6 1075 1289.1 1075.7 1287.2 1076.4 1284.8 1077.1 1283.5 1077.8 1280.9 1078.5 1279.6 1079.2 1277.8 1079.9 1276.8 1080.6 1274.8 1081.3 1273.8 1082 1272.8 1082.7 1272.1 1083.4 1271.1 1084.1 1270 1084.8 1269.3 1085.5 1268.7 1086.2 1268 1086.9 1268.1 1087.6 1266.7 1088.3 1267.3 1089 1266.2 1089.7 1266.5 1090.4 1265.9 1091.1 1266.3 1091.8 1265.9 1092.5 1264.7 1093.2 1264.9 1093.9 1265.4 1094.6 1264.9 1095.3 1264.6 1096 1264.5 1096.7 1264.4 1097.4 1264.3 1098.1 1264.2 1098.8 1263.9 1099.5 1263.8 1100.2 1263.9 1100.9 1263 1101.6 1262.8 1102.3 1262.8 1103 1263 1103.7 1262.8 1104.4 1262.9 1105.1 1262.2 1105.8 1262.7 1106.5 1262.5 1107.2 1262.5 1107.9 1261.6 1108.6 1261.6 1109.3 1260.7 1110 1261.4 1110.7 1261.1 1111.4 1260.9 1112.1 1260.5 1112.8 1260.6 1113.5 1260.4 1114.2 1260.9 1114.9 1260.5 1115.6 1261 1116.3 1261 1117 1260.9 1117.7 1260.8 1118.4 1260.3 1119.1 1260.4 1119.8 1261.1 1120.5 1260.5 1121.2 1260.7 1121.9 1261.3 1122.6 1260.5 1123.3 1261.3 1124 1261.1 1124.7 1261.3 1125.4 1261.3 1126.1 1261.4 1126.8 1261.7 1127.5 1262.3 1128.2 1261.4 1128.9 1262 1129.6 1262.9 1130.3 1263.1 1131 1263.6 1131.7 1263.5 1132.4 1263.9 1133.1 1265 1133.8 1264.9 1134.5 1264.5 1135.2 1265.5 1135.9 1265.3 1136.6 1266.5 1137.3 1266.8 1138 1266.8 1138.7 1267.1 1139.4 1267.9 1140.1 1268 1140.8 1268 1141.5 1269.1 1142.2 1269 1142.9 1269.4 1143.6 1269.3 1144.3 1270.2 1145 1269.9 1145.7 1271.3 1146.4 1271.6 1147.1 1270.9 1147.8 1272.1 1148.5 1272.7 1149.2 1272.8 1149.9 1273.5 1150.6 1274.2 1151.3 1274 1152 1274.2 1152.7 1275.2 1153.4 1275.6 1154.1 1276.6 1154.8 1275.5 1155.5 1276.8 1156.2 1277.4 1156.9 1278.1 1157.6 1278.1 1158.3 1279 1159 1279.8 1159.7 1279.9 1160.4 1280.5 1161.1 1280.8 1161.8 1281.2 1162.5 1282.2 1163.2 1282.7 1163.9 1283.6 1164.6 1284.3 1165.3 1284.8 1166 1286.1 1166.7 1285.9 1167.4 1286.6 1168.1 1286.6 1168.8 1287.6 1169.5 1288.3 1170.2 1288.3 1170.9 1288.7 1171.6 1289.9 1172.3 1290.5 1173 1291 1173.7 1291.7 1174.4 1292.1 1175.1 1292.6 1175.8 1293.4 1176.5 1294.4 1177.2 1294.6 1177.9 1295.4 1178.6 1296.2 1179.3 1296.6 1180 1296.8 1180.7 1297.1 1181.4 1298.2 1182.1 1298.8 1182.8 1298.6 1183.5 1299.9 1184.2 1300.9 1184.9 1301.2 1185.6 1301.6 1186.3 1302.4 1187 1303.2 1187.7 1303.8 1188.4 1304.1 1189.1 1304 1189.8 1305.9 1190.5 1305.8 1191.2 1306.4 1191.9 1307.2 1192.6 1307.9 1193.3 1308.4 1194 1309 1194.7 1310.3 1195.4 1310.4 1196.1 1310.3 1196.8 1311 1197.5 1311.4 1198.2 1312.9 1198.9 1313.5 1199.6 1313.4 1200.3 1314.8 1201 1315.1 1201.7 1316 1202.4 1316.6 1203.1 1317.1 1203.8 1318 1204.5 1318.8 1205.2 1318.9 1205.9 1319.9 1206.6 1320.4 1207.3 1320.9 1208 1321.1 1208.7 1321.9 1209.4 1322.7 1210.1 1323.1 1210.8 1323.7 1211.5 1324 1212.2 1325.4 1212.9 1325.8 1213.6 1326.7 1214.3 1327.8 1215 1327.8 1215.7 1328.2 1216.4 1329 1217.1 1330.4 1217.8 1330.7 1218.5 1331.5 1219.2 1331.3 1219.9 1332.7 1220.6 1334.1 1221.3 1334.4 1222 1335.1 1222.7 1335.3 1223.4 1336.7 1224.1 1337.4 1224.8 1337 1225.5 1338.3 1226.2 1339.6 1226.9 1340.2 1227.6 1340 1228.3 1340.8 1229 1341.7 1229.7 1342.8 1230.4 1343.6 1231.1 1343.3 1231.8 1344.5 1232.5 1345.6 1233.2 1345.8 1233.9 1347.3 1234.6 1347.1 1235.3 1347.6 1236 1348.7 1236.7 1349.8 1237.4 1349.4 1238.1 1350.5 1238.8 1351.1 1239.5 1352.2 1240.2 1353.3 1240.9 1353.4 1241.6 1354.3 1242.3 1354.6 1243 1355.9 1243.7 1356.4 1244.4 1357 1245.1 1357.7 1245.8 1357.8 1246.5 1358.5 1247.2 1359.2 1247.9 1359.1 1248.6 1360.5 1249.3 1361.7 1250 1361.7 1250.7 1362.4 1251.4 1363.2 1252.1 1363.9 1252.8 1364.6 1253.5 1365.1 1254.2 1365.4 1254.9 1366.4 1255.6 1366.6 1256.3 1367.1 1257 1367.3 1257.7 1367.7 1258.4 1368.6 1259.1 1369.1 1259.8 1369.8 1260.5 1370.3 1261.2 1371 1261.9 1371.1 1262.6 1371.9 1263.3 1372.1 1264 1372.7 1264.7 1373.4 1265.4 1373.9 1266.1 1374.9 1266.8 1374.5 1267.5 1375.7 1268.2 1376.1 1268.9 1376.2 1269.6 1376.3 1270.3 1377.5 1271 1378.3 1271.7 1378 1272.4 1378.3 1273.1 1379.2 1273.8 1379.6 1274.5 1380.2 1275.2 1380.5 1275.9 1380.6 1276.6 1380.9 1277.3 1381.9 1278 1382.4 1278.7 1382.9 1279.4 1383.3 1280.1 1383.7 1280.8 1384.1 1281.5 1383.7 1282.2 1383.9 1282.9 1385.1 1283.6 1385.1 1284.3 1386.3 1285 1386.2 1285.7 1386.3 1286.4 1387.4 1287.1 1387.5 1287.8 1387.2 1288.5 1388.3 1289.2 1388.4 1289.9 1388.9 1290.6 1389.4 1291.3 1389.5 1292 1389.7 1292.7 1389.9 1293.4 1390.7 1294.1 1390.8 1294.8 1390.7 1295.5 1391.7 1296.2 1391.8 1296.9 1392.9 1297.6 1393.4 1298.3 1393.3 1299 1394 1299.7 1393.9 1300.4 1394.9 1301.1 1394.8 1301.8 1395.7 1302.5 1395.2 1303.2 1396 1303.9 1396.7 1304.6 1397.2 1305.3 1397.8 1306 1397.7 1306.7 1398.1 1307.4 1399.2 1308.1 1399.3 1308.8 1399.6 1309.5 1400.2 1310.2 1400.6 1310.9 1400.9 1311.6 1401 1312.3 1401.5 1313 1402.2 1313.7 1402.6 1314.4 1402.4 1315.1 1402.6 1315.8 1402.9 1316.5 1403.1 1317.2 1404.1 1317.9 1404.6 1318.6 1404.5 1319.3 1405 1320 1404.8 1320.7 1405.2 1321.4 1405.5 1322.1 1406.4 1322.8 1406.2 1323.5 1406.3 1324.2 1406.6 1324.9 1406.3 1325.6 1407.1 1326.3 1407 1327 1408.1 1327.7 1407.5 1328.4 1407.9 1329.1 1408.3 1329.8 1409 1330.5 1408.9 1331.2 1408.6 1331.9 1409.7 1332.6 1409.8 1333.3 1409.3 1334 1409.6 1334.7 1410.1 1335.4 1410.3 1336.1 1410 1336.8 1410.9 1337.5 1411.6 1338.2 1410.9 1338.9 1411.6 1339.6 1412.6 1340.3 1412.6 1341 1413 1341.7 1413.6 1342.4 1413.3 1343.1 1413.7 1343.8 1414.3 1344.5 1414.4 1345.2 1414.8 1345.9 1414.5 1346.6 1415.7 1347.3 1415.5 1348 1416.1 1348.7 1416.6 1349.4 1416.7 1350.1 1416.9 1350.8 1416.5 1351.5 1416.7 1352.2 1417.2 1352.9 1417.4 1353.6 1417.1 1354.3 1417 1355 1416.8 1355.7 1416.7 1356.4 1416 1357.1 1415.8 1357.8 1416 1358.5 1415 1359.2 1414.8 1359.9 1413.8 1360.6 1413.9 1361.3 1413.7 1362 1412.5 1362.7 1411.6 1363.4 1411.3 1364.1 1410.6 1364.8 1410.4 1365.5 1409.4 1366.2 1408.4 1366.9 1407 1367.6 1406.4 1368.3 1404.1 1369 1402.6 1369.7 1402.1 1370.4 1400.5 1371.1 1400 1371.8 1398 1372.5 1397.3 1373.2 1397.7 1373.9 1397.2 1374.6 1396.1 1375.3 1395.7 1376 1395 1376.7 1394.1 1377.4 1393.9 1378.1 1393.3 1378.8 1392.1 1379.5 1391.8 1380.2 1391.6 1380.9 1391.1 1381.6 1390.6 1382.3 1389.7 1383 1388.7 1383.7 1387.9 1384.4 1387.3 1385.1 1386.6 1385.8 1385.8 1386.5 1384.6 1387.2 1383.7 1387.9 1383.7 1388.6 1382.4 1389.3 1382.8 1390 1382.2 1390.7 1382.6 1391.4 1381.4 1392.1 1381.1 1392.8 1381.2 1393.5 1380.8 1394.2 1381.3 1394.9 1381.3 1395.6 1380.6 1396.3 1380.8 1397 1380.3 1397.7 1380 1398.4 1379.7 1399.1 1380.2 1399.8 1379.4 1400.5 1378.5 1401.2 1378.6 1401.9 1378 1402.6 1377.2 1403.3 1377.6 1404 1377.7 1404.7 1377 1405.4 1377.5 1406.1 1376.9 1406.8 1377.3 1407.5 1378.4 1408.2 1378.5 1408.9 1378.7 1409.6 1378.8 1410.3 1380.2 1411 1380.6 1411.7 1381.2 1412.4 1382.2" fill="none" stroke="#00f000" stroke-width="3" stroke-linejoin="round"/>
<text x="0" y="0" font-size="10.9" text-anchor="middle" font-family="'Liberation Sans', Arial, sans-serif" fill="#2a2a2a" transform="translate(1013.7 1338) rotate(-90)">Enrichment score (ES)</text>
<text x="1218.5" y="1240" font-size="29" text-anchor="middle">shOTX2-48h geneset</text>
<text x="1411.3" y="1277.3" font-size="26" text-anchor="end">NES=1.82</text>
<text x="1409.6" y="1305.4" font-size="26" text-anchor="end">FDR&lt;0.001</text>
<text x="1056.7" y="1529.4" font-size="28.5">DMSO</text>
<text x="1423.7" y="1529.4" font-size="28.5" text-anchor="end">CBL0137</text>
<text x="1227.3" y="1559.3" font-size="28.5" text-anchor="middle">D458</text>
<text x="985.8" y="1219.5" font-size="38" font-weight="bold">F</text>
<rect x="1480.3" y="1251" width="449.6" height="254.7" fill="#ededed"/>
<rect x="1537.3" y="1253.6" width="386.2" height="250" fill="#fff"/>
<line x1="1583.3" y1="1255.6" x2="1583.3" y2="1430.5" stroke="#cfcfcf" stroke-width="1" stroke-dasharray="2.5 3"/>
<line x1="1629.3" y1="1255.6" x2="1629.3" y2="1430.5" stroke="#cfcfcf" stroke-width="1" stroke-dasharray="2.5 3"/>
<line x1="1675.3" y1="1255.6" x2="1675.3" y2="1430.5" stroke="#cfcfcf" stroke-width="1" stroke-dasharray="2.5 3"/>
<line x1="1721.3" y1="1255.6" x2="1721.3" y2="1430.5" stroke="#cfcfcf" stroke-width="1" stroke-dasharray="2.5 3"/>
<line x1="1767.3" y1="1255.6" x2="1767.3" y2="1430.5" stroke="#cfcfcf" stroke-width="1" stroke-dasharray="2.5 3"/>
<line x1="1813.3" y1="1255.6" x2="1813.3" y2="1430.5" stroke="#cfcfcf" stroke-width="1" stroke-dasharray="2.5 3"/>
<line x1="1859.3" y1="1255.6" x2="1859.3" y2="1430.5" stroke="#cfcfcf" stroke-width="1" stroke-dasharray="2.5 3"/>
<line x1="1905.3" y1="1255.6" x2="1905.3" y2="1430.5" stroke="#cfcfcf" stroke-width="1" stroke-dasharray="2.5 3"/>
<line x1="1537.3" y1="1268.1" x2="1923.5" y2="1268.1" stroke="#cfcfcf" stroke-width="1" stroke-dasharray="2.5 3"/>
<line x1="1533.3" y1="1268.1" x2="1537.3" y2="1268.1" stroke="#555" stroke-width="1"/>
<text x="1531.8" y="1271.7" font-size="10" text-anchor="end" font-family="'Liberation Sans', Arial, sans-serif" fill="#2a2a2a">0.35</text>
<line x1="1537.3" y1="1284.3" x2="1923.5" y2="1284.3" stroke="#cfcfcf" stroke-width="1" stroke-dasharray="2.5 3"/>
<line x1="1533.3" y1="1284.3" x2="1537.3" y2="1284.3" stroke="#555" stroke-width="1"/>
<text x="1531.8" y="1287.9" font-size="10" text-anchor="end" font-family="'Liberation Sans', Arial, sans-serif" fill="#2a2a2a">0.30</text>
<line x1="1537.3" y1="1300.5" x2="1923.5" y2="1300.5" stroke="#cfcfcf" stroke-width="1" stroke-dasharray="2.5 3"/>
<line x1="1533.3" y1="1300.5" x2="1537.3" y2="1300.5" stroke="#555" stroke-width="1"/>
<text x="1531.8" y="1304.1" font-size="10" text-anchor="end" font-family="'Liberation Sans', Arial, sans-serif" fill="#2a2a2a">0.25</text>
<line x1="1537.3" y1="1316.8" x2="1923.5" y2="1316.8" stroke="#cfcfcf" stroke-width="1" stroke-dasharray="2.5 3"/>
<line x1="1533.3" y1="1316.8" x2="1537.3" y2="1316.8" stroke="#555" stroke-width="1"/>
<text x="1531.8" y="1320.4" font-size="10" text-anchor="end" font-family="'Liberation Sans', Arial, sans-serif" fill="#2a2a2a">0.20</text>
<line x1="1537.3" y1="1333" x2="1923.5" y2="1333" stroke="#cfcfcf" stroke-width="1" stroke-dasharray="2.5 3"/>
<line x1="1533.3" y1="1333" x2="1537.3" y2="1333" stroke="#555" stroke-width="1"/>
<text x="1531.8" y="1336.6" font-size="10" text-anchor="end" font-family="'Liberation Sans', Arial, sans-serif" fill="#2a2a2a">0.15</text>
<line x1="1537.3" y1="1349.2" x2="1923.5" y2="1349.2" stroke="#cfcfcf" stroke-width="1" stroke-dasharray="2.5 3"/>
<line x1="1533.3" y1="1349.2" x2="1537.3" y2="1349.2" stroke="#555" stroke-width="1"/>
<text x="1531.8" y="1352.8" font-size="10" text-anchor="end" font-family="'Liberation Sans', Arial, sans-serif" fill="#2a2a2a">0.10</text>
<line x1="1537.3" y1="1365.5" x2="1923.5" y2="1365.5" stroke="#cfcfcf" stroke-width="1" stroke-dasharray="2.5 3"/>
<line x1="1533.3" y1="1365.5" x2="1537.3" y2="1365.5" stroke="#555" stroke-width="1"/>
<text x="1531.8" y="1369.1" font-size="10" text-anchor="end" font-family="'Liberation Sans', Arial, sans-serif" fill="#2a2a2a">0.05</text>
<line x1="1537.3" y1="1381.7" x2="1923.5" y2="1381.7" stroke="#cfcfcf" stroke-width="1" stroke-dasharray="2.5 3"/>
<line x1="1533.3" y1="1381.7" x2="1537.3" y2="1381.7" stroke="#555" stroke-width="1"/>
<text x="1531.8" y="1385.3" font-size="10" text-anchor="end" font-family="'Liberation Sans', Arial, sans-serif" fill="#2a2a2a">0.00</text>
<line x1="1537.3" y1="1397.9" x2="1923.5" y2="1397.9" stroke="#cfcfcf" stroke-width="1" stroke-dasharray="2.5 3"/>
<line x1="1533.3" y1="1397.9" x2="1537.3" y2="1397.9" stroke="#555" stroke-width="1"/>
<text x="1531.8" y="1401.5" font-size="10" text-anchor="end" font-family="'Liberation Sans', Arial, sans-serif" fill="#2a2a2a">-0.05</text>
<line x1="1537.3" y1="1414.2" x2="1923.5" y2="1414.2" stroke="#cfcfcf" stroke-width="1" stroke-dasharray="2.5 3"/>
<line x1="1533.3" y1="1414.2" x2="1537.3" y2="1414.2" stroke="#555" stroke-width="1"/>
<text x="1531.8" y="1417.8" font-size="10" text-anchor="end" font-family="'Liberation Sans', Arial, sans-serif" fill="#2a2a2a">-0.10</text>
<line x1="1537.3" y1="1381.7" x2="1923.5" y2="1381.7" stroke="#8a8a8a" stroke-width="1.4"/>
<rect x="1537.3" y="1432.9" width="17.8" height="55.3" fill="#000"/>
<rect x="1712.6" y="1432.9" width="1.4" height="55.3" fill="#000"/>
<rect x="1864" y="1432.9" width="13" height="55.3" fill="#000"/>
<path d="M1555.6 1432.9h1.2V1488.2h-1.2zM1556.9 1432.9h1.2V1488.2h-1.2zM1558.1 1432.9h1.2V1488.2h-1.2zM1559.4 1432.9h1V1488.2h-1zM1562.1 1432.9h1.2V1488.2h-1.2zM1563.4 1432.9h1.2V1488.2h-1.2zM1564.8 1432.9h1.2V1488.2h-1.2zM1566.1 1432.9h3V1488.2h-3zM1569.2 1432.9h1.2V1488.2h-1.2zM1570.6 1432.9h1V1488.2h-1zM1572.8 1432.9h1.8V1488.2h-1.8zM1574.9 1432.9h1V1488.2h-1zM1575.9 1432.9h1.2V1488.2h-1.2zM1577.2 1432.9h1.4V1488.2h-1.4zM1578.9 1432.9h1V1488.2h-1zM1579.9 1432.9h1.4V1488.2h-1.4zM1581.4 1432.9h1V1488.2h-1zM1582.4 1432.9h1.4V1488.2h-1.4zM1584.1 1432.9h2.4V1488.2h-2.4zM1586.9 1432.9h2.4V1488.2h-2.4zM1592.3 1432.9h1.8V1488.2h-1.8zM1594.4 1432.9h1.4V1488.2h-1.4zM1596 1432.9h2.4V1488.2h-2.4zM1598.8 1432.9h1V1488.2h-1zM1599.8 1432.9h1V1488.2h-1zM1602.1 1432.9h1V1488.2h-1zM1603.1 1432.9h2.4V1488.2h-2.4zM1605.6 1432.9h1.4V1488.2h-1.4zM1607.1 1432.9h1.4V1488.2h-1.4zM1608.7 1432.9h1V1488.2h-1zM1609.8 1432.9h1.4V1488.2h-1.4zM1611.3 1432.9h1.8V1488.2h-1.8zM1613.3 1432.9h1.4V1488.2h-1.4zM1614.7 1432.9h1.4V1488.2h-1.4zM1616.2 1432.9h1V1488.2h-1zM1617.4 1432.9h1.4V1488.2h-1.4zM1618.9 1432.9h2.4V1488.2h-2.4zM1621.7 1432.9h1.4V1488.2h-1.4zM1623.2 1432.9h1V1488.2h-1zM1624.2 1432.9h1.8V1488.2h-1.8zM1626.1 1432.9h2.4V1488.2h-2.4zM1628.7 1432.9h1.2V1488.2h-1.2zM1630.1 1432.9h1.2V1488.2h-1.2zM1631.4 1432.9h1.4V1488.2h-1.4zM1632.9 1432.9h2.4V1488.2h-2.4zM1635.7 1432.9h1V1488.2h-1zM1636.9 1432.9h1.4V1488.2h-1.4zM1638.5 1432.9h1V1488.2h-1zM1639.6 1432.9h1V1488.2h-1zM1640.6 1432.9h1.8V1488.2h-1.8zM1642.7 1432.9h1.4V1488.2h-1.4zM1644.2 1432.9h1.2V1488.2h-1.2zM1645.5 1432.9h1V1488.2h-1zM1646.7 1432.9h1.2V1488.2h-1.2zM1648 1432.9h3V1488.2h-3zM1653.2 1432.9h1V1488.2h-1zM1654.3 1432.9h1.4V1488.2h-1.4zM1655.9 1432.9h1.4V1488.2h-1.4zM1657.5 1432.9h1V1488.2h-1zM1658.6 1432.9h3V1488.2h-3zM1661.9 1432.9h1V1488.2h-1zM1663 1432.9h1.8V1488.2h-1.8zM1665.1 1432.9h0.4V1488.2h-0.4zM1714.8 1432.9h1V1488.2h-1zM1731.5 1432.9h1V1488.2h-1zM1733.9 1432.9h1.2V1488.2h-1.2zM1736.7 1432.9h2.4V1488.2h-2.4zM1741.1 1432.9h1.8V1488.2h-1.8zM1743.7 1432.9h1V1488.2h-1zM1745.6 1432.9h2.4V1488.2h-2.4zM1751.7 1432.9h1.4V1488.2h-1.4zM1754.1 1432.9h1.4V1488.2h-1.4zM1757.2 1432.9h1.4V1488.2h-1.4zM1764.3 1432.9h1V1488.2h-1zM1765.8 1432.9h3V1488.2h-3zM1771.7 1432.9h1.4V1488.2h-1.4zM1779.6 1432.9h2.4V1488.2h-2.4zM1783.6 1432.9h2.4V1488.2h-2.4zM1789.3 1432.9h3V1488.2h-3zM1793.2 1432.9h1.2V1488.2h-1.2zM1794.8 1432.9h3V1488.2h-3zM1801.8 1432.9h1.2V1488.2h-1.2zM1804 1432.9h1.2V1488.2h-1.2zM1806.1 1432.9h1.4V1488.2h-1.4zM1808.5 1432.9h1V1488.2h-1zM1810.2 1432.9h1.8V1488.2h-1.8zM1814.2 1432.9h2.4V1488.2h-2.4zM1819.6 1432.9h1V1488.2h-1zM1825.8 1432.9h1.4V1488.2h-1.4zM1834.2 1432.9h1.2V1488.2h-1.2zM1837.6 1432.9h1.4V1488.2h-1.4zM1840.2 1432.9h0.8V1488.2h-0.8zM1848.4 1432.9h1.2V1488.2h-1.2zM1850.3 1432.9h1.2V1488.2h-1.2zM1851.7 1432.9h1.2V1488.2h-1.2zM1853.4 1432.9h1.8V1488.2h-1.8zM1855.5 1432.9h3V1488.2h-3zM1859.6 1432.9h3V1488.2h-3zM1877.1 1432.9h3V1488.2h-3zM1885 1432.9h1.8V1488.2h-1.8zM1895.3 1432.9h1.8V1488.2h-1.8zM1900.7 1432.9h1.2V1488.2h-1.2zM1902.5 1432.9h0.7V1488.2h-0.7z" fill="#000"/>
<path d="M1560.6 1432.9h1.4V1488.2h-1.4zM1571.7 1432.9h1V1488.2h-1zM1589.5 1432.9h2.4V1488.2h-2.4zM1600.9 1432.9h1V1488.2h-1zM1651.2 1432.9h1.8V1488.2h-1.8zM1716.4 1432.9h3V1488.2h-3zM1759.3 1432.9h1.8V1488.2h-1.8zM1787.5 1432.9h1.2V1488.2h-1.2zM1820.8 1432.9h1V1488.2h-1zM1822.6 1432.9h1.4V1488.2h-1.4zM1827.5 1432.9h1.2V1488.2h-1.2zM1829 1432.9h2.4V1488.2h-2.4zM1835.9 1432.9h1.2V1488.2h-1.2zM1888.8 1432.9h1.2V1488.2h-1.2zM1891.8 1432.9h1.4V1488.2h-1.4zM1898.9 1432.9h1V1488.2h-1z" fill="#6a6a6a"/>
<rect x="1537.3" y="1488.7" width="1.3" height="14.9" fill="#a20000"/>
<rect x="1538.2" y="1488.7" width="1.3" height="14.9" fill="#a10000"/>
<rect x="1539.1" y="1488.7" width="1.3" height="14.9" fill="#ab0000"/>
<rect x="1540" y="1488.7" width="1.4" height="14.9" fill="#b83030"/>
<rect x="1541" y="1488.7" width="1.4" height="14.9" fill="#b42f2f"/>
<rect x="1542" y="1488.7" width="1.4" height="14.9" fill="#b22f2f"/>
<rect x="1543" y="1488.7" width="1.4" height="14.9" fill="#b63131"/>
<rect x="1544" y="1488.7" width="1.4" height="14.9" fill="#c33535"/>
<rect x="1545" y="1488.7" width="1.4" height="14.9" fill="#b73232"/>
<rect x="1546" y="1488.7" width="1.4" height="14.9" fill="#bf3434"/>
<rect x="1547" y="1488.7" width="1.4" height="14.9" fill="#b83333"/>
<rect x="1548" y="1488.7" width="1.4" height="14.9" fill="#c13636"/>
<rect x="1549" y="1488.7" width="1.4" height="14.9" fill="#c03636"/>
<rect x="1550" y="1488.7" width="1.4" height="14.9" fill="#b83434"/>
<rect x="1551" y="1488.7" width="1.4" height="14.9" fill="#d63d3d"/>
<rect x="1552" y="1488.7" width="1.4" height="14.9" fill="#b93535"/>
<rect x="1553" y="1488.7" width="1.4" height="14.9" fill="#bf3838"/>
<rect x="1554" y="1488.7" width="1.4" height="14.9" fill="#c43939"/>
<rect x="1555" y="1488.7" width="1.4" height="14.9" fill="#c93b3b"/>
<rect x="1556" y="1488.7" width="1.4" height="14.9" fill="#b33535"/>
<rect x="1557" y="1488.7" width="1.4" height="14.9" fill="#bf3939"/>
<rect x="1558" y="1488.7" width="1.4" height="14.9" fill="#cd3e3e"/>
<rect x="1559" y="1488.7" width="1.4" height="14.9" fill="#c83c3c"/>
<rect x="1560" y="1488.7" width="1.4" height="14.9" fill="#a03131"/>
<rect x="1561" y="1488.7" width="1.4" height="14.9" fill="#c83d3d"/>
<rect x="1562" y="1488.7" width="1.4" height="14.9" fill="#d14141"/>
<rect x="1563" y="1488.7" width="1.4" height="14.9" fill="#db4444"/>
<rect x="1564" y="1488.7" width="1.4" height="14.9" fill="#db4444"/>
<rect x="1565" y="1488.7" width="1.4" height="14.9" fill="#cf4141"/>
<rect x="1566" y="1488.7" width="1.4" height="14.9" fill="#d74444"/>
<rect x="1567" y="1488.7" width="1.4" height="14.9" fill="#cc4141"/>
<rect x="1568" y="1488.7" width="1.4" height="14.9" fill="#dc4646"/>
<rect x="1569" y="1488.7" width="1.4" height="14.9" fill="#de4747"/>
<rect x="1570" y="1488.7" width="1.4" height="14.9" fill="#ce4343"/>
<rect x="1571" y="1488.7" width="1.4" height="14.9" fill="#db4747"/>
<rect x="1572" y="1488.7" width="1.4" height="14.9" fill="#d44545"/>
<rect x="1573" y="1488.7" width="1.4" height="14.9" fill="#d54646"/>
<rect x="1574" y="1488.7" width="1.4" height="14.9" fill="#d84848"/>
<rect x="1575" y="1488.7" width="1.4" height="14.9" fill="#d74848"/>
<rect x="1576" y="1488.7" width="1.4" height="14.9" fill="#da4949"/>
<rect x="1577" y="1488.7" width="1.4" height="14.9" fill="#da4949"/>
<rect x="1578" y="1488.7" width="1.4" height="14.9" fill="#d04646"/>
<rect x="1579" y="1488.7" width="1.4" height="14.9" fill="#db4b4b"/>
<rect x="1580" y="1488.7" width="1.4" height="14.9" fill="#d14848"/>
<rect x="1581" y="1488.7" width="1.4" height="14.9" fill="#cd4747"/>
<rect x="1582" y="1488.7" width="1.4" height="14.9" fill="#f05353"/>
<rect x="1583" y="1488.7" width="1.4" height="14.9" fill="#e14e4e"/>
<rect x="1584" y="1488.7" width="1.4" height="14.9" fill="#ea5252"/>
<rect x="1585" y="1488.7" width="1.4" height="14.9" fill="#e85151"/>
<rect x="1586" y="1488.7" width="1.4" height="14.9" fill="#e04f4f"/>
<rect x="1587" y="1488.7" width="1.4" height="14.9" fill="#d44b4b"/>
<rect x="1588" y="1488.7" width="1.4" height="14.9" fill="#dc4e4e"/>
<rect x="1589" y="1488.7" width="1.4" height="14.9" fill="#d14b4b"/>
<rect x="1590" y="1488.7" width="1.4" height="14.9" fill="#eb4e4e"/>
<rect x="1591" y="1488.7" width="1.4" height="14.9" fill="#f55353"/>
<rect x="1592" y="1488.7" width="1.4" height="14.9" fill="#ee5252"/>
<rect x="1593" y="1488.7" width="1.4" height="14.9" fill="#f05353"/>
<rect x="1594" y="1488.7" width="1.4" height="14.9" fill="#e65151"/>
<rect x="1595" y="1488.7" width="1.4" height="14.9" fill="#f25656"/>
<rect x="1596" y="1488.7" width="1.4" height="14.9" fill="#de5050"/>
<rect x="1597" y="1488.7" width="1.4" height="14.9" fill="#f35959"/>
<rect x="1598" y="1488.7" width="1.4" height="14.9" fill="#ea5757"/>
<rect x="1599" y="1488.7" width="1.4" height="14.9" fill="#f25b5b"/>
<rect x="1600" y="1488.7" width="1.4" height="14.9" fill="#f35d5d"/>
<rect x="1601" y="1488.7" width="1.4" height="14.9" fill="#e65959"/>
<rect x="1602" y="1488.7" width="1.4" height="14.9" fill="#e75a5a"/>
<rect x="1602.9" y="1488.7" width="1.4" height="14.9" fill="#f15f5f"/>
<rect x="1603.9" y="1488.7" width="1.4" height="14.9" fill="#f66262"/>
<rect x="1604.9" y="1488.7" width="1.4" height="14.9" fill="#e85e5e"/>
<rect x="1605.9" y="1488.7" width="1.4" height="14.9" fill="#f46464"/>
<rect x="1606.9" y="1488.7" width="1.4" height="14.9" fill="#e15d5d"/>
<rect x="1607.9" y="1488.7" width="1.4" height="14.9" fill="#e66060"/>
<rect x="1608.9" y="1488.7" width="1.4" height="14.9" fill="#f16666"/>
<rect x="1609.9" y="1488.7" width="1.4" height="14.9" fill="#ec6565"/>
<rect x="1610.9" y="1488.7" width="1.4" height="14.9" fill="#e16262"/>
<rect x="1611.9" y="1488.7" width="1.4" height="14.9" fill="#ea6767"/>
<rect x="1612.9" y="1488.7" width="1.4" height="14.9" fill="#e86767"/>
<rect x="1613.9" y="1488.7" width="1.4" height="14.9" fill="#ed6a6a"/>
<rect x="1614.9" y="1488.7" width="1.4" height="14.9" fill="#e36767"/>
<rect x="1615.9" y="1488.7" width="1.4" height="14.9" fill="#e66969"/>
<rect x="1616.9" y="1488.7" width="1.4" height="14.9" fill="#dd6666"/>
<rect x="1617.9" y="1488.7" width="1.4" height="14.9" fill="#e56b6b"/>
<rect x="1618.9" y="1488.7" width="1.4" height="14.9" fill="#de6969"/>
<rect x="1619.9" y="1488.7" width="1.4" height="14.9" fill="#df6b6b"/>
<rect x="1620.9" y="1488.7" width="1.4" height="14.9" fill="#e56f6f"/>
<rect x="1621.9" y="1488.7" width="1.4" height="14.9" fill="#e06d6d"/>
<rect x="1622.9" y="1488.7" width="1.4" height="14.9" fill="#e47171"/>
<rect x="1623.9" y="1488.7" width="1.4" height="14.9" fill="#e06f6f"/>
<rect x="1624.9" y="1488.7" width="1.4" height="14.9" fill="#e97575"/>
<rect x="1625.9" y="1488.7" width="1.4" height="14.9" fill="#e27373"/>
<rect x="1626.8" y="1488.7" width="1.4" height="14.9" fill="#e27474"/>
<rect x="1627.8" y="1488.7" width="1.4" height="14.9" fill="#e97979"/>
<rect x="1628.8" y="1488.7" width="1.4" height="14.9" fill="#dc7373"/>
<rect x="1629.8" y="1488.7" width="1.4" height="14.9" fill="#d57171"/>
<rect x="1630.8" y="1488.7" width="1.4" height="14.9" fill="#e57a7a"/>
<rect x="1631.8" y="1488.7" width="1.4" height="14.9" fill="#ee8080"/>
<rect x="1632.8" y="1488.7" width="1.4" height="14.9" fill="#ec8080"/>
<rect x="1633.8" y="1488.7" width="1.4" height="14.9" fill="#d27474"/>
<rect x="1634.8" y="1488.7" width="1.4" height="14.9" fill="#e68080"/>
<rect x="1635.8" y="1488.7" width="1.4" height="14.9" fill="#d77878"/>
<rect x="1636.8" y="1488.7" width="1.4" height="14.9" fill="#d87a7a"/>
<rect x="1637.8" y="1488.7" width="1.4" height="14.9" fill="#ee8888"/>
<rect x="1638.8" y="1488.7" width="1.4" height="14.9" fill="#cd93b7"/>
<rect x="1639.8" y="1488.7" width="1.4" height="14.9" fill="#e7a5ce"/>
<rect x="1640.7" y="1488.7" width="1.4" height="14.9" fill="#e1a1c9"/>
<rect x="1641.7" y="1488.7" width="1.4" height="14.9" fill="#eaa8d1"/>
<rect x="1642.7" y="1488.7" width="1.4" height="14.9" fill="#da9dc3"/>
<rect x="1643.7" y="1488.7" width="1.4" height="14.9" fill="#f3aed9"/>
<rect x="1644.6" y="1488.7" width="1.4" height="14.9" fill="#eeabd4"/>
<rect x="1645.6" y="1488.7" width="1.4" height="14.9" fill="#dd9fc6"/>
<rect x="1646.6" y="1488.7" width="1.4" height="14.9" fill="#db9ec4"/>
<rect x="1647.5" y="1488.7" width="1.4" height="14.9" fill="#e0a2c9"/>
<rect x="1648.5" y="1488.7" width="1.4" height="14.9" fill="#dda0c6"/>
<rect x="1649.5" y="1488.7" width="1.4" height="14.9" fill="#d49abe"/>
<rect x="1650.4" y="1488.7" width="1.4" height="14.9" fill="#f1aed8"/>
<rect x="1651.4" y="1488.7" width="1.4" height="14.9" fill="#edacd4"/>
<rect x="1652.4" y="1488.7" width="1.4" height="14.9" fill="#da9ec4"/>
<rect x="1653.4" y="1488.7" width="1.4" height="14.9" fill="#ffc1ef"/>
<rect x="1654.3" y="1488.7" width="1.4" height="14.9" fill="#e8a8d0"/>
<rect x="1655.3" y="1488.7" width="1.4" height="14.9" fill="#dda0c6"/>
<rect x="1656.3" y="1488.7" width="1.4" height="14.9" fill="#feb9e4"/>
<rect x="1657.2" y="1488.7" width="1.4" height="14.9" fill="#f7b4dd"/>
<rect x="1658.2" y="1488.7" width="1.4" height="14.9" fill="#ecacd4"/>
<rect x="1659.2" y="1488.7" width="1.4" height="14.9" fill="#f5b2dc"/>
<rect x="1660.1" y="1488.7" width="1.4" height="14.9" fill="#f5b3dc"/>
<rect x="1661.1" y="1488.7" width="1.4" height="14.9" fill="#e9aad1"/>
<rect x="1662.1" y="1488.7" width="1.4" height="14.9" fill="#f8b5df"/>
<rect x="1663.1" y="1488.7" width="1.4" height="14.9" fill="#f9b7e0"/>
<rect x="1664" y="1488.7" width="1.4" height="14.9" fill="#edaed6"/>
<rect x="1665" y="1488.7" width="1.4" height="14.9" fill="#fabce5"/>
<rect x="1666" y="1488.7" width="1.4" height="14.9" fill="#f9bbe4"/>
<rect x="1667" y="1488.7" width="1.4" height="14.9" fill="#f7b9e2"/>
<rect x="1668" y="1488.7" width="1.4" height="14.9" fill="#f9bbe4"/>
<rect x="1669" y="1488.7" width="1.4" height="14.9" fill="#f9bbe4"/>
<rect x="1670" y="1488.7" width="1.4" height="14.9" fill="#f9bbe4"/>
<rect x="1671" y="1488.7" width="1.4" height="14.9" fill="#f7bae2"/>
<rect x="1671.9" y="1488.7" width="1.4" height="14.9" fill="#f9bbe4"/>
<rect x="1672.9" y="1488.7" width="1.4" height="14.9" fill="#f9bbe4"/>
<rect x="1673.9" y="1488.7" width="1.4" height="14.9" fill="#f9bbe4"/>
<rect x="1674.9" y="1488.7" width="1.4" height="14.9" fill="#fabce5"/>
<rect x="1675.9" y="1488.7" width="1.4" height="14.9" fill="#f6b9e2"/>
<rect x="1676.9" y="1488.7" width="1.4" height="14.9" fill="#f9bbe4"/>
<rect x="1677.9" y="1488.7" width="1.4" height="14.9" fill="#f8bae3"/>
<rect x="1678.9" y="1488.7" width="1.4" height="14.9" fill="#fabce5"/>
<rect x="1679.9" y="1488.7" width="1.4" height="14.9" fill="#f8bbe3"/>
<rect x="1680.9" y="1488.7" width="1.4" height="14.9" fill="#fabce5"/>
<rect x="1681.9" y="1488.7" width="1.4" height="14.9" fill="#f9bbe4"/>
<rect x="1682.9" y="1488.7" width="1.4" height="14.9" fill="#f8bae3"/>
<rect x="1683.8" y="1488.7" width="1.4" height="14.9" fill="#f7bae2"/>
<rect x="1684.8" y="1488.7" width="1.4" height="14.9" fill="#f9bbe4"/>
<rect x="1685.8" y="1488.7" width="1.4" height="14.9" fill="#fbbce6"/>
<rect x="1686.8" y="1488.7" width="1.4" height="14.9" fill="#fbbce5"/>
<rect x="1687.8" y="1488.7" width="1.4" height="14.9" fill="#f9bbe4"/>
<rect x="1688.8" y="1488.7" width="1.4" height="14.9" fill="#fabce5"/>
<rect x="1689.8" y="1488.7" width="1.4" height="14.9" fill="#f6b9e2"/>
<rect x="1690.8" y="1488.7" width="1.4" height="14.9" fill="#f8bae3"/>
<rect x="1691.8" y="1488.7" width="1.4" height="14.9" fill="#f7bae3"/>
<rect x="1692.8" y="1488.7" width="1.4" height="14.9" fill="#f9bbe4"/>
<rect x="1693.8" y="1488.7" width="1.4" height="14.9" fill="#f9bbe4"/>
<rect x="1694.8" y="1488.7" width="1.4" height="14.9" fill="#f7bae2"/>
<rect x="1695.7" y="1488.7" width="1.4" height="14.9" fill="#f8bbe3"/>
<rect x="1696.7" y="1488.7" width="1.4" height="14.9" fill="#fabce5"/>
<rect x="1697.7" y="1488.7" width="1.4" height="14.9" fill="#fbbce6"/>
<rect x="1698.7" y="1488.7" width="1.4" height="14.9" fill="#fabce5"/>
<rect x="1699.7" y="1488.7" width="1.4" height="14.9" fill="#f8bae3"/>
<rect x="1700.7" y="1488.7" width="1.4" height="14.9" fill="#f8bae3"/>
<rect x="1701.7" y="1488.7" width="1.4" height="14.9" fill="#f8bae3"/>
<rect x="1702.7" y="1488.7" width="1.4" height="14.9" fill="#fbbde6"/>
<rect x="1703.7" y="1488.7" width="1.4" height="14.9" fill="#fbbce5"/>
<rect x="1704.7" y="1488.7" width="1.4" height="14.9" fill="#f9bbe4"/>
<rect x="1705.7" y="1488.7" width="1.4" height="14.9" fill="#f9bbe4"/>
<rect x="1706.7" y="1488.7" width="1.4" height="14.9" fill="#f8bae3"/>
<rect x="1707.6" y="1488.7" width="1.4" height="14.9" fill="#f8bbe4"/>
<rect x="1708.6" y="1488.7" width="1.4" height="14.9" fill="#f9bbe4"/>
<rect x="1709.6" y="1488.7" width="1.4" height="14.9" fill="#f8bae3"/>
<rect x="1710.6" y="1488.7" width="1.4" height="14.9" fill="#f8bae3"/>
<rect x="1711.6" y="1488.7" width="1.4" height="14.9" fill="#fabce5"/>
<rect x="1712.6" y="1488.7" width="1.4" height="14.9" fill="#f8bae3"/>
<rect x="1713.6" y="1488.7" width="1.4" height="14.9" fill="#d3d3fb"/>
<rect x="1714.6" y="1488.7" width="1.4" height="14.9" fill="#d3d3fb"/>
<rect x="1715.6" y="1488.7" width="1.4" height="14.9" fill="#d2d2fb"/>
<rect x="1716.6" y="1488.7" width="1.4" height="14.9" fill="#d1d1fa"/>
<rect x="1717.6" y="1488.7" width="1.4" height="14.9" fill="#d1d1f9"/>
<rect x="1718.6" y="1488.7" width="1.4" height="14.9" fill="#d2d2fa"/>
<rect x="1719.6" y="1488.7" width="1.4" height="14.9" fill="#d2d2fb"/>
<rect x="1720.6" y="1488.7" width="1.4" height="14.9" fill="#d1d1f9"/>
<rect x="1721.6" y="1488.7" width="1.4" height="14.9" fill="#d3d3fc"/>
<rect x="1722.6" y="1488.7" width="1.4" height="14.9" fill="#d1d1fa"/>
<rect x="1723.6" y="1488.7" width="1.4" height="14.9" fill="#d0d0f9"/>
<rect x="1724.6" y="1488.7" width="1.4" height="14.9" fill="#cfcff8"/>
<rect x="1725.6" y="1488.7" width="1.4" height="14.9" fill="#cecef7"/>
<rect x="1726.6" y="1488.7" width="1.4" height="14.9" fill="#cfcff8"/>
<rect x="1727.6" y="1488.7" width="1.4" height="14.9" fill="#d0d0f9"/>
<rect x="1728.6" y="1488.7" width="1.4" height="14.9" fill="#cfcff8"/>
<rect x="1729.6" y="1488.7" width="1.4" height="14.9" fill="#d0d0f9"/>
<rect x="1730.6" y="1488.7" width="1.4" height="14.9" fill="#cfcff9"/>
<rect x="1731.6" y="1488.7" width="1.4" height="14.9" fill="#cecef8"/>
<rect x="1732.6" y="1488.7" width="1.4" height="14.9" fill="#cecef8"/>
<rect x="1733.6" y="1488.7" width="1.4" height="14.9" fill="#cecef8"/>
<rect x="1734.6" y="1488.7" width="1.4" height="14.9" fill="#cecef7"/>
<rect x="1735.6" y="1488.7" width="1.4" height="14.9" fill="#cfcff9"/>
<rect x="1736.6" y="1488.7" width="1.4" height="14.9" fill="#cecef8"/>
<rect x="1737.6" y="1488.7" width="1.4" height="14.9" fill="#cecef8"/>
<rect x="1738.6" y="1488.7" width="1.4" height="14.9" fill="#cecef8"/>
<rect x="1739.6" y="1488.7" width="1.4" height="14.9" fill="#ccccf6"/>
<rect x="1740.6" y="1488.7" width="1.4" height="14.9" fill="#ccccf6"/>
<rect x="1741.6" y="1488.7" width="1.4" height="14.9" fill="#cdcdf8"/>
<rect x="1742.6" y="1488.7" width="1.4" height="14.9" fill="#cbcbf5"/>
<rect x="1743.6" y="1488.7" width="1.4" height="14.9" fill="#ccccf7"/>
<rect x="1744.6" y="1488.7" width="1.4" height="14.9" fill="#ccccf6"/>
<rect x="1745.6" y="1488.7" width="1.4" height="14.9" fill="#cacaf4"/>
<rect x="1746.6" y="1488.7" width="1.4" height="14.9" fill="#ccccf6"/>
<rect x="1747.6" y="1488.7" width="1.4" height="14.9" fill="#cbcbf6"/>
<rect x="1748.6" y="1488.7" width="1.4" height="14.9" fill="#cbcbf6"/>
<rect x="1749.6" y="1488.7" width="1.4" height="14.9" fill="#ccccf7"/>
<rect x="1750.6" y="1488.7" width="1.4" height="14.9" fill="#ccccf7"/>
<rect x="1751.6" y="1488.7" width="1.4" height="14.9" fill="#ccccf8"/>
<rect x="1752.6" y="1488.7" width="1.4" height="14.9" fill="#cacaf5"/>
<rect x="1753.6" y="1488.7" width="1.4" height="14.9" fill="#cbcbf7"/>
<rect x="1754.6" y="1488.7" width="1.4" height="14.9" fill="#cacaf5"/>
<rect x="1755.6" y="1488.7" width="1.4" height="14.9" fill="#cbcbf6"/>
<rect x="1756.6" y="1488.7" width="1.4" height="14.9" fill="#cbcbf7"/>
<rect x="1757.6" y="1488.7" width="1.4" height="14.9" fill="#cbcbf6"/>
<rect x="1758.6" y="1488.7" width="1.4" height="14.9" fill="#cbcbf7"/>
<rect x="1759.6" y="1488.7" width="1.4" height="14.9" fill="#cbcbf7"/>
<rect x="1760.6" y="1488.7" width="1.4" height="14.9" fill="#cacaf6"/>
<rect x="1761.6" y="1488.7" width="1.4" height="14.9" fill="#c8c8f4"/>
<rect x="1762.6" y="1488.7" width="1.4" height="14.9" fill="#cacaf6"/>
<rect x="1763.6" y="1488.7" width="1.4" height="14.9" fill="#c9c9f6"/>
<rect x="1764.6" y="1488.7" width="1.4" height="14.9" fill="#c8c8f4"/>
<rect x="1765.6" y="1488.7" width="1.4" height="14.9" fill="#cbcbf7"/>
<rect x="1766.6" y="1488.7" width="1.4" height="14.9" fill="#c7c7f3"/>
<rect x="1767.6" y="1488.7" width="1.4" height="14.9" fill="#c9c9f5"/>
<rect x="1768.6" y="1488.7" width="1.4" height="14.9" fill="#c9c9f6"/>
<rect x="1769.6" y="1488.7" width="1.4" height="14.9" fill="#c7c7f3"/>
<rect x="1770.6" y="1488.7" width="1.4" height="14.9" fill="#c7c7f4"/>
<rect x="1771.6" y="1488.7" width="1.4" height="14.9" fill="#c6c6f3"/>
<rect x="1772.6" y="1488.7" width="1.4" height="14.9" fill="#c7c7f4"/>
<rect x="1773.6" y="1488.7" width="1.4" height="14.9" fill="#c7c7f4"/>
<rect x="1774.6" y="1488.7" width="1.4" height="14.9" fill="#c8c8f5"/>
<rect x="1775.6" y="1488.7" width="1.4" height="14.9" fill="#c8c8f5"/>
<rect x="1776.6" y="1488.7" width="1.4" height="14.9" fill="#c7c7f4"/>
<rect x="1777.6" y="1488.7" width="1.4" height="14.9" fill="#c7c7f4"/>
<rect x="1778.6" y="1488.7" width="1.4" height="14.9" fill="#c7c7f4"/>
<rect x="1779.6" y="1488.7" width="1.4" height="14.9" fill="#c5c5f2"/>
<rect x="1780.6" y="1488.7" width="1.4" height="14.9" fill="#c5c5f3"/>
<rect x="1781.6" y="1488.7" width="1.4" height="14.9" fill="#c5c5f3"/>
<rect x="1782.6" y="1488.7" width="1.4" height="14.9" fill="#c6c6f4"/>
<rect x="1783.6" y="1488.7" width="1.4" height="14.9" fill="#c5c5f3"/>
<rect x="1784.6" y="1488.7" width="1.4" height="14.9" fill="#c6c6f4"/>
<rect x="1785.6" y="1488.7" width="1.4" height="14.9" fill="#c5c5f3"/>
<rect x="1786.6" y="1488.7" width="1.4" height="14.9" fill="#c5c5f3"/>
<rect x="1787.6" y="1488.7" width="1.4" height="14.9" fill="#c6c6f4"/>
<rect x="1788.6" y="1488.7" width="1.4" height="14.9" fill="#c6c6f4"/>
<rect x="1789.6" y="1488.7" width="1.4" height="14.9" fill="#c5c5f3"/>
<rect x="1790.6" y="1488.7" width="1.4" height="14.9" fill="#c5c5f3"/>
<rect x="1791.6" y="1488.7" width="1.4" height="14.9" fill="#c3c3f1"/>
<rect x="1792.6" y="1488.7" width="1.4" height="14.9" fill="#c3c3f2"/>
<rect x="1793.6" y="1488.7" width="1.4" height="14.9" fill="#c3c3f2"/>
<rect x="1794.6" y="1488.7" width="1.4" height="14.9" fill="#c2c2f0"/>
<rect x="1795.6" y="1488.7" width="1.4" height="14.9" fill="#c4c4f2"/>
<rect x="1796.6" y="1488.7" width="1.4" height="14.9" fill="#c4c4f2"/>
<rect x="1797.6" y="1488.7" width="1.4" height="14.9" fill="#c3c3f2"/>
<rect x="1798.6" y="1488.7" width="1.4" height="14.9" fill="#c1c1f0"/>
<rect x="1799.6" y="1488.7" width="1.4" height="14.9" fill="#c3c3f2"/>
<rect x="1800.6" y="1488.7" width="1.4" height="14.9" fill="#c2c2f1"/>
<rect x="1801.6" y="1488.7" width="1.4" height="14.9" fill="#c4c4f3"/>
<rect x="1802.6" y="1488.7" width="1.4" height="14.9" fill="#c1c1f0"/>
<rect x="1803.6" y="1488.7" width="1.4" height="14.9" fill="#c1c1f0"/>
<rect x="1804.6" y="1488.7" width="1.4" height="14.9" fill="#c2c2f1"/>
<rect x="1805.6" y="1488.7" width="1.4" height="14.9" fill="#c1c1f0"/>
<rect x="1806.6" y="1488.7" width="1.4" height="14.9" fill="#c2c2f2"/>
<rect x="1807.6" y="1488.7" width="1.4" height="14.9" fill="#c1c1f0"/>
<rect x="1808.6" y="1488.7" width="1.4" height="14.9" fill="#c0c0f0"/>
<rect x="1809.6" y="1488.7" width="1.4" height="14.9" fill="#c0c0ef"/>
<rect x="1810.6" y="1488.7" width="1.4" height="14.9" fill="#c0c0f0"/>
<rect x="1811.6" y="1488.7" width="1.4" height="14.9" fill="#c0c0f0"/>
<rect x="1812.6" y="1488.7" width="1.4" height="14.9" fill="#c0c0f0"/>
<rect x="1813.6" y="1488.7" width="1.4" height="14.9" fill="#bfbfee"/>
<rect x="1814.6" y="1488.7" width="1.4" height="14.9" fill="#7171db"/>
<rect x="1815.6" y="1488.7" width="1.4" height="14.9" fill="#6f6fd7"/>
<rect x="1816.6" y="1488.7" width="1.4" height="14.9" fill="#6e6dd6"/>
<rect x="1817.6" y="1488.7" width="1.4" height="14.9" fill="#7675e5"/>
<rect x="1818.6" y="1488.7" width="1.4" height="14.9" fill="#7574e5"/>
<rect x="1819.5" y="1488.7" width="1.4" height="14.9" fill="#7876eb"/>
<rect x="1820.5" y="1488.7" width="1.4" height="14.9" fill="#6f6dd9"/>
<rect x="1821.5" y="1488.7" width="1.4" height="14.9" fill="#7371e2"/>
<rect x="1822.5" y="1488.7" width="1.4" height="14.9" fill="#7b78f2"/>
<rect x="1823.5" y="1488.7" width="1.4" height="14.9" fill="#7573e8"/>
<rect x="1824.5" y="1488.7" width="1.4" height="14.9" fill="#726fe1"/>
<rect x="1825.5" y="1488.7" width="1.4" height="14.9" fill="#6e6bdb"/>
<rect x="1826.5" y="1488.7" width="1.4" height="14.9" fill="#7672eb"/>
<rect x="1827.5" y="1488.7" width="1.4" height="14.9" fill="#706cdf"/>
<rect x="1828.4" y="1488.7" width="1.4" height="14.9" fill="#7772ee"/>
<rect x="1829.4" y="1488.7" width="1.4" height="14.9" fill="#7470ea"/>
<rect x="1830.4" y="1488.7" width="1.4" height="14.9" fill="#7974f4"/>
<rect x="1831.4" y="1488.7" width="1.4" height="14.9" fill="#726de6"/>
<rect x="1832.4" y="1488.7" width="1.4" height="14.9" fill="#6c66da"/>
<rect x="1833.4" y="1488.7" width="1.4" height="14.9" fill="#726ce8"/>
<rect x="1834.4" y="1488.7" width="1.4" height="14.9" fill="#6e68e0"/>
<rect x="1835.4" y="1488.7" width="1.4" height="14.9" fill="#6862d5"/>
<rect x="1836.4" y="1488.7" width="1.4" height="14.9" fill="#6c65dd"/>
<rect x="1837.3" y="1488.7" width="1.4" height="14.9" fill="#6d66e1"/>
<rect x="1838.3" y="1488.7" width="1.4" height="14.9" fill="#746cee"/>
<rect x="1839.3" y="1488.7" width="1.4" height="14.9" fill="#736bee"/>
<rect x="1840.3" y="1488.7" width="1.4" height="14.9" fill="#7269ec"/>
<rect x="1841.3" y="1488.7" width="1.4" height="14.9" fill="#756cf3"/>
<rect x="1842.3" y="1488.7" width="1.4" height="14.9" fill="#7067ea"/>
<rect x="1843.3" y="1488.7" width="1.4" height="14.9" fill="#665dd4"/>
<rect x="1844.3" y="1488.7" width="1.4" height="14.9" fill="#7066ea"/>
<rect x="1845.3" y="1488.7" width="1.4" height="14.9" fill="#645bd1"/>
<rect x="1846.2" y="1488.7" width="1.4" height="14.9" fill="#6a61e0"/>
<rect x="1847.2" y="1488.7" width="1.4" height="14.9" fill="#665dd8"/>
<rect x="1848.2" y="1488.7" width="1.4" height="14.9" fill="#7065ee"/>
<rect x="1849.2" y="1488.7" width="1.4" height="14.9" fill="#685ddc"/>
<rect x="1850.2" y="1488.7" width="1.4" height="14.9" fill="#695ee1"/>
<rect x="1851.2" y="1488.7" width="1.4" height="14.9" fill="#695ee0"/>
<rect x="1852.2" y="1488.7" width="1.4" height="14.9" fill="#6c60e8"/>
<rect x="1853.2" y="1488.7" width="1.4" height="14.9" fill="#5f54cd"/>
<rect x="1854.2" y="1488.7" width="1.4" height="14.9" fill="#6257d4"/>
<rect x="1855.1" y="1488.7" width="1.4" height="14.9" fill="#695ce3"/>
<rect x="1856.1" y="1488.7" width="1.4" height="14.9" fill="#6356d6"/>
<rect x="1857.1" y="1488.7" width="1.4" height="14.9" fill="#5b4fc7"/>
<rect x="1858.1" y="1488.7" width="1.4" height="14.9" fill="#6e60f1"/>
<rect x="1859.1" y="1488.7" width="1.4" height="14.9" fill="#584cc2"/>
<rect x="1860.1" y="1488.7" width="1.4" height="14.9" fill="#6154d6"/>
<rect x="1861.1" y="1488.7" width="1.4" height="14.9" fill="#6859e5"/>
<rect x="1862.1" y="1488.7" width="1.4" height="14.9" fill="#6354da"/>
<rect x="1863.1" y="1488.7" width="1.4" height="14.9" fill="#5a4cc8"/>
<rect x="1864" y="1488.7" width="1.4" height="14.9" fill="#6152d8"/>
<rect x="1865" y="1488.7" width="1.4" height="14.9" fill="#5d4ed0"/>
<rect x="1866" y="1488.7" width="1.4" height="14.9" fill="#5e4fd4"/>
<rect x="1867" y="1488.7" width="1.4" height="14.9" fill="#5f4fd5"/>
<rect x="1868" y="1488.7" width="1.4" height="14.9" fill="#2110c5"/>
<rect x="1869" y="1488.7" width="1.4" height="14.9" fill="#1f0fb9"/>
<rect x="1870" y="1488.7" width="1.4" height="14.9" fill="#1e0fb1"/>
<rect x="1871" y="1488.7" width="1.4" height="14.9" fill="#1f10ba"/>
<rect x="1871.9" y="1488.7" width="1.4" height="14.9" fill="#2111c7"/>
<rect x="1872.9" y="1488.7" width="1.4" height="14.9" fill="#2111c6"/>
<rect x="1873.9" y="1488.7" width="1.4" height="14.9" fill="#1f10ba"/>
<rect x="1874.9" y="1488.7" width="1.4" height="14.9" fill="#2110c4"/>
<rect x="1875.9" y="1488.7" width="1.4" height="14.9" fill="#2110c5"/>
<rect x="1876.9" y="1488.7" width="1.4" height="14.9" fill="#2110c4"/>
<rect x="1877.8" y="1488.7" width="1.4" height="14.9" fill="#1f0fb9"/>
<rect x="1878.8" y="1488.7" width="1.4" height="14.9" fill="#2110c4"/>
<rect x="1879.8" y="1488.7" width="1.4" height="14.9" fill="#2010be"/>
<rect x="1880.8" y="1488.7" width="1.4" height="14.9" fill="#2010be"/>
<rect x="1881.8" y="1488.7" width="1.4" height="14.9" fill="#2110c5"/>
<rect x="1882.8" y="1488.7" width="1.4" height="14.9" fill="#2010bf"/>
<rect x="1883.8" y="1488.7" width="1.4" height="14.9" fill="#2110c3"/>
<rect x="1884.7" y="1488.7" width="1.4" height="14.9" fill="#2110c4"/>
<rect x="1885.7" y="1488.7" width="1.4" height="14.9" fill="#1f10bc"/>
<rect x="1886.7" y="1488.7" width="1.4" height="14.9" fill="#1f10ba"/>
<rect x="1887.7" y="1488.7" width="1.4" height="14.9" fill="#3c0898"/>
<rect x="1888.7" y="1488.7" width="1.4" height="14.9" fill="#4109a6"/>
<rect x="1889.7" y="1488.7" width="1.4" height="14.9" fill="#3f08a0"/>
<rect x="1890.7" y="1488.7" width="1.4" height="14.9" fill="#3e089d"/>
<rect x="1891.7" y="1488.7" width="1.4" height="14.9" fill="#3c0899"/>
<rect x="1892.7" y="1488.7" width="1.4" height="14.9" fill="#3e089d"/>
<rect x="1893.7" y="1488.7" width="1.4" height="14.9" fill="#3b0896"/>
<rect x="1894.7" y="1488.7" width="1.4" height="14.9" fill="#3e089d"/>
<rect x="1895.7" y="1488.7" width="1.4" height="14.9" fill="#3c0897"/>
<rect x="1896.6" y="1488.7" width="1.4" height="14.9" fill="#3d089b"/>
<rect x="1897.6" y="1488.7" width="1.4" height="14.9" fill="#390891"/>
<rect x="1898.6" y="1488.7" width="1.4" height="14.9" fill="#3d089b"/>
<rect x="1899.6" y="1488.7" width="1.4" height="14.9" fill="#3d089c"/>
<rect x="1900.6" y="1488.7" width="1.4" height="14.9" fill="#3e089d"/>
<rect x="1901.6" y="1488.7" width="1.4" height="14.9" fill="#38088f"/>
<rect x="1902.6" y="1488.7" width="1.4" height="14.9" fill="#390890"/>
<rect x="1903.6" y="1488.7" width="1.4" height="14.9" fill="#4109a5"/>
<rect x="1608.3" y="1488.7" width="1.2" height="14.9" fill="#902020" opacity="0.6"/>
<rect x="1601.4" y="1488.7" width="1.2" height="14.9" fill="#902020" opacity="0.6"/>
<rect x="1580.7" y="1488.7" width="1.2" height="14.9" fill="#902020" opacity="0.6"/>
<rect x="1634.4" y="1488.7" width="1.2" height="14.9" fill="#902020" opacity="0.6"/>
<rect x="1609.4" y="1488.7" width="1.2" height="14.9" fill="#902020" opacity="0.6"/>
<rect x="1564" y="1488.7" width="1.2" height="14.9" fill="#902020" opacity="0.6"/>
<rect x="1626.9" y="1488.7" width="1.2" height="14.9" fill="#902020" opacity="0.6"/>
<rect x="1547.8" y="1488.7" width="1.2" height="14.9" fill="#902020" opacity="0.6"/>
<rect x="1615.8" y="1488.7" width="1.2" height="14.9" fill="#902020" opacity="0.6"/>
<rect x="1572" y="1488.7" width="1.2" height="14.9" fill="#902020" opacity="0.6"/>
<rect x="1537.1" y="1488.7" width="1.2" height="14.9" fill="#902020" opacity="0.6"/>
<rect x="1564.6" y="1488.7" width="1.2" height="14.9" fill="#902020" opacity="0.6"/>
<rect x="1566.3" y="1488.7" width="1.2" height="14.9" fill="#902020" opacity="0.6"/>
<rect x="1580.6" y="1488.7" width="1.2" height="14.9" fill="#902020" opacity="0.6"/>
<rect x="1634.9" y="1488.7" width="1.2" height="14.9" fill="#902020" opacity="0.6"/>
<rect x="1629.9" y="1488.7" width="1.2" height="14.9" fill="#902020" opacity="0.6"/>
<rect x="1573.3" y="1488.7" width="1.2" height="14.9" fill="#902020" opacity="0.6"/>
<rect x="1623.3" y="1488.7" width="1.2" height="14.9" fill="#902020" opacity="0.6"/>
<rect x="1583.9" y="1488.7" width="1.2" height="14.9" fill="#902020" opacity="0.6"/>
<rect x="1571.4" y="1488.7" width="1.2" height="14.9" fill="#902020" opacity="0.6"/>
<rect x="1596.5" y="1488.7" width="1.2" height="14.9" fill="#902020" opacity="0.6"/>
<rect x="1618.6" y="1488.7" width="1.2" height="14.9" fill="#902020" opacity="0.6"/>
<rect x="1621.9" y="1488.7" width="1.2" height="14.9" fill="#902020" opacity="0.6"/>
<rect x="1556.3" y="1488.7" width="1.2" height="14.9" fill="#902020" opacity="0.6"/>
<rect x="1631.8" y="1488.7" width="1.2" height="14.9" fill="#902020" opacity="0.6"/>
<rect x="1621" y="1488.7" width="1.2" height="14.9" fill="#902020" opacity="0.6"/>
<rect x="1566.4" y="1488.7" width="1.2" height="14.9" fill="#902020" opacity="0.6"/>
<rect x="1571.4" y="1488.7" width="1.2" height="14.9" fill="#902020" opacity="0.6"/>
<rect x="1560" y="1488.7" width="1.2" height="14.9" fill="#902020" opacity="0.6"/>
<rect x="1592.2" y="1488.7" width="1.2" height="14.9" fill="#902020" opacity="0.6"/>
<rect x="1621.2" y="1488.7" width="1.2" height="14.9" fill="#902020" opacity="0.6"/>
<rect x="1583" y="1488.7" width="1.2" height="14.9" fill="#902020" opacity="0.6"/>
<rect x="1566.7" y="1488.7" width="1.2" height="14.9" fill="#902020" opacity="0.6"/>
<rect x="1636" y="1488.7" width="1.2" height="14.9" fill="#902020" opacity="0.6"/>
<rect x="1651" y="1488.7" width="1.2" height="14.9" fill="#806070" opacity="0.6"/>
<rect x="1644.2" y="1488.7" width="1.2" height="14.9" fill="#806070" opacity="0.6"/>
<rect x="1641.9" y="1488.7" width="1.2" height="14.9" fill="#806070" opacity="0.6"/>
<rect x="1663.3" y="1488.7" width="1.2" height="14.9" fill="#806070" opacity="0.6"/>
<rect x="1655.9" y="1488.7" width="1.2" height="14.9" fill="#806070" opacity="0.6"/>
<rect x="1648.7" y="1488.7" width="1.2" height="14.9" fill="#806070" opacity="0.6"/>
<rect x="1647" y="1488.7" width="1.2" height="14.9" fill="#806070" opacity="0.6"/>
<rect x="1793" y="1488.7" width="1.2" height="14.9" fill="#a0a0d0" opacity="0.6"/>
<rect x="1752.8" y="1488.7" width="1.2" height="14.9" fill="#a0a0d0" opacity="0.6"/>
<rect x="1726.6" y="1488.7" width="1.2" height="14.9" fill="#a0a0d0" opacity="0.6"/>
<rect x="1784.3" y="1488.7" width="1.2" height="14.9" fill="#a0a0d0" opacity="0.6"/>
<rect x="1781.9" y="1488.7" width="1.2" height="14.9" fill="#a0a0d0" opacity="0.6"/>
<rect x="1787.9" y="1488.7" width="1.2" height="14.9" fill="#a0a0d0" opacity="0.6"/>
<rect x="1789.4" y="1488.7" width="1.2" height="14.9" fill="#a0a0d0" opacity="0.6"/>
<rect x="1741.4" y="1488.7" width="1.2" height="14.9" fill="#a0a0d0" opacity="0.6"/>
<rect x="1737.8" y="1488.7" width="1.2" height="14.9" fill="#a0a0d0" opacity="0.6"/>
<rect x="1814.3" y="1488.7" width="1.2" height="14.9" fill="#a0a0d0" opacity="0.6"/>
<rect x="1745.7" y="1488.7" width="1.2" height="14.9" fill="#a0a0d0" opacity="0.6"/>
<rect x="1796.7" y="1488.7" width="1.2" height="14.9" fill="#a0a0d0" opacity="0.6"/>
<rect x="1811.9" y="1488.7" width="1.2" height="14.9" fill="#a0a0d0" opacity="0.6"/>
<rect x="1789.4" y="1488.7" width="1.2" height="14.9" fill="#a0a0d0" opacity="0.6"/>
<rect x="1716.5" y="1488.7" width="1.2" height="14.9" fill="#a0a0d0" opacity="0.6"/>
<rect x="1775.5" y="1488.7" width="1.2" height="14.9" fill="#a0a0d0" opacity="0.6"/>
<rect x="1771.1" y="1488.7" width="1.2" height="14.9" fill="#a0a0d0" opacity="0.6"/>
<rect x="1738.5" y="1488.7" width="1.2" height="14.9" fill="#a0a0d0" opacity="0.6"/>
<rect x="1741.9" y="1488.7" width="1.2" height="14.9" fill="#a0a0d0" opacity="0.6"/>
<rect x="1774.5" y="1488.7" width="1.2" height="14.9" fill="#a0a0d0" opacity="0.6"/>
<rect x="1732.8" y="1488.7" width="1.2" height="14.9" fill="#a0a0d0" opacity="0.6"/>
<rect x="1721.5" y="1488.7" width="1.2" height="14.9" fill="#a0a0d0" opacity="0.6"/>
<rect x="1753.7" y="1488.7" width="1.2" height="14.9" fill="#a0a0d0" opacity="0.6"/>
<rect x="1804.6" y="1488.7" width="1.2" height="14.9" fill="#a0a0d0" opacity="0.6"/>
<rect x="1815.3" y="1488.7" width="1.2" height="14.9" fill="#5040c0" opacity="0.6"/>
<rect x="1841.1" y="1488.7" width="1.2" height="14.9" fill="#5040c0" opacity="0.6"/>
<rect x="1840.2" y="1488.7" width="1.2" height="14.9" fill="#5040c0" opacity="0.6"/>
<rect x="1820.6" y="1488.7" width="1.2" height="14.9" fill="#5040c0" opacity="0.6"/>
<rect x="1847.5" y="1488.7" width="1.2" height="14.9" fill="#5040c0" opacity="0.6"/>
<rect x="1862.7" y="1488.7" width="1.2" height="14.9" fill="#5040c0" opacity="0.6"/>
<rect x="1851.9" y="1488.7" width="1.2" height="14.9" fill="#5040c0" opacity="0.6"/>
<rect x="1816.4" y="1488.7" width="1.2" height="14.9" fill="#5040c0" opacity="0.6"/>
<rect x="1862" y="1488.7" width="1.2" height="14.9" fill="#5040c0" opacity="0.6"/>
<rect x="1836.4" y="1488.7" width="1.2" height="14.9" fill="#5040c0" opacity="0.6"/>
<rect x="1822.8" y="1488.7" width="1.2" height="14.9" fill="#5040c0" opacity="0.6"/>
<line x1="1537.3" y1="1430.5" x2="1923.5" y2="1430.5" stroke="#a8a8a8" stroke-width="1.3"/>
<line x1="1537.3" y1="1488.5" x2="1923.5" y2="1488.5" stroke="#a8a8a8" stroke-width="1.3"/>
<rect x="1537.3" y="1253.6" width="386.2" height="250" fill="none" stroke="#a8a8a8" stroke-width="1.3"/>
<line x1="1537.3" y1="1253.6" x2="1537.3" y2="1503.6" stroke="#8a8a8a" stroke-width="1.3"/>
<path d="M1537.3 1381.7 1538 1377.1 1538.7 1373 1539.4 1367.5 1540.1 1364 1540.8 1360.5 1541.5 1355.9 1542.2 1352.7 1542.9 1348.7 1543.6 1345.9 1544.3 1341.6 1545 1338.9 1545.7 1336 1546.4 1333.7 1547.1 1331.1 1547.8 1330.1 1548.5 1328.9 1549.2 1327.6 1549.9 1326.8 1550.6 1325.4 1551.3 1323.7 1552 1321.9 1552.7 1319.7 1553.4 1318.2 1554.1 1316.8 1554.8 1314.3 1555.5 1312.7 1556.2 1310.5 1556.9 1307.6 1557.6 1304.1 1558.3 1300.3 1559 1297.6 1559.7 1295.3 1560.4 1293.6 1561.1 1291.8 1561.8 1290.8 1562.5 1289.1 1563.2 1288.1 1563.9 1286.6 1564.6 1285 1565.3 1284.6 1566 1283 1566.7 1281.4 1567.4 1280.2 1568.1 1278.8 1568.8 1276.6 1569.5 1274.5 1570.2 1273.7 1570.9 1271.6 1571.6 1270.2 1572.3 1269.1 1573 1268.1 1573.7 1268.2 1574.4 1267.5 1575.1 1267.6 1575.8 1267 1576.5 1267.4 1577.2 1266.9 1577.9 1266.3 1578.6 1266.2 1579.3 1266 1580 1265.8 1580.7 1266.4 1581.4 1266.4 1582.1 1266.1 1582.8 1265.8 1583.5 1266.2 1584.2 1265.6 1584.9 1265.2 1585.6 1264.8 1586.3 1265.7 1587 1265 1587.7 1265 1588.4 1265.1 1589.1 1264.7 1589.8 1264.8 1590.5 1264.3 1591.2 1264.4 1591.9 1264.2 1592.6 1264.5 1593.3 1264.1 1594 1264.1 1594.7 1264.4 1595.4 1264.3 1596.1 1263.6 1596.8 1263.2 1597.5 1263.2 1598.2 1262.8 1598.9 1262.2 1599.6 1262.9 1600.3 1262.7 1601 1262.9 1601.7 1261.7 1602.4 1262.5 1603.1 1262 1603.8 1261.8 1604.5 1261.8 1605.2 1262.2 1605.9 1262.4 1606.6 1262.3 1607.3 1261.9 1608 1262.6 1608.7 1262.5 1609.4 1263.2 1610.1 1262.5 1610.8 1263.2 1611.5 1262.9 1612.2 1263.1 1612.9 1263.2 1613.6 1263.2 1614.3 1264.1 1615 1264.4 1615.7 1264.5 1616.4 1264.4 1617.1 1265.2 1617.8 1265.8 1618.5 1265.9 1619.2 1267.5 1619.9 1267.5 1620.6 1267.4 1621.3 1269.1 1622 1269.9 1622.7 1269.8 1623.4 1269.7 1624.1 1270.3 1624.8 1270.9 1625.5 1271 1626.2 1271 1626.9 1272.1 1627.6 1271.9 1628.3 1272.2 1629 1272.8 1629.7 1273.3 1630.4 1273.4 1631.1 1273.5 1631.8 1274.6 1632.5 1274.4 1633.2 1274.6 1633.9 1275.4 1634.6 1275.3 1635.3 1275.5 1636 1276.1 1636.7 1276.1 1637.4 1277.7 1638.1 1277.7 1638.8 1278.4 1639.5 1277.8 1640.2 1278.7 1640.9 1279.3 1641.6 1279.6 1642.3 1280.3 1643 1280.6 1643.7 1281.4 1644.4 1281.4 1645.1 1282 1645.8 1282.8 1646.5 1282.8 1647.2 1283.9 1647.9 1284.4 1648.6 1284.6 1649.3 1286 1650 1285.7 1650.7 1286.2 1651.4 1287.2 1652.1 1287.5 1652.8 1289 1653.5 1287.9 1654.2 1289.4 1654.9 1289.9 1655.6 1290.1 1656.3 1291.4 1657 1292 1657.7 1292.4 1658.4 1292.8 1659.1 1294.2 1659.8 1295.5 1660.5 1294.3 1661.2 1296.3 1661.9 1296.4 1662.6 1297 1663.3 1297.5 1664 1298.6 1664.7 1299.1 1665.4 1299.3 1666.1 1300 1666.8 1301 1667.5 1302.1 1668.2 1302.7 1668.9 1303.3 1669.6 1303 1670.3 1303.7 1671 1305.1 1671.7 1305.5 1672.4 1306.2 1673.1 1306.7 1673.8 1307.3 1674.5 1307.5 1675.2 1308.4 1675.9 1309.1 1676.6 1309.8 1677.3 1310.3 1678 1310.6 1678.7 1311.7 1679.4 1311.6 1680.1 1312 1680.8 1313 1681.5 1313.9 1682.2 1314.8 1682.9 1314.7 1683.6 1315.8 1684.3 1316 1685 1316.6 1685.7 1317.4 1686.4 1317.9 1687.1 1317.6 1687.8 1319.5 1688.5 1320.6 1689.2 1320.6 1689.9 1320.5 1690.6 1320.9 1691.3 1322.3 1692 1322.7 1692.7 1323.4 1693.4 1323.8 1694.1 1324.1 1694.8 1324.8 1695.5 1324.8 1696.2 1325.8 1696.9 1325.8 1697.6 1326.7 1698.3 1326.8 1699 1328 1699.7 1328.4 1700.4 1329.2 1701.1 1329.7 1701.8 1330.3 1702.5 1330.7 1703.2 1331.5 1703.9 1331.5 1704.6 1332.8 1705.3 1333.7 1706 1334.3 1706.7 1334.8 1707.4 1335.2 1708.1 1336.3 1708.8 1336.3 1709.5 1337.5 1710.2 1337.6 1710.9 1338.4 1711.6 1339.6 1712.3 1340.1 1713 1340.8 1713.7 1341.1 1714.4 1342.3 1715.1 1343.2 1715.8 1343.2 1716.5 1344 1717.2 1345.6 1717.9 1345.1 1718.6 1345.8 1719.3 1346.9 1720 1346.9 1720.7 1348.1 1721.4 1348.1 1722.1 1349.4 1722.8 1349.5 1723.5 1350 1724.2 1350.9 1724.9 1351.9 1725.6 1352.4 1726.3 1353 1727 1353.2 1727.7 1353.7 1728.4 1354.9 1729.1 1355.1 1729.8 1356.1 1730.5 1356.4 1731.2 1356.6 1731.9 1357.9 1732.6 1358.9 1733.3 1359.1 1734 1359.5 1734.7 1360 1735.4 1361.1 1736.1 1361.4 1736.8 1362.2 1737.5 1362.6 1738.2 1363.3 1738.9 1363.5 1739.6 1364.3 1740.3 1364.8 1741 1365.4 1741.7 1366.3 1742.4 1367 1743.1 1367.6 1743.8 1367.7 1744.5 1367.9 1745.2 1368.9 1745.9 1369.8 1746.6 1370 1747.3 1371.6 1748 1371.2 1748.7 1372.3 1749.4 1372.8 1750.1 1373.4 1750.8 1373.3 1751.5 1374.2 1752.2 1375.4 1752.9 1375.7 1753.6 1376 1754.3 1376.7 1755 1377.2 1755.7 1377.5 1756.4 1378 1757.1 1378.9 1757.8 1380.3 1758.5 1379.5 1759.2 1380.5 1759.9 1380.6 1760.6 1381.7 1761.3 1382.1 1762 1382.7 1762.7 1383.5 1763.4 1383.7 1764.1 1383.5 1764.8 1384.3 1765.5 1384.3 1766.2 1385.1 1766.9 1385.4 1767.6 1385.9 1768.3 1386.1 1769 1387 1769.7 1386.9 1770.4 1387.1 1771.1 1388.3 1771.8 1388.6 1772.5 1389.3 1773.2 1389 1773.9 1390 1774.6 1390.5 1775.3 1390.7 1776 1390.8 1776.7 1392 1777.4 1391.5 1778.1 1392.3 1778.8 1392.5 1779.5 1393.1 1780.2 1393.7 1780.9 1394 1781.6 1394.4 1782.3 1395 1783 1395.8 1783.7 1396 1784.4 1396 1785.1 1396.5 1785.8 1397.1 1786.5 1397.4 1787.2 1398.6 1787.9 1398.1 1788.6 1398.8 1789.3 1399.7 1790 1399.6 1790.7 1399.9 1791.4 1400.9 1792.1 1401 1792.8 1401.5 1793.5 1401.3 1794.2 1402.4 1794.9 1402.5 1795.6 1403.3 1796.3 1403.6 1797 1403.6 1797.7 1403.8 1798.4 1404.5 1799.1 1405 1799.8 1404.7 1800.5 1405.7 1801.2 1405.6 1801.9 1406.3 1802.6 1406.6 1803.3 1407.4 1804 1406.9 1804.7 1407.5 1805.4 1406.9 1806.1 1408.1 1806.8 1408.2 1807.5 1408.6 1808.2 1409.1 1808.9 1409.1 1809.6 1409.3 1810.3 1409.2 1811 1410 1811.7 1409.9 1812.4 1410.7 1813.1 1410.4 1813.8 1409.9 1814.5 1410.8 1815.2 1412 1815.9 1411.4 1816.6 1412.7 1817.3 1412.3 1818 1411.9 1818.7 1412.6 1819.4 1412.6 1820.1 1413.4 1820.8 1412.9 1821.5 1413.4 1822.2 1413.8 1822.9 1414.9 1823.6 1414.6 1824.3 1415 1825 1414.7 1825.7 1414.7 1826.4 1415.6 1827.1 1415.5 1827.8 1415.9 1828.5 1417 1829.2 1416.7 1829.9 1417.4 1830.6 1416.6 1831.3 1416.7 1832 1417.2 1832.7 1417.7 1833.4 1418.3 1834.1 1418.4 1834.8 1418.2 1835.5 1418.3 1836.2 1418.7 1836.9 1419 1837.6 1419.9 1838.3 1419.3 1839 1420.4 1839.7 1420.3 1840.4 1421 1841.1 1420.8 1841.8 1421 1842.5 1422 1843.2 1421.5 1843.9 1421.8 1844.6 1422 1845.3 1421.7 1846 1422.1 1846.7 1421.8 1847.4 1421.6 1848.1 1420.5 1848.8 1419.7 1849.5 1418.6 1850.2 1417.3 1850.9 1416.2 1851.6 1415.7 1852.3 1414.9 1853 1414.6 1853.7 1414.5 1854.4 1413.7 1855.1 1413.4 1855.8 1412.8 1856.5 1412.6 1857.2 1412.1 1857.9 1412.3 1858.6 1411.7 1859.3 1411.4 1860 1411.3 1860.7 1410.9 1861.4 1410.9 1862.1 1410 1862.8 1410.3 1863.5 1410.1 1864.2 1408.6 1864.9 1408.2 1865.6 1407.6 1866.3 1406.8 1867 1405.8 1867.7 1404.9 1868.4 1403.8 1869.1 1402.4 1869.8 1401.5 1870.5 1400.7 1871.2 1399.5 1871.9 1397.9 1872.6 1397.7 1873.3 1396.5 1874 1395 1874.7 1395 1875.4 1393.5 1876.1 1392.4 1876.8 1392.6 1877.5 1391.6 1878.2 1390.6 1878.9 1390.2 1879.6 1390.4 1880.3 1388.7 1881 1387.7 1881.7 1387.9 1882.4 1388.4 1883.1 1386.7 1883.8 1386.7 1884.5 1386.3 1885.2 1385.4 1885.9 1384.1 1886.6 1384.7 1887.3 1384.3 1888 1384 1888.7 1383 1889.4 1382.5 1890.1 1382.2 1890.8 1381.5 1891.5 1380.7 1892.2 1381.1 1892.9 1380.4 1893.6 1380.5 1894.3 1379.4 1895 1380.5 1895.7 1379.7 1896.4 1379.4 1897.1 1380 1897.8 1380.1 1898.5 1379.2 1899.2 1380.3 1899.9 1380.2 1900.6 1380.4 1901.3 1379.6 1902 1380.6 1902.7 1380.2 1903.4 1380.5 1904.1 1380.3 1904.8 1380.6" fill="none" stroke="#00f000" stroke-width="3" stroke-linejoin="round"/>
<text x="0" y="0" font-size="10.9" text-anchor="middle" font-family="'Liberation Sans', Arial, sans-serif" fill="#2a2a2a" transform="translate(1499 1341) rotate(-90)">Enrichment score (ES)</text>
<text x="1719.6" y="1242.1" font-size="29" text-anchor="middle">shOTX2-96h geneset</text>
<text x="1914.6" y="1282.9" font-size="26" text-anchor="end">NES=1.71</text>
<text x="1914.8" y="1311" font-size="26" text-anchor="end">FDR&lt;0.001</text>
<text x="1541" y="1537.4" font-size="28.5">DMSO</text>
<text x="1831" y="1537.4" font-size="28.5">CBL0137</text>
<text x="1750.7" y="1557.3" font-size="28.5" text-anchor="middle">D458</text>
<text x="1474.5" y="1220.4" font-size="38" font-weight="bold">G</text>
<text x="2" y="1636.3" font-size="38" font-weight="bold">H</text>
<line x1="244.8" y1="1716.3" x2="1382.9" y2="1717.2" stroke="#000" stroke-width="2.6"/>
<line x1="350.6" y1="1679.5" x2="350.6" y2="1716.5" stroke="#000" stroke-width="2.2"/>
<line x1="559.7" y1="1679.5" x2="559.7" y2="1716.5" stroke="#000" stroke-width="2.2"/>
<line x1="769" y1="1679.5" x2="769" y2="1716.5" stroke="#000" stroke-width="2.2"/>
<line x1="1181.6" y1="1679.5" x2="1181.6" y2="1716.5" stroke="#000" stroke-width="2.2"/>
<text x="321.5" y="1764.5" font-size="28.5" text-anchor="middle">-1500</text>
<text x="530.6" y="1764.5" font-size="28.5" text-anchor="middle">-1000</text>
<text x="747.5" y="1764.5" font-size="28.5" text-anchor="middle">-500</text>
<text x="975.1" y="1764.5" font-size="28.5" text-anchor="middle">0</text>
<text x="1160.7" y="1764.5" font-size="28.5" text-anchor="middle">+500</text>
<path d="M977.3 1717.5V1652.4H1137" fill="none" stroke="#e5211d" stroke-width="3"/>
<path d="M1109.1 1635.3L1137.7 1652.4L1109.1 1669.1" fill="none" stroke="#e5211d" stroke-width="1.8"/>
<text x="976" y="1632.6" font-size="28.5">NEUROD1</text>
<rect x="372.3" y="1792.1" width="45.6" height="26.3" fill="#0868b0"/>
<rect x="575.7" y="1792.1" width="45.6" height="26.3" fill="#0868b0"/>
<rect x="722.5" y="1792.1" width="46.1" height="26.3" fill="#0868b0"/>
<rect x="864.9" y="1792.1" width="45.6" height="26.3" fill="#0868b0"/>
<rect x="924.2" y="1792.1" width="45.7" height="26.3" fill="#0868b0"/>
<rect x="1020" y="1792.1" width="45.2" height="26.3" fill="#0868b0"/>
<rect x="1087.2" y="1792.1" width="45.7" height="26.3" fill="#0868b0"/>
<text x="388.7" y="1858.8" font-size="28.5" text-anchor="middle">1</text>
<text x="594.6" y="1858.8" font-size="28.5" text-anchor="middle">2</text>
<text x="741" y="1858.8" font-size="28.5" text-anchor="middle">3</text>
<text x="882" y="1858.8" font-size="28.5" text-anchor="middle">4</text>
<text x="938.7" y="1858.8" font-size="28.5" text-anchor="middle">5</text>
<text x="1029.2" y="1858.8" font-size="28.5" text-anchor="middle">6</text>
<text x="1100.4" y="1858.8" font-size="28.5" text-anchor="middle">7</text>
<line x1="140.1" y1="2168.3" x2="140.1" y2="2200.8" stroke="#0000ff" stroke-width="1.5"/>
<line x1="136.5" y1="2168.3" x2="143.7" y2="2168.3" stroke="#0000ff" stroke-width="1.8"/>
<rect x="134.8" y="2200.8" width="10.5" height="139.6" fill="#0000ff"/>
<rect x="133.8" y="2199.8" width="12.5" height="3" fill="#0000ff"/>
<line x1="157.9" y1="2179.3" x2="157.9" y2="2217.3" stroke="#ff0000" stroke-width="1.5"/>
<line x1="154.3" y1="2179.3" x2="161.5" y2="2179.3" stroke="#ff0000" stroke-width="1.8"/>
<rect x="152.7" y="2217.3" width="10.5" height="123.1" fill="#ff0000"/>
<rect x="151.7" y="2216.3" width="12.5" height="3" fill="#ff0000"/>
<rect x="170.8" y="2337.9" width="10.5" height="2.5" fill="#00c000"/>
<rect x="188.7" y="2339.1" width="10.5" height="1.3" fill="#a000e8"/>
<rect x="187.7" y="2338.1" width="12.5" height="3" fill="#a000e8"/>
<line x1="223.7" y1="2294" x2="223.7" y2="2305" stroke="#0000ff" stroke-width="1.5"/>
<line x1="220.1" y1="2294" x2="227.3" y2="2294" stroke="#0000ff" stroke-width="1.8"/>
<rect x="218.4" y="2305" width="10.5" height="35.4" fill="#0000ff"/>
<rect x="217.4" y="2304" width="12.5" height="3" fill="#0000ff"/>
<line x1="241.5" y1="2301.4" x2="241.5" y2="2315.9" stroke="#ff0000" stroke-width="1.5"/>
<line x1="237.9" y1="2301.4" x2="245.1" y2="2301.4" stroke="#ff0000" stroke-width="1.8"/>
<rect x="236.2" y="2315.9" width="10.5" height="24.5" fill="#ff0000"/>
<rect x="235.2" y="2314.9" width="12.5" height="3" fill="#ff0000"/>
<line x1="259.7" y1="2335.2" x2="259.7" y2="2339.1" stroke="#00c000" stroke-width="1.5"/>
<line x1="256.1" y1="2335.2" x2="263.3" y2="2335.2" stroke="#00c000" stroke-width="1.8"/>
<rect x="254.4" y="2339.1" width="10.5" height="1.3" fill="#00c000"/>
<rect x="253.4" y="2338.1" width="12.5" height="3" fill="#00c000"/>
<rect x="272.2" y="2339.8" width="10.5" height="0.6" fill="#a000e8"/>
<rect x="271.2" y="2338.8" width="12.5" height="3" fill="#a000e8"/>
<line x1="307.3" y1="2008.5" x2="307.3" y2="2104.5" stroke="#0000ff" stroke-width="1.5"/>
<line x1="303.7" y1="2008.5" x2="310.9" y2="2008.5" stroke="#0000ff" stroke-width="1.8"/>
<rect x="302.1" y="2104.5" width="10.5" height="235.9" fill="#0000ff"/>
<rect x="301.1" y="2103.5" width="12.5" height="3" fill="#0000ff"/>
<line x1="325.1" y1="2121.9" x2="325.1" y2="2198" stroke="#ff0000" stroke-width="1.5"/>
<line x1="321.5" y1="2121.9" x2="328.7" y2="2121.9" stroke="#ff0000" stroke-width="1.8"/>
<rect x="319.9" y="2198" width="10.5" height="142.4" fill="#ff0000"/>
<rect x="318.9" y="2197" width="12.5" height="3" fill="#ff0000"/>
<line x1="343.3" y1="2308.2" x2="343.3" y2="2328.8" stroke="#00c000" stroke-width="1.5"/>
<line x1="339.7" y1="2308.2" x2="346.9" y2="2308.2" stroke="#00c000" stroke-width="1.8"/>
<rect x="338.1" y="2328.8" width="10.5" height="11.6" fill="#00c000"/>
<rect x="337.1" y="2327.8" width="12.5" height="3" fill="#00c000"/>
<line x1="361.1" y1="2282.4" x2="361.1" y2="2313.3" stroke="#a000e8" stroke-width="1.5"/>
<line x1="357.5" y1="2282.4" x2="364.7" y2="2282.4" stroke="#a000e8" stroke-width="1.8"/>
<rect x="355.9" y="2313.3" width="10.5" height="27.1" fill="#a000e8"/>
<rect x="354.9" y="2312.3" width="12.5" height="3" fill="#a000e8"/>
<line x1="390.9" y1="2042.6" x2="390.9" y2="2103.2" stroke="#0000ff" stroke-width="1.5"/>
<line x1="387.3" y1="2042.6" x2="394.5" y2="2042.6" stroke="#0000ff" stroke-width="1.8"/>
<rect x="385.6" y="2103.2" width="10.5" height="237.2" fill="#0000ff"/>
<rect x="384.6" y="2102.2" width="12.5" height="3" fill="#0000ff"/>
<line x1="408.7" y1="2101.9" x2="408.7" y2="2157.4" stroke="#ff0000" stroke-width="1.5"/>
<line x1="405.1" y1="2101.9" x2="412.3" y2="2101.9" stroke="#ff0000" stroke-width="1.8"/>
<rect x="403.4" y="2157.4" width="10.5" height="183" fill="#ff0000"/>
<rect x="402.4" y="2156.4" width="12.5" height="3" fill="#ff0000"/>
<rect x="421.6" y="2337.9" width="10.5" height="2.5" fill="#00c000"/>
<rect x="439.4" y="2339.1" width="10.5" height="1.3" fill="#a000e8"/>
<rect x="438.4" y="2338.1" width="12.5" height="3" fill="#a000e8"/>
<line x1="474.5" y1="2249.5" x2="474.5" y2="2274.7" stroke="#0000ff" stroke-width="1.5"/>
<line x1="470.9" y1="2249.5" x2="478.1" y2="2249.5" stroke="#0000ff" stroke-width="1.8"/>
<rect x="469.2" y="2274.7" width="10.5" height="65.7" fill="#0000ff"/>
<rect x="468.2" y="2273.7" width="12.5" height="3" fill="#0000ff"/>
<line x1="492.3" y1="2296.2" x2="492.3" y2="2308.2" stroke="#ff0000" stroke-width="1.5"/>
<line x1="488.7" y1="2296.2" x2="495.9" y2="2296.2" stroke="#ff0000" stroke-width="1.8"/>
<rect x="487" y="2308.2" width="10.5" height="32.2" fill="#ff0000"/>
<rect x="486" y="2307.2" width="12.5" height="3" fill="#ff0000"/>
<rect x="505.2" y="2337.9" width="10.5" height="2.5" fill="#00c000"/>
<rect x="523" y="2337.9" width="10.5" height="2.5" fill="#a000e8"/>
<line x1="558.1" y1="2169" x2="558.1" y2="2214.1" stroke="#0000ff" stroke-width="1.5"/>
<line x1="554.5" y1="2169" x2="561.7" y2="2169" stroke="#0000ff" stroke-width="1.8"/>
<rect x="552.9" y="2214.1" width="10.5" height="126.3" fill="#0000ff"/>
<rect x="551.9" y="2213.1" width="12.5" height="3" fill="#0000ff"/>
<line x1="575.9" y1="2305" x2="575.9" y2="2315.9" stroke="#ff0000" stroke-width="1.5"/>
<line x1="572.3" y1="2305" x2="579.5" y2="2305" stroke="#ff0000" stroke-width="1.8"/>
<rect x="570.6" y="2315.9" width="10.5" height="24.5" fill="#ff0000"/>
<rect x="569.6" y="2314.9" width="12.5" height="3" fill="#ff0000"/>
<line x1="594.1" y1="2330.7" x2="594.1" y2="2335.2" stroke="#00c000" stroke-width="1.5"/>
<line x1="590.5" y1="2330.7" x2="597.7" y2="2330.7" stroke="#00c000" stroke-width="1.8"/>
<rect x="588.9" y="2335.2" width="10.5" height="5.2" fill="#00c000"/>
<rect x="587.9" y="2334.2" width="12.5" height="3" fill="#00c000"/>
<line x1="611.9" y1="2323" x2="611.9" y2="2328.8" stroke="#a000e8" stroke-width="1.5"/>
<line x1="608.3" y1="2323" x2="615.5" y2="2323" stroke="#a000e8" stroke-width="1.8"/>
<rect x="606.6" y="2328.8" width="10.5" height="11.6" fill="#a000e8"/>
<rect x="605.6" y="2327.8" width="12.5" height="3" fill="#a000e8"/>
<line x1="641.7" y1="2243.1" x2="641.7" y2="2274.7" stroke="#0000ff" stroke-width="1.5"/>
<line x1="638.1" y1="2243.1" x2="645.3" y2="2243.1" stroke="#0000ff" stroke-width="1.8"/>
<rect x="636.5" y="2274.7" width="10.5" height="65.7" fill="#0000ff"/>
<rect x="635.5" y="2273.7" width="12.5" height="3" fill="#0000ff"/>
<line x1="659.5" y1="2270.1" x2="659.5" y2="2278.8" stroke="#ff0000" stroke-width="1.5"/>
<line x1="655.9" y1="2270.1" x2="663.1" y2="2270.1" stroke="#ff0000" stroke-width="1.8"/>
<rect x="654.2" y="2278.8" width="10.5" height="61.6" fill="#ff0000"/>
<rect x="653.2" y="2277.8" width="12.5" height="3" fill="#ff0000"/>
<line x1="677.7" y1="2335.2" x2="677.7" y2="2338.5" stroke="#00c000" stroke-width="1.5"/>
<line x1="674.1" y1="2335.2" x2="681.3" y2="2335.2" stroke="#00c000" stroke-width="1.8"/>
<rect x="672.5" y="2338.5" width="10.5" height="1.9" fill="#00c000"/>
<rect x="671.5" y="2337.5" width="12.5" height="3" fill="#00c000"/>
<line x1="695.5" y1="2337.8" x2="695.5" y2="2339.8" stroke="#a000e8" stroke-width="1.5"/>
<line x1="691.9" y1="2337.8" x2="699.1" y2="2337.8" stroke="#a000e8" stroke-width="1.8"/>
<rect x="690.2" y="2339.8" width="10.5" height="0.6" fill="#a000e8"/>
<rect x="689.2" y="2338.8" width="12.5" height="3" fill="#a000e8"/>
<line x1="127.9" y1="1952.2" x2="127.9" y2="2344.4" stroke="#000" stroke-width="3"/>
<line x1="126.4" y1="2340.9" x2="711" y2="2340.9" stroke="#000" stroke-width="3"/>
<line x1="111.4" y1="2340.4" x2="127.9" y2="2340.4" stroke="#000" stroke-width="3"/>
<text x="103" y="2350.4" font-size="28.5" text-anchor="end">0.0</text>
<line x1="111.4" y1="2211.5" x2="127.9" y2="2211.5" stroke="#000" stroke-width="3"/>
<text x="103" y="2221.5" font-size="28.5" text-anchor="end">0.2</text>
<line x1="111.4" y1="2082.6" x2="127.9" y2="2082.6" stroke="#000" stroke-width="3"/>
<text x="103" y="2092.6" font-size="28.5" text-anchor="end">0.4</text>
<line x1="111.4" y1="1953.7" x2="127.9" y2="1953.7" stroke="#000" stroke-width="3"/>
<text x="103" y="1963.7" font-size="28.5" text-anchor="end">0.6</text>
<line x1="166.9" y1="2340.4" x2="166.9" y2="2357.4" stroke="#000" stroke-width="3"/>
<text x="0" y="0" font-size="28.5" text-anchor="end" transform="translate(179.4 2378) rotate(-45)">NEUROD1-1</text>
<line x1="250.5" y1="2340.4" x2="250.5" y2="2357.4" stroke="#000" stroke-width="3"/>
<text x="0" y="0" font-size="28.5" text-anchor="end" transform="translate(263 2378) rotate(-45)">NEUROD1-2</text>
<line x1="334.1" y1="2340.4" x2="334.1" y2="2357.4" stroke="#000" stroke-width="3"/>
<text x="0" y="0" font-size="28.5" text-anchor="end" transform="translate(346.6 2378) rotate(-45)">NEUROD1-3</text>
<line x1="417.7" y1="2340.4" x2="417.7" y2="2357.4" stroke="#000" stroke-width="3"/>
<text x="0" y="0" font-size="28.5" text-anchor="end" transform="translate(430.2 2378) rotate(-45)">NEUROD1-4</text>
<line x1="501.3" y1="2340.4" x2="501.3" y2="2357.4" stroke="#000" stroke-width="3"/>
<text x="0" y="0" font-size="28.5" text-anchor="end" transform="translate(513.8 2378) rotate(-45)">NEUROD1-5</text>
<line x1="584.9" y1="2340.4" x2="584.9" y2="2357.4" stroke="#000" stroke-width="3"/>
<text x="0" y="0" font-size="28.5" text-anchor="end" transform="translate(597.4 2378) rotate(-45)">NEUROD1-6</text>
<line x1="668.5" y1="2340.4" x2="668.5" y2="2357.4" stroke="#000" stroke-width="3"/>
<text x="0" y="0" font-size="28.5" text-anchor="end" transform="translate(681 2378) rotate(-45)">NEUROD1-7</text>
<text x="149.2" y="2146.6" font-size="28.5" text-anchor="middle">ns</text>
<text x="227" y="2276.7" font-size="28.5" text-anchor="middle">ns</text>
<text x="308.4" y="1990.5" font-size="28.5" text-anchor="middle">ns</text>
<text x="388.7" y="2014.4" font-size="28.5" text-anchor="middle">ns</text>
<text x="474.7" y="2225.2" font-size="28.5" text-anchor="middle">*</text>
<text x="574.4" y="2133.2" font-size="28.5" text-anchor="middle">***</text>
<text x="648.1" y="2205.1" font-size="28.5" text-anchor="middle">ns</text>
<text x="401" y="1934.2" font-size="28.5" text-anchor="middle">HDMB03</text>
<line x1="901.4" y1="2008.7" x2="901.4" y2="2088.7" stroke="#0000ff" stroke-width="1.5"/>
<line x1="897.8" y1="2008.7" x2="905" y2="2008.7" stroke="#0000ff" stroke-width="1.8"/>
<rect x="896.1" y="2088.7" width="10.5" height="250.8" fill="#0000ff"/>
<rect x="895.1" y="2087.7" width="12.5" height="3" fill="#0000ff"/>
<line x1="918.7" y1="2282.3" x2="918.7" y2="2299.2" stroke="#ff0000" stroke-width="1.5"/>
<line x1="915.1" y1="2282.3" x2="922.3" y2="2282.3" stroke="#ff0000" stroke-width="1.8"/>
<rect x="913.4" y="2299.2" width="10.5" height="40.3" fill="#ff0000"/>
<rect x="912.4" y="2298.2" width="12.5" height="3" fill="#ff0000"/>
<line x1="936.9" y1="2326.5" x2="936.9" y2="2335.2" stroke="#00c000" stroke-width="1.5"/>
<line x1="933.3" y1="2326.5" x2="940.5" y2="2326.5" stroke="#00c000" stroke-width="1.8"/>
<rect x="931.6" y="2335.2" width="10.5" height="4.3" fill="#00c000"/>
<rect x="930.6" y="2334.2" width="12.5" height="3" fill="#00c000"/>
<line x1="954.7" y1="2331.8" x2="954.7" y2="2332.1" stroke="#a000e8" stroke-width="1.5"/>
<line x1="951.1" y1="2331.8" x2="958.3" y2="2331.8" stroke="#a000e8" stroke-width="1.8"/>
<rect x="949.4" y="2332.1" width="10.5" height="7.4" fill="#a000e8"/>
<rect x="948.4" y="2331.1" width="12.5" height="3" fill="#a000e8"/>
<line x1="984.9" y1="2265.8" x2="984.9" y2="2275.8" stroke="#0000ff" stroke-width="1.5"/>
<line x1="981.2" y1="2265.8" x2="988.5" y2="2265.8" stroke="#0000ff" stroke-width="1.8"/>
<rect x="979.6" y="2275.8" width="10.5" height="63.7" fill="#0000ff"/>
<rect x="978.6" y="2274.8" width="12.5" height="3" fill="#0000ff"/>
<line x1="1002.1" y1="2329.5" x2="1002.1" y2="2336.6" stroke="#ff0000" stroke-width="1.5"/>
<line x1="998.5" y1="2329.5" x2="1005.8" y2="2329.5" stroke="#ff0000" stroke-width="1.8"/>
<rect x="996.9" y="2336.6" width="10.5" height="2.9" fill="#ff0000"/>
<rect x="995.9" y="2335.6" width="12.5" height="3" fill="#ff0000"/>
<line x1="1020.4" y1="2300.5" x2="1020.4" y2="2319.1" stroke="#00c000" stroke-width="1.5"/>
<line x1="1016.8" y1="2300.5" x2="1024" y2="2300.5" stroke="#00c000" stroke-width="1.8"/>
<rect x="1015.1" y="2319.1" width="10.5" height="20.4" fill="#00c000"/>
<rect x="1014.1" y="2318.1" width="12.5" height="3" fill="#00c000"/>
<line x1="1038.2" y1="2336.6" x2="1038.2" y2="2338.5" stroke="#a000e8" stroke-width="1.5"/>
<line x1="1034.6" y1="2336.6" x2="1041.8" y2="2336.6" stroke="#a000e8" stroke-width="1.8"/>
<rect x="1032.9" y="2338.5" width="10.5" height="1" fill="#a000e8"/>
<rect x="1031.9" y="2337.5" width="12.5" height="3" fill="#a000e8"/>
<line x1="1068.3" y1="2147.6" x2="1068.3" y2="2189" stroke="#0000ff" stroke-width="1.5"/>
<line x1="1064.7" y1="2147.6" x2="1071.9" y2="2147.6" stroke="#0000ff" stroke-width="1.8"/>
<rect x="1063" y="2189" width="10.5" height="150.5" fill="#0000ff"/>
<rect x="1062" y="2188" width="12.5" height="3" fill="#0000ff"/>
<line x1="1085.6" y1="2279.7" x2="1085.6" y2="2309.2" stroke="#ff0000" stroke-width="1.5"/>
<line x1="1082" y1="2279.7" x2="1089.2" y2="2279.7" stroke="#ff0000" stroke-width="1.8"/>
<rect x="1080.3" y="2309.2" width="10.5" height="30.3" fill="#ff0000"/>
<rect x="1079.3" y="2308.2" width="12.5" height="3" fill="#ff0000"/>
<line x1="1103.8" y1="2299.2" x2="1103.8" y2="2307" stroke="#00c000" stroke-width="1.5"/>
<line x1="1100.2" y1="2299.2" x2="1107.4" y2="2299.2" stroke="#00c000" stroke-width="1.8"/>
<rect x="1098.5" y="2307" width="10.5" height="32.5" fill="#00c000"/>
<rect x="1097.5" y="2306" width="12.5" height="3" fill="#00c000"/>
<line x1="1121.6" y1="2320" x2="1121.6" y2="2330" stroke="#a000e8" stroke-width="1.5"/>
<line x1="1118" y1="2320" x2="1125.2" y2="2320" stroke="#a000e8" stroke-width="1.8"/>
<rect x="1116.3" y="2330" width="10.5" height="9.5" fill="#a000e8"/>
<rect x="1115.3" y="2329" width="12.5" height="3" fill="#a000e8"/>
<line x1="1151.8" y1="2052.1" x2="1151.8" y2="2106.1" stroke="#0000ff" stroke-width="1.5"/>
<line x1="1148.2" y1="2052.1" x2="1155.3" y2="2052.1" stroke="#0000ff" stroke-width="1.8"/>
<rect x="1146.5" y="2106.1" width="10.5" height="233.4" fill="#0000ff"/>
<rect x="1145.5" y="2105.1" width="12.5" height="3" fill="#0000ff"/>
<line x1="1169" y1="2153.4" x2="1169" y2="2201.6" stroke="#ff0000" stroke-width="1.5"/>
<line x1="1165.5" y1="2153.4" x2="1172.6" y2="2153.4" stroke="#ff0000" stroke-width="1.8"/>
<rect x="1163.8" y="2201.6" width="10.5" height="137.9" fill="#ff0000"/>
<rect x="1162.8" y="2200.6" width="12.5" height="3" fill="#ff0000"/>
<line x1="1187.2" y1="2330.5" x2="1187.2" y2="2336.6" stroke="#00c000" stroke-width="1.5"/>
<line x1="1183.7" y1="2330.5" x2="1190.8" y2="2330.5" stroke="#00c000" stroke-width="1.8"/>
<rect x="1182" y="2336.6" width="10.5" height="2.9" fill="#00c000"/>
<rect x="1181" y="2335.6" width="12.5" height="3" fill="#00c000"/>
<rect x="1199.8" y="2329.9" width="10.5" height="9.6" fill="#a000e8"/>
<rect x="1198.8" y="2328.9" width="12.5" height="3" fill="#a000e8"/>
<line x1="1235.2" y1="2144.4" x2="1235.2" y2="2182.3" stroke="#0000ff" stroke-width="1.5"/>
<line x1="1231.6" y1="2144.4" x2="1238.8" y2="2144.4" stroke="#0000ff" stroke-width="1.8"/>
<rect x="1230" y="2182.3" width="10.5" height="157.2" fill="#0000ff"/>
<rect x="1229" y="2181.3" width="12.5" height="3" fill="#0000ff"/>
<line x1="1252.5" y1="2236.8" x2="1252.5" y2="2289.7" stroke="#ff0000" stroke-width="1.5"/>
<line x1="1248.9" y1="2236.8" x2="1256.1" y2="2236.8" stroke="#ff0000" stroke-width="1.8"/>
<rect x="1247.2" y="2289.7" width="10.5" height="49.8" fill="#ff0000"/>
<rect x="1246.2" y="2288.7" width="12.5" height="3" fill="#ff0000"/>
<line x1="1270.7" y1="2316.4" x2="1270.7" y2="2330.3" stroke="#00c000" stroke-width="1.5"/>
<line x1="1267.1" y1="2316.4" x2="1274.3" y2="2316.4" stroke="#00c000" stroke-width="1.8"/>
<rect x="1265.5" y="2330.3" width="10.5" height="9.2" fill="#00c000"/>
<rect x="1264.5" y="2329.3" width="12.5" height="3" fill="#00c000"/>
<line x1="1288.5" y1="2320.2" x2="1288.5" y2="2328.4" stroke="#a000e8" stroke-width="1.5"/>
<line x1="1284.9" y1="2320.2" x2="1292.1" y2="2320.2" stroke="#a000e8" stroke-width="1.8"/>
<rect x="1283.2" y="2328.4" width="10.5" height="11.1" fill="#a000e8"/>
<rect x="1282.2" y="2327.4" width="12.5" height="3" fill="#a000e8"/>
<line x1="1318.7" y1="2055.6" x2="1318.7" y2="2104.6" stroke="#0000ff" stroke-width="1.5"/>
<line x1="1315.1" y1="2055.6" x2="1322.2" y2="2055.6" stroke="#0000ff" stroke-width="1.8"/>
<rect x="1313.4" y="2104.6" width="10.5" height="234.9" fill="#0000ff"/>
<rect x="1312.4" y="2103.6" width="12.5" height="3" fill="#0000ff"/>
<line x1="1336" y1="2296.1" x2="1336" y2="2300.5" stroke="#ff0000" stroke-width="1.5"/>
<line x1="1332.4" y1="2296.1" x2="1339.5" y2="2296.1" stroke="#ff0000" stroke-width="1.8"/>
<rect x="1330.7" y="2300.5" width="10.5" height="39" fill="#ff0000"/>
<rect x="1329.7" y="2299.5" width="12.5" height="3" fill="#ff0000"/>
<line x1="1354.2" y1="2244" x2="1354.2" y2="2278.7" stroke="#00c000" stroke-width="1.5"/>
<line x1="1350.6" y1="2244" x2="1357.8" y2="2244" stroke="#00c000" stroke-width="1.8"/>
<rect x="1348.9" y="2278.7" width="10.5" height="60.8" fill="#00c000"/>
<rect x="1347.9" y="2277.7" width="12.5" height="3" fill="#00c000"/>
<line x1="1372" y1="2283.2" x2="1372" y2="2292.7" stroke="#a000e8" stroke-width="1.5"/>
<line x1="1368.4" y1="2283.2" x2="1375.5" y2="2283.2" stroke="#a000e8" stroke-width="1.8"/>
<rect x="1366.7" y="2292.7" width="10.5" height="46.8" fill="#a000e8"/>
<rect x="1365.7" y="2291.7" width="12.5" height="3" fill="#a000e8"/>
<line x1="1402.1" y1="2017.9" x2="1402.1" y2="2115" stroke="#0000ff" stroke-width="1.5"/>
<line x1="1398.5" y1="2017.9" x2="1405.7" y2="2017.9" stroke="#0000ff" stroke-width="1.8"/>
<rect x="1396.8" y="2115" width="10.5" height="224.5" fill="#0000ff"/>
<rect x="1395.8" y="2114" width="12.5" height="3" fill="#0000ff"/>
<line x1="1419.4" y1="2226.7" x2="1419.4" y2="2284.5" stroke="#ff0000" stroke-width="1.5"/>
<line x1="1415.8" y1="2226.7" x2="1423" y2="2226.7" stroke="#ff0000" stroke-width="1.8"/>
<rect x="1414.1" y="2284.5" width="10.5" height="55" fill="#ff0000"/>
<rect x="1413.1" y="2283.5" width="12.5" height="3" fill="#ff0000"/>
<line x1="1437.6" y1="2325.6" x2="1437.6" y2="2330.8" stroke="#00c000" stroke-width="1.5"/>
<line x1="1434" y1="2325.6" x2="1441.2" y2="2325.6" stroke="#00c000" stroke-width="1.8"/>
<rect x="1432.3" y="2330.8" width="10.5" height="8.7" fill="#00c000"/>
<rect x="1431.3" y="2329.8" width="12.5" height="3" fill="#00c000"/>
<rect x="1450.1" y="2339" width="10.5" height="0.5" fill="#a000e8"/>
<rect x="1449.1" y="2338" width="12.5" height="3" fill="#a000e8"/>
<line x1="888.4" y1="1952.2" x2="888.4" y2="2343.5" stroke="#000" stroke-width="3"/>
<line x1="886.9" y1="2340" x2="1470.1" y2="2340" stroke="#000" stroke-width="3"/>
<line x1="871.9" y1="2339.5" x2="888.4" y2="2339.5" stroke="#000" stroke-width="3"/>
<text x="864.5" y="2349.5" font-size="28.5" text-anchor="end">0.0</text>
<line x1="871.9" y1="2243.1" x2="888.4" y2="2243.1" stroke="#000" stroke-width="3"/>
<text x="864.5" y="2253.1" font-size="28.5" text-anchor="end">0.1</text>
<line x1="871.9" y1="2146.6" x2="888.4" y2="2146.6" stroke="#000" stroke-width="3"/>
<text x="864.5" y="2156.6" font-size="28.5" text-anchor="end">0.2</text>
<line x1="871.9" y1="2050.2" x2="888.4" y2="2050.2" stroke="#000" stroke-width="3"/>
<text x="864.5" y="2060.2" font-size="28.5" text-anchor="end">0.3</text>
<line x1="871.9" y1="1953.7" x2="888.4" y2="1953.7" stroke="#000" stroke-width="3"/>
<text x="864.5" y="1963.7" font-size="28.5" text-anchor="end">0.4</text>
<line x1="927.4" y1="2339.5" x2="927.4" y2="2356.5" stroke="#000" stroke-width="3"/>
<text x="0" y="0" font-size="28.5" text-anchor="end" transform="translate(939.9 2378) rotate(-45)">NEUROD1-1</text>
<line x1="1010.9" y1="2339.5" x2="1010.9" y2="2356.5" stroke="#000" stroke-width="3"/>
<text x="0" y="0" font-size="28.5" text-anchor="end" transform="translate(1023.4 2378) rotate(-45)">NEUROD1-2</text>
<line x1="1094.3" y1="2339.5" x2="1094.3" y2="2356.5" stroke="#000" stroke-width="3"/>
<text x="0" y="0" font-size="28.5" text-anchor="end" transform="translate(1106.8 2378) rotate(-45)">NEUROD1-3</text>
<line x1="1177.8" y1="2339.5" x2="1177.8" y2="2356.5" stroke="#000" stroke-width="3"/>
<text x="0" y="0" font-size="28.5" text-anchor="end" transform="translate(1190.2 2378) rotate(-45)">NEUROD1-4</text>
<line x1="1261.2" y1="2339.5" x2="1261.2" y2="2356.5" stroke="#000" stroke-width="3"/>
<text x="0" y="0" font-size="28.5" text-anchor="end" transform="translate(1273.7 2378) rotate(-45)">NEUROD1-5</text>
<line x1="1344.7" y1="2339.5" x2="1344.7" y2="2356.5" stroke="#000" stroke-width="3"/>
<text x="0" y="0" font-size="28.5" text-anchor="end" transform="translate(1357.2 2378) rotate(-45)">NEUROD1-6</text>
<line x1="1428.1" y1="2339.5" x2="1428.1" y2="2356.5" stroke="#000" stroke-width="3"/>
<text x="0" y="0" font-size="28.5" text-anchor="end" transform="translate(1440.6 2378) rotate(-45)">NEUROD1-7</text>
<text x="922" y="2006.2" font-size="28.5" text-anchor="middle">* **</text>
<text x="1005.9" y="2255.5" font-size="28.5" text-anchor="middle">* **</text>
<text x="1080.9" y="2132.8" font-size="28.5" text-anchor="middle">* **</text>
<text x="1156.7" y="2039.5" font-size="28.5" text-anchor="middle">ns</text>
<text x="1244.5" y="2135" font-size="28.5" text-anchor="middle">**</text>
<text x="1330.6" y="2036.5" font-size="28.5" text-anchor="middle">***</text>
<text x="1415.3" y="1988" font-size="28.5" text-anchor="middle">***</text>
<text x="1166.9" y="1936.4" font-size="28.5" text-anchor="middle">D458</text>
<text x="0" y="0" font-size="28.5" text-anchor="middle" transform="translate(50.1 2160.7) rotate(-90)">Input(%)</text>
<rect x="1556.6" y="1970.6" width="41.1" height="20" fill="#0000ff"/>
<text x="1621.6" y="1990.5" font-size="28.5">DMSO anti-SSRP1</text>
<rect x="1556.6" y="2022.9" width="41.1" height="20" fill="#ff0000"/>
<text x="1621.6" y="2042.8" font-size="28.5">CBL0137 anti-SSRP1</text>
<rect x="1556.6" y="2075.2" width="41.1" height="20" fill="#00c000"/>
<text x="1621.6" y="2095.1" font-size="28.5">DMSO IgG</text>
<rect x="1556.6" y="2127.5" width="41.1" height="20" fill="#a000e8"/>
<text x="1621.6" y="2147.4" font-size="28.5">CBL0137 IgG</text>
</svg>
</body></html>
